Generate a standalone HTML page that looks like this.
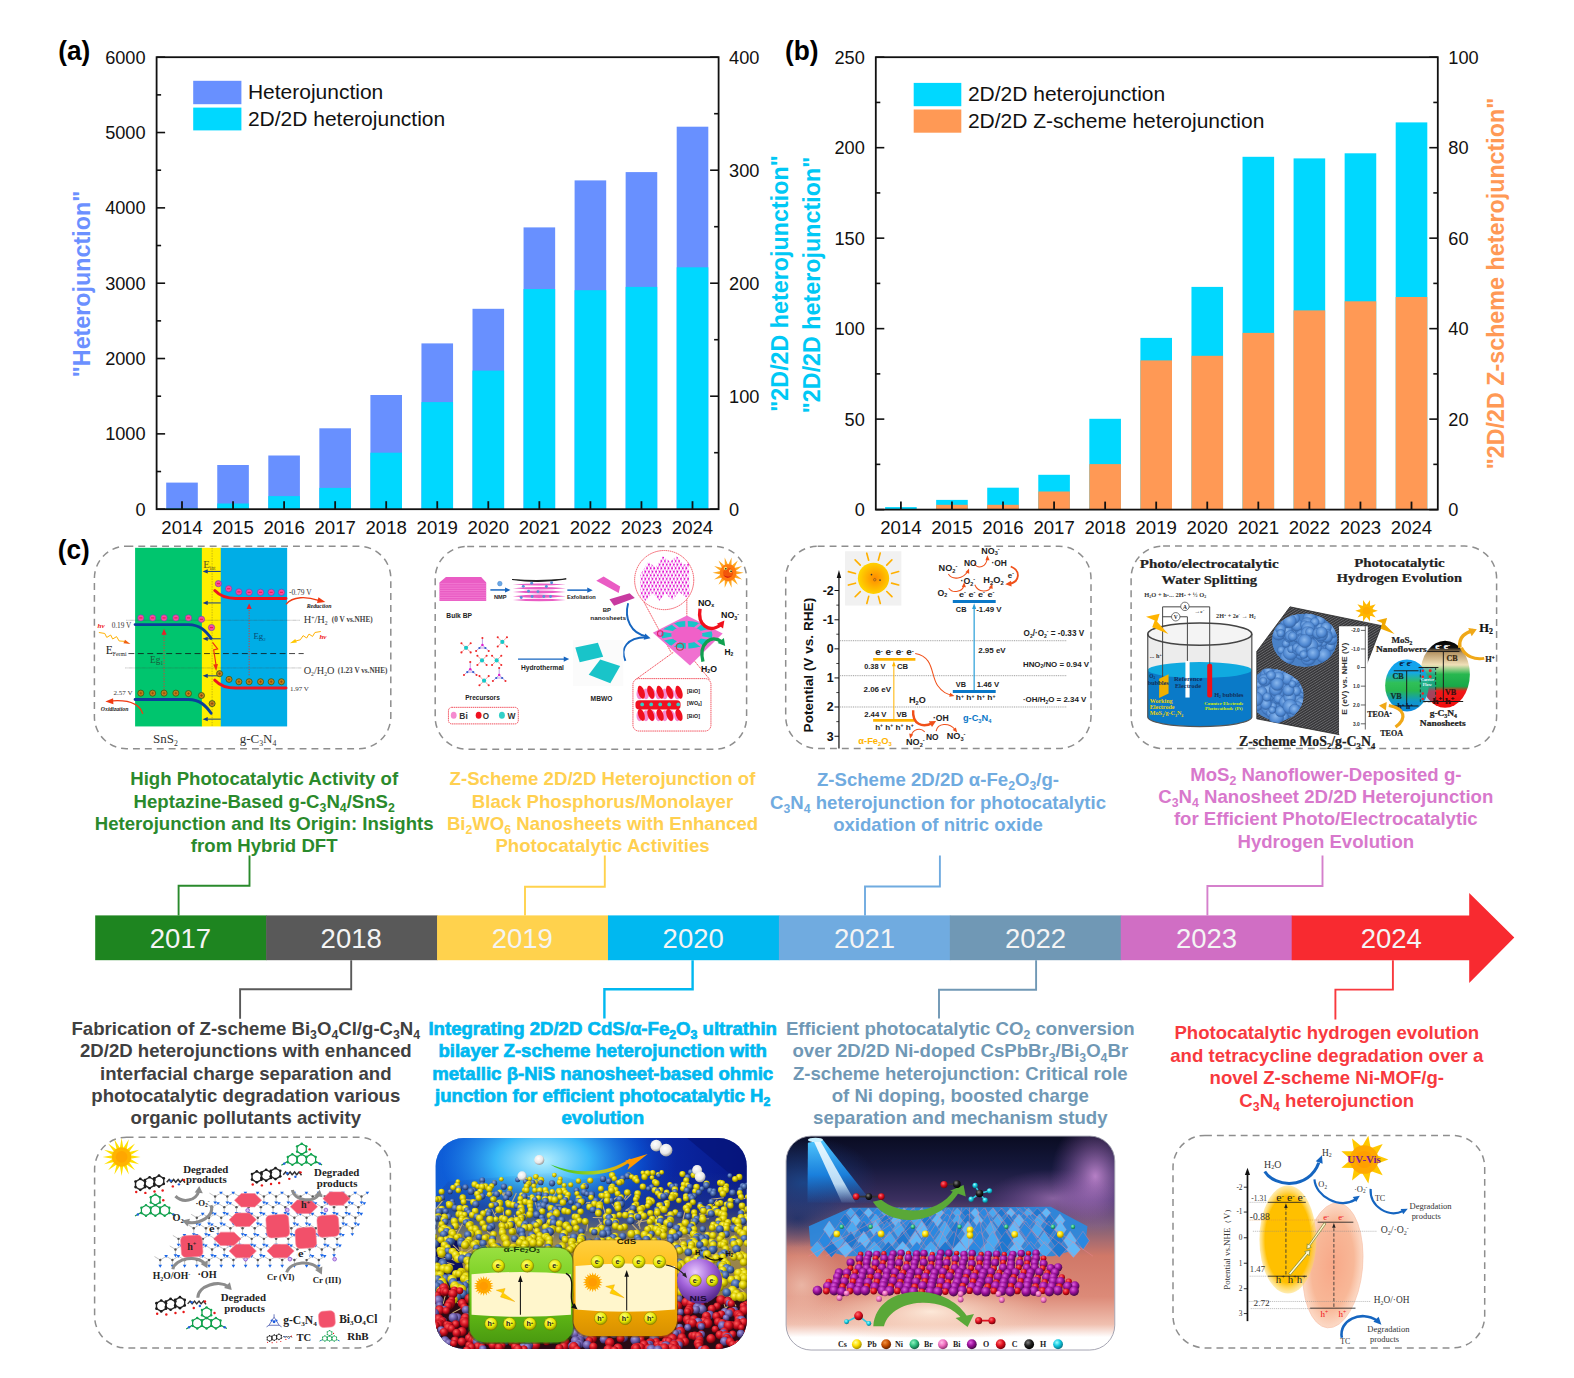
<!DOCTYPE html>
<html lang="en">
<head>
<meta charset="utf-8">
<title>2D/2D Z-scheme heterojunction timeline</title>
<style>
html,body{margin:0;padding:0;background:#fff;}
body{width:1574px;height:1378px;overflow:hidden;font-family:"Liberation Sans",Arial,sans-serif;}
svg{display:block;font-family:"Liberation Sans",Arial,sans-serif;}
.sf{font-family:"Liberation Serif","Times New Roman",serif;}
</style>
</head>
<body>
<svg width="1574" height="1378" viewBox="0 0 1574 1378">
<rect width="1574" height="1378" fill="#fff"/>
<rect x="166.2" y="482.6" width="31.6" height="26.6" fill="#6890ff"/>
<rect x="217.25" y="465" width="31.6" height="44.2" fill="#6890ff"/>
<rect x="268.3" y="455.5" width="31.6" height="53.7" fill="#6890ff"/>
<rect x="319.35" y="428.3" width="31.6" height="80.9" fill="#6890ff"/>
<rect x="370.4" y="395" width="31.6" height="114.2" fill="#6890ff"/>
<rect x="421.45" y="343.4" width="31.6" height="165.8" fill="#6890ff"/>
<rect x="472.5" y="308.8" width="31.6" height="200.4" fill="#6890ff"/>
<rect x="523.55" y="227.4" width="31.6" height="281.8" fill="#6890ff"/>
<rect x="574.6" y="180.4" width="31.6" height="328.8" fill="#6890ff"/>
<rect x="625.65" y="172.1" width="31.6" height="337.1" fill="#6890ff"/>
<rect x="676.7" y="126.7" width="31.6" height="382.5" fill="#6890ff"/>
<rect x="166.2" y="508.3" width="31.6" height="0.9" fill="#00d8ff"/>
<rect x="217.25" y="503.5" width="31.6" height="5.7" fill="#00d8ff"/>
<rect x="268.3" y="496.1" width="31.6" height="13.1" fill="#00d8ff"/>
<rect x="319.35" y="487.9" width="31.6" height="21.3" fill="#00d8ff"/>
<rect x="370.4" y="452.7" width="31.6" height="56.5" fill="#00d8ff"/>
<rect x="421.45" y="402.1" width="31.6" height="107.1" fill="#00d8ff"/>
<rect x="472.5" y="370.6" width="31.6" height="138.6" fill="#00d8ff"/>
<rect x="523.55" y="289" width="31.6" height="220.2" fill="#00d8ff"/>
<rect x="574.6" y="290.2" width="31.6" height="219" fill="#00d8ff"/>
<rect x="625.65" y="286.9" width="31.6" height="222.3" fill="#00d8ff"/>
<rect x="676.7" y="267.3" width="31.6" height="241.9" fill="#00d8ff"/>
<rect x="156.6" y="57.2" width="562" height="452" fill="none" stroke="#111" stroke-width="1.8"/>
<line x1="182" y1="509.2" x2="182" y2="501.2" stroke="#111" stroke-width="1.8"/>
<line x1="233.05" y1="509.2" x2="233.05" y2="501.2" stroke="#111" stroke-width="1.8"/>
<line x1="284.1" y1="509.2" x2="284.1" y2="501.2" stroke="#111" stroke-width="1.8"/>
<line x1="335.15" y1="509.2" x2="335.15" y2="501.2" stroke="#111" stroke-width="1.8"/>
<line x1="386.2" y1="509.2" x2="386.2" y2="501.2" stroke="#111" stroke-width="1.8"/>
<line x1="437.25" y1="509.2" x2="437.25" y2="501.2" stroke="#111" stroke-width="1.8"/>
<line x1="488.3" y1="509.2" x2="488.3" y2="501.2" stroke="#111" stroke-width="1.8"/>
<line x1="539.35" y1="509.2" x2="539.35" y2="501.2" stroke="#111" stroke-width="1.8"/>
<line x1="590.4" y1="509.2" x2="590.4" y2="501.2" stroke="#111" stroke-width="1.8"/>
<line x1="641.45" y1="509.2" x2="641.45" y2="501.2" stroke="#111" stroke-width="1.8"/>
<line x1="692.5" y1="509.2" x2="692.5" y2="501.2" stroke="#111" stroke-width="1.8"/>
<line x1="156.6" y1="509.2" x2="165.1" y2="509.2" stroke="#111" stroke-width="1.6"/>
<line x1="156.6" y1="471.53" x2="161.1" y2="471.53" stroke="#111" stroke-width="1.6"/>
<line x1="156.6" y1="433.87" x2="165.1" y2="433.87" stroke="#111" stroke-width="1.6"/>
<line x1="156.6" y1="396.2" x2="161.1" y2="396.2" stroke="#111" stroke-width="1.6"/>
<line x1="156.6" y1="358.53" x2="165.1" y2="358.53" stroke="#111" stroke-width="1.6"/>
<line x1="156.6" y1="320.87" x2="161.1" y2="320.87" stroke="#111" stroke-width="1.6"/>
<line x1="156.6" y1="283.2" x2="165.1" y2="283.2" stroke="#111" stroke-width="1.6"/>
<line x1="156.6" y1="245.53" x2="161.1" y2="245.53" stroke="#111" stroke-width="1.6"/>
<line x1="156.6" y1="207.87" x2="165.1" y2="207.87" stroke="#111" stroke-width="1.6"/>
<line x1="156.6" y1="170.2" x2="161.1" y2="170.2" stroke="#111" stroke-width="1.6"/>
<line x1="156.6" y1="132.53" x2="165.1" y2="132.53" stroke="#111" stroke-width="1.6"/>
<line x1="156.6" y1="94.87" x2="161.1" y2="94.87" stroke="#111" stroke-width="1.6"/>
<line x1="156.6" y1="57.2" x2="165.1" y2="57.2" stroke="#111" stroke-width="1.6"/>
<line x1="718.6" y1="509.2" x2="710.1" y2="509.2" stroke="#111" stroke-width="1.6"/>
<line x1="718.6" y1="452.7" x2="714.1" y2="452.7" stroke="#111" stroke-width="1.6"/>
<line x1="718.6" y1="396.2" x2="710.1" y2="396.2" stroke="#111" stroke-width="1.6"/>
<line x1="718.6" y1="339.7" x2="714.1" y2="339.7" stroke="#111" stroke-width="1.6"/>
<line x1="718.6" y1="283.2" x2="710.1" y2="283.2" stroke="#111" stroke-width="1.6"/>
<line x1="718.6" y1="226.7" x2="714.1" y2="226.7" stroke="#111" stroke-width="1.6"/>
<line x1="718.6" y1="170.2" x2="710.1" y2="170.2" stroke="#111" stroke-width="1.6"/>
<line x1="718.6" y1="113.7" x2="714.1" y2="113.7" stroke="#111" stroke-width="1.6"/>
<line x1="718.6" y1="57.2" x2="710.1" y2="57.2" stroke="#111" stroke-width="1.6"/>
<text x="145.6" y="515.6" text-anchor="end" font-size="18.2" fill="#111">0</text>
<text x="145.6" y="440.27" text-anchor="end" font-size="18.2" fill="#111">1000</text>
<text x="145.6" y="364.93" text-anchor="end" font-size="18.2" fill="#111">2000</text>
<text x="145.6" y="289.6" text-anchor="end" font-size="18.2" fill="#111">3000</text>
<text x="145.6" y="214.27" text-anchor="end" font-size="18.2" fill="#111">4000</text>
<text x="145.6" y="138.93" text-anchor="end" font-size="18.2" fill="#111">5000</text>
<text x="145.6" y="63.6" text-anchor="end" font-size="18.2" fill="#111">6000</text>
<text x="729.1" y="515.6" font-size="18.2" fill="#111">0</text>
<text x="729.1" y="402.6" font-size="18.2" fill="#111">100</text>
<text x="729.1" y="289.6" font-size="18.2" fill="#111">200</text>
<text x="729.1" y="176.6" font-size="18.2" fill="#111">300</text>
<text x="729.1" y="63.6" font-size="18.2" fill="#111">400</text>
<text x="182" y="533.8" text-anchor="middle" font-size="18.6" fill="#111">2014</text>
<text x="233.05" y="533.8" text-anchor="middle" font-size="18.6" fill="#111">2015</text>
<text x="284.1" y="533.8" text-anchor="middle" font-size="18.6" fill="#111">2016</text>
<text x="335.15" y="533.8" text-anchor="middle" font-size="18.6" fill="#111">2017</text>
<text x="386.2" y="533.8" text-anchor="middle" font-size="18.6" fill="#111">2018</text>
<text x="437.25" y="533.8" text-anchor="middle" font-size="18.6" fill="#111">2019</text>
<text x="488.3" y="533.8" text-anchor="middle" font-size="18.6" fill="#111">2020</text>
<text x="539.35" y="533.8" text-anchor="middle" font-size="18.6" fill="#111">2021</text>
<text x="590.4" y="533.8" text-anchor="middle" font-size="18.6" fill="#111">2022</text>
<text x="641.45" y="533.8" text-anchor="middle" font-size="18.6" fill="#111">2023</text>
<text x="692.5" y="533.8" text-anchor="middle" font-size="18.6" fill="#111">2024</text>
<rect x="193.2" y="80.8" width="48.2" height="23.4" fill="#6890ff"/>
<text x="247.9" y="99.3" font-size="21" fill="#111">Heterojunction</text>
<rect x="193.2" y="107.6" width="48.2" height="22.8" fill="#00d8ff"/>
<text x="247.9" y="125.5" font-size="21" fill="#111">2D/2D heterojunction</text>
<rect x="885.1" y="507.1" width="31.6" height="2.5" fill="#00d8ff"/>
<rect x="936.16" y="499.9" width="31.6" height="9.7" fill="#00d8ff"/>
<rect x="987.22" y="487.7" width="31.6" height="21.9" fill="#00d8ff"/>
<rect x="1038.28" y="474.8" width="31.6" height="34.8" fill="#00d8ff"/>
<rect x="1089.34" y="418.8" width="31.6" height="90.8" fill="#00d8ff"/>
<rect x="1140.4" y="337.9" width="31.6" height="171.7" fill="#00d8ff"/>
<rect x="1191.46" y="286.9" width="31.6" height="222.7" fill="#00d8ff"/>
<rect x="1242.52" y="156.8" width="31.6" height="352.8" fill="#00d8ff"/>
<rect x="1293.58" y="158.4" width="31.6" height="351.2" fill="#00d8ff"/>
<rect x="1344.64" y="153.3" width="31.6" height="356.3" fill="#00d8ff"/>
<rect x="1395.7" y="122.4" width="31.6" height="387.2" fill="#00d8ff"/>
<rect x="936.16" y="504.8" width="31.6" height="4.8" fill="#ff9955"/>
<rect x="987.22" y="504.8" width="31.6" height="4.8" fill="#ff9955"/>
<rect x="1038.28" y="491.5" width="31.6" height="18.1" fill="#ff9955"/>
<rect x="1089.34" y="464.1" width="31.6" height="45.5" fill="#ff9955"/>
<rect x="1140.4" y="360.4" width="31.6" height="149.2" fill="#ff9955"/>
<rect x="1191.46" y="355.8" width="31.6" height="153.8" fill="#ff9955"/>
<rect x="1242.52" y="332.9" width="31.6" height="176.7" fill="#ff9955"/>
<rect x="1293.58" y="310.4" width="31.6" height="199.2" fill="#ff9955"/>
<rect x="1344.64" y="301.3" width="31.6" height="208.3" fill="#ff9955"/>
<rect x="1395.7" y="297" width="31.6" height="212.6" fill="#ff9955"/>
<rect x="875.8" y="57.2" width="562" height="452.4" fill="none" stroke="#111" stroke-width="1.8"/>
<line x1="900.9" y1="509.6" x2="900.9" y2="501.6" stroke="#111" stroke-width="1.8"/>
<line x1="951.96" y1="509.6" x2="951.96" y2="501.6" stroke="#111" stroke-width="1.8"/>
<line x1="1003.02" y1="509.6" x2="1003.02" y2="501.6" stroke="#111" stroke-width="1.8"/>
<line x1="1054.08" y1="509.6" x2="1054.08" y2="501.6" stroke="#111" stroke-width="1.8"/>
<line x1="1105.14" y1="509.6" x2="1105.14" y2="501.6" stroke="#111" stroke-width="1.8"/>
<line x1="1156.2" y1="509.6" x2="1156.2" y2="501.6" stroke="#111" stroke-width="1.8"/>
<line x1="1207.26" y1="509.6" x2="1207.26" y2="501.6" stroke="#111" stroke-width="1.8"/>
<line x1="1258.32" y1="509.6" x2="1258.32" y2="501.6" stroke="#111" stroke-width="1.8"/>
<line x1="1309.38" y1="509.6" x2="1309.38" y2="501.6" stroke="#111" stroke-width="1.8"/>
<line x1="1360.44" y1="509.6" x2="1360.44" y2="501.6" stroke="#111" stroke-width="1.8"/>
<line x1="1411.5" y1="509.6" x2="1411.5" y2="501.6" stroke="#111" stroke-width="1.8"/>
<line x1="875.8" y1="509.6" x2="884.3" y2="509.6" stroke="#111" stroke-width="1.6"/>
<line x1="875.8" y1="464.36" x2="880.3" y2="464.36" stroke="#111" stroke-width="1.6"/>
<line x1="875.8" y1="419.12" x2="884.3" y2="419.12" stroke="#111" stroke-width="1.6"/>
<line x1="875.8" y1="373.88" x2="880.3" y2="373.88" stroke="#111" stroke-width="1.6"/>
<line x1="875.8" y1="328.64" x2="884.3" y2="328.64" stroke="#111" stroke-width="1.6"/>
<line x1="875.8" y1="283.4" x2="880.3" y2="283.4" stroke="#111" stroke-width="1.6"/>
<line x1="875.8" y1="238.16" x2="884.3" y2="238.16" stroke="#111" stroke-width="1.6"/>
<line x1="875.8" y1="192.92" x2="880.3" y2="192.92" stroke="#111" stroke-width="1.6"/>
<line x1="875.8" y1="147.68" x2="884.3" y2="147.68" stroke="#111" stroke-width="1.6"/>
<line x1="875.8" y1="102.44" x2="880.3" y2="102.44" stroke="#111" stroke-width="1.6"/>
<line x1="875.8" y1="57.2" x2="884.3" y2="57.2" stroke="#111" stroke-width="1.6"/>
<line x1="1437.8" y1="509.6" x2="1429.3" y2="509.6" stroke="#111" stroke-width="1.6"/>
<line x1="1437.8" y1="464.36" x2="1433.3" y2="464.36" stroke="#111" stroke-width="1.6"/>
<line x1="1437.8" y1="419.12" x2="1429.3" y2="419.12" stroke="#111" stroke-width="1.6"/>
<line x1="1437.8" y1="373.88" x2="1433.3" y2="373.88" stroke="#111" stroke-width="1.6"/>
<line x1="1437.8" y1="328.64" x2="1429.3" y2="328.64" stroke="#111" stroke-width="1.6"/>
<line x1="1437.8" y1="283.4" x2="1433.3" y2="283.4" stroke="#111" stroke-width="1.6"/>
<line x1="1437.8" y1="238.16" x2="1429.3" y2="238.16" stroke="#111" stroke-width="1.6"/>
<line x1="1437.8" y1="192.92" x2="1433.3" y2="192.92" stroke="#111" stroke-width="1.6"/>
<line x1="1437.8" y1="147.68" x2="1429.3" y2="147.68" stroke="#111" stroke-width="1.6"/>
<line x1="1437.8" y1="102.44" x2="1433.3" y2="102.44" stroke="#111" stroke-width="1.6"/>
<line x1="1437.8" y1="57.2" x2="1429.3" y2="57.2" stroke="#111" stroke-width="1.6"/>
<text x="864.8" y="516" text-anchor="end" font-size="18.2" fill="#111">0</text>
<text x="864.8" y="425.52" text-anchor="end" font-size="18.2" fill="#111">50</text>
<text x="864.8" y="335.04" text-anchor="end" font-size="18.2" fill="#111">100</text>
<text x="864.8" y="244.56" text-anchor="end" font-size="18.2" fill="#111">150</text>
<text x="864.8" y="154.08" text-anchor="end" font-size="18.2" fill="#111">200</text>
<text x="864.8" y="63.6" text-anchor="end" font-size="18.2" fill="#111">250</text>
<text x="1448.3" y="516" font-size="18.2" fill="#111">0</text>
<text x="1448.3" y="425.52" font-size="18.2" fill="#111">20</text>
<text x="1448.3" y="335.04" font-size="18.2" fill="#111">40</text>
<text x="1448.3" y="244.56" font-size="18.2" fill="#111">60</text>
<text x="1448.3" y="154.08" font-size="18.2" fill="#111">80</text>
<text x="1448.3" y="63.6" font-size="18.2" fill="#111">100</text>
<text x="900.9" y="534.2" text-anchor="middle" font-size="18.6" fill="#111">2014</text>
<text x="951.96" y="534.2" text-anchor="middle" font-size="18.6" fill="#111">2015</text>
<text x="1003.02" y="534.2" text-anchor="middle" font-size="18.6" fill="#111">2016</text>
<text x="1054.08" y="534.2" text-anchor="middle" font-size="18.6" fill="#111">2017</text>
<text x="1105.14" y="534.2" text-anchor="middle" font-size="18.6" fill="#111">2018</text>
<text x="1156.2" y="534.2" text-anchor="middle" font-size="18.6" fill="#111">2019</text>
<text x="1207.26" y="534.2" text-anchor="middle" font-size="18.6" fill="#111">2020</text>
<text x="1258.32" y="534.2" text-anchor="middle" font-size="18.6" fill="#111">2021</text>
<text x="1309.38" y="534.2" text-anchor="middle" font-size="18.6" fill="#111">2022</text>
<text x="1360.44" y="534.2" text-anchor="middle" font-size="18.6" fill="#111">2023</text>
<text x="1411.5" y="534.2" text-anchor="middle" font-size="18.6" fill="#111">2024</text>
<rect x="913.7" y="82.9" width="47.6" height="23.3" fill="#00d8ff"/>
<text x="967.9" y="101.4" font-size="21" fill="#111">2D/2D heterojunction</text>
<rect x="913.7" y="109.5" width="47.6" height="23.2" fill="#ff9955"/>
<text x="967.9" y="128" font-size="21" fill="#111">2D/2D Z-scheme heterojunction</text>
<text x="58.2" y="60" font-size="27" font-weight="bold" fill="#000" textLength="32" lengthAdjust="spacingAndGlyphs">(a)</text>
<text x="785" y="60" font-size="27" font-weight="bold" fill="#000" textLength="33.6" lengthAdjust="spacingAndGlyphs">(b)</text>
<text x="57.8" y="558.6" font-size="27" font-weight="bold" fill="#000" textLength="32" lengthAdjust="spacingAndGlyphs">(c)</text>
<text transform="translate(89.5,284) rotate(-90)" text-anchor="middle" font-size="23.3" font-weight="bold" fill="#6b90ff">"Heterojunction"</text>
<text transform="translate(787.5,283.5) rotate(-90)" text-anchor="middle" font-size="23.3" font-weight="bold" fill="#00c8f5">"2D/2D heterojunction"</text>
<text transform="translate(819.5,285) rotate(-90)" text-anchor="middle" font-size="23.3" font-weight="bold" fill="#00c8f5">"2D/2D heterojunction"</text>
<text transform="translate(1503.5,283.5) rotate(-90)" text-anchor="middle" font-size="23.3" font-weight="bold" fill="#ff9955">"2D/2D Z-scheme heterojunction"</text>
<rect x="95.2" y="915.4" width="171.43" height="44.8" fill="#1e8520"/>
<rect x="266.13" y="915.4" width="171.43" height="44.8" fill="#595959"/>
<rect x="437.06" y="915.4" width="171.43" height="44.8" fill="#ffd24d"/>
<rect x="607.99" y="915.4" width="171.43" height="44.8" fill="#00b8f0"/>
<rect x="778.92" y="915.4" width="171.43" height="44.8" fill="#70abe0"/>
<rect x="949.85" y="915.4" width="171.43" height="44.8" fill="#7098b5"/>
<rect x="1120.78" y="915.4" width="171.43" height="44.8" fill="#d06ec4"/>
<polygon points="1291.71,915.4 1469.2,915.4 1469.2,893 1514.3,937.6 1469.2,983 1469.2,960.2 1291.71,960.2" fill="#f82a30"/>
<text x="180.4" y="948.3" text-anchor="middle" font-size="27.5" fill="#f4f4f4">2017</text>
<text x="351.2" y="948.3" text-anchor="middle" font-size="27.5" fill="#f4f4f4">2018</text>
<text x="522.3" y="948.3" text-anchor="middle" font-size="27.5" fill="#f4f4f4">2019</text>
<text x="693.2" y="948.3" text-anchor="middle" font-size="27.5" fill="#f4f4f4">2020</text>
<text x="864.5" y="948.3" text-anchor="middle" font-size="27.5" fill="#f4f4f4">2021</text>
<text x="1035.5" y="948.3" text-anchor="middle" font-size="27.5" fill="#f4f4f4">2022</text>
<text x="1206.5" y="948.3" text-anchor="middle" font-size="27.5" fill="#f4f4f4">2023</text>
<text x="1391.3" y="948.3" text-anchor="middle" font-size="27.5" fill="#f4f4f4">2024</text>
<path d="M178.6 915.4 V885.8 H249.5 V855.5" fill="none" stroke="#2a8a2c" stroke-width="1.9"/>
<path d="M525 915.4 V886.7 H604.8 V855.5" fill="none" stroke="#ffd24d" stroke-width="1.9"/>
<path d="M865 915.4 V886.5 H939.9 V855.5" fill="none" stroke="#70abe0" stroke-width="1.9"/>
<path d="M1207.4 915.4 V886 H1322.5 V855.5" fill="none" stroke="#d580cc" stroke-width="1.9"/>
<path d="M351.2 960.2 V989.2 H240.1 V1018.8" fill="none" stroke="#595959" stroke-width="1.9"/>
<path d="M692.6 960.2 V989.2 H604.4 V1018.6" fill="none" stroke="#00b8f0" stroke-width="2.4"/>
<path d="M1036.1 960.2 V989.7 H939 V1018.6" fill="none" stroke="#7098b5" stroke-width="1.9"/>
<path d="M1392.9 960.2 V989.6 H1335.4 V1019.6" fill="none" stroke="#f8393e" stroke-width="1.9"/>
<text x="264.2" y="785.1" text-anchor="middle" font-size="18.6" font-weight="bold" fill="#2a8a2c">High Photocatalytic Activity of</text>
<text x="264.2" y="807.6" text-anchor="middle" font-size="18.6" font-weight="bold" fill="#2a8a2c">Heptazine-Based g-C<tspan dy="4.2" font-size="12.3">3</tspan><tspan dy="-4.2" font-size="1">&#8203;</tspan>N<tspan dy="4.2" font-size="12.3">4</tspan><tspan dy="-4.2" font-size="1">&#8203;</tspan>/SnS<tspan dy="4.2" font-size="12.3">2</tspan><tspan dy="-4.2" font-size="1">&#8203;</tspan></text>
<text x="264.2" y="829.9" text-anchor="middle" font-size="18.6" font-weight="bold" fill="#2a8a2c">Heterojunction and Its Origin: Insights</text>
<text x="264.2" y="852.3" text-anchor="middle" font-size="18.6" font-weight="bold" fill="#2a8a2c">from Hybrid DFT</text>
<text x="602.5" y="785.1" text-anchor="middle" font-size="18.6" font-weight="bold" fill="#ffd050">Z-Scheme 2D/2D Heterojunction of</text>
<text x="602.5" y="807.6" text-anchor="middle" font-size="18.6" font-weight="bold" fill="#ffd050">Black Phosphorus/Monolayer</text>
<text x="602.5" y="829.9" text-anchor="middle" font-size="18.6" font-weight="bold" fill="#ffd050">Bi<tspan dy="4.2" font-size="12.3">2</tspan><tspan dy="-4.2" font-size="1">&#8203;</tspan>WO<tspan dy="4.2" font-size="12.3">6</tspan><tspan dy="-4.2" font-size="1">&#8203;</tspan> Nanosheets with Enhanced</text>
<text x="602.5" y="852.3" text-anchor="middle" font-size="18.6" font-weight="bold" fill="#ffd050">Photocatalytic Activities</text>
<text x="938" y="786.1" text-anchor="middle" font-size="18.6" font-weight="bold" fill="#70abe0">Z-Scheme 2D/2D α-Fe<tspan dy="4.2" font-size="12.3">2</tspan><tspan dy="-4.2" font-size="1">&#8203;</tspan>O<tspan dy="4.2" font-size="12.3">3</tspan><tspan dy="-4.2" font-size="1">&#8203;</tspan>/g-</text>
<text x="938" y="808.5" text-anchor="middle" font-size="18.6" font-weight="bold" fill="#70abe0">C<tspan dy="4.2" font-size="12.3">3</tspan><tspan dy="-4.2" font-size="1">&#8203;</tspan>N<tspan dy="4.2" font-size="12.3">4</tspan><tspan dy="-4.2" font-size="1">&#8203;</tspan> heterojunction for photocatalytic</text>
<text x="938" y="830.9" text-anchor="middle" font-size="18.6" font-weight="bold" fill="#70abe0">oxidation of nitric oxide</text>
<text x="1325.8" y="780.5" text-anchor="middle" font-size="18.6" font-weight="bold" fill="#d878cc">MoS<tspan dy="4.2" font-size="12.3">2</tspan><tspan dy="-4.2" font-size="1">&#8203;</tspan> Nanoflower-Deposited g-</text>
<text x="1325.8" y="802.9" text-anchor="middle" font-size="18.6" font-weight="bold" fill="#d878cc">C<tspan dy="4.2" font-size="12.3">3</tspan><tspan dy="-4.2" font-size="1">&#8203;</tspan>N<tspan dy="4.2" font-size="12.3">4</tspan><tspan dy="-4.2" font-size="1">&#8203;</tspan> Nanosheet 2D/2D Heterojunction</text>
<text x="1325.8" y="825.3" text-anchor="middle" font-size="18.6" font-weight="bold" fill="#d878cc">for Efficient Photo/Electrocatalytic</text>
<text x="1325.8" y="847.6" text-anchor="middle" font-size="18.6" font-weight="bold" fill="#d878cc">Hydrogen Evolution</text>
<text x="245.8" y="1034.8" text-anchor="middle" font-size="18.6" font-weight="bold" fill="#404040">Fabrication of Z-scheme Bi<tspan dy="4.2" font-size="12.3">3</tspan><tspan dy="-4.2" font-size="1">&#8203;</tspan>O<tspan dy="4.2" font-size="12.3">4</tspan><tspan dy="-4.2" font-size="1">&#8203;</tspan>Cl/g-C<tspan dy="4.2" font-size="12.3">3</tspan><tspan dy="-4.2" font-size="1">&#8203;</tspan>N<tspan dy="4.2" font-size="12.3">4</tspan><tspan dy="-4.2" font-size="1">&#8203;</tspan></text>
<text x="245.8" y="1057.2" text-anchor="middle" font-size="18.6" font-weight="bold" fill="#404040">2D/2D heterojunctions with enhanced</text>
<text x="245.8" y="1079.6" text-anchor="middle" font-size="18.6" font-weight="bold" fill="#404040">interfacial charge separation and</text>
<text x="245.8" y="1102" text-anchor="middle" font-size="18.6" font-weight="bold" fill="#404040">photocatalytic degradation various</text>
<text x="245.8" y="1124.4" text-anchor="middle" font-size="18.6" font-weight="bold" fill="#404040">organic pollutants activity</text>
<text x="602.7" y="1035" text-anchor="middle" font-size="18.6" font-weight="bold" fill="#00b8f0" stroke="#00b8f0" stroke-width="0.7">Integrating 2D/2D CdS/α-Fe<tspan dy="4.2" font-size="12.3">2</tspan><tspan dy="-4.2" font-size="1">&#8203;</tspan>O<tspan dy="4.2" font-size="12.3">3</tspan><tspan dy="-4.2" font-size="1">&#8203;</tspan> ultrathin</text>
<text x="602.7" y="1057.3" text-anchor="middle" font-size="18.6" font-weight="bold" fill="#00b8f0" stroke="#00b8f0" stroke-width="0.7">bilayer Z-scheme heterojunction with</text>
<text x="602.7" y="1079.5" text-anchor="middle" font-size="18.6" font-weight="bold" fill="#00b8f0" stroke="#00b8f0" stroke-width="0.7">metallic β-NiS nanosheet-based ohmic</text>
<text x="602.7" y="1101.7" text-anchor="middle" font-size="18.6" font-weight="bold" fill="#00b8f0" stroke="#00b8f0" stroke-width="0.7">junction for efficient photocatalytic H<tspan dy="4.2" font-size="12.3">2</tspan><tspan dy="-4.2" font-size="1">&#8203;</tspan></text>
<text x="602.7" y="1123.9" text-anchor="middle" font-size="18.6" font-weight="bold" fill="#00b8f0" stroke="#00b8f0" stroke-width="0.7">evolution</text>
<text x="960.3" y="1035" text-anchor="middle" font-size="18.6" font-weight="bold" fill="#7098b5">Efficient photocatalytic CO<tspan dy="4.2" font-size="12.3">2</tspan><tspan dy="-4.2" font-size="1">&#8203;</tspan> conversion</text>
<text x="960.3" y="1057.4" text-anchor="middle" font-size="18.6" font-weight="bold" fill="#7098b5">over 2D/2D Ni-doped CsPbBr<tspan dy="4.2" font-size="12.3">3</tspan><tspan dy="-4.2" font-size="1">&#8203;</tspan>/Bi<tspan dy="4.2" font-size="12.3">3</tspan><tspan dy="-4.2" font-size="1">&#8203;</tspan>O<tspan dy="4.2" font-size="12.3">4</tspan><tspan dy="-4.2" font-size="1">&#8203;</tspan>Br</text>
<text x="960.3" y="1079.5" text-anchor="middle" font-size="18.6" font-weight="bold" fill="#7098b5">Z-scheme heterojunction: Critical role</text>
<text x="960.3" y="1101.8" text-anchor="middle" font-size="18.6" font-weight="bold" fill="#7098b5">of Ni doping, boosted charge</text>
<text x="960.3" y="1123.9" text-anchor="middle" font-size="18.6" font-weight="bold" fill="#7098b5">separation and mechanism study</text>
<text x="1326.8" y="1039.4" text-anchor="middle" font-size="18.6" font-weight="bold" fill="#f8393e">Photocatalytic hydrogen evolution</text>
<text x="1326.8" y="1062" text-anchor="middle" font-size="18.6" font-weight="bold" fill="#f8393e">and tetracycline degradation over a</text>
<text x="1326.8" y="1084.4" text-anchor="middle" font-size="18.6" font-weight="bold" fill="#f8393e">novel Z-scheme Ni-MOF/g-</text>
<text x="1326.8" y="1106.6" text-anchor="middle" font-size="18.6" font-weight="bold" fill="#f8393e">C<tspan dy="4.2" font-size="12.3">3</tspan><tspan dy="-4.2" font-size="1">&#8203;</tspan>N<tspan dy="4.2" font-size="12.3">4</tspan><tspan dy="-4.2" font-size="1">&#8203;</tspan> heterojunction</text>
<rect x="94.4" y="546.2" width="296.4" height="202.5" rx="32" ry="32" fill="none" stroke="#8e8e8e" stroke-width="1.5" stroke-dasharray="6.9 5"/>
<g transform="translate(90,535) scale(0.19695)">
<rect x="229" y="65" width="340" height="907" fill="#00c56e"/>
<rect x="568" y="65" width="97" height="907" fill="#ffee00"/>
<rect x="664" y="65" width="337" height="907" fill="#00ade6"/>
<line x1="620" y1="65" x2="620" y2="972" stroke="#8a7a20" stroke-width="2.5" stroke-dasharray="7 6"/>
<line x1="185" y1="433" x2="1065" y2="433" stroke="#444" stroke-width="2.5" stroke-dasharray="3 3"/>
<line x1="180" y1="675" x2="1075" y2="675" stroke="#444" stroke-width="2.5" stroke-dasharray="3 3"/>
<line x1="195" y1="602" x2="1085" y2="602" stroke="#111" stroke-width="4" stroke-dasharray="30 18"/>
<line x1="376" y1="785" x2="376" y2="500" stroke="#e03a30" stroke-width="5" stroke-dasharray="6 7"/>
<polygon points="376,476 389,506 363,506" fill="#e8202a"/>
<line x1="808" y1="712" x2="808" y2="372" stroke="#e03a30" stroke-width="5" stroke-dasharray="6 7"/>
<polygon points="808,346 821,376 795,376" fill="#e8202a"/>
<path d="M229 455 H500 C560 455 590 490 615 525" fill="none" stroke="#0b3f9c" stroke-width="15" stroke-linecap="round"/>
<path d="M229 835 H500 C560 835 590 870 615 905" fill="none" stroke="#0b3f9c" stroke-width="15" stroke-linecap="round"/>
<path d="M634 282 C660 310 690 322 740 322 H995" fill="none" stroke="#ec1520" stroke-width="15" stroke-linecap="round"/>
<path d="M634 737 C660 765 690 777 740 777 H995" fill="none" stroke="#ec1520" stroke-width="15" stroke-linecap="round"/>
<line x1="664" y1="185" x2="595" y2="185" stroke="#123a8c" stroke-width="5"/>
<polygon points="572,185 598,174 598,196" fill="#123a8c"/>
<line x1="664" y1="345" x2="595" y2="345" stroke="#123a8c" stroke-width="5"/>
<polygon points="572,345 598,334 598,356" fill="#123a8c"/>
<line x1="664" y1="527" x2="595" y2="527" stroke="#123a8c" stroke-width="5"/>
<polygon points="572,527 598,516 598,538" fill="#123a8c"/>
<line x1="664" y1="715" x2="595" y2="715" stroke="#123a8c" stroke-width="5"/>
<polygon points="572,715 598,704 598,726" fill="#123a8c"/>
<line x1="664" y1="935" x2="595" y2="935" stroke="#123a8c" stroke-width="5"/>
<polygon points="572,935 598,924 598,946" fill="#123a8c"/>
<circle cx="258" cy="421" r="16" fill="#ff4a9a" stroke="#5a48b8" stroke-width="3"/>
<line x1="250" y1="421" x2="266" y2="421" stroke="#d01030" stroke-width="4"/>
<circle cx="318" cy="421" r="16" fill="#ff4a9a" stroke="#5a48b8" stroke-width="3"/>
<line x1="310" y1="421" x2="326" y2="421" stroke="#d01030" stroke-width="4"/>
<circle cx="376" cy="421" r="16" fill="#ff4a9a" stroke="#5a48b8" stroke-width="3"/>
<line x1="368" y1="421" x2="384" y2="421" stroke="#d01030" stroke-width="4"/>
<circle cx="436" cy="421" r="16" fill="#ff4a9a" stroke="#5a48b8" stroke-width="3"/>
<line x1="428" y1="421" x2="444" y2="421" stroke="#d01030" stroke-width="4"/>
<circle cx="500" cy="421" r="16" fill="#ff4a9a" stroke="#5a48b8" stroke-width="3"/>
<line x1="492" y1="421" x2="508" y2="421" stroke="#d01030" stroke-width="4"/>
<circle cx="566" cy="428" r="16" fill="#ff4a9a" stroke="#5a48b8" stroke-width="3"/>
<line x1="558" y1="428" x2="574" y2="428" stroke="#d01030" stroke-width="4"/>
<circle cx="617" cy="470" r="16" fill="#ff4a9a" stroke="#5a48b8" stroke-width="3"/>
<line x1="609" y1="470" x2="625" y2="470" stroke="#d01030" stroke-width="4"/>
<circle cx="652" cy="247" r="16" fill="#ff4a9a" stroke="#5a48b8" stroke-width="3"/>
<line x1="644" y1="247" x2="660" y2="247" stroke="#d01030" stroke-width="4"/>
<circle cx="704" cy="273" r="16" fill="#ff4a9a" stroke="#5a48b8" stroke-width="3"/>
<line x1="696" y1="273" x2="712" y2="273" stroke="#d01030" stroke-width="4"/>
<circle cx="756" cy="289" r="16" fill="#ff4a9a" stroke="#5a48b8" stroke-width="3"/>
<line x1="748" y1="289" x2="764" y2="289" stroke="#d01030" stroke-width="4"/>
<circle cx="808" cy="291" r="16" fill="#ff4a9a" stroke="#5a48b8" stroke-width="3"/>
<line x1="800" y1="291" x2="816" y2="291" stroke="#d01030" stroke-width="4"/>
<circle cx="866" cy="291" r="16" fill="#ff4a9a" stroke="#5a48b8" stroke-width="3"/>
<line x1="858" y1="291" x2="874" y2="291" stroke="#d01030" stroke-width="4"/>
<circle cx="920" cy="291" r="16" fill="#ff4a9a" stroke="#5a48b8" stroke-width="3"/>
<line x1="912" y1="291" x2="928" y2="291" stroke="#d01030" stroke-width="4"/>
<circle cx="972" cy="291" r="16" fill="#ff4a9a" stroke="#5a48b8" stroke-width="3"/>
<line x1="964" y1="291" x2="980" y2="291" stroke="#d01030" stroke-width="4"/>
<circle cx="258" cy="803" r="15.5" fill="#c8801a" stroke="#2f5a1a" stroke-width="4"/>
<path d="M251 803 h14 M258 796 v14" stroke="#7a3a08" stroke-width="3"/>
<circle cx="318" cy="803" r="15.5" fill="#c8801a" stroke="#2f5a1a" stroke-width="4"/>
<path d="M311 803 h14 M318 796 v14" stroke="#7a3a08" stroke-width="3"/>
<circle cx="376" cy="803" r="15.5" fill="#c8801a" stroke="#2f5a1a" stroke-width="4"/>
<path d="M369 803 h14 M376 796 v14" stroke="#7a3a08" stroke-width="3"/>
<circle cx="436" cy="803" r="15.5" fill="#c8801a" stroke="#2f5a1a" stroke-width="4"/>
<path d="M429 803 h14 M436 796 v14" stroke="#7a3a08" stroke-width="3"/>
<circle cx="500" cy="805" r="15.5" fill="#c8801a" stroke="#2f5a1a" stroke-width="4"/>
<path d="M493 805 h14 M500 798 v14" stroke="#7a3a08" stroke-width="3"/>
<circle cx="566" cy="815" r="15.5" fill="#c8801a" stroke="#2f5a1a" stroke-width="4"/>
<path d="M559 815 h14 M566 808 v14" stroke="#7a3a08" stroke-width="3"/>
<circle cx="620" cy="856" r="15.5" fill="#c8801a" stroke="#2f5a1a" stroke-width="4"/>
<path d="M613 856 h14 M620 849 v14" stroke="#7a3a08" stroke-width="3"/>
<circle cx="658" cy="704" r="15.5" fill="#c8801a" stroke="#2f5a1a" stroke-width="4"/>
<path d="M651 704 h14 M658 697 v14" stroke="#7a3a08" stroke-width="3"/>
<circle cx="706" cy="733" r="15.5" fill="#c8801a" stroke="#2f5a1a" stroke-width="4"/>
<path d="M699 733 h14 M706 726 v14" stroke="#7a3a08" stroke-width="3"/>
<circle cx="756" cy="745" r="15.5" fill="#c8801a" stroke="#2f5a1a" stroke-width="4"/>
<path d="M749 745 h14 M756 738 v14" stroke="#7a3a08" stroke-width="3"/>
<circle cx="808" cy="745" r="15.5" fill="#c8801a" stroke="#2f5a1a" stroke-width="4"/>
<path d="M801 745 h14 M808 738 v14" stroke="#7a3a08" stroke-width="3"/>
<circle cx="866" cy="745" r="15.5" fill="#c8801a" stroke="#2f5a1a" stroke-width="4"/>
<path d="M859 745 h14 M866 738 v14" stroke="#7a3a08" stroke-width="3"/>
<circle cx="920" cy="745" r="15.5" fill="#c8801a" stroke="#2f5a1a" stroke-width="4"/>
<path d="M913 745 h14 M920 738 v14" stroke="#7a3a08" stroke-width="3"/>
<circle cx="972" cy="745" r="15.5" fill="#c8801a" stroke="#2f5a1a" stroke-width="4"/>
<path d="M965 745 h14 M972 738 v14" stroke="#7a3a08" stroke-width="3"/>
<path d="M622 545 L648 578 L628 584 L640 660" fill="none" stroke="#f03010" stroke-width="6"/>
<polygon points="641,690 625.67,657.37 649.55,654.97" fill="#f03010"/>
<path d="M995 352 C1030 310 1100 312 1160 332" fill="none" stroke="#f03a12" stroke-width="7"/>
<polygon points="1195,340 1152.53,344.64 1159.95,315.57" fill="#f03a12"/>
<path d="M268 908 C250 850 180 838 115 842" fill="none" stroke="#f03a12" stroke-width="7"/>
<polygon points="78,846 117.2,829.02 118.7,858.98" fill="#f03a12"/>
<path d="M45 495 L75 500 L85 520 L105 508 L115 528 L135 516 L148 538 L175 540" fill="none" stroke="#ffb000" stroke-width="5"/>
<polygon points="205,554 169.79,549.97 177.58,531.55" fill="#f06010"/>
<path d="M1172 490 L1142 495 L1130 515 L1112 503 L1100 523 L1082 511 L1068 532 L1045 538" fill="none" stroke="#ffb000" stroke-width="5"/>
<polygon points="1015,550 1042.42,527.55 1050.21,545.97" fill="#ffc800"/>
<text x="575" y="168" font-size="54.45" fill="#5a5a20" class="sf" textLength="62" lengthAdjust="spacingAndGlyphs">E<tspan dy="0.3em" font-size="50%">int</tspan><tspan dy="-0.3em" font-size="50%">&#8203;</tspan></text>
<text x="1010" y="304" font-size="37.86" fill="#333" class="sf" textLength="115" lengthAdjust="spacingAndGlyphs">-0.79 V</text>
<text x="110" y="474" font-size="36.98" fill="#333" class="sf" textLength="100" lengthAdjust="spacingAndGlyphs">0.19 V</text>
<text x="120" y="814" font-size="35.5" fill="#333" class="sf" textLength="96" lengthAdjust="spacingAndGlyphs">2.57 V</text>
<text x="1015" y="794" font-size="35.5" fill="#333" class="sf" textLength="96" lengthAdjust="spacingAndGlyphs">1.97 V</text>
<text x="1085" y="448" font-size="52.87" fill="#333" class="sf" textLength="122" lengthAdjust="spacingAndGlyphs">H<tspan dy="-0.55em" font-size="55%">+</tspan><tspan dy="0.55em" font-size="55%">&#8203;</tspan>/H<tspan dy="0.3em" font-size="55%">2</tspan><tspan dy="-0.3em" font-size="55%">&#8203;</tspan></text>
<text x="1228" y="444" font-size="36.58" fill="#444" font-weight="bold" class="sf" textLength="207" lengthAdjust="spacingAndGlyphs">(0 V vs.NHE)</text>
<text x="1085" y="705" font-size="52.1" fill="#333" class="sf" textLength="156" lengthAdjust="spacingAndGlyphs">O<tspan dy="0.3em" font-size="55%">2</tspan><tspan dy="-0.3em" font-size="55%">&#8203;</tspan>/H<tspan dy="0.3em" font-size="55%">2</tspan><tspan dy="-0.3em" font-size="55%">&#8203;</tspan>O</text>
<text x="1258" y="700" font-size="36.48" fill="#444" font-weight="bold" class="sf" textLength="252" lengthAdjust="spacingAndGlyphs">(1.23 V vs.NHE)</text>
<text x="80" y="606" font-size="58.72" fill="#222" class="sf" textLength="106" lengthAdjust="spacingAndGlyphs">E<tspan dy="0.3em" font-size="50%">Fermi</tspan><tspan dy="-0.3em" font-size="50%">&#8203;</tspan></text>
<text x="305" y="652" font-size="47.62" fill="#1a5a3a" class="sf" textLength="66" lengthAdjust="spacingAndGlyphs">Eg<tspan dy="0.3em" font-size="55%">1</tspan><tspan dy="-0.3em" font-size="55%">&#8203;</tspan></text>
<text x="830" y="530" font-size="44.74" fill="#0a4a70" class="sf" textLength="62" lengthAdjust="spacingAndGlyphs">Eg<tspan dy="0.3em" font-size="55%">2</tspan><tspan dy="-0.3em" font-size="55%">&#8203;</tspan></text>
<text x="320" y="1058" font-size="65.89" fill="#333" class="sf" textLength="126" lengthAdjust="spacingAndGlyphs">SnS<tspan dy="0.3em" font-size="60%">2</tspan><tspan dy="-0.3em" font-size="60%">&#8203;</tspan></text>
<text x="760" y="1058" font-size="65.91" fill="#333" class="sf" textLength="186" lengthAdjust="spacingAndGlyphs">g-C<tspan dy="0.3em" font-size="60%">3</tspan><tspan dy="-0.3em" font-size="60%">&#8203;</tspan>N<tspan dy="0.3em" font-size="60%">4</tspan><tspan dy="-0.3em" font-size="60%">&#8203;</tspan></text>
<text x="38" y="474" font-size="36" fill="#f01818" font-weight="bold" font-style="italic" class="sf">hv</text>
<text x="1165" y="528" font-size="36" fill="#f01818" font-weight="bold" font-style="italic" class="sf">hv</text>
<text x="1100" y="372" font-size="28.71" fill="#222" font-weight="bold" font-style="italic" class="sf" textLength="126" lengthAdjust="spacingAndGlyphs">Reduction</text>
<text x="55" y="894" font-size="28" fill="#222" font-weight="bold" font-style="italic" class="sf" textLength="140" lengthAdjust="spacingAndGlyphs">Oxidization</text>
</g>
<rect x="435.2" y="546.4" width="311.4" height="202.9" rx="32" ry="32" fill="none" stroke="#8e8e8e" stroke-width="1.5" stroke-dasharray="6.9 5"/>
<g transform="translate(430,535) scale(0.20966)">
<polygon points="45,226 76,200 244,200 268,226 268,315 45,315" fill="#ea5cc4"/>
<line x1="45" y1="232" x2="268" y2="232" stroke="#f58ad8" stroke-width="3"/>
<line x1="45" y1="243" x2="268" y2="243" stroke="#f58ad8" stroke-width="3"/>
<line x1="45" y1="254" x2="268" y2="254" stroke="#f58ad8" stroke-width="3"/>
<line x1="45" y1="265" x2="268" y2="265" stroke="#f58ad8" stroke-width="3"/>
<line x1="45" y1="276" x2="268" y2="276" stroke="#f58ad8" stroke-width="3"/>
<line x1="45" y1="287" x2="268" y2="287" stroke="#f58ad8" stroke-width="3"/>
<line x1="45" y1="298" x2="268" y2="298" stroke="#f58ad8" stroke-width="3"/>
<line x1="45" y1="309" x2="268" y2="309" stroke="#f58ad8" stroke-width="3"/>
<text x="78" y="394" font-size="30" fill="#222" font-weight="bold" textLength="122" lengthAdjust="spacingAndGlyphs">Bulk BP</text>
<line x1="288" y1="262" x2="362" y2="262" stroke="#1565c0" stroke-width="7"/>
<polygon points="384,262 358,274 358,250" fill="#1565c0"/>
<circle cx="333" cy="232" r="11" fill="#6aa8e8" stroke="#3a78c0" stroke-width="2"/>
<text x="305" y="306" font-size="25" fill="#222" font-weight="bold" textLength="60" lengthAdjust="spacingAndGlyphs">NMP</text>
<path d="M392 212 Q520 232 650 210 Q520 222 392 212Z" fill="#222" stroke="#222" stroke-width="5"/>
<path d="M395 236 Q520 226 648 236 Q520 246 395 236Z" fill="#ea5cc4"/>
<path d="M395 254 Q520 242 648 254 Q520 266 395 254Z" fill="#ea5cc4"/>
<path d="M395 272 Q520 258 648 272 Q520 286 395 272Z" fill="#ea5cc4"/>
<path d="M395 292 Q520 276 648 292 Q520 308 395 292Z" fill="#ea5cc4"/>
<path d="M395 310 Q520 298 648 310 Q520 322 395 310Z" fill="#ea5cc4"/>
<circle cx="445" cy="245" r="7" fill="#5a90d8"/>
<circle cx="485" cy="230" r="7" fill="#5a90d8"/>
<circle cx="555" cy="246" r="7" fill="#5a90d8"/>
<circle cx="580" cy="228" r="7" fill="#5a90d8"/>
<circle cx="470" cy="268" r="7" fill="#5a90d8"/>
<circle cx="515" cy="270" r="7" fill="#5a90d8"/>
<circle cx="435" cy="298" r="7" fill="#5a90d8"/>
<circle cx="487" cy="293" r="7" fill="#5a90d8"/>
<circle cx="543" cy="293" r="7" fill="#5a90d8"/>
<circle cx="575" cy="293" r="7" fill="#5a90d8"/>
<line x1="655" y1="263" x2="752" y2="263" stroke="#1565c0" stroke-width="7"/>
<polygon points="776,263 750,275 750,251" fill="#1565c0"/>
<text x="653" y="306" font-size="27" fill="#222" font-weight="bold" textLength="138" lengthAdjust="spacingAndGlyphs">Exfoliation</text>
<polygon points="793,218 828,198 907,246 900,277" fill="#ea5cc4"/>
<polygon points="856,306 952,278 977,300 878,337" fill="#c83aa0"/>
<text x="824" y="368" font-size="28" fill="#222" font-weight="bold" textLength="40" lengthAdjust="spacingAndGlyphs">BP</text>
<text x="765" y="407" font-size="28" fill="#222" font-weight="bold" textLength="170" lengthAdjust="spacingAndGlyphs">nanosheets</text>
<path d="M1010 300 L1150 560 M1225 300 L1225 385 M1160 560 L980 690 M1215 545 L1335 690" fill="none" stroke="#f03040" stroke-width="4" stroke-dasharray="7 3"/>
<circle cx="1117" cy="215" r="141" fill="#fff" stroke="#f03040" stroke-width="4" stroke-dasharray="7 3"/>
<defs><clipPath id="c2l"><polygon points="1003.11,189.98 1041.18,127.68 1075.79,155.37 1110.4,101.38 1145.01,127.68 1176.16,101.38 1210.77,141.52 1235,134.6 1238.46,286.89 1217.69,297.27 1186.54,269.58 1155.39,313.19 1124.24,276.5 1093.09,313.19 1061.95,276.5 1027.34,313.19 1003.11,293.81"/></clipPath></defs>
<g clip-path="url(#c2l)">
<line x1="490" y1="90" x2="610" y2="330" stroke="#e838d8" stroke-width="2.4"/>
<line x1="610" y1="90" x2="490" y2="330" stroke="#e838d8" stroke-width="2.4"/>
<line x1="507" y1="90" x2="627" y2="330" stroke="#e838d8" stroke-width="2.4"/>
<line x1="627" y1="90" x2="507" y2="330" stroke="#e838d8" stroke-width="2.4"/>
<line x1="524" y1="90" x2="644" y2="330" stroke="#e838d8" stroke-width="2.4"/>
<line x1="644" y1="90" x2="524" y2="330" stroke="#e838d8" stroke-width="2.4"/>
<line x1="541" y1="90" x2="661" y2="330" stroke="#e838d8" stroke-width="2.4"/>
<line x1="661" y1="90" x2="541" y2="330" stroke="#e838d8" stroke-width="2.4"/>
<line x1="558" y1="90" x2="678" y2="330" stroke="#e838d8" stroke-width="2.4"/>
<line x1="678" y1="90" x2="558" y2="330" stroke="#e838d8" stroke-width="2.4"/>
<line x1="575" y1="90" x2="695" y2="330" stroke="#e838d8" stroke-width="2.4"/>
<line x1="695" y1="90" x2="575" y2="330" stroke="#e838d8" stroke-width="2.4"/>
<line x1="592" y1="90" x2="712" y2="330" stroke="#e838d8" stroke-width="2.4"/>
<line x1="712" y1="90" x2="592" y2="330" stroke="#e838d8" stroke-width="2.4"/>
<line x1="609" y1="90" x2="729" y2="330" stroke="#e838d8" stroke-width="2.4"/>
<line x1="729" y1="90" x2="609" y2="330" stroke="#e838d8" stroke-width="2.4"/>
<line x1="626" y1="90" x2="746" y2="330" stroke="#e838d8" stroke-width="2.4"/>
<line x1="746" y1="90" x2="626" y2="330" stroke="#e838d8" stroke-width="2.4"/>
<line x1="643" y1="90" x2="763" y2="330" stroke="#e838d8" stroke-width="2.4"/>
<line x1="763" y1="90" x2="643" y2="330" stroke="#e838d8" stroke-width="2.4"/>
<line x1="660" y1="90" x2="780" y2="330" stroke="#e838d8" stroke-width="2.4"/>
<line x1="780" y1="90" x2="660" y2="330" stroke="#e838d8" stroke-width="2.4"/>
<line x1="677" y1="90" x2="797" y2="330" stroke="#e838d8" stroke-width="2.4"/>
<line x1="797" y1="90" x2="677" y2="330" stroke="#e838d8" stroke-width="2.4"/>
<line x1="694" y1="90" x2="814" y2="330" stroke="#e838d8" stroke-width="2.4"/>
<line x1="814" y1="90" x2="694" y2="330" stroke="#e838d8" stroke-width="2.4"/>
<line x1="711" y1="90" x2="831" y2="330" stroke="#e838d8" stroke-width="2.4"/>
<line x1="831" y1="90" x2="711" y2="330" stroke="#e838d8" stroke-width="2.4"/>
<line x1="728" y1="90" x2="848" y2="330" stroke="#e838d8" stroke-width="2.4"/>
<line x1="848" y1="90" x2="728" y2="330" stroke="#e838d8" stroke-width="2.4"/>
<line x1="745" y1="90" x2="865" y2="330" stroke="#e838d8" stroke-width="2.4"/>
<line x1="865" y1="90" x2="745" y2="330" stroke="#e838d8" stroke-width="2.4"/>
<line x1="762" y1="90" x2="882" y2="330" stroke="#e838d8" stroke-width="2.4"/>
<line x1="882" y1="90" x2="762" y2="330" stroke="#e838d8" stroke-width="2.4"/>
<line x1="779" y1="90" x2="899" y2="330" stroke="#e838d8" stroke-width="2.4"/>
<line x1="899" y1="90" x2="779" y2="330" stroke="#e838d8" stroke-width="2.4"/>
<line x1="796" y1="90" x2="916" y2="330" stroke="#e838d8" stroke-width="2.4"/>
<line x1="916" y1="90" x2="796" y2="330" stroke="#e838d8" stroke-width="2.4"/>
<line x1="813" y1="90" x2="933" y2="330" stroke="#e838d8" stroke-width="2.4"/>
<line x1="933" y1="90" x2="813" y2="330" stroke="#e838d8" stroke-width="2.4"/>
<line x1="830" y1="90" x2="950" y2="330" stroke="#e838d8" stroke-width="2.4"/>
<line x1="950" y1="90" x2="830" y2="330" stroke="#e838d8" stroke-width="2.4"/>
<line x1="847" y1="90" x2="967" y2="330" stroke="#e838d8" stroke-width="2.4"/>
<line x1="967" y1="90" x2="847" y2="330" stroke="#e838d8" stroke-width="2.4"/>
<line x1="864" y1="90" x2="984" y2="330" stroke="#e838d8" stroke-width="2.4"/>
<line x1="984" y1="90" x2="864" y2="330" stroke="#e838d8" stroke-width="2.4"/>
<line x1="881" y1="90" x2="1001" y2="330" stroke="#e838d8" stroke-width="2.4"/>
<line x1="1001" y1="90" x2="881" y2="330" stroke="#e838d8" stroke-width="2.4"/>
<line x1="898" y1="90" x2="1018" y2="330" stroke="#e838d8" stroke-width="2.4"/>
<line x1="1018" y1="90" x2="898" y2="330" stroke="#e838d8" stroke-width="2.4"/>
<line x1="915" y1="90" x2="1035" y2="330" stroke="#e838d8" stroke-width="2.4"/>
<line x1="1035" y1="90" x2="915" y2="330" stroke="#e838d8" stroke-width="2.4"/>
<line x1="932" y1="90" x2="1052" y2="330" stroke="#e838d8" stroke-width="2.4"/>
<line x1="1052" y1="90" x2="932" y2="330" stroke="#e838d8" stroke-width="2.4"/>
<line x1="949" y1="90" x2="1069" y2="330" stroke="#e838d8" stroke-width="2.4"/>
<line x1="1069" y1="90" x2="949" y2="330" stroke="#e838d8" stroke-width="2.4"/>
<line x1="966" y1="90" x2="1086" y2="330" stroke="#e838d8" stroke-width="2.4"/>
<line x1="1086" y1="90" x2="966" y2="330" stroke="#e838d8" stroke-width="2.4"/>
<line x1="983" y1="90" x2="1103" y2="330" stroke="#e838d8" stroke-width="2.4"/>
<line x1="1103" y1="90" x2="983" y2="330" stroke="#e838d8" stroke-width="2.4"/>
<line x1="1000" y1="90" x2="1120" y2="330" stroke="#e838d8" stroke-width="2.4"/>
<line x1="1120" y1="90" x2="1000" y2="330" stroke="#e838d8" stroke-width="2.4"/>
<line x1="1017" y1="90" x2="1137" y2="330" stroke="#e838d8" stroke-width="2.4"/>
<line x1="1137" y1="90" x2="1017" y2="330" stroke="#e838d8" stroke-width="2.4"/>
<line x1="1034" y1="90" x2="1154" y2="330" stroke="#e838d8" stroke-width="2.4"/>
<line x1="1154" y1="90" x2="1034" y2="330" stroke="#e838d8" stroke-width="2.4"/>
<line x1="1051" y1="90" x2="1171" y2="330" stroke="#e838d8" stroke-width="2.4"/>
<line x1="1171" y1="90" x2="1051" y2="330" stroke="#e838d8" stroke-width="2.4"/>
<line x1="1068" y1="90" x2="1188" y2="330" stroke="#e838d8" stroke-width="2.4"/>
<line x1="1188" y1="90" x2="1068" y2="330" stroke="#e838d8" stroke-width="2.4"/>
<line x1="1085" y1="90" x2="1205" y2="330" stroke="#e838d8" stroke-width="2.4"/>
<line x1="1205" y1="90" x2="1085" y2="330" stroke="#e838d8" stroke-width="2.4"/>
<line x1="1102" y1="90" x2="1222" y2="330" stroke="#e838d8" stroke-width="2.4"/>
<line x1="1222" y1="90" x2="1102" y2="330" stroke="#e838d8" stroke-width="2.4"/>
<line x1="1119" y1="90" x2="1239" y2="330" stroke="#e838d8" stroke-width="2.4"/>
<line x1="1239" y1="90" x2="1119" y2="330" stroke="#e838d8" stroke-width="2.4"/>
<line x1="1136" y1="90" x2="1256" y2="330" stroke="#e838d8" stroke-width="2.4"/>
<line x1="1256" y1="90" x2="1136" y2="330" stroke="#e838d8" stroke-width="2.4"/>
<line x1="1153" y1="90" x2="1273" y2="330" stroke="#e838d8" stroke-width="2.4"/>
<line x1="1273" y1="90" x2="1153" y2="330" stroke="#e838d8" stroke-width="2.4"/>
<line x1="1170" y1="90" x2="1290" y2="330" stroke="#e838d8" stroke-width="2.4"/>
<line x1="1290" y1="90" x2="1170" y2="330" stroke="#e838d8" stroke-width="2.4"/>
<line x1="1187" y1="90" x2="1307" y2="330" stroke="#e838d8" stroke-width="2.4"/>
<line x1="1307" y1="90" x2="1187" y2="330" stroke="#e838d8" stroke-width="2.4"/>
<line x1="1204" y1="90" x2="1324" y2="330" stroke="#e838d8" stroke-width="2.4"/>
<line x1="1324" y1="90" x2="1204" y2="330" stroke="#e838d8" stroke-width="2.4"/>
<line x1="1221" y1="90" x2="1341" y2="330" stroke="#e838d8" stroke-width="2.4"/>
<line x1="1341" y1="90" x2="1221" y2="330" stroke="#e838d8" stroke-width="2.4"/>
<line x1="1238" y1="90" x2="1358" y2="330" stroke="#e838d8" stroke-width="2.4"/>
<line x1="1358" y1="90" x2="1238" y2="330" stroke="#e838d8" stroke-width="2.4"/>
<line x1="1255" y1="90" x2="1375" y2="330" stroke="#e838d8" stroke-width="2.4"/>
<line x1="1375" y1="90" x2="1255" y2="330" stroke="#e838d8" stroke-width="2.4"/>
<line x1="1272" y1="90" x2="1392" y2="330" stroke="#e838d8" stroke-width="2.4"/>
<line x1="1392" y1="90" x2="1272" y2="330" stroke="#e838d8" stroke-width="2.4"/>
<line x1="1289" y1="90" x2="1409" y2="330" stroke="#e838d8" stroke-width="2.4"/>
<line x1="1409" y1="90" x2="1289" y2="330" stroke="#e838d8" stroke-width="2.4"/>
<line x1="1306" y1="90" x2="1426" y2="330" stroke="#e838d8" stroke-width="2.4"/>
<line x1="1426" y1="90" x2="1306" y2="330" stroke="#e838d8" stroke-width="2.4"/>
<line x1="1323" y1="90" x2="1443" y2="330" stroke="#e838d8" stroke-width="2.4"/>
<line x1="1443" y1="90" x2="1323" y2="330" stroke="#e838d8" stroke-width="2.4"/>
<line x1="1340" y1="90" x2="1460" y2="330" stroke="#e838d8" stroke-width="2.4"/>
<line x1="1460" y1="90" x2="1340" y2="330" stroke="#e838d8" stroke-width="2.4"/>
<line x1="1357" y1="90" x2="1477" y2="330" stroke="#e838d8" stroke-width="2.4"/>
<line x1="1477" y1="90" x2="1357" y2="330" stroke="#e838d8" stroke-width="2.4"/>
<line x1="1374" y1="90" x2="1494" y2="330" stroke="#e838d8" stroke-width="2.4"/>
<line x1="1494" y1="90" x2="1374" y2="330" stroke="#e838d8" stroke-width="2.4"/>
<line x1="1391" y1="90" x2="1511" y2="330" stroke="#e838d8" stroke-width="2.4"/>
<line x1="1511" y1="90" x2="1391" y2="330" stroke="#e838d8" stroke-width="2.4"/>
<line x1="1408" y1="90" x2="1528" y2="330" stroke="#e838d8" stroke-width="2.4"/>
<line x1="1528" y1="90" x2="1408" y2="330" stroke="#e838d8" stroke-width="2.4"/>
<line x1="1425" y1="90" x2="1545" y2="330" stroke="#e838d8" stroke-width="2.4"/>
<line x1="1545" y1="90" x2="1425" y2="330" stroke="#e838d8" stroke-width="2.4"/>
<line x1="1442" y1="90" x2="1562" y2="330" stroke="#e838d8" stroke-width="2.4"/>
<line x1="1562" y1="90" x2="1442" y2="330" stroke="#e838d8" stroke-width="2.4"/>
<line x1="1459" y1="90" x2="1579" y2="330" stroke="#e838d8" stroke-width="2.4"/>
<line x1="1579" y1="90" x2="1459" y2="330" stroke="#e838d8" stroke-width="2.4"/>
<line x1="1476" y1="90" x2="1596" y2="330" stroke="#e838d8" stroke-width="2.4"/>
<line x1="1596" y1="90" x2="1476" y2="330" stroke="#e838d8" stroke-width="2.4"/>
<line x1="1493" y1="90" x2="1613" y2="330" stroke="#e838d8" stroke-width="2.4"/>
<line x1="1613" y1="90" x2="1493" y2="330" stroke="#e838d8" stroke-width="2.4"/>
<line x1="1510" y1="90" x2="1630" y2="330" stroke="#e838d8" stroke-width="2.4"/>
<line x1="1630" y1="90" x2="1510" y2="330" stroke="#e838d8" stroke-width="2.4"/>
<line x1="1527" y1="90" x2="1647" y2="330" stroke="#e838d8" stroke-width="2.4"/>
<line x1="1647" y1="90" x2="1527" y2="330" stroke="#e838d8" stroke-width="2.4"/>
<line x1="1544" y1="90" x2="1664" y2="330" stroke="#e838d8" stroke-width="2.4"/>
<line x1="1664" y1="90" x2="1544" y2="330" stroke="#e838d8" stroke-width="2.4"/>
<line x1="1561" y1="90" x2="1681" y2="330" stroke="#e838d8" stroke-width="2.4"/>
<line x1="1681" y1="90" x2="1561" y2="330" stroke="#e838d8" stroke-width="2.4"/>
<line x1="1578" y1="90" x2="1698" y2="330" stroke="#e838d8" stroke-width="2.4"/>
<line x1="1698" y1="90" x2="1578" y2="330" stroke="#e838d8" stroke-width="2.4"/>
<line x1="1595" y1="90" x2="1715" y2="330" stroke="#e838d8" stroke-width="2.4"/>
<line x1="1715" y1="90" x2="1595" y2="330" stroke="#e838d8" stroke-width="2.4"/>
<line x1="1612" y1="90" x2="1732" y2="330" stroke="#e838d8" stroke-width="2.4"/>
<line x1="1732" y1="90" x2="1612" y2="330" stroke="#e838d8" stroke-width="2.4"/>
<line x1="1629" y1="90" x2="1749" y2="330" stroke="#e838d8" stroke-width="2.4"/>
<line x1="1749" y1="90" x2="1629" y2="330" stroke="#e838d8" stroke-width="2.4"/>
<line x1="1646" y1="90" x2="1766" y2="330" stroke="#e838d8" stroke-width="2.4"/>
<line x1="1766" y1="90" x2="1646" y2="330" stroke="#e838d8" stroke-width="2.4"/>
<line x1="1663" y1="90" x2="1783" y2="330" stroke="#e838d8" stroke-width="2.4"/>
<line x1="1783" y1="90" x2="1663" y2="330" stroke="#e838d8" stroke-width="2.4"/>
<circle cx="900" cy="90" r="4" fill="#e010d0"/>
<circle cx="908.5" cy="107" r="4" fill="#e010d0"/>
<circle cx="900" cy="124" r="4" fill="#e010d0"/>
<circle cx="908.5" cy="141" r="4" fill="#e010d0"/>
<circle cx="900" cy="158" r="4" fill="#e010d0"/>
<circle cx="908.5" cy="175" r="4" fill="#e010d0"/>
<circle cx="900" cy="192" r="4" fill="#e010d0"/>
<circle cx="908.5" cy="209" r="4" fill="#e010d0"/>
<circle cx="900" cy="226" r="4" fill="#e010d0"/>
<circle cx="908.5" cy="243" r="4" fill="#e010d0"/>
<circle cx="900" cy="260" r="4" fill="#e010d0"/>
<circle cx="908.5" cy="277" r="4" fill="#e010d0"/>
<circle cx="900" cy="294" r="4" fill="#e010d0"/>
<circle cx="908.5" cy="311" r="4" fill="#e010d0"/>
<circle cx="900" cy="328" r="4" fill="#e010d0"/>
<circle cx="908.5" cy="345" r="4" fill="#e010d0"/>
<circle cx="900" cy="362" r="4" fill="#e010d0"/>
<circle cx="908.5" cy="379" r="4" fill="#e010d0"/>
<circle cx="917" cy="90" r="4" fill="#e010d0"/>
<circle cx="925.5" cy="107" r="4" fill="#e010d0"/>
<circle cx="917" cy="124" r="4" fill="#e010d0"/>
<circle cx="925.5" cy="141" r="4" fill="#e010d0"/>
<circle cx="917" cy="158" r="4" fill="#e010d0"/>
<circle cx="925.5" cy="175" r="4" fill="#e010d0"/>
<circle cx="917" cy="192" r="4" fill="#e010d0"/>
<circle cx="925.5" cy="209" r="4" fill="#e010d0"/>
<circle cx="917" cy="226" r="4" fill="#e010d0"/>
<circle cx="925.5" cy="243" r="4" fill="#e010d0"/>
<circle cx="917" cy="260" r="4" fill="#e010d0"/>
<circle cx="925.5" cy="277" r="4" fill="#e010d0"/>
<circle cx="917" cy="294" r="4" fill="#e010d0"/>
<circle cx="925.5" cy="311" r="4" fill="#e010d0"/>
<circle cx="917" cy="328" r="4" fill="#e010d0"/>
<circle cx="925.5" cy="345" r="4" fill="#e010d0"/>
<circle cx="917" cy="362" r="4" fill="#e010d0"/>
<circle cx="925.5" cy="379" r="4" fill="#e010d0"/>
<circle cx="934" cy="90" r="4" fill="#e010d0"/>
<circle cx="942.5" cy="107" r="4" fill="#e010d0"/>
<circle cx="934" cy="124" r="4" fill="#e010d0"/>
<circle cx="942.5" cy="141" r="4" fill="#e010d0"/>
<circle cx="934" cy="158" r="4" fill="#e010d0"/>
<circle cx="942.5" cy="175" r="4" fill="#e010d0"/>
<circle cx="934" cy="192" r="4" fill="#e010d0"/>
<circle cx="942.5" cy="209" r="4" fill="#e010d0"/>
<circle cx="934" cy="226" r="4" fill="#e010d0"/>
<circle cx="942.5" cy="243" r="4" fill="#e010d0"/>
<circle cx="934" cy="260" r="4" fill="#e010d0"/>
<circle cx="942.5" cy="277" r="4" fill="#e010d0"/>
<circle cx="934" cy="294" r="4" fill="#e010d0"/>
<circle cx="942.5" cy="311" r="4" fill="#e010d0"/>
<circle cx="934" cy="328" r="4" fill="#e010d0"/>
<circle cx="942.5" cy="345" r="4" fill="#e010d0"/>
<circle cx="934" cy="362" r="4" fill="#e010d0"/>
<circle cx="942.5" cy="379" r="4" fill="#e010d0"/>
<circle cx="951" cy="90" r="4" fill="#e010d0"/>
<circle cx="959.5" cy="107" r="4" fill="#e010d0"/>
<circle cx="951" cy="124" r="4" fill="#e010d0"/>
<circle cx="959.5" cy="141" r="4" fill="#e010d0"/>
<circle cx="951" cy="158" r="4" fill="#e010d0"/>
<circle cx="959.5" cy="175" r="4" fill="#e010d0"/>
<circle cx="951" cy="192" r="4" fill="#e010d0"/>
<circle cx="959.5" cy="209" r="4" fill="#e010d0"/>
<circle cx="951" cy="226" r="4" fill="#e010d0"/>
<circle cx="959.5" cy="243" r="4" fill="#e010d0"/>
<circle cx="951" cy="260" r="4" fill="#e010d0"/>
<circle cx="959.5" cy="277" r="4" fill="#e010d0"/>
<circle cx="951" cy="294" r="4" fill="#e010d0"/>
<circle cx="959.5" cy="311" r="4" fill="#e010d0"/>
<circle cx="951" cy="328" r="4" fill="#e010d0"/>
<circle cx="959.5" cy="345" r="4" fill="#e010d0"/>
<circle cx="951" cy="362" r="4" fill="#e010d0"/>
<circle cx="959.5" cy="379" r="4" fill="#e010d0"/>
<circle cx="968" cy="90" r="4" fill="#e010d0"/>
<circle cx="976.5" cy="107" r="4" fill="#e010d0"/>
<circle cx="968" cy="124" r="4" fill="#e010d0"/>
<circle cx="976.5" cy="141" r="4" fill="#e010d0"/>
<circle cx="968" cy="158" r="4" fill="#e010d0"/>
<circle cx="976.5" cy="175" r="4" fill="#e010d0"/>
<circle cx="968" cy="192" r="4" fill="#e010d0"/>
<circle cx="976.5" cy="209" r="4" fill="#e010d0"/>
<circle cx="968" cy="226" r="4" fill="#e010d0"/>
<circle cx="976.5" cy="243" r="4" fill="#e010d0"/>
<circle cx="968" cy="260" r="4" fill="#e010d0"/>
<circle cx="976.5" cy="277" r="4" fill="#e010d0"/>
<circle cx="968" cy="294" r="4" fill="#e010d0"/>
<circle cx="976.5" cy="311" r="4" fill="#e010d0"/>
<circle cx="968" cy="328" r="4" fill="#e010d0"/>
<circle cx="976.5" cy="345" r="4" fill="#e010d0"/>
<circle cx="968" cy="362" r="4" fill="#e010d0"/>
<circle cx="976.5" cy="379" r="4" fill="#e010d0"/>
<circle cx="985" cy="90" r="4" fill="#e010d0"/>
<circle cx="993.5" cy="107" r="4" fill="#e010d0"/>
<circle cx="985" cy="124" r="4" fill="#e010d0"/>
<circle cx="993.5" cy="141" r="4" fill="#e010d0"/>
<circle cx="985" cy="158" r="4" fill="#e010d0"/>
<circle cx="993.5" cy="175" r="4" fill="#e010d0"/>
<circle cx="985" cy="192" r="4" fill="#e010d0"/>
<circle cx="993.5" cy="209" r="4" fill="#e010d0"/>
<circle cx="985" cy="226" r="4" fill="#e010d0"/>
<circle cx="993.5" cy="243" r="4" fill="#e010d0"/>
<circle cx="985" cy="260" r="4" fill="#e010d0"/>
<circle cx="993.5" cy="277" r="4" fill="#e010d0"/>
<circle cx="985" cy="294" r="4" fill="#e010d0"/>
<circle cx="993.5" cy="311" r="4" fill="#e010d0"/>
<circle cx="985" cy="328" r="4" fill="#e010d0"/>
<circle cx="993.5" cy="345" r="4" fill="#e010d0"/>
<circle cx="985" cy="362" r="4" fill="#e010d0"/>
<circle cx="993.5" cy="379" r="4" fill="#e010d0"/>
<circle cx="1002" cy="90" r="4" fill="#e010d0"/>
<circle cx="1010.5" cy="107" r="4" fill="#e010d0"/>
<circle cx="1002" cy="124" r="4" fill="#e010d0"/>
<circle cx="1010.5" cy="141" r="4" fill="#e010d0"/>
<circle cx="1002" cy="158" r="4" fill="#e010d0"/>
<circle cx="1010.5" cy="175" r="4" fill="#e010d0"/>
<circle cx="1002" cy="192" r="4" fill="#e010d0"/>
<circle cx="1010.5" cy="209" r="4" fill="#e010d0"/>
<circle cx="1002" cy="226" r="4" fill="#e010d0"/>
<circle cx="1010.5" cy="243" r="4" fill="#e010d0"/>
<circle cx="1002" cy="260" r="4" fill="#e010d0"/>
<circle cx="1010.5" cy="277" r="4" fill="#e010d0"/>
<circle cx="1002" cy="294" r="4" fill="#e010d0"/>
<circle cx="1010.5" cy="311" r="4" fill="#e010d0"/>
<circle cx="1002" cy="328" r="4" fill="#e010d0"/>
<circle cx="1010.5" cy="345" r="4" fill="#e010d0"/>
<circle cx="1002" cy="362" r="4" fill="#e010d0"/>
<circle cx="1010.5" cy="379" r="4" fill="#e010d0"/>
<circle cx="1019" cy="90" r="4" fill="#e010d0"/>
<circle cx="1027.5" cy="107" r="4" fill="#e010d0"/>
<circle cx="1019" cy="124" r="4" fill="#e010d0"/>
<circle cx="1027.5" cy="141" r="4" fill="#e010d0"/>
<circle cx="1019" cy="158" r="4" fill="#e010d0"/>
<circle cx="1027.5" cy="175" r="4" fill="#e010d0"/>
<circle cx="1019" cy="192" r="4" fill="#e010d0"/>
<circle cx="1027.5" cy="209" r="4" fill="#e010d0"/>
<circle cx="1019" cy="226" r="4" fill="#e010d0"/>
<circle cx="1027.5" cy="243" r="4" fill="#e010d0"/>
<circle cx="1019" cy="260" r="4" fill="#e010d0"/>
<circle cx="1027.5" cy="277" r="4" fill="#e010d0"/>
<circle cx="1019" cy="294" r="4" fill="#e010d0"/>
<circle cx="1027.5" cy="311" r="4" fill="#e010d0"/>
<circle cx="1019" cy="328" r="4" fill="#e010d0"/>
<circle cx="1027.5" cy="345" r="4" fill="#e010d0"/>
<circle cx="1019" cy="362" r="4" fill="#e010d0"/>
<circle cx="1027.5" cy="379" r="4" fill="#e010d0"/>
<circle cx="1036" cy="90" r="4" fill="#e010d0"/>
<circle cx="1044.5" cy="107" r="4" fill="#e010d0"/>
<circle cx="1036" cy="124" r="4" fill="#e010d0"/>
<circle cx="1044.5" cy="141" r="4" fill="#e010d0"/>
<circle cx="1036" cy="158" r="4" fill="#e010d0"/>
<circle cx="1044.5" cy="175" r="4" fill="#e010d0"/>
<circle cx="1036" cy="192" r="4" fill="#e010d0"/>
<circle cx="1044.5" cy="209" r="4" fill="#e010d0"/>
<circle cx="1036" cy="226" r="4" fill="#e010d0"/>
<circle cx="1044.5" cy="243" r="4" fill="#e010d0"/>
<circle cx="1036" cy="260" r="4" fill="#e010d0"/>
<circle cx="1044.5" cy="277" r="4" fill="#e010d0"/>
<circle cx="1036" cy="294" r="4" fill="#e010d0"/>
<circle cx="1044.5" cy="311" r="4" fill="#e010d0"/>
<circle cx="1036" cy="328" r="4" fill="#e010d0"/>
<circle cx="1044.5" cy="345" r="4" fill="#e010d0"/>
<circle cx="1036" cy="362" r="4" fill="#e010d0"/>
<circle cx="1044.5" cy="379" r="4" fill="#e010d0"/>
<circle cx="1053" cy="90" r="4" fill="#e010d0"/>
<circle cx="1061.5" cy="107" r="4" fill="#e010d0"/>
<circle cx="1053" cy="124" r="4" fill="#e010d0"/>
<circle cx="1061.5" cy="141" r="4" fill="#e010d0"/>
<circle cx="1053" cy="158" r="4" fill="#e010d0"/>
<circle cx="1061.5" cy="175" r="4" fill="#e010d0"/>
<circle cx="1053" cy="192" r="4" fill="#e010d0"/>
<circle cx="1061.5" cy="209" r="4" fill="#e010d0"/>
<circle cx="1053" cy="226" r="4" fill="#e010d0"/>
<circle cx="1061.5" cy="243" r="4" fill="#e010d0"/>
<circle cx="1053" cy="260" r="4" fill="#e010d0"/>
<circle cx="1061.5" cy="277" r="4" fill="#e010d0"/>
<circle cx="1053" cy="294" r="4" fill="#e010d0"/>
<circle cx="1061.5" cy="311" r="4" fill="#e010d0"/>
<circle cx="1053" cy="328" r="4" fill="#e010d0"/>
<circle cx="1061.5" cy="345" r="4" fill="#e010d0"/>
<circle cx="1053" cy="362" r="4" fill="#e010d0"/>
<circle cx="1061.5" cy="379" r="4" fill="#e010d0"/>
<circle cx="1070" cy="90" r="4" fill="#e010d0"/>
<circle cx="1078.5" cy="107" r="4" fill="#e010d0"/>
<circle cx="1070" cy="124" r="4" fill="#e010d0"/>
<circle cx="1078.5" cy="141" r="4" fill="#e010d0"/>
<circle cx="1070" cy="158" r="4" fill="#e010d0"/>
<circle cx="1078.5" cy="175" r="4" fill="#e010d0"/>
<circle cx="1070" cy="192" r="4" fill="#e010d0"/>
<circle cx="1078.5" cy="209" r="4" fill="#e010d0"/>
<circle cx="1070" cy="226" r="4" fill="#e010d0"/>
<circle cx="1078.5" cy="243" r="4" fill="#e010d0"/>
<circle cx="1070" cy="260" r="4" fill="#e010d0"/>
<circle cx="1078.5" cy="277" r="4" fill="#e010d0"/>
<circle cx="1070" cy="294" r="4" fill="#e010d0"/>
<circle cx="1078.5" cy="311" r="4" fill="#e010d0"/>
<circle cx="1070" cy="328" r="4" fill="#e010d0"/>
<circle cx="1078.5" cy="345" r="4" fill="#e010d0"/>
<circle cx="1070" cy="362" r="4" fill="#e010d0"/>
<circle cx="1078.5" cy="379" r="4" fill="#e010d0"/>
<circle cx="1087" cy="90" r="4" fill="#e010d0"/>
<circle cx="1095.5" cy="107" r="4" fill="#e010d0"/>
<circle cx="1087" cy="124" r="4" fill="#e010d0"/>
<circle cx="1095.5" cy="141" r="4" fill="#e010d0"/>
<circle cx="1087" cy="158" r="4" fill="#e010d0"/>
<circle cx="1095.5" cy="175" r="4" fill="#e010d0"/>
<circle cx="1087" cy="192" r="4" fill="#e010d0"/>
<circle cx="1095.5" cy="209" r="4" fill="#e010d0"/>
<circle cx="1087" cy="226" r="4" fill="#e010d0"/>
<circle cx="1095.5" cy="243" r="4" fill="#e010d0"/>
<circle cx="1087" cy="260" r="4" fill="#e010d0"/>
<circle cx="1095.5" cy="277" r="4" fill="#e010d0"/>
<circle cx="1087" cy="294" r="4" fill="#e010d0"/>
<circle cx="1095.5" cy="311" r="4" fill="#e010d0"/>
<circle cx="1087" cy="328" r="4" fill="#e010d0"/>
<circle cx="1095.5" cy="345" r="4" fill="#e010d0"/>
<circle cx="1087" cy="362" r="4" fill="#e010d0"/>
<circle cx="1095.5" cy="379" r="4" fill="#e010d0"/>
<circle cx="1104" cy="90" r="4" fill="#e010d0"/>
<circle cx="1112.5" cy="107" r="4" fill="#e010d0"/>
<circle cx="1104" cy="124" r="4" fill="#e010d0"/>
<circle cx="1112.5" cy="141" r="4" fill="#e010d0"/>
<circle cx="1104" cy="158" r="4" fill="#e010d0"/>
<circle cx="1112.5" cy="175" r="4" fill="#e010d0"/>
<circle cx="1104" cy="192" r="4" fill="#e010d0"/>
<circle cx="1112.5" cy="209" r="4" fill="#e010d0"/>
<circle cx="1104" cy="226" r="4" fill="#e010d0"/>
<circle cx="1112.5" cy="243" r="4" fill="#e010d0"/>
<circle cx="1104" cy="260" r="4" fill="#e010d0"/>
<circle cx="1112.5" cy="277" r="4" fill="#e010d0"/>
<circle cx="1104" cy="294" r="4" fill="#e010d0"/>
<circle cx="1112.5" cy="311" r="4" fill="#e010d0"/>
<circle cx="1104" cy="328" r="4" fill="#e010d0"/>
<circle cx="1112.5" cy="345" r="4" fill="#e010d0"/>
<circle cx="1104" cy="362" r="4" fill="#e010d0"/>
<circle cx="1112.5" cy="379" r="4" fill="#e010d0"/>
<circle cx="1121" cy="90" r="4" fill="#e010d0"/>
<circle cx="1129.5" cy="107" r="4" fill="#e010d0"/>
<circle cx="1121" cy="124" r="4" fill="#e010d0"/>
<circle cx="1129.5" cy="141" r="4" fill="#e010d0"/>
<circle cx="1121" cy="158" r="4" fill="#e010d0"/>
<circle cx="1129.5" cy="175" r="4" fill="#e010d0"/>
<circle cx="1121" cy="192" r="4" fill="#e010d0"/>
<circle cx="1129.5" cy="209" r="4" fill="#e010d0"/>
<circle cx="1121" cy="226" r="4" fill="#e010d0"/>
<circle cx="1129.5" cy="243" r="4" fill="#e010d0"/>
<circle cx="1121" cy="260" r="4" fill="#e010d0"/>
<circle cx="1129.5" cy="277" r="4" fill="#e010d0"/>
<circle cx="1121" cy="294" r="4" fill="#e010d0"/>
<circle cx="1129.5" cy="311" r="4" fill="#e010d0"/>
<circle cx="1121" cy="328" r="4" fill="#e010d0"/>
<circle cx="1129.5" cy="345" r="4" fill="#e010d0"/>
<circle cx="1121" cy="362" r="4" fill="#e010d0"/>
<circle cx="1129.5" cy="379" r="4" fill="#e010d0"/>
<circle cx="1138" cy="90" r="4" fill="#e010d0"/>
<circle cx="1146.5" cy="107" r="4" fill="#e010d0"/>
<circle cx="1138" cy="124" r="4" fill="#e010d0"/>
<circle cx="1146.5" cy="141" r="4" fill="#e010d0"/>
<circle cx="1138" cy="158" r="4" fill="#e010d0"/>
<circle cx="1146.5" cy="175" r="4" fill="#e010d0"/>
<circle cx="1138" cy="192" r="4" fill="#e010d0"/>
<circle cx="1146.5" cy="209" r="4" fill="#e010d0"/>
<circle cx="1138" cy="226" r="4" fill="#e010d0"/>
<circle cx="1146.5" cy="243" r="4" fill="#e010d0"/>
<circle cx="1138" cy="260" r="4" fill="#e010d0"/>
<circle cx="1146.5" cy="277" r="4" fill="#e010d0"/>
<circle cx="1138" cy="294" r="4" fill="#e010d0"/>
<circle cx="1146.5" cy="311" r="4" fill="#e010d0"/>
<circle cx="1138" cy="328" r="4" fill="#e010d0"/>
<circle cx="1146.5" cy="345" r="4" fill="#e010d0"/>
<circle cx="1138" cy="362" r="4" fill="#e010d0"/>
<circle cx="1146.5" cy="379" r="4" fill="#e010d0"/>
<circle cx="1155" cy="90" r="4" fill="#e010d0"/>
<circle cx="1163.5" cy="107" r="4" fill="#e010d0"/>
<circle cx="1155" cy="124" r="4" fill="#e010d0"/>
<circle cx="1163.5" cy="141" r="4" fill="#e010d0"/>
<circle cx="1155" cy="158" r="4" fill="#e010d0"/>
<circle cx="1163.5" cy="175" r="4" fill="#e010d0"/>
<circle cx="1155" cy="192" r="4" fill="#e010d0"/>
<circle cx="1163.5" cy="209" r="4" fill="#e010d0"/>
<circle cx="1155" cy="226" r="4" fill="#e010d0"/>
<circle cx="1163.5" cy="243" r="4" fill="#e010d0"/>
<circle cx="1155" cy="260" r="4" fill="#e010d0"/>
<circle cx="1163.5" cy="277" r="4" fill="#e010d0"/>
<circle cx="1155" cy="294" r="4" fill="#e010d0"/>
<circle cx="1163.5" cy="311" r="4" fill="#e010d0"/>
<circle cx="1155" cy="328" r="4" fill="#e010d0"/>
<circle cx="1163.5" cy="345" r="4" fill="#e010d0"/>
<circle cx="1155" cy="362" r="4" fill="#e010d0"/>
<circle cx="1163.5" cy="379" r="4" fill="#e010d0"/>
<circle cx="1172" cy="90" r="4" fill="#e010d0"/>
<circle cx="1180.5" cy="107" r="4" fill="#e010d0"/>
<circle cx="1172" cy="124" r="4" fill="#e010d0"/>
<circle cx="1180.5" cy="141" r="4" fill="#e010d0"/>
<circle cx="1172" cy="158" r="4" fill="#e010d0"/>
<circle cx="1180.5" cy="175" r="4" fill="#e010d0"/>
<circle cx="1172" cy="192" r="4" fill="#e010d0"/>
<circle cx="1180.5" cy="209" r="4" fill="#e010d0"/>
<circle cx="1172" cy="226" r="4" fill="#e010d0"/>
<circle cx="1180.5" cy="243" r="4" fill="#e010d0"/>
<circle cx="1172" cy="260" r="4" fill="#e010d0"/>
<circle cx="1180.5" cy="277" r="4" fill="#e010d0"/>
<circle cx="1172" cy="294" r="4" fill="#e010d0"/>
<circle cx="1180.5" cy="311" r="4" fill="#e010d0"/>
<circle cx="1172" cy="328" r="4" fill="#e010d0"/>
<circle cx="1180.5" cy="345" r="4" fill="#e010d0"/>
<circle cx="1172" cy="362" r="4" fill="#e010d0"/>
<circle cx="1180.5" cy="379" r="4" fill="#e010d0"/>
<circle cx="1189" cy="90" r="4" fill="#e010d0"/>
<circle cx="1197.5" cy="107" r="4" fill="#e010d0"/>
<circle cx="1189" cy="124" r="4" fill="#e010d0"/>
<circle cx="1197.5" cy="141" r="4" fill="#e010d0"/>
<circle cx="1189" cy="158" r="4" fill="#e010d0"/>
<circle cx="1197.5" cy="175" r="4" fill="#e010d0"/>
<circle cx="1189" cy="192" r="4" fill="#e010d0"/>
<circle cx="1197.5" cy="209" r="4" fill="#e010d0"/>
<circle cx="1189" cy="226" r="4" fill="#e010d0"/>
<circle cx="1197.5" cy="243" r="4" fill="#e010d0"/>
<circle cx="1189" cy="260" r="4" fill="#e010d0"/>
<circle cx="1197.5" cy="277" r="4" fill="#e010d0"/>
<circle cx="1189" cy="294" r="4" fill="#e010d0"/>
<circle cx="1197.5" cy="311" r="4" fill="#e010d0"/>
<circle cx="1189" cy="328" r="4" fill="#e010d0"/>
<circle cx="1197.5" cy="345" r="4" fill="#e010d0"/>
<circle cx="1189" cy="362" r="4" fill="#e010d0"/>
<circle cx="1197.5" cy="379" r="4" fill="#e010d0"/>
<circle cx="1206" cy="90" r="4" fill="#e010d0"/>
<circle cx="1214.5" cy="107" r="4" fill="#e010d0"/>
<circle cx="1206" cy="124" r="4" fill="#e010d0"/>
<circle cx="1214.5" cy="141" r="4" fill="#e010d0"/>
<circle cx="1206" cy="158" r="4" fill="#e010d0"/>
<circle cx="1214.5" cy="175" r="4" fill="#e010d0"/>
<circle cx="1206" cy="192" r="4" fill="#e010d0"/>
<circle cx="1214.5" cy="209" r="4" fill="#e010d0"/>
<circle cx="1206" cy="226" r="4" fill="#e010d0"/>
<circle cx="1214.5" cy="243" r="4" fill="#e010d0"/>
<circle cx="1206" cy="260" r="4" fill="#e010d0"/>
<circle cx="1214.5" cy="277" r="4" fill="#e010d0"/>
<circle cx="1206" cy="294" r="4" fill="#e010d0"/>
<circle cx="1214.5" cy="311" r="4" fill="#e010d0"/>
<circle cx="1206" cy="328" r="4" fill="#e010d0"/>
<circle cx="1214.5" cy="345" r="4" fill="#e010d0"/>
<circle cx="1206" cy="362" r="4" fill="#e010d0"/>
<circle cx="1214.5" cy="379" r="4" fill="#e010d0"/>
<circle cx="1223" cy="90" r="4" fill="#e010d0"/>
<circle cx="1231.5" cy="107" r="4" fill="#e010d0"/>
<circle cx="1223" cy="124" r="4" fill="#e010d0"/>
<circle cx="1231.5" cy="141" r="4" fill="#e010d0"/>
<circle cx="1223" cy="158" r="4" fill="#e010d0"/>
<circle cx="1231.5" cy="175" r="4" fill="#e010d0"/>
<circle cx="1223" cy="192" r="4" fill="#e010d0"/>
<circle cx="1231.5" cy="209" r="4" fill="#e010d0"/>
<circle cx="1223" cy="226" r="4" fill="#e010d0"/>
<circle cx="1231.5" cy="243" r="4" fill="#e010d0"/>
<circle cx="1223" cy="260" r="4" fill="#e010d0"/>
<circle cx="1231.5" cy="277" r="4" fill="#e010d0"/>
<circle cx="1223" cy="294" r="4" fill="#e010d0"/>
<circle cx="1231.5" cy="311" r="4" fill="#e010d0"/>
<circle cx="1223" cy="328" r="4" fill="#e010d0"/>
<circle cx="1231.5" cy="345" r="4" fill="#e010d0"/>
<circle cx="1223" cy="362" r="4" fill="#e010d0"/>
<circle cx="1231.5" cy="379" r="4" fill="#e010d0"/>
</g>
<polygon points="1496,180 1457.88,188.19 1488.67,212.11 1450.77,202.94 1468.14,237.86 1437.97,213.16 1438.47,252.14 1422,216.8 1405.53,252.14 1406.03,213.16 1375.86,237.86 1393.23,202.94 1355.33,212.11 1386.12,188.19 1348,180 1386.12,171.81 1355.33,147.89 1393.23,157.06 1375.86,122.14 1406.03,146.84 1405.53,107.86 1422,143.2 1438.47,107.86 1437.97,146.84 1468.14,122.14 1450.77,157.06 1488.67,147.89 1457.88,171.81" fill="#ffa820"/>
<circle cx="1422" cy="180" r="40" fill="#ff7a10"/>
<circle cx="1422" cy="180" r="24" fill="#e83808" opacity="0.55"/>
<circle cx="1410" cy="160" r="8" fill="#ffe060"/><circle cx="1434" cy="172" r="8" fill="#ffe060"/>
<circle cx="1411" cy="161" r="4" fill="#222"/><circle cx="1436" cy="173" r="4" fill="#222"/>
<path d="M1398 190 Q1415 216 1440 194 Q1418 206 1398 190Z" fill="#d01010"/>
<polygon points="1063,466 1225,384 1396,470 1240,622" fill="#f070d0"/>
<defs><clipPath id="c2d"><polygon points="1075,466 1225,392 1384,470 1240,610"/></clipPath></defs>
<g clip-path="url(#c2d)">
<ellipse cx="1225" cy="476" rx="122" ry="66" fill="#19c4c9"/>
<line x1="1225" y1="476" x2="1368.3" y2="501.41" stroke="#f070d0" stroke-width="12"/>
<line x1="1225" y1="476" x2="1314.88" y2="544.85" stroke="#f070d0" stroke-width="12"/>
<line x1="1225" y1="476" x2="1227.12" y2="561.99" stroke="#f070d0" stroke-width="12"/>
<line x1="1225" y1="476" x2="1138.56" y2="546.28" stroke="#f070d0" stroke-width="12"/>
<line x1="1225" y1="476" x2="1083.01" y2="503.73" stroke="#f070d0" stroke-width="12"/>
<line x1="1225" y1="476" x2="1081.7" y2="450.59" stroke="#f070d0" stroke-width="12"/>
<line x1="1225" y1="476" x2="1135.12" y2="407.15" stroke="#f070d0" stroke-width="12"/>
<line x1="1225" y1="476" x2="1222.88" y2="390.01" stroke="#f070d0" stroke-width="12"/>
<line x1="1225" y1="476" x2="1311.44" y2="405.72" stroke="#f070d0" stroke-width="12"/>
<line x1="1225" y1="476" x2="1366.99" y2="448.27" stroke="#f070d0" stroke-width="12"/>
<ellipse cx="1225" cy="476" rx="74" ry="40" fill="#f060c8"/>
</g>
<circle cx="1098" cy="470" r="13" fill="none" stroke="#e0206a" stroke-width="5"/>
<circle cx="1192" cy="533" r="17" fill="none" stroke="#b04848" stroke-width="5"/>
<path d="M945 325 C925 400 960 470 1030 482" fill="none" stroke="#1565c0" stroke-width="9"/>
<path d="M932 600 C905 540 940 490 1030 488" fill="none" stroke="#1565c0" stroke-width="9"/>
<polygon points="1052,492 1019.22,499.11 1026.64,470.04" fill="#1565c0"/>
<path d="M1288 352 C1275 430 1330 470 1388 428" fill="none" stroke="#f0101c" stroke-width="16"/>
<polygon points="1404,408 1397.75,446.44 1367.98,422.82" fill="#f0101c"/>
<path d="M1302 604 C1280 520 1340 470 1392 510" fill="none" stroke="#10a050" stroke-width="16"/>
<polygon points="1408,530 1371.98,515.18 1401.75,491.56" fill="#10a050"/>
<text x="1278" y="338" font-size="42" fill="#111" font-weight="bold" textLength="78" lengthAdjust="spacingAndGlyphs">NO<tspan dy="0.3em" font-size="60%">x</tspan><tspan dy="-0.3em" font-size="60%">&#8203;</tspan></text>
<text x="1388" y="398" font-size="42" fill="#111" font-weight="bold" textLength="86" lengthAdjust="spacingAndGlyphs">NO<tspan dy="0.3em" font-size="60%">3</tspan><tspan dy="-0.3em" font-size="60%">&#8203;</tspan><tspan dy="-0.55em" font-size="60%">-</tspan><tspan dy="0.55em" font-size="60%">&#8203;</tspan></text>
<text x="1405" y="570" font-size="42" fill="#111" font-weight="bold" textLength="42" lengthAdjust="spacingAndGlyphs">H<tspan dy="0.3em" font-size="60%">2</tspan><tspan dy="-0.3em" font-size="60%">&#8203;</tspan></text>
<text x="1293" y="652" font-size="42" fill="#111" font-weight="bold" textLength="76" lengthAdjust="spacingAndGlyphs">H<tspan dy="0.3em" font-size="60%">2</tspan><tspan dy="-0.3em" font-size="60%">&#8203;</tspan>O</text>
<path d="M172 538 l-22 -22 M172 538 l22 -22 M172 538 l-22 22 M172 538 l22 22" stroke="#f06a6a" stroke-width="3"/>
<circle cx="150" cy="516" r="5" fill="#f02828"/>
<circle cx="194" cy="516" r="5" fill="#f02828"/>
<circle cx="150" cy="560" r="5" fill="#f02828"/>
<circle cx="194" cy="560" r="5" fill="#f02828"/>
<circle cx="172" cy="538" r="10" fill="#18c8c8"/>
<path d="M250 525 l-30 28 M250 525 l30 28 M250 525 v-34 M230 539 h40" stroke="#9a6ad0" stroke-width="3" fill="none"/>
<circle cx="220" cy="553" r="5" fill="#f02828"/>
<circle cx="280" cy="553" r="5" fill="#f02828"/>
<circle cx="250" cy="491" r="5" fill="#f02828"/>
<circle cx="250" cy="525" r="6" fill="#e020d0"/>
<circle cx="236" cy="539" r="5" fill="#3060d0"/>
<circle cx="264" cy="539" r="5" fill="#3060d0"/>
<path d="M345 510 l-22 -22 M345 510 l22 -22 M345 510 l-22 22 M345 510 l22 22" stroke="#f06a6a" stroke-width="3"/>
<circle cx="323" cy="488" r="5" fill="#f02828"/>
<circle cx="367" cy="488" r="5" fill="#f02828"/>
<circle cx="323" cy="532" r="5" fill="#f02828"/>
<circle cx="367" cy="532" r="5" fill="#f02828"/>
<circle cx="345" cy="510" r="10" fill="#18c8c8"/>
<path d="M248 598 l-22 -22 M248 598 l22 -22 M248 598 l-22 22 M248 598 l22 22" stroke="#f06a6a" stroke-width="3"/>
<circle cx="226" cy="576" r="5" fill="#f02828"/>
<circle cx="270" cy="576" r="5" fill="#f02828"/>
<circle cx="226" cy="620" r="5" fill="#f02828"/>
<circle cx="270" cy="620" r="5" fill="#f02828"/>
<circle cx="248" cy="598" r="10" fill="#18c8c8"/>
<path d="M318 598 l-22 -22 M318 598 l22 -22 M318 598 l-22 22 M318 598 l22 22" stroke="#f06a6a" stroke-width="3"/>
<circle cx="296" cy="576" r="5" fill="#f02828"/>
<circle cx="340" cy="576" r="5" fill="#f02828"/>
<circle cx="296" cy="620" r="5" fill="#f02828"/>
<circle cx="340" cy="620" r="5" fill="#f02828"/>
<circle cx="318" cy="598" r="10" fill="#18c8c8"/>
<path d="M192 640 l-30 28 M192 640 l30 28 M192 640 v-34 M172 654 h40" stroke="#9a6ad0" stroke-width="3" fill="none"/>
<circle cx="162" cy="668" r="5" fill="#f02828"/>
<circle cx="222" cy="668" r="5" fill="#f02828"/>
<circle cx="192" cy="606" r="5" fill="#f02828"/>
<circle cx="192" cy="640" r="6" fill="#e020d0"/>
<circle cx="178" cy="654" r="5" fill="#3060d0"/>
<circle cx="206" cy="654" r="5" fill="#3060d0"/>
<path d="M258 695 l-22 -22 M258 695 l22 -22 M258 695 l-22 22 M258 695 l22 22" stroke="#f06a6a" stroke-width="3"/>
<circle cx="236" cy="673" r="5" fill="#f02828"/>
<circle cx="280" cy="673" r="5" fill="#f02828"/>
<circle cx="236" cy="717" r="5" fill="#f02828"/>
<circle cx="280" cy="717" r="5" fill="#f02828"/>
<circle cx="258" cy="695" r="10" fill="#18c8c8"/>
<path d="M330 668 l-30 28 M330 668 l30 28 M330 668 v-34 M310 682 h40" stroke="#9a6ad0" stroke-width="3" fill="none"/>
<circle cx="300" cy="696" r="5" fill="#f02828"/>
<circle cx="360" cy="696" r="5" fill="#f02828"/>
<circle cx="330" cy="634" r="5" fill="#f02828"/>
<circle cx="330" cy="668" r="6" fill="#e020d0"/>
<circle cx="316" cy="682" r="5" fill="#3060d0"/>
<circle cx="344" cy="682" r="5" fill="#3060d0"/>
<text x="168" y="786" font-size="31" fill="#222" font-weight="bold" textLength="165" lengthAdjust="spacingAndGlyphs">Precursors</text>
<line x1="420" y1="592" x2="640" y2="592" stroke="#1565c0" stroke-width="7"/>
<polygon points="664,592 638,604 638,580" fill="#1565c0"/>
<text x="434" y="642" font-size="31" fill="#222" font-weight="bold" textLength="205" lengthAdjust="spacingAndGlyphs">Hydrothermal</text>
<rect x="682" y="500" width="240" height="220" fill="#fbfbfb"/>
<polygon points="693,536 801,514 826,581 714,607" fill="#19c4c9"/>
<polygon points="812,594 907,625 860,707 757,666" fill="#19c4c9"/>
<text x="766" y="792" font-size="31" fill="#222" font-weight="bold" textLength="104" lengthAdjust="spacingAndGlyphs">MBWO</text>
<rect x="88" y="822" width="333" height="79" rx="16" fill="#fff" stroke="#f03040" stroke-width="4" stroke-dasharray="7 3"/>
<ellipse cx="113" cy="860" rx="14" ry="17" fill="#f58ad0"/>
<text x="140" y="878" font-size="40" fill="#333" font-weight="bold" textLength="40" lengthAdjust="spacingAndGlyphs">Bi</text>
<ellipse cx="232" cy="860" rx="14" ry="17" fill="#f01020"/>
<text x="252" y="878" font-size="40" fill="#333" font-weight="bold" textLength="30" lengthAdjust="spacingAndGlyphs">O</text>
<ellipse cx="343" cy="860" rx="14" ry="17" fill="#30d0c8"/>
<text x="370" y="878" font-size="40" fill="#333" font-weight="bold" textLength="38" lengthAdjust="spacingAndGlyphs">W</text>
<rect x="968" y="685" width="372" height="250" rx="28" fill="#fff" stroke="#f03040" stroke-width="4" stroke-dasharray="7 3"/>
<ellipse cx="1000" cy="758" rx="15" ry="26" fill="#f58ad0"/>
<ellipse cx="1000" cy="862" rx="15" ry="26" fill="#f58ad0"/>
<ellipse cx="1030" cy="758" rx="15" ry="26" fill="#f58ad0"/>
<ellipse cx="1030" cy="862" rx="15" ry="26" fill="#f58ad0"/>
<ellipse cx="1060" cy="758" rx="15" ry="26" fill="#f58ad0"/>
<ellipse cx="1060" cy="862" rx="15" ry="26" fill="#f58ad0"/>
<ellipse cx="1090" cy="758" rx="15" ry="26" fill="#f58ad0"/>
<ellipse cx="1090" cy="862" rx="15" ry="26" fill="#f58ad0"/>
<ellipse cx="1120" cy="758" rx="15" ry="26" fill="#f58ad0"/>
<ellipse cx="1120" cy="862" rx="15" ry="26" fill="#f58ad0"/>
<ellipse cx="1150" cy="758" rx="15" ry="26" fill="#f58ad0"/>
<ellipse cx="1150" cy="862" rx="15" ry="26" fill="#f58ad0"/>
<ellipse cx="1180" cy="758" rx="15" ry="26" fill="#f58ad0"/>
<ellipse cx="1180" cy="862" rx="15" ry="26" fill="#f58ad0"/>
<ellipse cx="1008" cy="750" rx="15" ry="32" fill="#f01020" transform="rotate(-18 1008 750)"/>
<ellipse cx="1008" cy="858" rx="15" ry="30" fill="#f01020" transform="rotate(-18 1008 858)"/>
<ellipse cx="1053" cy="750" rx="15" ry="32" fill="#f01020" transform="rotate(-18 1053 750)"/>
<ellipse cx="1053" cy="858" rx="15" ry="30" fill="#f01020" transform="rotate(-18 1053 858)"/>
<ellipse cx="1098" cy="750" rx="15" ry="32" fill="#f01020" transform="rotate(-18 1098 750)"/>
<ellipse cx="1098" cy="858" rx="15" ry="30" fill="#f01020" transform="rotate(-18 1098 858)"/>
<ellipse cx="1143" cy="750" rx="15" ry="32" fill="#f01020" transform="rotate(-18 1143 750)"/>
<ellipse cx="1143" cy="858" rx="15" ry="30" fill="#f01020" transform="rotate(-18 1143 858)"/>
<ellipse cx="1188" cy="750" rx="15" ry="32" fill="#f01020" transform="rotate(-18 1188 750)"/>
<ellipse cx="1188" cy="858" rx="15" ry="30" fill="#f01020" transform="rotate(-18 1188 858)"/>
<rect x="980" y="788" width="215" height="44" rx="18" fill="#f01020"/>
<circle cx="1012" cy="808" r="9" fill="#30d0c8"/>
<circle cx="1055" cy="808" r="9" fill="#30d0c8"/>
<circle cx="1098" cy="808" r="9" fill="#30d0c8"/>
<circle cx="1141" cy="808" r="9" fill="#30d0c8"/>
<circle cx="1184" cy="808" r="9" fill="#30d0c8"/>
<text x="1226" y="752" font-size="27" fill="#222" font-weight="bold" textLength="62" lengthAdjust="spacingAndGlyphs">[BiO]</text>
<text x="1226" y="812" font-size="27" fill="#222" font-weight="bold" textLength="70" lengthAdjust="spacingAndGlyphs">[WO<tspan dy="0.3em" font-size="60%">4</tspan><tspan dy="-0.3em" font-size="60%">&#8203;</tspan>]</text>
<text x="1226" y="872" font-size="27" fill="#222" font-weight="bold" textLength="62" lengthAdjust="spacingAndGlyphs">[BiO]</text>
</g>
<rect x="785.7" y="546.2" width="305.3" height="202.3" rx="32" ry="32" fill="none" stroke="#8e8e8e" stroke-width="1.5" stroke-dasharray="6.9 5"/>
<g transform="translate(780,535) scale(0.20330)">
<rect x="320" y="80" width="277" height="267" fill="#f1f1f1"/>
<line x1="548.91" y1="236.65" x2="583.7" y2="245.91" stroke="#ffb000" stroke-width="8" stroke-linecap="round"/>
<line x1="525.17" y1="277.94" x2="550.67" y2="303.35" stroke="#ffb000" stroke-width="8" stroke-linecap="round"/>
<line x1="483.97" y1="301.82" x2="493.35" y2="336.58" stroke="#ffb000" stroke-width="8" stroke-linecap="round"/>
<line x1="436.35" y1="301.91" x2="427.09" y2="336.7" stroke="#ffb000" stroke-width="8" stroke-linecap="round"/>
<line x1="395.06" y1="278.17" x2="369.65" y2="303.67" stroke="#ffb000" stroke-width="8" stroke-linecap="round"/>
<line x1="371.18" y1="236.97" x2="336.42" y2="246.35" stroke="#ffb000" stroke-width="8" stroke-linecap="round"/>
<line x1="371.09" y1="189.35" x2="336.3" y2="180.09" stroke="#ffb000" stroke-width="8" stroke-linecap="round"/>
<line x1="394.83" y1="148.06" x2="369.33" y2="122.65" stroke="#ffb000" stroke-width="8" stroke-linecap="round"/>
<line x1="436.03" y1="124.18" x2="426.65" y2="89.42" stroke="#ffb000" stroke-width="8" stroke-linecap="round"/>
<line x1="483.65" y1="124.09" x2="492.91" y2="89.3" stroke="#ffb000" stroke-width="8" stroke-linecap="round"/>
<line x1="524.94" y1="147.83" x2="550.35" y2="122.33" stroke="#ffb000" stroke-width="8" stroke-linecap="round"/>
<line x1="548.82" y1="189.03" x2="583.58" y2="179.65" stroke="#ffb000" stroke-width="8" stroke-linecap="round"/>
<defs><radialGradient id="sg3" cx="0.55" cy="0.5" r="0.55"><stop offset="0" stop-color="#ff8a00"/><stop offset="1" stop-color="#ffd800"/></radialGradient></defs>
<circle cx="460" cy="213" r="77" fill="url(#sg3)"/>
<circle cx="450" cy="195" r="4" fill="#333"/><circle cx="492" cy="222" r="4" fill="#333"/><circle cx="466" cy="220" r="6" fill="none" stroke="#333" stroke-width="2"/>
<line x1="290" y1="1050" x2="290" y2="195" stroke="#111" stroke-width="6"/>
<polygon points="290,172 301,212 279,212" fill="#111"/>
<line x1="290" y1="273" x2="268" y2="273" stroke="#111" stroke-width="5"/>
<text x="264" y="294" font-size="61" fill="#111" text-anchor="end" font-weight="bold">-2</text>
<line x1="290" y1="417" x2="268" y2="417" stroke="#111" stroke-width="5"/>
<text x="264" y="438" font-size="61" fill="#111" text-anchor="end" font-weight="bold">-1</text>
<line x1="290" y1="560" x2="268" y2="560" stroke="#111" stroke-width="5"/>
<text x="264" y="581" font-size="61" fill="#111" text-anchor="end" font-weight="bold">0</text>
<line x1="290" y1="703" x2="268" y2="703" stroke="#111" stroke-width="5"/>
<text x="264" y="724" font-size="61" fill="#111" text-anchor="end" font-weight="bold">1</text>
<line x1="290" y1="846" x2="268" y2="846" stroke="#111" stroke-width="5"/>
<text x="264" y="867" font-size="61" fill="#111" text-anchor="end" font-weight="bold">2</text>
<line x1="290" y1="990" x2="268" y2="990" stroke="#111" stroke-width="5"/>
<text x="264" y="1011" font-size="61" fill="#111" text-anchor="end" font-weight="bold">3</text>
<line x1="290" y1="345" x2="277" y2="345" stroke="#111" stroke-width="4"/>
<line x1="290" y1="488" x2="277" y2="488" stroke="#111" stroke-width="4"/>
<line x1="290" y1="632" x2="277" y2="632" stroke="#111" stroke-width="4"/>
<line x1="290" y1="775" x2="277" y2="775" stroke="#111" stroke-width="4"/>
<line x1="290" y1="918" x2="277" y2="918" stroke="#111" stroke-width="4"/>
<text transform="translate(160,640) rotate(-90)" text-anchor="middle" font-size="67" font-weight="bold" fill="#111">Potential (V vs. RHE)</text>
<line x1="296" y1="520" x2="1410" y2="520" stroke="#8a8a8a" stroke-width="4" stroke-dasharray="5 4"/>
<line x1="296" y1="692" x2="1410" y2="692" stroke="#8a8a8a" stroke-width="4" stroke-dasharray="5 4"/>
<line x1="296" y1="846" x2="1410" y2="846" stroke="#8a8a8a" stroke-width="4" stroke-dasharray="5 4"/>
<line x1="458" y1="612" x2="666" y2="612" stroke="#ffb400" stroke-width="14"/>
<line x1="458" y1="912" x2="666" y2="912" stroke="#ffb400" stroke-width="14"/>
<line x1="560" y1="905" x2="560" y2="640" stroke="#ffb400" stroke-width="5"/>
<polygon points="560,620 569,646 551,646" fill="#ffb400"/>
<line x1="850" y1="327" x2="1061" y2="327" stroke="#0a78c8" stroke-width="14"/>
<line x1="850" y1="770" x2="1061" y2="770" stroke="#0a78c8" stroke-width="14"/>
<line x1="955" y1="762" x2="955" y2="358" stroke="#2a9fd8" stroke-width="6"/>
<polygon points="955,336 965,364 945,364" fill="#2a9fd8"/>
<path d="M665 583 C760 600 740 690 775 740 C800 775 820 782 850 790" fill="none" stroke="#f0501a" stroke-width="5"/><polygon points="858,792 832.27,795.75 837.22,776.37" fill="#f0501a"/>
<path d="M828 192 C850 225 900 215 925 178" fill="none" stroke="#f0501a" stroke-width="5"/><polygon points="930,165 930.62,190.99 911.98,183.75" fill="#f0501a"/>
<path d="M955 140 C975 170 1015 160 1020 112" fill="none" stroke="#f0501a" stroke-width="5"/><polygon points="1020,100 1030.7,123.7 1010.71,124.28" fill="#f0501a"/>
<path d="M830 262 C850 290 900 280 905 245" fill="none" stroke="#f0501a" stroke-width="5"/><polygon points="906,232 914.28,256.65 894.33,255.23" fill="#f0501a"/>
<path d="M958 245 C975 285 1025 285 1040 252" fill="none" stroke="#f0501a" stroke-width="5"/><polygon points="1045,240 1045.62,265.99 1026.98,258.75" fill="#f0501a"/>
<path d="M1135 155 C1185 175 1180 230 1130 240" fill="none" stroke="#f0501a" stroke-width="9"/><polygon points="1108,242 1136.45,225.07 1139.25,252.94" fill="#f0501a"/>
<path d="M655 862 C650 930 700 950 750 925" fill="none" stroke="#f0501a" stroke-width="12"/><polygon points="768,915 747.59,944.38 732.25,916.3" fill="#f0501a"/>
<path d="M712 968 C690 945 655 955 645 988" fill="none" stroke="#f0501a" stroke-width="5"/><polygon points="640,1002 635.71,976.36 655.19,980.9" fill="#f0501a"/>
<path d="M768 965 C775 925 830 920 862 958" fill="none" stroke="#f0501a" stroke-width="5"/><polygon points="872,972 849.25,959.42 864.91,946.98" fill="#f0501a"/>
<text x="468" y="592" font-size="40.28" fill="#222" font-weight="bold" textLength="190" lengthAdjust="spacingAndGlyphs">e<tspan dy="-0.55em" font-size="62%">-</tspan><tspan dy="0.55em" font-size="62%">&#8203;</tspan>  e<tspan dy="-0.55em" font-size="62%">-</tspan><tspan dy="0.55em" font-size="62%">&#8203;</tspan>  e<tspan dy="-0.55em" font-size="62%">-</tspan><tspan dy="0.55em" font-size="62%">&#8203;</tspan>  e<tspan dy="-0.55em" font-size="62%">-</tspan><tspan dy="0.55em" font-size="62%">&#8203;</tspan></text>
<text x="414" y="660" font-size="36.32" fill="#222" font-weight="bold" textLength="105" lengthAdjust="spacingAndGlyphs">0.38 V</text>
<text x="575" y="660" font-size="38.08" fill="#222" font-weight="bold" textLength="55" lengthAdjust="spacingAndGlyphs">CB</text>
<text x="411" y="772" font-size="39.16" fill="#222" font-weight="bold" textLength="135" lengthAdjust="spacingAndGlyphs">2.06 eV</text>
<text x="414" y="895" font-size="38.05" fill="#222" font-weight="bold" textLength="110" lengthAdjust="spacingAndGlyphs">2.44 V</text>
<text x="573" y="895" font-size="37.43" fill="#222" font-weight="bold" textLength="52" lengthAdjust="spacingAndGlyphs">VB</text>
<text x="468" y="958" font-size="37.98" fill="#222" font-weight="bold" textLength="190" lengthAdjust="spacingAndGlyphs">h<tspan dy="-0.55em" font-size="62%">+</tspan><tspan dy="0.55em" font-size="62%">&#8203;</tspan> h<tspan dy="-0.55em" font-size="62%">+</tspan><tspan dy="0.55em" font-size="62%">&#8203;</tspan>  h<tspan dy="-0.55em" font-size="62%">+</tspan><tspan dy="0.55em" font-size="62%">&#8203;</tspan> h<tspan dy="-0.55em" font-size="62%">+</tspan><tspan dy="0.55em" font-size="62%">&#8203;</tspan></text>
<text x="385" y="1028" font-size="46.06" fill="#ffb400" font-weight="bold" textLength="165" lengthAdjust="spacingAndGlyphs">α-Fe<tspan dy="0.3em" font-size="62%">2</tspan><tspan dy="-0.3em" font-size="62%">&#8203;</tspan>O<tspan dy="0.3em" font-size="62%">3</tspan><tspan dy="-0.3em" font-size="62%">&#8203;</tspan></text>
<text x="635" y="828" font-size="44.45" fill="#222" font-weight="bold" textLength="82" lengthAdjust="spacingAndGlyphs">H<tspan dy="0.3em" font-size="62%">2</tspan><tspan dy="-0.3em" font-size="62%">&#8203;</tspan>O</text>
<text x="752" y="914" font-size="42.55" fill="#222" font-weight="bold" textLength="78" lengthAdjust="spacingAndGlyphs">·OH</text>
<text x="718" y="1010" font-size="41.33" fill="#222" font-weight="bold" textLength="62" lengthAdjust="spacingAndGlyphs">NO</text>
<text x="620" y="1034" font-size="44.85" fill="#222" font-weight="bold" textLength="92" lengthAdjust="spacingAndGlyphs">NO<tspan dy="0.3em" font-size="62%">2</tspan><tspan dy="-0.3em" font-size="62%">&#8203;</tspan><tspan dy="-0.55em" font-size="62%">-</tspan><tspan dy="0.55em" font-size="62%">&#8203;</tspan></text>
<text x="820" y="1004" font-size="44.85" fill="#222" font-weight="bold" textLength="92" lengthAdjust="spacingAndGlyphs">NO<tspan dy="0.3em" font-size="62%">3</tspan><tspan dy="-0.3em" font-size="62%">&#8203;</tspan><tspan dy="-0.55em" font-size="62%">-</tspan><tspan dy="0.55em" font-size="62%">&#8203;</tspan></text>
<text x="900" y="914" font-size="45.49" fill="#0a78c8" font-weight="bold" textLength="140" lengthAdjust="spacingAndGlyphs">g-C<tspan dy="0.3em" font-size="62%">3</tspan><tspan dy="-0.3em" font-size="62%">&#8203;</tspan>N<tspan dy="0.3em" font-size="62%">4</tspan><tspan dy="-0.3em" font-size="62%">&#8203;</tspan></text>
<text x="865" y="747" font-size="35.99" fill="#222" font-weight="bold" textLength="50" lengthAdjust="spacingAndGlyphs">VB</text>
<text x="968" y="747" font-size="38.05" fill="#222" font-weight="bold" textLength="110" lengthAdjust="spacingAndGlyphs">1.46 V</text>
<text x="865" y="812" font-size="36.93" fill="#222" font-weight="bold" textLength="195" lengthAdjust="spacingAndGlyphs">h<tspan dy="-0.55em" font-size="62%">+</tspan><tspan dy="0.55em" font-size="62%">&#8203;</tspan>  h<tspan dy="-0.55em" font-size="62%">+</tspan><tspan dy="0.55em" font-size="62%">&#8203;</tspan> h<tspan dy="-0.55em" font-size="62%">+</tspan><tspan dy="0.55em" font-size="62%">&#8203;</tspan>  h<tspan dy="-0.55em" font-size="62%">+</tspan><tspan dy="0.55em" font-size="62%">&#8203;</tspan></text>
<text x="975" y="578" font-size="39.16" fill="#222" font-weight="bold" textLength="135" lengthAdjust="spacingAndGlyphs">2.95 eV</text>
<text x="865" y="378" font-size="36" fill="#222" font-weight="bold" textLength="52" lengthAdjust="spacingAndGlyphs">CB</text>
<text x="965" y="378" font-size="38.77" fill="#222" font-weight="bold" textLength="125" lengthAdjust="spacingAndGlyphs">-1.49 V</text>
<text x="880" y="306" font-size="39.42" fill="#222" font-weight="bold" textLength="175" lengthAdjust="spacingAndGlyphs">e<tspan dy="-0.55em" font-size="62%">-</tspan><tspan dy="0.55em" font-size="62%">&#8203;</tspan> e<tspan dy="-0.55em" font-size="62%">-</tspan><tspan dy="0.55em" font-size="62%">&#8203;</tspan>  e<tspan dy="-0.55em" font-size="62%">-</tspan><tspan dy="0.55em" font-size="62%">&#8203;</tspan>  e<tspan dy="-0.55em" font-size="62%">-</tspan><tspan dy="0.55em" font-size="62%">&#8203;</tspan></text>
<text x="775" y="298" font-size="42.76" fill="#222" font-weight="bold" textLength="48" lengthAdjust="spacingAndGlyphs">O<tspan dy="0.3em" font-size="62%">2</tspan><tspan dy="-0.3em" font-size="62%">&#8203;</tspan></text>
<text x="888" y="242" font-size="43.32" fill="#222" font-weight="bold" textLength="72" lengthAdjust="spacingAndGlyphs">·O<tspan dy="0.3em" font-size="62%">2</tspan><tspan dy="-0.3em" font-size="62%">&#8203;</tspan><tspan dy="-0.55em" font-size="62%">-</tspan><tspan dy="0.55em" font-size="62%">&#8203;</tspan></text>
<text x="1000" y="238" font-size="45.67" fill="#222" font-weight="bold" textLength="100" lengthAdjust="spacingAndGlyphs">H<tspan dy="0.3em" font-size="62%">2</tspan><tspan dy="-0.3em" font-size="62%">&#8203;</tspan>O<tspan dy="0.3em" font-size="62%">2</tspan><tspan dy="-0.3em" font-size="62%">&#8203;</tspan></text>
<text x="1120" y="212" font-size="39.34" fill="#222" font-weight="bold" textLength="30" lengthAdjust="spacingAndGlyphs">e<tspan dy="-0.55em" font-size="62%">-</tspan><tspan dy="0.55em" font-size="62%">&#8203;</tspan></text>
<text x="780" y="178" font-size="44.85" fill="#222" font-weight="bold" textLength="92" lengthAdjust="spacingAndGlyphs">NO<tspan dy="0.3em" font-size="62%">2</tspan><tspan dy="-0.3em" font-size="62%">&#8203;</tspan><tspan dy="-0.55em" font-size="62%">-</tspan><tspan dy="0.55em" font-size="62%">&#8203;</tspan></text>
<text x="905" y="154" font-size="41.33" fill="#222" font-weight="bold" textLength="62" lengthAdjust="spacingAndGlyphs">NO</text>
<text x="1040" y="154" font-size="41.46" fill="#222" font-weight="bold" textLength="76" lengthAdjust="spacingAndGlyphs">·OH</text>
<text x="990" y="92" font-size="43.87" fill="#222" font-weight="bold" textLength="90" lengthAdjust="spacingAndGlyphs">NO<tspan dy="0.3em" font-size="62%">3</tspan><tspan dy="-0.3em" font-size="62%">&#8203;</tspan><tspan dy="-0.55em" font-size="62%">-</tspan><tspan dy="0.55em" font-size="62%">&#8203;</tspan></text>
<text x="1198" y="497" font-size="40.13" fill="#222" font-weight="bold" textLength="298" lengthAdjust="spacingAndGlyphs">O<tspan dy="0.3em" font-size="62%">2</tspan><tspan dy="-0.3em" font-size="62%">&#8203;</tspan>/·O<tspan dy="0.3em" font-size="62%">2</tspan><tspan dy="-0.3em" font-size="62%">&#8203;</tspan><tspan dy="-0.55em" font-size="62%">-</tspan><tspan dy="0.55em" font-size="62%">&#8203;</tspan> = -0.33 V</text>
<text x="1195" y="648" font-size="38.8" fill="#222" font-weight="bold" textLength="325" lengthAdjust="spacingAndGlyphs">HNO<tspan dy="0.3em" font-size="62%">2</tspan><tspan dy="-0.3em" font-size="62%">&#8203;</tspan>/NO = 0.94 V</text>
<text x="1195" y="822" font-size="39.07" fill="#222" font-weight="bold" textLength="312" lengthAdjust="spacingAndGlyphs">·OH/H<tspan dy="0.3em" font-size="62%">2</tspan><tspan dy="-0.3em" font-size="62%">&#8203;</tspan>O = 2.34 V</text>
</g>
<rect x="1131.1" y="546.1" width="365.5" height="202.5" rx="32" ry="32" fill="none" stroke="#8e8e8e" stroke-width="1.5" stroke-dasharray="6.9 5"/>
<g transform="translate(1120,535) scale(0.24778)">
<defs>
<linearGradient id="g4a" x1="0" y1="0" x2="0" y2="1"><stop offset="0" stop-color="#12a0f0"/><stop offset="0.25" stop-color="#14a8e8"/><stop offset="0.45" stop-color="#30c058"/><stop offset="0.6" stop-color="#28b850"/><stop offset="0.8" stop-color="#1098c8"/><stop offset="1" stop-color="#0a88e0"/></linearGradient>
<linearGradient id="g4b" x1="0" y1="0" x2="0" y2="1"><stop offset="0" stop-color="#000"/><stop offset="0.1" stop-color="#111"/><stop offset="0.18" stop-color="#b89868"/><stop offset="0.36" stop-color="#f0e0b8"/><stop offset="0.5" stop-color="#28b850"/><stop offset="0.68" stop-color="#18a848"/><stop offset="0.75" stop-color="#f01818"/><stop offset="1" stop-color="#f00c0c"/></linearGradient>
<pattern id="p4" width="9" height="9" patternUnits="userSpaceOnUse" patternTransform="rotate(-32)"><rect width="9" height="9" fill="#343436"/><rect width="9" height="3.5" fill="#6a6a6e"/></pattern>
<radialGradient id="g4f" cx="0.45" cy="0.4" r="0.6"><stop offset="0" stop-color="#8ab8ee"/><stop offset="0.7" stop-color="#4d86d0"/><stop offset="1" stop-color="#3566a8"/></radialGradient>
</defs>
<text x="80" y="134" font-size="51.7" fill="#222" font-weight="bold" class="sf" textLength="560" lengthAdjust="spacingAndGlyphs" stroke="#222" stroke-width="0.9">Photo/electrocatalytic</text>
<text x="168" y="197" font-size="51.7" fill="#222" font-weight="bold" class="sf" textLength="385" lengthAdjust="spacingAndGlyphs" stroke="#222" stroke-width="0.9">Water Splitting</text>
<text x="945" y="128" font-size="51.7" fill="#222" font-weight="bold" class="sf" textLength="365" lengthAdjust="spacingAndGlyphs" stroke="#222" stroke-width="0.9">Photocatalytic</text>
<text x="875" y="190" font-size="51.7" fill="#222" font-weight="bold" class="sf" textLength="505" lengthAdjust="spacingAndGlyphs" stroke="#222" stroke-width="0.9">Hydrogen Evolution</text>
<path d="M112 400 V735 A210 38 0 0 0 532 735 V400 Z" fill="#ececec"/>
<ellipse cx="322" cy="400" rx="210" ry="45" fill="#f4f4f4"/>
<path d="M112 545 V735 A210 38 0 0 0 532 735 V545 Z" fill="#0a7ac8"/>
<ellipse cx="322" cy="545" rx="210" ry="32" fill="#10aae0"/>
<path d="M112 400 V735 A210 38 0 0 0 532 735 V400" fill="none" stroke="#555" stroke-width="5"/>
<ellipse cx="322" cy="400" rx="210" ry="45" fill="none" stroke="#444" stroke-width="6"/>
<path d="M172 600 V290 H362 V520 M172 330 H272 V510" fill="none" stroke="#444" stroke-width="4"/>
<circle cx="262" cy="288" r="17" fill="#fff" stroke="#444" stroke-width="3"/><circle cx="225" cy="330" r="17" fill="#fff" stroke="#444" stroke-width="3"/>
<text x="254" y="297" font-size="22" fill="#222" font-weight="bold" class="sf">A</text>
<text x="217" y="339" font-size="22" fill="#222" font-weight="bold" class="sf">V</text>
<polygon points="158,580 196,562 196,640 158,658" fill="#f0b000"/>
<rect x="264" y="508" width="17" height="148" fill="#fff"/>
<rect x="352" y="520" width="20" height="136" rx="8" fill="#f01018"/>
<polygon points="105,330 160,318 150,350 195,400 130,372 140,345" fill="#ffb400"/>
<text x="98" y="252" font-size="22" fill="#333" font-weight="bold" class="sf" textLength="250" lengthAdjust="spacingAndGlyphs">H<tspan dy="0.3em" font-size="62%">2</tspan><tspan dy="-0.3em" font-size="62%">&#8203;</tspan>O + h<tspan dy="-0.55em" font-size="62%">+</tspan><tspan dy="0.55em" font-size="62%">&#8203;</tspan>... 2H<tspan dy="-0.55em" font-size="62%">+</tspan><tspan dy="0.55em" font-size="62%">&#8203;</tspan> + ½ O<tspan dy="0.3em" font-size="62%">2</tspan><tspan dy="-0.3em" font-size="62%">&#8203;</tspan></text>
<text x="388" y="334" font-size="22" fill="#333" font-weight="bold" class="sf" textLength="160" lengthAdjust="spacingAndGlyphs">2H<tspan dy="-0.55em" font-size="62%">+</tspan><tspan dy="0.55em" font-size="62%">&#8203;</tspan> + 2e<tspan dy="-0.55em" font-size="62%">-</tspan><tspan dy="0.55em" font-size="62%">&#8203;</tspan> → H<tspan dy="0.3em" font-size="62%">2</tspan><tspan dy="-0.3em" font-size="62%">&#8203;</tspan></text>
<text x="300" y="316" font-size="19.8" fill="#333" font-weight="bold" class="sf" textLength="40" lengthAdjust="spacingAndGlyphs">→e<tspan dy="-0.55em" font-size="62%">-</tspan><tspan dy="0.55em" font-size="62%">&#8203;</tspan></text>
<text x="120" y="495" font-size="22" fill="#333" font-weight="bold" class="sf" textLength="48" lengthAdjust="spacingAndGlyphs">... h<tspan dy="-0.55em" font-size="62%">+</tspan><tspan dy="0.55em" font-size="62%">&#8203;</tspan></text>
<text x="118" y="578" font-size="22.06" fill="#12305a" font-weight="bold" class="sf" textLength="24" lengthAdjust="spacingAndGlyphs">O<tspan dy="0.3em" font-size="62%">2</tspan><tspan dy="-0.3em" font-size="62%">&#8203;</tspan></text>
<text x="112" y="604" font-size="24.2" fill="#12305a" font-weight="bold" class="sf" textLength="85" lengthAdjust="spacingAndGlyphs">bubbles</text>
<text x="218" y="590" font-size="26.4" fill="#12305a" font-weight="bold" class="sf" textLength="115" lengthAdjust="spacingAndGlyphs">Reference</text>
<text x="222" y="618" font-size="25.66" fill="#12305a" font-weight="bold" class="sf" textLength="105" lengthAdjust="spacingAndGlyphs">Electrode</text>
<text x="380" y="655" font-size="24.2" fill="#12305a" font-weight="bold" class="sf" textLength="118" lengthAdjust="spacingAndGlyphs">H<tspan dy="0.3em" font-size="62%">2</tspan><tspan dy="-0.3em" font-size="62%">&#8203;</tspan> bubbles</text>
<text x="120" y="678" font-size="24.35" fill="#f0d000" font-weight="bold" class="sf" textLength="92" lengthAdjust="spacingAndGlyphs">Working</text>
<text x="120" y="703" font-size="24.44" fill="#f0d000" font-weight="bold" class="sf" textLength="100" lengthAdjust="spacingAndGlyphs">Electrode</text>
<text x="120" y="728" font-size="24.61" fill="#f0d000" font-weight="bold" class="sf" textLength="135" lengthAdjust="spacingAndGlyphs">MoS<tspan dy="0.3em" font-size="62%">2</tspan><tspan dy="-0.3em" font-size="62%">&#8203;</tspan>/g-C<tspan dy="0.3em" font-size="62%">3</tspan><tspan dy="-0.3em" font-size="62%">&#8203;</tspan>N<tspan dy="0.3em" font-size="62%">4</tspan><tspan dy="-0.3em" font-size="62%">&#8203;</tspan></text>
<text x="340" y="685" font-size="20.05" fill="#d8f000" font-weight="bold" class="sf" textLength="158" lengthAdjust="spacingAndGlyphs">Counter Electrode</text>
<text x="343" y="708" font-size="19.76" fill="#d8f000" font-weight="bold" class="sf" textLength="152" lengthAdjust="spacingAndGlyphs">Photocathode (Pt)</text>
<polygon points="686,290 1056,366 885,806 552,742 552,470" fill="url(#p4)"/>
<polygon points="686,290 1056,366 885,806 552,742 552,470" fill="none" stroke="#222" stroke-width="3"/>
<defs><clipPath id="c4a"><ellipse cx="745" cy="425" rx="132" ry="108"/></clipPath><clipPath id="c4b"><path d="M552 545 Q640 520 720 590 Q770 660 700 730 L640 760 L552 742Z"/></clipPath></defs>
<g clip-path="url(#c4a)">
<ellipse cx="745" cy="425" rx="132" ry="108" fill="#4a82c8"/>
<circle cx="727.91" cy="452.94" r="24.41" fill="url(#g4f)" stroke="#3a68a8" stroke-width="1.5"/>
<circle cx="818.39" cy="454.39" r="19.85" fill="url(#g4f)" stroke="#3a68a8" stroke-width="1.5"/>
<circle cx="818.88" cy="448.06" r="14.6" fill="url(#g4f)" stroke="#3a68a8" stroke-width="1.5"/>
<circle cx="723" cy="432.97" r="15.45" fill="url(#g4f)" stroke="#3a68a8" stroke-width="1.5"/>
<circle cx="650.71" cy="464.61" r="15.98" fill="url(#g4f)" stroke="#3a68a8" stroke-width="1.5"/>
<circle cx="760.03" cy="497.45" r="29.16" fill="url(#g4f)" stroke="#3a68a8" stroke-width="1.5"/>
<circle cx="684.63" cy="399.01" r="29.62" fill="url(#g4f)" stroke="#3a68a8" stroke-width="1.5"/>
<circle cx="848.8" cy="450.59" r="18.63" fill="url(#g4f)" stroke="#3a68a8" stroke-width="1.5"/>
<circle cx="765.3" cy="446.21" r="18.94" fill="url(#g4f)" stroke="#3a68a8" stroke-width="1.5"/>
<circle cx="762.17" cy="393.14" r="23.31" fill="url(#g4f)" stroke="#3a68a8" stroke-width="1.5"/>
<circle cx="702.78" cy="383.83" r="22.76" fill="url(#g4f)" stroke="#3a68a8" stroke-width="1.5"/>
<circle cx="765.2" cy="431.88" r="17.3" fill="url(#g4f)" stroke="#3a68a8" stroke-width="1.5"/>
<circle cx="714.77" cy="372.11" r="19.03" fill="url(#g4f)" stroke="#3a68a8" stroke-width="1.5"/>
<circle cx="681.53" cy="394.05" r="18.8" fill="url(#g4f)" stroke="#3a68a8" stroke-width="1.5"/>
<circle cx="771.36" cy="349.62" r="17.91" fill="url(#g4f)" stroke="#3a68a8" stroke-width="1.5"/>
<circle cx="672.94" cy="395.23" r="28" fill="url(#g4f)" stroke="#3a68a8" stroke-width="1.5"/>
<circle cx="737.74" cy="379.33" r="29.68" fill="url(#g4f)" stroke="#3a68a8" stroke-width="1.5"/>
<circle cx="796.91" cy="463.92" r="26.11" fill="url(#g4f)" stroke="#3a68a8" stroke-width="1.5"/>
<circle cx="789.68" cy="476.65" r="14.63" fill="url(#g4f)" stroke="#3a68a8" stroke-width="1.5"/>
<circle cx="695.28" cy="352.95" r="23.17" fill="url(#g4f)" stroke="#3a68a8" stroke-width="1.5"/>
<circle cx="787.02" cy="390.81" r="25.12" fill="url(#g4f)" stroke="#3a68a8" stroke-width="1.5"/>
<circle cx="673.95" cy="385.84" r="21.3" fill="url(#g4f)" stroke="#3a68a8" stroke-width="1.5"/>
<circle cx="806.48" cy="345.67" r="21.59" fill="url(#g4f)" stroke="#3a68a8" stroke-width="1.5"/>
<circle cx="733.64" cy="409.48" r="25.22" fill="url(#g4f)" stroke="#3a68a8" stroke-width="1.5"/>
<circle cx="673.73" cy="347.74" r="27.15" fill="url(#g4f)" stroke="#3a68a8" stroke-width="1.5"/>
<circle cx="730.54" cy="478.6" r="24.7" fill="url(#g4f)" stroke="#3a68a8" stroke-width="1.5"/>
<circle cx="818.97" cy="433.64" r="16.69" fill="url(#g4f)" stroke="#3a68a8" stroke-width="1.5"/>
<circle cx="761.11" cy="436.93" r="26.29" fill="url(#g4f)" stroke="#3a68a8" stroke-width="1.5"/>
<circle cx="780.35" cy="455.54" r="20.26" fill="url(#g4f)" stroke="#3a68a8" stroke-width="1.5"/>
<circle cx="763.11" cy="409.49" r="21.19" fill="url(#g4f)" stroke="#3a68a8" stroke-width="1.5"/>
<circle cx="639.99" cy="397.43" r="27.11" fill="url(#g4f)" stroke="#3a68a8" stroke-width="1.5"/>
<circle cx="781.21" cy="390.95" r="20.64" fill="url(#g4f)" stroke="#3a68a8" stroke-width="1.5"/>
<circle cx="675.33" cy="495.01" r="29.32" fill="url(#g4f)" stroke="#3a68a8" stroke-width="1.5"/>
<circle cx="769.45" cy="452.87" r="17.71" fill="url(#g4f)" stroke="#3a68a8" stroke-width="1.5"/>
<circle cx="753.05" cy="487.62" r="23.43" fill="url(#g4f)" stroke="#3a68a8" stroke-width="1.5"/>
<circle cx="744.65" cy="428.58" r="20.7" fill="url(#g4f)" stroke="#3a68a8" stroke-width="1.5"/>
<circle cx="687.48" cy="475.6" r="29.25" fill="url(#g4f)" stroke="#3a68a8" stroke-width="1.5"/>
<circle cx="715.83" cy="364.2" r="23.88" fill="url(#g4f)" stroke="#3a68a8" stroke-width="1.5"/>
<circle cx="735.78" cy="409.91" r="28.39" fill="url(#g4f)" stroke="#3a68a8" stroke-width="1.5"/>
<circle cx="765.5" cy="336.9" r="26.77" fill="url(#g4f)" stroke="#3a68a8" stroke-width="1.5"/>
<circle cx="691.61" cy="460.05" r="15.66" fill="url(#g4f)" stroke="#3a68a8" stroke-width="1.5"/>
<circle cx="730.07" cy="411.28" r="15.08" fill="url(#g4f)" stroke="#3a68a8" stroke-width="1.5"/>
<circle cx="755.23" cy="456.56" r="19.44" fill="url(#g4f)" stroke="#3a68a8" stroke-width="1.5"/>
<circle cx="745.74" cy="425.21" r="16.42" fill="url(#g4f)" stroke="#3a68a8" stroke-width="1.5"/>
<circle cx="797.03" cy="456.53" r="14.41" fill="url(#g4f)" stroke="#3a68a8" stroke-width="1.5"/>
<circle cx="807.42" cy="373.48" r="16.38" fill="url(#g4f)" stroke="#3a68a8" stroke-width="1.5"/>
<circle cx="744.11" cy="476.54" r="19.83" fill="url(#g4f)" stroke="#3a68a8" stroke-width="1.5"/>
<circle cx="822.17" cy="486.45" r="29.89" fill="url(#g4f)" stroke="#3a68a8" stroke-width="1.5"/>
<circle cx="669.9" cy="438.34" r="15.37" fill="url(#g4f)" stroke="#3a68a8" stroke-width="1.5"/>
<circle cx="795.04" cy="455.61" r="18.24" fill="url(#g4f)" stroke="#3a68a8" stroke-width="1.5"/>
<circle cx="763.91" cy="396.37" r="14.37" fill="url(#g4f)" stroke="#3a68a8" stroke-width="1.5"/>
<circle cx="822.19" cy="404.9" r="16.35" fill="url(#g4f)" stroke="#3a68a8" stroke-width="1.5"/>
<circle cx="731.88" cy="422.02" r="22.45" fill="url(#g4f)" stroke="#3a68a8" stroke-width="1.5"/>
<circle cx="852.78" cy="413" r="25.14" fill="url(#g4f)" stroke="#3a68a8" stroke-width="1.5"/>
<circle cx="740.46" cy="478.11" r="16.67" fill="url(#g4f)" stroke="#3a68a8" stroke-width="1.5"/>
<circle cx="756.17" cy="359.03" r="26.46" fill="url(#g4f)" stroke="#3a68a8" stroke-width="1.5"/>
<circle cx="721.83" cy="459.66" r="26.98" fill="url(#g4f)" stroke="#3a68a8" stroke-width="1.5"/>
<circle cx="852.48" cy="416.63" r="26.9" fill="url(#g4f)" stroke="#3a68a8" stroke-width="1.5"/>
<circle cx="786.26" cy="351.23" r="17.63" fill="url(#g4f)" stroke="#3a68a8" stroke-width="1.5"/>
<circle cx="681.51" cy="419.22" r="14.46" fill="url(#g4f)" stroke="#3a68a8" stroke-width="1.5"/>
<circle cx="799.43" cy="432.9" r="18.15" fill="url(#g4f)" stroke="#3a68a8" stroke-width="1.5"/>
<circle cx="704.11" cy="336.47" r="21.16" fill="url(#g4f)" stroke="#3a68a8" stroke-width="1.5"/>
<circle cx="853.82" cy="387.79" r="29.28" fill="url(#g4f)" stroke="#3a68a8" stroke-width="1.5"/>
<circle cx="713.37" cy="454.49" r="17.63" fill="url(#g4f)" stroke="#3a68a8" stroke-width="1.5"/>
<circle cx="760.06" cy="460.41" r="23.99" fill="url(#g4f)" stroke="#3a68a8" stroke-width="1.5"/>
<circle cx="831.7" cy="373.65" r="21.67" fill="url(#g4f)" stroke="#3a68a8" stroke-width="1.5"/>
<circle cx="685.51" cy="355.32" r="15.36" fill="url(#g4f)" stroke="#3a68a8" stroke-width="1.5"/>
<circle cx="685.19" cy="347.28" r="26.52" fill="url(#g4f)" stroke="#3a68a8" stroke-width="1.5"/>
<circle cx="745.06" cy="362.58" r="16.86" fill="url(#g4f)" stroke="#3a68a8" stroke-width="1.5"/>
<circle cx="759.93" cy="376.3" r="26.81" fill="url(#g4f)" stroke="#3a68a8" stroke-width="1.5"/>
<circle cx="812.05" cy="415.12" r="20.42" fill="url(#g4f)" stroke="#3a68a8" stroke-width="1.5"/>
<circle cx="837.51" cy="398.7" r="16.72" fill="url(#g4f)" stroke="#3a68a8" stroke-width="1.5"/>
<circle cx="771.69" cy="447.4" r="28.48" fill="url(#g4f)" stroke="#3a68a8" stroke-width="1.5"/>
<circle cx="758.02" cy="396.25" r="27.22" fill="url(#g4f)" stroke="#3a68a8" stroke-width="1.5"/>
<circle cx="836.65" cy="415.66" r="19.61" fill="url(#g4f)" stroke="#3a68a8" stroke-width="1.5"/>
<circle cx="711.54" cy="416.36" r="14.23" fill="url(#g4f)" stroke="#3a68a8" stroke-width="1.5"/>
<circle cx="835.18" cy="411.34" r="22.43" fill="url(#g4f)" stroke="#3a68a8" stroke-width="1.5"/>
<circle cx="810.8" cy="401.14" r="27.95" fill="url(#g4f)" stroke="#3a68a8" stroke-width="1.5"/>
<circle cx="766.5" cy="391.07" r="18.03" fill="url(#g4f)" stroke="#3a68a8" stroke-width="1.5"/>
<circle cx="731.53" cy="464.84" r="23.38" fill="url(#g4f)" stroke="#3a68a8" stroke-width="1.5"/>
<circle cx="740.86" cy="482.58" r="16.1" fill="url(#g4f)" stroke="#3a68a8" stroke-width="1.5"/>
<circle cx="798.77" cy="397.08" r="21.33" fill="url(#g4f)" stroke="#3a68a8" stroke-width="1.5"/>
<circle cx="648.14" cy="379.25" r="20.73" fill="url(#g4f)" stroke="#3a68a8" stroke-width="1.5"/>
<circle cx="813.26" cy="393.23" r="22.51" fill="url(#g4f)" stroke="#3a68a8" stroke-width="1.5"/>
<circle cx="734.2" cy="423.69" r="21.04" fill="url(#g4f)" stroke="#3a68a8" stroke-width="1.5"/>
<circle cx="746.75" cy="428.2" r="26.79" fill="url(#g4f)" stroke="#3a68a8" stroke-width="1.5"/>
<circle cx="780.56" cy="479.82" r="25.6" fill="url(#g4f)" stroke="#3a68a8" stroke-width="1.5"/>
<circle cx="688.14" cy="407.77" r="22.29" fill="url(#g4f)" stroke="#3a68a8" stroke-width="1.5"/>
<circle cx="648.48" cy="396.33" r="15.7" fill="url(#g4f)" stroke="#3a68a8" stroke-width="1.5"/>
<circle cx="697.13" cy="409.41" r="18.43" fill="url(#g4f)" stroke="#3a68a8" stroke-width="1.5"/>
</g>
<g clip-path="url(#c4b)">
<ellipse cx="640" cy="640" rx="120" ry="110" fill="#4a82c8"/>
<circle cx="650.02" cy="574.72" r="22.99" fill="url(#g4f)" stroke="#3a68a8" stroke-width="1.5"/>
<circle cx="646.4" cy="546.48" r="21.09" fill="url(#g4f)" stroke="#3a68a8" stroke-width="1.5"/>
<circle cx="585.46" cy="597.3" r="22.19" fill="url(#g4f)" stroke="#3a68a8" stroke-width="1.5"/>
<circle cx="616.37" cy="582.44" r="22.53" fill="url(#g4f)" stroke="#3a68a8" stroke-width="1.5"/>
<circle cx="536.83" cy="653.14" r="25.19" fill="url(#g4f)" stroke="#3a68a8" stroke-width="1.5"/>
<circle cx="714.38" cy="573.1" r="18.15" fill="url(#g4f)" stroke="#3a68a8" stroke-width="1.5"/>
<circle cx="542.92" cy="605.09" r="27.44" fill="url(#g4f)" stroke="#3a68a8" stroke-width="1.5"/>
<circle cx="659.87" cy="661.22" r="21.07" fill="url(#g4f)" stroke="#3a68a8" stroke-width="1.5"/>
<circle cx="681.25" cy="658.54" r="15.17" fill="url(#g4f)" stroke="#3a68a8" stroke-width="1.5"/>
<circle cx="594.76" cy="565.18" r="28.35" fill="url(#g4f)" stroke="#3a68a8" stroke-width="1.5"/>
<circle cx="689.94" cy="706.86" r="24.56" fill="url(#g4f)" stroke="#3a68a8" stroke-width="1.5"/>
<circle cx="702.43" cy="711.87" r="29.48" fill="url(#g4f)" stroke="#3a68a8" stroke-width="1.5"/>
<circle cx="659.93" cy="734.4" r="20.37" fill="url(#g4f)" stroke="#3a68a8" stroke-width="1.5"/>
<circle cx="533" cy="647.88" r="27.32" fill="url(#g4f)" stroke="#3a68a8" stroke-width="1.5"/>
<circle cx="674.44" cy="690.78" r="22.25" fill="url(#g4f)" stroke="#3a68a8" stroke-width="1.5"/>
<circle cx="618.44" cy="671.53" r="19.1" fill="url(#g4f)" stroke="#3a68a8" stroke-width="1.5"/>
<circle cx="638.23" cy="630.82" r="22.86" fill="url(#g4f)" stroke="#3a68a8" stroke-width="1.5"/>
<circle cx="630.95" cy="643.26" r="19.3" fill="url(#g4f)" stroke="#3a68a8" stroke-width="1.5"/>
<circle cx="588.53" cy="593.46" r="15.03" fill="url(#g4f)" stroke="#3a68a8" stroke-width="1.5"/>
<circle cx="733.23" cy="631.95" r="29.55" fill="url(#g4f)" stroke="#3a68a8" stroke-width="1.5"/>
<circle cx="678.56" cy="667.34" r="14.63" fill="url(#g4f)" stroke="#3a68a8" stroke-width="1.5"/>
<circle cx="648.92" cy="595.57" r="16.07" fill="url(#g4f)" stroke="#3a68a8" stroke-width="1.5"/>
<circle cx="549.8" cy="683.95" r="27.1" fill="url(#g4f)" stroke="#3a68a8" stroke-width="1.5"/>
<circle cx="638.14" cy="671.59" r="28.71" fill="url(#g4f)" stroke="#3a68a8" stroke-width="1.5"/>
<circle cx="561.21" cy="605.69" r="15.43" fill="url(#g4f)" stroke="#3a68a8" stroke-width="1.5"/>
<circle cx="720.73" cy="667.98" r="20.81" fill="url(#g4f)" stroke="#3a68a8" stroke-width="1.5"/>
<circle cx="733.38" cy="681.88" r="24.15" fill="url(#g4f)" stroke="#3a68a8" stroke-width="1.5"/>
<circle cx="647.77" cy="618.81" r="27.7" fill="url(#g4f)" stroke="#3a68a8" stroke-width="1.5"/>
<circle cx="730.31" cy="676.83" r="21.26" fill="url(#g4f)" stroke="#3a68a8" stroke-width="1.5"/>
<circle cx="599.78" cy="698.79" r="28.83" fill="url(#g4f)" stroke="#3a68a8" stroke-width="1.5"/>
<circle cx="636.46" cy="668.82" r="22.43" fill="url(#g4f)" stroke="#3a68a8" stroke-width="1.5"/>
<circle cx="642.08" cy="666.18" r="16.58" fill="url(#g4f)" stroke="#3a68a8" stroke-width="1.5"/>
<circle cx="679.28" cy="651.79" r="18.99" fill="url(#g4f)" stroke="#3a68a8" stroke-width="1.5"/>
<circle cx="608.98" cy="718.97" r="18.64" fill="url(#g4f)" stroke="#3a68a8" stroke-width="1.5"/>
<circle cx="601.67" cy="639.98" r="19.55" fill="url(#g4f)" stroke="#3a68a8" stroke-width="1.5"/>
<circle cx="686.75" cy="644.91" r="14.25" fill="url(#g4f)" stroke="#3a68a8" stroke-width="1.5"/>
<circle cx="631.98" cy="571.15" r="17.03" fill="url(#g4f)" stroke="#3a68a8" stroke-width="1.5"/>
<circle cx="537.6" cy="655.02" r="15.7" fill="url(#g4f)" stroke="#3a68a8" stroke-width="1.5"/>
<circle cx="667.39" cy="585.67" r="21.92" fill="url(#g4f)" stroke="#3a68a8" stroke-width="1.5"/>
<circle cx="671.26" cy="591.26" r="22.11" fill="url(#g4f)" stroke="#3a68a8" stroke-width="1.5"/>
<circle cx="599.24" cy="549.45" r="19.48" fill="url(#g4f)" stroke="#3a68a8" stroke-width="1.5"/>
<circle cx="683.34" cy="570.11" r="24.18" fill="url(#g4f)" stroke="#3a68a8" stroke-width="1.5"/>
<circle cx="592.68" cy="669.6" r="14.87" fill="url(#g4f)" stroke="#3a68a8" stroke-width="1.5"/>
<circle cx="655.1" cy="654.71" r="25.85" fill="url(#g4f)" stroke="#3a68a8" stroke-width="1.5"/>
<circle cx="638.72" cy="673.35" r="15.35" fill="url(#g4f)" stroke="#3a68a8" stroke-width="1.5"/>
<circle cx="693.9" cy="563.47" r="24.73" fill="url(#g4f)" stroke="#3a68a8" stroke-width="1.5"/>
<circle cx="630.81" cy="681.43" r="18.69" fill="url(#g4f)" stroke="#3a68a8" stroke-width="1.5"/>
<circle cx="605.52" cy="648.23" r="21.13" fill="url(#g4f)" stroke="#3a68a8" stroke-width="1.5"/>
<circle cx="631.24" cy="736.38" r="29.56" fill="url(#g4f)" stroke="#3a68a8" stroke-width="1.5"/>
<circle cx="595.63" cy="627.61" r="29.45" fill="url(#g4f)" stroke="#3a68a8" stroke-width="1.5"/>
<circle cx="618.74" cy="689.64" r="14.02" fill="url(#g4f)" stroke="#3a68a8" stroke-width="1.5"/>
<circle cx="589.18" cy="682.87" r="22.04" fill="url(#g4f)" stroke="#3a68a8" stroke-width="1.5"/>
<circle cx="661.73" cy="702.59" r="14.08" fill="url(#g4f)" stroke="#3a68a8" stroke-width="1.5"/>
<circle cx="637.74" cy="663.21" r="20.39" fill="url(#g4f)" stroke="#3a68a8" stroke-width="1.5"/>
<circle cx="650.71" cy="642.63" r="18.87" fill="url(#g4f)" stroke="#3a68a8" stroke-width="1.5"/>
<circle cx="648.45" cy="711.39" r="22.47" fill="url(#g4f)" stroke="#3a68a8" stroke-width="1.5"/>
<circle cx="640.27" cy="563.02" r="25.46" fill="url(#g4f)" stroke="#3a68a8" stroke-width="1.5"/>
<circle cx="684.47" cy="601.27" r="19.22" fill="url(#g4f)" stroke="#3a68a8" stroke-width="1.5"/>
<circle cx="674.37" cy="636.96" r="25.59" fill="url(#g4f)" stroke="#3a68a8" stroke-width="1.5"/>
<circle cx="629.72" cy="628.13" r="27.36" fill="url(#g4f)" stroke="#3a68a8" stroke-width="1.5"/>
<circle cx="703.53" cy="592.99" r="25.74" fill="url(#g4f)" stroke="#3a68a8" stroke-width="1.5"/>
<circle cx="652.61" cy="611.95" r="22.38" fill="url(#g4f)" stroke="#3a68a8" stroke-width="1.5"/>
<circle cx="543.12" cy="637.57" r="26.87" fill="url(#g4f)" stroke="#3a68a8" stroke-width="1.5"/>
<circle cx="676.11" cy="576.4" r="28.29" fill="url(#g4f)" stroke="#3a68a8" stroke-width="1.5"/>
<circle cx="604.51" cy="567.49" r="17.68" fill="url(#g4f)" stroke="#3a68a8" stroke-width="1.5"/>
<circle cx="671.59" cy="645.74" r="19.77" fill="url(#g4f)" stroke="#3a68a8" stroke-width="1.5"/>
<circle cx="716.66" cy="694.45" r="22.94" fill="url(#g4f)" stroke="#3a68a8" stroke-width="1.5"/>
<circle cx="583.33" cy="586.23" r="24.89" fill="url(#g4f)" stroke="#3a68a8" stroke-width="1.5"/>
<circle cx="636.5" cy="640.22" r="26.76" fill="url(#g4f)" stroke="#3a68a8" stroke-width="1.5"/>
<circle cx="639.21" cy="574.46" r="22.56" fill="url(#g4f)" stroke="#3a68a8" stroke-width="1.5"/>
<circle cx="628.59" cy="623.68" r="25.79" fill="url(#g4f)" stroke="#3a68a8" stroke-width="1.5"/>
<circle cx="639.69" cy="660.83" r="18.25" fill="url(#g4f)" stroke="#3a68a8" stroke-width="1.5"/>
<circle cx="634.59" cy="602.04" r="25.84" fill="url(#g4f)" stroke="#3a68a8" stroke-width="1.5"/>
<circle cx="709.91" cy="630.14" r="20.12" fill="url(#g4f)" stroke="#3a68a8" stroke-width="1.5"/>
<circle cx="554.78" cy="650.37" r="26.27" fill="url(#g4f)" stroke="#3a68a8" stroke-width="1.5"/>
<circle cx="578.54" cy="589.08" r="15.24" fill="url(#g4f)" stroke="#3a68a8" stroke-width="1.5"/>
<circle cx="668.51" cy="674.77" r="25.89" fill="url(#g4f)" stroke="#3a68a8" stroke-width="1.5"/>
<circle cx="614.22" cy="706.41" r="14.2" fill="url(#g4f)" stroke="#3a68a8" stroke-width="1.5"/>
<circle cx="685.57" cy="656.74" r="24.75" fill="url(#g4f)" stroke="#3a68a8" stroke-width="1.5"/>
<circle cx="609.66" cy="566.86" r="18.65" fill="url(#g4f)" stroke="#3a68a8" stroke-width="1.5"/>
<circle cx="572.18" cy="633.52" r="21.46" fill="url(#g4f)" stroke="#3a68a8" stroke-width="1.5"/>
<circle cx="714.24" cy="702.71" r="17.19" fill="url(#g4f)" stroke="#3a68a8" stroke-width="1.5"/>
<circle cx="742.83" cy="626.94" r="14.28" fill="url(#g4f)" stroke="#3a68a8" stroke-width="1.5"/>
<circle cx="547.3" cy="662.41" r="29.49" fill="url(#g4f)" stroke="#3a68a8" stroke-width="1.5"/>
<circle cx="593.37" cy="654.05" r="17.36" fill="url(#g4f)" stroke="#3a68a8" stroke-width="1.5"/>
<circle cx="679.97" cy="626.95" r="23.3" fill="url(#g4f)" stroke="#3a68a8" stroke-width="1.5"/>
<circle cx="686.1" cy="692.23" r="29.24" fill="url(#g4f)" stroke="#3a68a8" stroke-width="1.5"/>
<circle cx="704.49" cy="705.05" r="22.14" fill="url(#g4f)" stroke="#3a68a8" stroke-width="1.5"/>
<circle cx="706.25" cy="587.69" r="17.7" fill="url(#g4f)" stroke="#3a68a8" stroke-width="1.5"/>
<circle cx="696.07" cy="601.5" r="14.4" fill="url(#g4f)" stroke="#3a68a8" stroke-width="1.5"/>
</g>
<polygon points="884,368 1000,368 1000,520 960,640 960,790 884,806" fill="#fff"/>
<line x1="990" y1="368" x2="990" y2="785" stroke="#333" stroke-width="3"/>
<line x1="990" y1="385" x2="972" y2="385" stroke="#333" stroke-width="3"/>
<text x="968" y="392" font-size="20" fill="#333" text-anchor="end" font-weight="bold">-2.0</text>
<line x1="990" y1="460" x2="972" y2="460" stroke="#333" stroke-width="3"/>
<text x="968" y="467" font-size="20" fill="#333" text-anchor="end" font-weight="bold">-1.0</text>
<line x1="990" y1="535" x2="972" y2="535" stroke="#333" stroke-width="3"/>
<text x="968" y="542" font-size="20" fill="#333" text-anchor="end" font-weight="bold">0</text>
<line x1="990" y1="610" x2="972" y2="610" stroke="#333" stroke-width="3"/>
<text x="968" y="617" font-size="20" fill="#333" text-anchor="end" font-weight="bold">1.0</text>
<line x1="990" y1="686" x2="972" y2="686" stroke="#333" stroke-width="3"/>
<text x="968" y="693" font-size="20" fill="#333" text-anchor="end" font-weight="bold">2.0</text>
<line x1="990" y1="762" x2="972" y2="762" stroke="#333" stroke-width="3"/>
<text x="968" y="769" font-size="20" fill="#333" text-anchor="end" font-weight="bold">3.0</text>
<text transform="translate(915,580) rotate(-90)" text-anchor="middle" font-size="31" fill="#333" font-weight="bold" textLength="290" lengthAdjust="spacingAndGlyphs">E (eV) vs. NHE (V)</text>
<polygon points="1040.5,306 1017.75,313.39 1031.81,332.74 1009.06,325.35 1009.06,349.27 995,329.92 980.94,349.27 980.94,325.35 958.19,332.74 972.25,313.39 949.5,306 972.25,298.61 958.19,279.26 980.94,286.65 980.94,262.73 995,282.08 1009.06,262.73 1009.06,286.65 1031.81,279.26 1017.75,298.61" fill="#ffb800"/>
<circle cx="995" cy="306" r="26" fill="#ffb800"/>
<circle cx="995" cy="306" r="15.6" fill="#ffa000" opacity="0.55"/>
<polygon points="1035,345 1078,335 1070,362 1108,400 1052,378 1058,355" fill="#f0a800"/>
<text x="1096" y="437" font-size="35.2" fill="#222" font-weight="bold" class="sf" textLength="84" lengthAdjust="spacingAndGlyphs" stroke="#222" stroke-width="0.9">MoS<tspan dy="0.3em" font-size="62%">2</tspan><tspan dy="-0.3em" font-size="62%">&#8203;</tspan></text>
<text x="1033" y="474" font-size="35.2" fill="#222" font-weight="bold" class="sf" textLength="205" lengthAdjust="spacingAndGlyphs" stroke="#222" stroke-width="0.9">Nanoflowers</text>
<ellipse cx="1312" cy="562" rx="100" ry="135" fill="url(#g4b)"/>
<ellipse cx="1158" cy="607" rx="88" ry="105" fill="url(#g4a)"/>
<rect x="1212" y="535" width="62" height="138" fill="#1898e0" fill-opacity="0.35" stroke="#1a3a28" stroke-width="4" stroke-dasharray="12 8"/>
<text x="1215" y="590" font-size="15.88" fill="#e8f8ff" font-weight="bold" class="sf" textLength="52" lengthAdjust="spacingAndGlyphs">Carrier</text>
<text x="1222" y="610" font-size="17.05" fill="#e8f8ff" font-weight="bold" class="sf" textLength="36" lengthAdjust="spacingAndGlyphs">Flow</text>
<circle cx="1222" cy="548" r="5" fill="#f02020"/>
<circle cx="1222" cy="572" r="5" fill="#f02020"/>
<circle cx="1222" cy="640" r="5" fill="#f02020"/>
<circle cx="1222" cy="662" r="5" fill="#f02020"/>
<circle cx="1252" cy="548" r="6" fill="#f02020"/><circle cx="1252" cy="572" r="6" fill="#f02020"/>
<path d="M1105 548 H1205 M1105 690 H1205 M1157 690 V548 M1240 470 H1370 M1225 672 H1385 M1305 672 V470 M1205 535 H1285" stroke="#1a1a1a" stroke-width="4" fill="none"/>
<text x="1100" y="580" font-size="32.39" fill="#12302a" font-weight="bold" class="sf" textLength="45" lengthAdjust="spacingAndGlyphs" stroke="#12302a" stroke-width="0.9">CB</text>
<text x="1092" y="660" font-size="32.39" fill="#12302a" font-weight="bold" class="sf" textLength="45" lengthAdjust="spacingAndGlyphs" stroke="#12302a" stroke-width="0.9">VB</text>
<text x="1128" y="530" font-size="30.8" fill="#0a1a3a" font-weight="bold" class="sf" textLength="50" lengthAdjust="spacingAndGlyphs" stroke="#0a1a3a" stroke-width="0.9">e<tspan dy="-0.55em" font-size="62%">-</tspan><tspan dy="0.55em" font-size="62%">&#8203;</tspan> e<tspan dy="-0.55em" font-size="62%">-</tspan><tspan dy="0.55em" font-size="62%">&#8203;</tspan></text>
<text x="1120" y="702" font-size="29.97" fill="#0a1a3a" font-weight="bold" class="sf" textLength="62" lengthAdjust="spacingAndGlyphs" stroke="#0a1a3a" stroke-width="0.9">h<tspan dy="-0.55em" font-size="62%">+</tspan><tspan dy="0.55em" font-size="62%">&#8203;</tspan> h<tspan dy="-0.55em" font-size="62%">+</tspan><tspan dy="0.55em" font-size="62%">&#8203;</tspan></text>
<text x="1318" y="510" font-size="32.39" fill="#3a2a10" font-weight="bold" class="sf" textLength="45" lengthAdjust="spacingAndGlyphs" stroke="#3a2a10" stroke-width="0.9">CB</text>
<text x="1312" y="646" font-size="32.39" fill="#3a1010" font-weight="bold" class="sf" textLength="45" lengthAdjust="spacingAndGlyphs" stroke="#3a1010" stroke-width="0.9">VB</text>
<text x="1272" y="462" font-size="30.8" fill="#fff" font-weight="bold" class="sf" textLength="60" lengthAdjust="spacingAndGlyphs" stroke="#fff" stroke-width="0.9">e<tspan dy="-0.55em" font-size="62%">-</tspan><tspan dy="0.55em" font-size="62%">&#8203;</tspan> e<tspan dy="-0.55em" font-size="62%">-</tspan><tspan dy="0.55em" font-size="62%">&#8203;</tspan></text>
<text x="1262" y="682" font-size="33" fill="#3a0808" font-weight="bold" class="sf" textLength="88" lengthAdjust="spacingAndGlyphs" stroke="#3a0808" stroke-width="0.9">h<tspan dy="-0.55em" font-size="62%">+</tspan><tspan dy="0.55em" font-size="62%">&#8203;</tspan> h<tspan dy="-0.55em" font-size="62%">+</tspan><tspan dy="0.55em" font-size="62%">&#8203;</tspan></text>
<path d="M1372 455 C1365 410 1395 395 1425 385" fill="none" stroke="#f0a818" stroke-width="14"/>
<polygon points="1440,380 1419.38,408.26 1405.36,375.1" fill="#f0a818"/>
<path d="M1470 498 C1430 505 1395 490 1378 455" fill="none" stroke="#f0a818" stroke-width="12"/>
<path d="M1112 775 C1160 740 1150 700 1085 688" fill="none" stroke="#f0a818" stroke-width="13"/>
<polygon points="1045,688 1076.55,674.08 1073.15,707.91" fill="#f0a818"/>
<text x="1450" y="390" font-size="50.56" fill="#111" font-weight="bold" class="sf" textLength="55" lengthAdjust="spacingAndGlyphs" stroke="#111" stroke-width="0.9">H<tspan dy="0.3em" font-size="62%">2</tspan><tspan dy="-0.3em" font-size="62%">&#8203;</tspan></text>
<text x="1474" y="514" font-size="33.59" fill="#222" font-weight="bold" class="sf" textLength="38" lengthAdjust="spacingAndGlyphs" stroke="#222" stroke-width="0.9">H<tspan dy="-0.55em" font-size="62%">+</tspan><tspan dy="0.55em" font-size="62%">&#8203;</tspan></text>
<text x="998" y="733" font-size="31.37" fill="#222" font-weight="bold" class="sf" textLength="100" lengthAdjust="spacingAndGlyphs" stroke="#222" stroke-width="0.9">TEOA<tspan dy="-0.55em" font-size="62%">+</tspan><tspan dy="0.55em" font-size="62%">&#8203;</tspan></text>
<text x="1050" y="810" font-size="32.46" fill="#222" font-weight="bold" class="sf" textLength="92" lengthAdjust="spacingAndGlyphs" stroke="#222" stroke-width="0.9">TEOA</text>
<text x="1250" y="732" font-size="35.2" fill="#222" font-weight="bold" class="sf" textLength="110" lengthAdjust="spacingAndGlyphs" stroke="#222" stroke-width="0.9">g-C<tspan dy="0.3em" font-size="62%">3</tspan><tspan dy="-0.3em" font-size="62%">&#8203;</tspan>N<tspan dy="0.3em" font-size="62%">4</tspan><tspan dy="-0.3em" font-size="62%">&#8203;</tspan></text>
<text x="1210" y="772" font-size="35.2" fill="#222" font-weight="bold" class="sf" textLength="185" lengthAdjust="spacingAndGlyphs" stroke="#222" stroke-width="0.9">Nanosheets</text>
<text x="480" y="852" font-size="55" fill="#222" font-weight="bold" class="sf" textLength="550" lengthAdjust="spacingAndGlyphs" stroke="#222" stroke-width="0.9">Z-scheme MoS<tspan dy="0.3em" font-size="62%">2</tspan><tspan dy="-0.3em" font-size="62%">&#8203;</tspan>/g-C<tspan dy="0.3em" font-size="62%">3</tspan><tspan dy="-0.3em" font-size="62%">&#8203;</tspan>N<tspan dy="0.3em" font-size="62%">4</tspan><tspan dy="-0.3em" font-size="62%">&#8203;</tspan></text>
</g>
<rect x="94.6" y="1137.2" width="295.8" height="210.8" rx="32" ry="32" fill="none" stroke="#8e8e8e" stroke-width="1.5" stroke-dasharray="6.9 5"/>
<g transform="translate(85,1125) scale(0.20330)">
<polygon points="273.6,157 223.31,165.62 266.48,192.82 216.72,181.53 246.19,223.19 204.53,193.72 215.82,243.48 188.62,200.31 180,250.6 171.38,200.31 144.18,243.48 155.47,193.72 113.81,223.19 143.28,181.53 93.52,192.82 136.69,165.62 86.4,157 136.69,148.38 93.52,121.18 143.28,132.47 113.81,90.81 155.47,120.28 144.18,70.52 171.38,113.69 180,63.4 188.62,113.69 215.82,70.52 204.53,120.28 246.19,90.81 216.72,132.47 266.48,121.18 223.31,148.38" fill="#ffe000"/>
<circle cx="180" cy="157" r="48" fill="#ffb400"/>
<circle cx="180" cy="157" r="28.8" fill="#ff9a00" opacity="0.55"/>
<path d="M640 352 l28 -17 M640 352 l-28 -17 M640 352 v30" stroke="#8e8e8e" stroke-width="2.6" fill="none"/>
<path d="M700 352 l28 -17 M700 352 l-28 -17 M700 352 v30" stroke="#8e8e8e" stroke-width="2.6" fill="none"/>
<path d="M760 352 l28 -17 M760 352 l-28 -17 M760 352 v30" stroke="#8e8e8e" stroke-width="2.6" fill="none"/>
<path d="M820 352 l28 -17 M820 352 l-28 -17 M820 352 v30" stroke="#8e8e8e" stroke-width="2.6" fill="none"/>
<path d="M880 352 l28 -17 M880 352 l-28 -17 M880 352 v30" stroke="#8e8e8e" stroke-width="2.6" fill="none"/>
<path d="M940 352 l28 -17 M940 352 l-28 -17 M940 352 v30" stroke="#8e8e8e" stroke-width="2.6" fill="none"/>
<path d="M1000 352 l28 -17 M1000 352 l-28 -17 M1000 352 v30" stroke="#8e8e8e" stroke-width="2.6" fill="none"/>
<path d="M1060 352 l28 -17 M1060 352 l-28 -17 M1060 352 v30" stroke="#8e8e8e" stroke-width="2.6" fill="none"/>
<path d="M1120 352 l28 -17 M1120 352 l-28 -17 M1120 352 v30" stroke="#8e8e8e" stroke-width="2.6" fill="none"/>
<path d="M1180 352 l28 -17 M1180 352 l-28 -17 M1180 352 v30" stroke="#8e8e8e" stroke-width="2.6" fill="none"/>
<path d="M1240 352 l28 -17 M1240 352 l-28 -17 M1240 352 v30" stroke="#8e8e8e" stroke-width="2.6" fill="none"/>
<path d="M1300 352 l28 -17 M1300 352 l-28 -17 M1300 352 v30" stroke="#8e8e8e" stroke-width="2.6" fill="none"/>
<path d="M1360 352 l28 -17 M1360 352 l-28 -17 M1360 352 v30" stroke="#8e8e8e" stroke-width="2.6" fill="none"/>
<path d="M625 404 l28 -17 M625 404 l-28 -17 M625 404 v30" stroke="#8e8e8e" stroke-width="2.6" fill="none"/>
<path d="M685 404 l28 -17 M685 404 l-28 -17 M685 404 v30" stroke="#8e8e8e" stroke-width="2.6" fill="none"/>
<path d="M745 404 l28 -17 M745 404 l-28 -17 M745 404 v30" stroke="#8e8e8e" stroke-width="2.6" fill="none"/>
<path d="M805 404 l28 -17 M805 404 l-28 -17 M805 404 v30" stroke="#8e8e8e" stroke-width="2.6" fill="none"/>
<path d="M865 404 l28 -17 M865 404 l-28 -17 M865 404 v30" stroke="#8e8e8e" stroke-width="2.6" fill="none"/>
<path d="M925 404 l28 -17 M925 404 l-28 -17 M925 404 v30" stroke="#8e8e8e" stroke-width="2.6" fill="none"/>
<path d="M985 404 l28 -17 M985 404 l-28 -17 M985 404 v30" stroke="#8e8e8e" stroke-width="2.6" fill="none"/>
<path d="M1045 404 l28 -17 M1045 404 l-28 -17 M1045 404 v30" stroke="#8e8e8e" stroke-width="2.6" fill="none"/>
<path d="M1105 404 l28 -17 M1105 404 l-28 -17 M1105 404 v30" stroke="#8e8e8e" stroke-width="2.6" fill="none"/>
<path d="M1165 404 l28 -17 M1165 404 l-28 -17 M1165 404 v30" stroke="#8e8e8e" stroke-width="2.6" fill="none"/>
<path d="M1225 404 l28 -17 M1225 404 l-28 -17 M1225 404 v30" stroke="#8e8e8e" stroke-width="2.6" fill="none"/>
<path d="M1285 404 l28 -17 M1285 404 l-28 -17 M1285 404 v30" stroke="#8e8e8e" stroke-width="2.6" fill="none"/>
<path d="M1345 404 l28 -17 M1345 404 l-28 -17 M1345 404 v30" stroke="#8e8e8e" stroke-width="2.6" fill="none"/>
<path d="M550 456 l28 -17 M550 456 l-28 -17 M550 456 v30" stroke="#8e8e8e" stroke-width="2.6" fill="none"/>
<path d="M610 456 l28 -17 M610 456 l-28 -17 M610 456 v30" stroke="#8e8e8e" stroke-width="2.6" fill="none"/>
<path d="M670 456 l28 -17 M670 456 l-28 -17 M670 456 v30" stroke="#8e8e8e" stroke-width="2.6" fill="none"/>
<path d="M730 456 l28 -17 M730 456 l-28 -17 M730 456 v30" stroke="#8e8e8e" stroke-width="2.6" fill="none"/>
<path d="M790 456 l28 -17 M790 456 l-28 -17 M790 456 v30" stroke="#8e8e8e" stroke-width="2.6" fill="none"/>
<path d="M850 456 l28 -17 M850 456 l-28 -17 M850 456 v30" stroke="#8e8e8e" stroke-width="2.6" fill="none"/>
<path d="M910 456 l28 -17 M910 456 l-28 -17 M910 456 v30" stroke="#8e8e8e" stroke-width="2.6" fill="none"/>
<path d="M970 456 l28 -17 M970 456 l-28 -17 M970 456 v30" stroke="#8e8e8e" stroke-width="2.6" fill="none"/>
<path d="M1030 456 l28 -17 M1030 456 l-28 -17 M1030 456 v30" stroke="#8e8e8e" stroke-width="2.6" fill="none"/>
<path d="M1090 456 l28 -17 M1090 456 l-28 -17 M1090 456 v30" stroke="#8e8e8e" stroke-width="2.6" fill="none"/>
<path d="M1150 456 l28 -17 M1150 456 l-28 -17 M1150 456 v30" stroke="#8e8e8e" stroke-width="2.6" fill="none"/>
<path d="M1210 456 l28 -17 M1210 456 l-28 -17 M1210 456 v30" stroke="#8e8e8e" stroke-width="2.6" fill="none"/>
<path d="M1270 456 l28 -17 M1270 456 l-28 -17 M1270 456 v30" stroke="#8e8e8e" stroke-width="2.6" fill="none"/>
<path d="M1330 456 l28 -17 M1330 456 l-28 -17 M1330 456 v30" stroke="#8e8e8e" stroke-width="2.6" fill="none"/>
<path d="M535 508 l28 -17 M535 508 l-28 -17 M535 508 v30" stroke="#8e8e8e" stroke-width="2.6" fill="none"/>
<path d="M595 508 l28 -17 M595 508 l-28 -17 M595 508 v30" stroke="#8e8e8e" stroke-width="2.6" fill="none"/>
<path d="M655 508 l28 -17 M655 508 l-28 -17 M655 508 v30" stroke="#8e8e8e" stroke-width="2.6" fill="none"/>
<path d="M715 508 l28 -17 M715 508 l-28 -17 M715 508 v30" stroke="#8e8e8e" stroke-width="2.6" fill="none"/>
<path d="M775 508 l28 -17 M775 508 l-28 -17 M775 508 v30" stroke="#8e8e8e" stroke-width="2.6" fill="none"/>
<path d="M835 508 l28 -17 M835 508 l-28 -17 M835 508 v30" stroke="#8e8e8e" stroke-width="2.6" fill="none"/>
<path d="M895 508 l28 -17 M895 508 l-28 -17 M895 508 v30" stroke="#8e8e8e" stroke-width="2.6" fill="none"/>
<path d="M955 508 l28 -17 M955 508 l-28 -17 M955 508 v30" stroke="#8e8e8e" stroke-width="2.6" fill="none"/>
<path d="M1015 508 l28 -17 M1015 508 l-28 -17 M1015 508 v30" stroke="#8e8e8e" stroke-width="2.6" fill="none"/>
<path d="M1075 508 l28 -17 M1075 508 l-28 -17 M1075 508 v30" stroke="#8e8e8e" stroke-width="2.6" fill="none"/>
<path d="M1135 508 l28 -17 M1135 508 l-28 -17 M1135 508 v30" stroke="#8e8e8e" stroke-width="2.6" fill="none"/>
<path d="M1195 508 l28 -17 M1195 508 l-28 -17 M1195 508 v30" stroke="#8e8e8e" stroke-width="2.6" fill="none"/>
<path d="M1255 508 l28 -17 M1255 508 l-28 -17 M1255 508 v30" stroke="#8e8e8e" stroke-width="2.6" fill="none"/>
<path d="M1315 508 l28 -17 M1315 508 l-28 -17 M1315 508 v30" stroke="#8e8e8e" stroke-width="2.6" fill="none"/>
<path d="M460 560 l28 -17 M460 560 l-28 -17 M460 560 v30" stroke="#8e8e8e" stroke-width="2.6" fill="none"/>
<path d="M520 560 l28 -17 M520 560 l-28 -17 M520 560 v30" stroke="#8e8e8e" stroke-width="2.6" fill="none"/>
<path d="M580 560 l28 -17 M580 560 l-28 -17 M580 560 v30" stroke="#8e8e8e" stroke-width="2.6" fill="none"/>
<path d="M640 560 l28 -17 M640 560 l-28 -17 M640 560 v30" stroke="#8e8e8e" stroke-width="2.6" fill="none"/>
<path d="M700 560 l28 -17 M700 560 l-28 -17 M700 560 v30" stroke="#8e8e8e" stroke-width="2.6" fill="none"/>
<path d="M760 560 l28 -17 M760 560 l-28 -17 M760 560 v30" stroke="#8e8e8e" stroke-width="2.6" fill="none"/>
<path d="M820 560 l28 -17 M820 560 l-28 -17 M820 560 v30" stroke="#8e8e8e" stroke-width="2.6" fill="none"/>
<path d="M880 560 l28 -17 M880 560 l-28 -17 M880 560 v30" stroke="#8e8e8e" stroke-width="2.6" fill="none"/>
<path d="M940 560 l28 -17 M940 560 l-28 -17 M940 560 v30" stroke="#8e8e8e" stroke-width="2.6" fill="none"/>
<path d="M1000 560 l28 -17 M1000 560 l-28 -17 M1000 560 v30" stroke="#8e8e8e" stroke-width="2.6" fill="none"/>
<path d="M1060 560 l28 -17 M1060 560 l-28 -17 M1060 560 v30" stroke="#8e8e8e" stroke-width="2.6" fill="none"/>
<path d="M1120 560 l28 -17 M1120 560 l-28 -17 M1120 560 v30" stroke="#8e8e8e" stroke-width="2.6" fill="none"/>
<path d="M1180 560 l28 -17 M1180 560 l-28 -17 M1180 560 v30" stroke="#8e8e8e" stroke-width="2.6" fill="none"/>
<path d="M1240 560 l28 -17 M1240 560 l-28 -17 M1240 560 v30" stroke="#8e8e8e" stroke-width="2.6" fill="none"/>
<path d="M445 612 l28 -17 M445 612 l-28 -17 M445 612 v30" stroke="#8e8e8e" stroke-width="2.6" fill="none"/>
<path d="M505 612 l28 -17 M505 612 l-28 -17 M505 612 v30" stroke="#8e8e8e" stroke-width="2.6" fill="none"/>
<path d="M565 612 l28 -17 M565 612 l-28 -17 M565 612 v30" stroke="#8e8e8e" stroke-width="2.6" fill="none"/>
<path d="M625 612 l28 -17 M625 612 l-28 -17 M625 612 v30" stroke="#8e8e8e" stroke-width="2.6" fill="none"/>
<path d="M685 612 l28 -17 M685 612 l-28 -17 M685 612 v30" stroke="#8e8e8e" stroke-width="2.6" fill="none"/>
<path d="M745 612 l28 -17 M745 612 l-28 -17 M745 612 v30" stroke="#8e8e8e" stroke-width="2.6" fill="none"/>
<path d="M805 612 l28 -17 M805 612 l-28 -17 M805 612 v30" stroke="#8e8e8e" stroke-width="2.6" fill="none"/>
<path d="M865 612 l28 -17 M865 612 l-28 -17 M865 612 v30" stroke="#8e8e8e" stroke-width="2.6" fill="none"/>
<path d="M925 612 l28 -17 M925 612 l-28 -17 M925 612 v30" stroke="#8e8e8e" stroke-width="2.6" fill="none"/>
<path d="M985 612 l28 -17 M985 612 l-28 -17 M985 612 v30" stroke="#8e8e8e" stroke-width="2.6" fill="none"/>
<path d="M1045 612 l28 -17 M1045 612 l-28 -17 M1045 612 v30" stroke="#8e8e8e" stroke-width="2.6" fill="none"/>
<path d="M1105 612 l28 -17 M1105 612 l-28 -17 M1105 612 v30" stroke="#8e8e8e" stroke-width="2.6" fill="none"/>
<path d="M1165 612 l28 -17 M1165 612 l-28 -17 M1165 612 v30" stroke="#8e8e8e" stroke-width="2.6" fill="none"/>
<path d="M1225 612 l28 -17 M1225 612 l-28 -17 M1225 612 v30" stroke="#8e8e8e" stroke-width="2.6" fill="none"/>
<path d="M370 664 l28 -17 M370 664 l-28 -17 M370 664 v30" stroke="#8e8e8e" stroke-width="2.6" fill="none"/>
<path d="M430 664 l28 -17 M430 664 l-28 -17 M430 664 v30" stroke="#8e8e8e" stroke-width="2.6" fill="none"/>
<path d="M490 664 l28 -17 M490 664 l-28 -17 M490 664 v30" stroke="#8e8e8e" stroke-width="2.6" fill="none"/>
<path d="M550 664 l28 -17 M550 664 l-28 -17 M550 664 v30" stroke="#8e8e8e" stroke-width="2.6" fill="none"/>
<path d="M610 664 l28 -17 M610 664 l-28 -17 M610 664 v30" stroke="#8e8e8e" stroke-width="2.6" fill="none"/>
<path d="M670 664 l28 -17 M670 664 l-28 -17 M670 664 v30" stroke="#8e8e8e" stroke-width="2.6" fill="none"/>
<path d="M730 664 l28 -17 M730 664 l-28 -17 M730 664 v30" stroke="#8e8e8e" stroke-width="2.6" fill="none"/>
<path d="M790 664 l28 -17 M790 664 l-28 -17 M790 664 v30" stroke="#8e8e8e" stroke-width="2.6" fill="none"/>
<path d="M850 664 l28 -17 M850 664 l-28 -17 M850 664 v30" stroke="#8e8e8e" stroke-width="2.6" fill="none"/>
<path d="M910 664 l28 -17 M910 664 l-28 -17 M910 664 v30" stroke="#8e8e8e" stroke-width="2.6" fill="none"/>
<path d="M970 664 l28 -17 M970 664 l-28 -17 M970 664 v30" stroke="#8e8e8e" stroke-width="2.6" fill="none"/>
<path d="M1030 664 l28 -17 M1030 664 l-28 -17 M1030 664 v30" stroke="#8e8e8e" stroke-width="2.6" fill="none"/>
<path d="M1090 664 l28 -17 M1090 664 l-28 -17 M1090 664 v30" stroke="#8e8e8e" stroke-width="2.6" fill="none"/>
<path d="M1150 664 l28 -17 M1150 664 l-28 -17 M1150 664 v30" stroke="#8e8e8e" stroke-width="2.6" fill="none"/>
<circle cx="640" cy="352" r="6" fill="#555"/>
<polygon points="660,328 678,328 669,342" fill="#1a66e8"/>
<polygon points="631,376 649,376 640,390" fill="#1a66e8"/>
<circle cx="700" cy="352" r="6" fill="#555"/>
<polygon points="720,328 738,328 729,342" fill="#1a66e8"/>
<polygon points="691,376 709,376 700,390" fill="#1a66e8"/>
<circle cx="760" cy="352" r="6" fill="#555"/>
<polygon points="780,328 798,328 789,342" fill="#1a66e8"/>
<polygon points="751,376 769,376 760,390" fill="#1a66e8"/>
<circle cx="820" cy="352" r="6" fill="#555"/>
<polygon points="840,328 858,328 849,342" fill="#1a66e8"/>
<polygon points="811,376 829,376 820,390" fill="#1a66e8"/>
<circle cx="880" cy="352" r="6" fill="#555"/>
<polygon points="900,328 918,328 909,342" fill="#1a66e8"/>
<polygon points="871,376 889,376 880,390" fill="#1a66e8"/>
<circle cx="940" cy="352" r="6" fill="#555"/>
<polygon points="960,328 978,328 969,342" fill="#1a66e8"/>
<polygon points="931,376 949,376 940,390" fill="#1a66e8"/>
<circle cx="1000" cy="352" r="6" fill="#555"/>
<polygon points="1020,328 1038,328 1029,342" fill="#1a66e8"/>
<polygon points="991,376 1009,376 1000,390" fill="#1a66e8"/>
<circle cx="1060" cy="352" r="6" fill="#555"/>
<polygon points="1080,328 1098,328 1089,342" fill="#1a66e8"/>
<polygon points="1051,376 1069,376 1060,390" fill="#1a66e8"/>
<circle cx="1120" cy="352" r="6" fill="#555"/>
<polygon points="1140,328 1158,328 1149,342" fill="#1a66e8"/>
<polygon points="1111,376 1129,376 1120,390" fill="#1a66e8"/>
<circle cx="1180" cy="352" r="6" fill="#555"/>
<polygon points="1200,328 1218,328 1209,342" fill="#1a66e8"/>
<polygon points="1171,376 1189,376 1180,390" fill="#1a66e8"/>
<circle cx="1240" cy="352" r="6" fill="#555"/>
<polygon points="1260,328 1278,328 1269,342" fill="#1a66e8"/>
<polygon points="1231,376 1249,376 1240,390" fill="#1a66e8"/>
<circle cx="1300" cy="352" r="6" fill="#555"/>
<polygon points="1320,328 1338,328 1329,342" fill="#1a66e8"/>
<polygon points="1291,376 1309,376 1300,390" fill="#1a66e8"/>
<circle cx="1360" cy="352" r="6" fill="#555"/>
<polygon points="1380,328 1398,328 1389,342" fill="#1a66e8"/>
<polygon points="1351,376 1369,376 1360,390" fill="#1a66e8"/>
<circle cx="625" cy="404" r="6" fill="#555"/>
<polygon points="645,380 663,380 654,394" fill="#1a66e8"/>
<polygon points="616,428 634,428 625,442" fill="#1a66e8"/>
<circle cx="685" cy="404" r="6" fill="#555"/>
<polygon points="705,380 723,380 714,394" fill="#1a66e8"/>
<polygon points="676,428 694,428 685,442" fill="#1a66e8"/>
<circle cx="745" cy="404" r="6" fill="#555"/>
<polygon points="765,380 783,380 774,394" fill="#1a66e8"/>
<polygon points="736,428 754,428 745,442" fill="#1a66e8"/>
<circle cx="805" cy="404" r="6" fill="#555"/>
<polygon points="825,380 843,380 834,394" fill="#1a66e8"/>
<polygon points="796,428 814,428 805,442" fill="#1a66e8"/>
<circle cx="865" cy="404" r="6" fill="#555"/>
<polygon points="885,380 903,380 894,394" fill="#1a66e8"/>
<polygon points="856,428 874,428 865,442" fill="#1a66e8"/>
<circle cx="925" cy="404" r="6" fill="#555"/>
<polygon points="945,380 963,380 954,394" fill="#1a66e8"/>
<polygon points="916,428 934,428 925,442" fill="#1a66e8"/>
<circle cx="985" cy="404" r="6" fill="#555"/>
<polygon points="1005,380 1023,380 1014,394" fill="#1a66e8"/>
<polygon points="976,428 994,428 985,442" fill="#1a66e8"/>
<circle cx="1045" cy="404" r="6" fill="#555"/>
<polygon points="1065,380 1083,380 1074,394" fill="#1a66e8"/>
<polygon points="1036,428 1054,428 1045,442" fill="#1a66e8"/>
<circle cx="1105" cy="404" r="6" fill="#555"/>
<polygon points="1125,380 1143,380 1134,394" fill="#1a66e8"/>
<polygon points="1096,428 1114,428 1105,442" fill="#1a66e8"/>
<circle cx="1165" cy="404" r="6" fill="#555"/>
<polygon points="1185,380 1203,380 1194,394" fill="#1a66e8"/>
<polygon points="1156,428 1174,428 1165,442" fill="#1a66e8"/>
<circle cx="1225" cy="404" r="6" fill="#555"/>
<polygon points="1245,380 1263,380 1254,394" fill="#1a66e8"/>
<polygon points="1216,428 1234,428 1225,442" fill="#1a66e8"/>
<circle cx="1285" cy="404" r="6" fill="#555"/>
<polygon points="1305,380 1323,380 1314,394" fill="#1a66e8"/>
<polygon points="1276,428 1294,428 1285,442" fill="#1a66e8"/>
<circle cx="1345" cy="404" r="6" fill="#555"/>
<polygon points="1365,380 1383,380 1374,394" fill="#1a66e8"/>
<polygon points="1336,428 1354,428 1345,442" fill="#1a66e8"/>
<circle cx="550" cy="456" r="6" fill="#555"/>
<polygon points="570,432 588,432 579,446" fill="#1a66e8"/>
<polygon points="541,480 559,480 550,494" fill="#1a66e8"/>
<circle cx="610" cy="456" r="6" fill="#555"/>
<polygon points="630,432 648,432 639,446" fill="#1a66e8"/>
<polygon points="601,480 619,480 610,494" fill="#1a66e8"/>
<circle cx="670" cy="456" r="6" fill="#555"/>
<polygon points="690,432 708,432 699,446" fill="#1a66e8"/>
<polygon points="661,480 679,480 670,494" fill="#1a66e8"/>
<circle cx="730" cy="456" r="6" fill="#555"/>
<polygon points="750,432 768,432 759,446" fill="#1a66e8"/>
<polygon points="721,480 739,480 730,494" fill="#1a66e8"/>
<circle cx="790" cy="456" r="6" fill="#555"/>
<polygon points="810,432 828,432 819,446" fill="#1a66e8"/>
<polygon points="781,480 799,480 790,494" fill="#1a66e8"/>
<circle cx="850" cy="456" r="6" fill="#555"/>
<polygon points="870,432 888,432 879,446" fill="#1a66e8"/>
<polygon points="841,480 859,480 850,494" fill="#1a66e8"/>
<circle cx="910" cy="456" r="6" fill="#555"/>
<polygon points="930,432 948,432 939,446" fill="#1a66e8"/>
<polygon points="901,480 919,480 910,494" fill="#1a66e8"/>
<circle cx="970" cy="456" r="6" fill="#555"/>
<polygon points="990,432 1008,432 999,446" fill="#1a66e8"/>
<polygon points="961,480 979,480 970,494" fill="#1a66e8"/>
<circle cx="1030" cy="456" r="6" fill="#555"/>
<polygon points="1050,432 1068,432 1059,446" fill="#1a66e8"/>
<polygon points="1021,480 1039,480 1030,494" fill="#1a66e8"/>
<circle cx="1090" cy="456" r="6" fill="#555"/>
<polygon points="1110,432 1128,432 1119,446" fill="#1a66e8"/>
<polygon points="1081,480 1099,480 1090,494" fill="#1a66e8"/>
<circle cx="1150" cy="456" r="6" fill="#555"/>
<polygon points="1170,432 1188,432 1179,446" fill="#1a66e8"/>
<polygon points="1141,480 1159,480 1150,494" fill="#1a66e8"/>
<circle cx="1210" cy="456" r="6" fill="#555"/>
<polygon points="1230,432 1248,432 1239,446" fill="#1a66e8"/>
<polygon points="1201,480 1219,480 1210,494" fill="#1a66e8"/>
<circle cx="1270" cy="456" r="6" fill="#555"/>
<polygon points="1290,432 1308,432 1299,446" fill="#1a66e8"/>
<polygon points="1261,480 1279,480 1270,494" fill="#1a66e8"/>
<circle cx="1330" cy="456" r="6" fill="#555"/>
<polygon points="1350,432 1368,432 1359,446" fill="#1a66e8"/>
<polygon points="1321,480 1339,480 1330,494" fill="#1a66e8"/>
<circle cx="535" cy="508" r="6" fill="#555"/>
<polygon points="555,484 573,484 564,498" fill="#1a66e8"/>
<polygon points="526,532 544,532 535,546" fill="#1a66e8"/>
<circle cx="595" cy="508" r="6" fill="#555"/>
<polygon points="615,484 633,484 624,498" fill="#1a66e8"/>
<polygon points="586,532 604,532 595,546" fill="#1a66e8"/>
<circle cx="655" cy="508" r="6" fill="#555"/>
<polygon points="675,484 693,484 684,498" fill="#1a66e8"/>
<polygon points="646,532 664,532 655,546" fill="#1a66e8"/>
<circle cx="715" cy="508" r="6" fill="#555"/>
<polygon points="735,484 753,484 744,498" fill="#1a66e8"/>
<polygon points="706,532 724,532 715,546" fill="#1a66e8"/>
<circle cx="775" cy="508" r="6" fill="#555"/>
<polygon points="795,484 813,484 804,498" fill="#1a66e8"/>
<polygon points="766,532 784,532 775,546" fill="#1a66e8"/>
<circle cx="835" cy="508" r="6" fill="#555"/>
<polygon points="855,484 873,484 864,498" fill="#1a66e8"/>
<polygon points="826,532 844,532 835,546" fill="#1a66e8"/>
<circle cx="895" cy="508" r="6" fill="#555"/>
<polygon points="915,484 933,484 924,498" fill="#1a66e8"/>
<polygon points="886,532 904,532 895,546" fill="#1a66e8"/>
<circle cx="955" cy="508" r="6" fill="#555"/>
<polygon points="975,484 993,484 984,498" fill="#1a66e8"/>
<polygon points="946,532 964,532 955,546" fill="#1a66e8"/>
<circle cx="1015" cy="508" r="6" fill="#555"/>
<polygon points="1035,484 1053,484 1044,498" fill="#1a66e8"/>
<polygon points="1006,532 1024,532 1015,546" fill="#1a66e8"/>
<circle cx="1075" cy="508" r="6" fill="#555"/>
<polygon points="1095,484 1113,484 1104,498" fill="#1a66e8"/>
<polygon points="1066,532 1084,532 1075,546" fill="#1a66e8"/>
<circle cx="1135" cy="508" r="6" fill="#555"/>
<polygon points="1155,484 1173,484 1164,498" fill="#1a66e8"/>
<polygon points="1126,532 1144,532 1135,546" fill="#1a66e8"/>
<circle cx="1195" cy="508" r="6" fill="#555"/>
<polygon points="1215,484 1233,484 1224,498" fill="#1a66e8"/>
<polygon points="1186,532 1204,532 1195,546" fill="#1a66e8"/>
<circle cx="1255" cy="508" r="6" fill="#555"/>
<polygon points="1275,484 1293,484 1284,498" fill="#1a66e8"/>
<polygon points="1246,532 1264,532 1255,546" fill="#1a66e8"/>
<circle cx="1315" cy="508" r="6" fill="#555"/>
<polygon points="1335,484 1353,484 1344,498" fill="#1a66e8"/>
<polygon points="1306,532 1324,532 1315,546" fill="#1a66e8"/>
<circle cx="460" cy="560" r="6" fill="#555"/>
<polygon points="480,536 498,536 489,550" fill="#1a66e8"/>
<polygon points="451,584 469,584 460,598" fill="#1a66e8"/>
<circle cx="520" cy="560" r="6" fill="#555"/>
<polygon points="540,536 558,536 549,550" fill="#1a66e8"/>
<polygon points="511,584 529,584 520,598" fill="#1a66e8"/>
<circle cx="580" cy="560" r="6" fill="#555"/>
<polygon points="600,536 618,536 609,550" fill="#1a66e8"/>
<polygon points="571,584 589,584 580,598" fill="#1a66e8"/>
<circle cx="640" cy="560" r="6" fill="#555"/>
<polygon points="660,536 678,536 669,550" fill="#1a66e8"/>
<polygon points="631,584 649,584 640,598" fill="#1a66e8"/>
<circle cx="700" cy="560" r="6" fill="#555"/>
<polygon points="720,536 738,536 729,550" fill="#1a66e8"/>
<polygon points="691,584 709,584 700,598" fill="#1a66e8"/>
<circle cx="760" cy="560" r="6" fill="#555"/>
<polygon points="780,536 798,536 789,550" fill="#1a66e8"/>
<polygon points="751,584 769,584 760,598" fill="#1a66e8"/>
<circle cx="820" cy="560" r="6" fill="#555"/>
<polygon points="840,536 858,536 849,550" fill="#1a66e8"/>
<polygon points="811,584 829,584 820,598" fill="#1a66e8"/>
<circle cx="880" cy="560" r="6" fill="#555"/>
<polygon points="900,536 918,536 909,550" fill="#1a66e8"/>
<polygon points="871,584 889,584 880,598" fill="#1a66e8"/>
<circle cx="940" cy="560" r="6" fill="#555"/>
<polygon points="960,536 978,536 969,550" fill="#1a66e8"/>
<polygon points="931,584 949,584 940,598" fill="#1a66e8"/>
<circle cx="1000" cy="560" r="6" fill="#555"/>
<polygon points="1020,536 1038,536 1029,550" fill="#1a66e8"/>
<polygon points="991,584 1009,584 1000,598" fill="#1a66e8"/>
<circle cx="1060" cy="560" r="6" fill="#555"/>
<polygon points="1080,536 1098,536 1089,550" fill="#1a66e8"/>
<polygon points="1051,584 1069,584 1060,598" fill="#1a66e8"/>
<circle cx="1120" cy="560" r="6" fill="#555"/>
<polygon points="1140,536 1158,536 1149,550" fill="#1a66e8"/>
<polygon points="1111,584 1129,584 1120,598" fill="#1a66e8"/>
<circle cx="1180" cy="560" r="6" fill="#555"/>
<polygon points="1200,536 1218,536 1209,550" fill="#1a66e8"/>
<polygon points="1171,584 1189,584 1180,598" fill="#1a66e8"/>
<circle cx="1240" cy="560" r="6" fill="#555"/>
<polygon points="1260,536 1278,536 1269,550" fill="#1a66e8"/>
<polygon points="1231,584 1249,584 1240,598" fill="#1a66e8"/>
<circle cx="445" cy="612" r="6" fill="#555"/>
<polygon points="465,588 483,588 474,602" fill="#1a66e8"/>
<polygon points="436,636 454,636 445,650" fill="#1a66e8"/>
<circle cx="505" cy="612" r="6" fill="#555"/>
<polygon points="525,588 543,588 534,602" fill="#1a66e8"/>
<polygon points="496,636 514,636 505,650" fill="#1a66e8"/>
<circle cx="565" cy="612" r="6" fill="#555"/>
<polygon points="585,588 603,588 594,602" fill="#1a66e8"/>
<polygon points="556,636 574,636 565,650" fill="#1a66e8"/>
<circle cx="625" cy="612" r="6" fill="#555"/>
<polygon points="645,588 663,588 654,602" fill="#1a66e8"/>
<polygon points="616,636 634,636 625,650" fill="#1a66e8"/>
<circle cx="685" cy="612" r="6" fill="#555"/>
<polygon points="705,588 723,588 714,602" fill="#1a66e8"/>
<polygon points="676,636 694,636 685,650" fill="#1a66e8"/>
<circle cx="745" cy="612" r="6" fill="#555"/>
<polygon points="765,588 783,588 774,602" fill="#1a66e8"/>
<polygon points="736,636 754,636 745,650" fill="#1a66e8"/>
<circle cx="805" cy="612" r="6" fill="#555"/>
<polygon points="825,588 843,588 834,602" fill="#1a66e8"/>
<polygon points="796,636 814,636 805,650" fill="#1a66e8"/>
<circle cx="865" cy="612" r="6" fill="#555"/>
<polygon points="885,588 903,588 894,602" fill="#1a66e8"/>
<polygon points="856,636 874,636 865,650" fill="#1a66e8"/>
<circle cx="925" cy="612" r="6" fill="#555"/>
<polygon points="945,588 963,588 954,602" fill="#1a66e8"/>
<polygon points="916,636 934,636 925,650" fill="#1a66e8"/>
<circle cx="985" cy="612" r="6" fill="#555"/>
<polygon points="1005,588 1023,588 1014,602" fill="#1a66e8"/>
<polygon points="976,636 994,636 985,650" fill="#1a66e8"/>
<circle cx="1045" cy="612" r="6" fill="#555"/>
<polygon points="1065,588 1083,588 1074,602" fill="#1a66e8"/>
<polygon points="1036,636 1054,636 1045,650" fill="#1a66e8"/>
<circle cx="1105" cy="612" r="6" fill="#555"/>
<polygon points="1125,588 1143,588 1134,602" fill="#1a66e8"/>
<polygon points="1096,636 1114,636 1105,650" fill="#1a66e8"/>
<circle cx="1165" cy="612" r="6" fill="#555"/>
<polygon points="1185,588 1203,588 1194,602" fill="#1a66e8"/>
<polygon points="1156,636 1174,636 1165,650" fill="#1a66e8"/>
<circle cx="1225" cy="612" r="6" fill="#555"/>
<polygon points="1245,588 1263,588 1254,602" fill="#1a66e8"/>
<polygon points="1216,636 1234,636 1225,650" fill="#1a66e8"/>
<circle cx="370" cy="664" r="6" fill="#555"/>
<polygon points="390,640 408,640 399,654" fill="#1a66e8"/>
<polygon points="361,688 379,688 370,702" fill="#1a66e8"/>
<circle cx="430" cy="664" r="6" fill="#555"/>
<polygon points="450,640 468,640 459,654" fill="#1a66e8"/>
<polygon points="421,688 439,688 430,702" fill="#1a66e8"/>
<circle cx="490" cy="664" r="6" fill="#555"/>
<polygon points="510,640 528,640 519,654" fill="#1a66e8"/>
<polygon points="481,688 499,688 490,702" fill="#1a66e8"/>
<circle cx="550" cy="664" r="6" fill="#555"/>
<polygon points="570,640 588,640 579,654" fill="#1a66e8"/>
<polygon points="541,688 559,688 550,702" fill="#1a66e8"/>
<circle cx="610" cy="664" r="6" fill="#555"/>
<polygon points="630,640 648,640 639,654" fill="#1a66e8"/>
<polygon points="601,688 619,688 610,702" fill="#1a66e8"/>
<circle cx="670" cy="664" r="6" fill="#555"/>
<polygon points="690,640 708,640 699,654" fill="#1a66e8"/>
<polygon points="661,688 679,688 670,702" fill="#1a66e8"/>
<circle cx="730" cy="664" r="6" fill="#555"/>
<polygon points="750,640 768,640 759,654" fill="#1a66e8"/>
<polygon points="721,688 739,688 730,702" fill="#1a66e8"/>
<circle cx="790" cy="664" r="6" fill="#555"/>
<polygon points="810,640 828,640 819,654" fill="#1a66e8"/>
<polygon points="781,688 799,688 790,702" fill="#1a66e8"/>
<circle cx="850" cy="664" r="6" fill="#555"/>
<polygon points="870,640 888,640 879,654" fill="#1a66e8"/>
<polygon points="841,688 859,688 850,702" fill="#1a66e8"/>
<circle cx="910" cy="664" r="6" fill="#555"/>
<polygon points="930,640 948,640 939,654" fill="#1a66e8"/>
<polygon points="901,688 919,688 910,702" fill="#1a66e8"/>
<circle cx="970" cy="664" r="6" fill="#555"/>
<polygon points="990,640 1008,640 999,654" fill="#1a66e8"/>
<polygon points="961,688 979,688 970,702" fill="#1a66e8"/>
<circle cx="1030" cy="664" r="6" fill="#555"/>
<polygon points="1050,640 1068,640 1059,654" fill="#1a66e8"/>
<polygon points="1021,688 1039,688 1030,702" fill="#1a66e8"/>
<circle cx="1090" cy="664" r="6" fill="#555"/>
<polygon points="1110,640 1128,640 1119,654" fill="#1a66e8"/>
<polygon points="1081,688 1099,688 1090,702" fill="#1a66e8"/>
<circle cx="1150" cy="664" r="6" fill="#555"/>
<polygon points="1170,640 1188,640 1179,654" fill="#1a66e8"/>
<polygon points="1141,688 1159,688 1150,702" fill="#1a66e8"/>
<circle cx="800" cy="420" r="9" fill="#d8c0f0" stroke="#8a50d0" stroke-width="4"/>
<circle cx="995" cy="418" r="9" fill="#d8c0f0" stroke="#8a50d0" stroke-width="4"/>
<circle cx="1185" cy="418" r="9" fill="#d8c0f0" stroke="#8a50d0" stroke-width="4"/>
<circle cx="790" cy="660" r="9" fill="#d8c0f0" stroke="#8a50d0" stroke-width="4"/>
<circle cx="1008" cy="660" r="9" fill="#d8c0f0" stroke="#8a50d0" stroke-width="4"/>
<circle cx="1228" cy="660" r="9" fill="#d8c0f0" stroke="#8a50d0" stroke-width="4"/>
<polygon points="735,370 769,337 835,337 869,370 835,403 769,403" fill="#f2506a" stroke="#f78a9a" stroke-width="3"/>
<polygon points="1010,402 1044,369 1110,369 1144,402 1110,435 1044,435" fill="#f2506a" stroke="#f78a9a" stroke-width="3"/>
<polygon points="1170,362 1204,329 1270,329 1304,362 1270,395 1204,395" fill="#f2506a" stroke="#f78a9a" stroke-width="3"/>
<polygon points="709,466 743,433 809,433 843,466 809,499 743,499" fill="#f2506a" stroke="#f78a9a" stroke-width="3"/>
<polygon points="633,560 667,527 733,527 767,560 733,593 667,593" fill="#f2506a" stroke="#f78a9a" stroke-width="3"/>
<polygon points="709,620 743,587 809,587 843,620 809,653 743,653" fill="#f2506a" stroke="#f78a9a" stroke-width="3"/>
<polygon points="895,620 929,587 995,587 1029,620 995,653 929,653" fill="#f2506a" stroke="#f78a9a" stroke-width="3"/>
<rect x="892" y="441" width="112" height="112" rx="22" fill="#f2506a" stroke="#f78a9a" stroke-width="3" transform="rotate(-4 948 497)"/>
<rect x="1143" y="444" width="106" height="106" rx="22" fill="#f2506a" stroke="#f78a9a" stroke-width="3" transform="rotate(-4 1196 497)"/>
<rect x="1035" y="504" width="102" height="102" rx="22" fill="#f2506a" stroke="#f78a9a" stroke-width="3" transform="rotate(-4 1086 555)"/>
<rect x="472" y="543" width="106" height="106" rx="22" fill="#f2506a" stroke="#f78a9a" stroke-width="3" transform="rotate(-4 525 596)"/>
<rect x="1150" y="915" width="80" height="80" rx="22" fill="#f2506a" stroke="#f78a9a" stroke-width="3" transform="rotate(-4 1190 955)"/>
<path d="M445 350 C480 385 545 375 560 325" fill="none" stroke="#8c8c8c" stroke-width="15"/><polygon points="562,300 579.54,335.33 539.65,332.5" fill="#8c8c8c"/>
<path d="M620 395 C640 450 560 490 500 478" fill="none" stroke="#8c8c8c" stroke-width="15"/><polygon points="478,470 516.39,460.94 504.57,499.15" fill="#8c8c8c"/>
<path d="M1020 320 C1030 375 1130 385 1150 340" fill="none" stroke="#8c8c8c" stroke-width="15"/><polygon points="1155,318 1168.93,354.9 1129.51,348.11" fill="#8c8c8c"/>
<path d="M432 710 C440 655 560 635 590 685" fill="none" stroke="#8c8c8c" stroke-width="15"/><polygon points="602,705 568.75,683.77 604.4,665.63" fill="#8c8c8c"/>
<path d="M555 850 C555 790 660 760 705 795" fill="none" stroke="#8c8c8c" stroke-width="15"/><polygon points="722,812 683.96,801.54 712.66,773.68" fill="#8c8c8c"/>
<path d="M992 725 C1010 670 1120 660 1155 715" fill="none" stroke="#8c8c8c" stroke-width="15"/><polygon points="1165,735 1131.75,713.77 1167.4,695.63" fill="#8c8c8c"/>
<polygon points="295.38,305.5 272,319 248.62,305.5 248.62,278.5 272,265 295.38,278.5" fill="none" stroke="#2a2a2a" stroke-width="7"/>
<circle cx="295.38" cy="305.5" r="6.5" fill="#1a1a1a"/>
<circle cx="272" cy="319" r="6.5" fill="#1a1a1a"/>
<circle cx="248.62" cy="305.5" r="6.5" fill="#1a1a1a"/>
<circle cx="248.62" cy="278.5" r="6.5" fill="#1a1a1a"/>
<circle cx="272" cy="265" r="6.5" fill="#1a1a1a"/>
<circle cx="295.38" cy="278.5" r="6.5" fill="#1a1a1a"/>
<polygon points="341.38,297.5 318,311 294.62,297.5 294.62,270.5 318,257 341.38,270.5" fill="none" stroke="#2a2a2a" stroke-width="7"/>
<circle cx="341.38" cy="297.5" r="6.5" fill="#1a1a1a"/>
<circle cx="318" cy="311" r="6.5" fill="#1a1a1a"/>
<circle cx="294.62" cy="297.5" r="6.5" fill="#1a1a1a"/>
<circle cx="294.62" cy="270.5" r="6.5" fill="#1a1a1a"/>
<circle cx="318" cy="257" r="6.5" fill="#1a1a1a"/>
<circle cx="341.38" cy="270.5" r="6.5" fill="#1a1a1a"/>
<polygon points="387.38,289.5 364,303 340.62,289.5 340.62,262.5 364,249 387.38,262.5" fill="none" stroke="#2a2a2a" stroke-width="7"/>
<circle cx="387.38" cy="289.5" r="6.5" fill="#1a1a1a"/>
<circle cx="364" cy="303" r="6.5" fill="#1a1a1a"/>
<circle cx="340.62" cy="289.5" r="6.5" fill="#1a1a1a"/>
<circle cx="340.62" cy="262.5" r="6.5" fill="#1a1a1a"/>
<circle cx="364" cy="249" r="6.5" fill="#1a1a1a"/>
<circle cx="387.38" cy="262.5" r="6.5" fill="#1a1a1a"/>
<path d="M402 282 l12 -14 l12 16" fill="none" stroke="#333" stroke-width="7"/>
<path d="M424 282 l12 -14 l12 16" fill="none" stroke="#333" stroke-width="7"/>
<path d="M446 282 l12 -14 l12 16" fill="none" stroke="#333" stroke-width="7"/>
<path d="M468 282 l12 -14 l12 16" fill="none" stroke="#333" stroke-width="7"/>
<circle cx="252" cy="330" r="6" fill="#e81818"/>
<circle cx="297" cy="334" r="6" fill="#e81818"/>
<circle cx="342" cy="327" r="6" fill="#e81818"/>
<circle cx="382" cy="322" r="6" fill="#e81818"/>
<circle cx="432" cy="302" r="6" fill="#e81818"/>
<circle cx="487" cy="270" r="6" fill="#e81818"/>
<circle cx="422" cy="274" r="6" fill="#2060e0"/>
<circle cx="462" cy="292" r="6" fill="#2060e0"/>
<polygon points="322.52,433 300,446 277.48,433 277.48,407 300,394 322.52,407" fill="none" stroke="#109848" stroke-width="6"/>
<circle cx="322.52" cy="433" r="6" fill="#10a850"/>
<circle cx="300" cy="446" r="6" fill="#10a850"/>
<circle cx="277.48" cy="433" r="6" fill="#10a850"/>
<circle cx="277.48" cy="407" r="6" fill="#10a850"/>
<circle cx="300" cy="394" r="6" fill="#10a850"/>
<circle cx="322.52" cy="407" r="6" fill="#10a850"/>
<polygon points="368.52,433 346,446 323.48,433 323.48,407 346,394 368.52,407" fill="none" stroke="#109848" stroke-width="6"/>
<circle cx="368.52" cy="433" r="6" fill="#10a850"/>
<circle cx="346" cy="446" r="6" fill="#10a850"/>
<circle cx="323.48" cy="433" r="6" fill="#10a850"/>
<circle cx="323.48" cy="407" r="6" fill="#10a850"/>
<circle cx="346" cy="394" r="6" fill="#10a850"/>
<circle cx="368.52" cy="407" r="6" fill="#10a850"/>
<polygon points="414.52,433 392,446 369.48,433 369.48,407 392,394 414.52,407" fill="none" stroke="#109848" stroke-width="6"/>
<circle cx="414.52" cy="433" r="6" fill="#10a850"/>
<circle cx="392" cy="446" r="6" fill="#10a850"/>
<circle cx="369.48" cy="433" r="6" fill="#10a850"/>
<circle cx="369.48" cy="407" r="6" fill="#10a850"/>
<circle cx="392" cy="394" r="6" fill="#10a850"/>
<circle cx="414.52" cy="407" r="6" fill="#10a850"/>
<polygon points="368.52,381 346,394 323.48,381 323.48,355 346,342 368.52,355" fill="none" stroke="#109848" stroke-width="6"/>
<circle cx="368.52" cy="381" r="6" fill="#10a850"/>
<circle cx="346" cy="394" r="6" fill="#10a850"/>
<circle cx="323.48" cy="381" r="6" fill="#10a850"/>
<circle cx="323.48" cy="355" r="6" fill="#10a850"/>
<circle cx="346" cy="342" r="6" fill="#10a850"/>
<circle cx="368.52" cy="355" r="6" fill="#10a850"/>
<path d="M276 430 l-30 18 M416 430 l30 16" stroke="#109848" stroke-width="6"/>
<circle cx="260" cy="440" r="6" fill="#2060e0"/><circle cx="435" cy="440" r="6" fill="#2060e0"/><circle cx="385" cy="370" r="6" fill="#e81818"/>
<polygon points="868.38,268.5 845,282 821.62,268.5 821.62,241.5 845,228 868.38,241.5" fill="none" stroke="#2a2a2a" stroke-width="7"/>
<circle cx="868.38" cy="268.5" r="6.5" fill="#1a1a1a"/>
<circle cx="845" cy="282" r="6.5" fill="#1a1a1a"/>
<circle cx="821.62" cy="268.5" r="6.5" fill="#1a1a1a"/>
<circle cx="821.62" cy="241.5" r="6.5" fill="#1a1a1a"/>
<circle cx="845" cy="228" r="6.5" fill="#1a1a1a"/>
<circle cx="868.38" cy="241.5" r="6.5" fill="#1a1a1a"/>
<polygon points="914.38,260.5 891,274 867.62,260.5 867.62,233.5 891,220 914.38,233.5" fill="none" stroke="#2a2a2a" stroke-width="7"/>
<circle cx="914.38" cy="260.5" r="6.5" fill="#1a1a1a"/>
<circle cx="891" cy="274" r="6.5" fill="#1a1a1a"/>
<circle cx="867.62" cy="260.5" r="6.5" fill="#1a1a1a"/>
<circle cx="867.62" cy="233.5" r="6.5" fill="#1a1a1a"/>
<circle cx="891" cy="220" r="6.5" fill="#1a1a1a"/>
<circle cx="914.38" cy="233.5" r="6.5" fill="#1a1a1a"/>
<polygon points="960.38,252.5 937,266 913.62,252.5 913.62,225.5 937,212 960.38,225.5" fill="none" stroke="#2a2a2a" stroke-width="7"/>
<circle cx="960.38" cy="252.5" r="6.5" fill="#1a1a1a"/>
<circle cx="937" cy="266" r="6.5" fill="#1a1a1a"/>
<circle cx="913.62" cy="252.5" r="6.5" fill="#1a1a1a"/>
<circle cx="913.62" cy="225.5" r="6.5" fill="#1a1a1a"/>
<circle cx="937" cy="212" r="6.5" fill="#1a1a1a"/>
<circle cx="960.38" cy="225.5" r="6.5" fill="#1a1a1a"/>
<path d="M975 245 l12 -14 l12 16" fill="none" stroke="#333" stroke-width="7"/>
<path d="M997 245 l12 -14 l12 16" fill="none" stroke="#333" stroke-width="7"/>
<path d="M1019 245 l12 -14 l12 16" fill="none" stroke="#333" stroke-width="7"/>
<path d="M1041 245 l12 -14 l12 16" fill="none" stroke="#333" stroke-width="7"/>
<circle cx="825" cy="293" r="6" fill="#e81818"/>
<circle cx="870" cy="297" r="6" fill="#e81818"/>
<circle cx="915" cy="290" r="6" fill="#e81818"/>
<circle cx="955" cy="285" r="6" fill="#e81818"/>
<circle cx="1005" cy="265" r="6" fill="#e81818"/>
<circle cx="1060" cy="233" r="6" fill="#e81818"/>
<circle cx="995" cy="237" r="6" fill="#2060e0"/>
<circle cx="1035" cy="255" r="6" fill="#2060e0"/>
<polygon points="1042.52,183 1020,196 997.48,183 997.48,157 1020,144 1042.52,157" fill="none" stroke="#109848" stroke-width="6"/>
<circle cx="1042.52" cy="183" r="6" fill="#10a850"/>
<circle cx="1020" cy="196" r="6" fill="#10a850"/>
<circle cx="997.48" cy="183" r="6" fill="#10a850"/>
<circle cx="997.48" cy="157" r="6" fill="#10a850"/>
<circle cx="1020" cy="144" r="6" fill="#10a850"/>
<circle cx="1042.52" cy="157" r="6" fill="#10a850"/>
<polygon points="1088.52,183 1066,196 1043.48,183 1043.48,157 1066,144 1088.52,157" fill="none" stroke="#109848" stroke-width="6"/>
<circle cx="1088.52" cy="183" r="6" fill="#10a850"/>
<circle cx="1066" cy="196" r="6" fill="#10a850"/>
<circle cx="1043.48" cy="183" r="6" fill="#10a850"/>
<circle cx="1043.48" cy="157" r="6" fill="#10a850"/>
<circle cx="1066" cy="144" r="6" fill="#10a850"/>
<circle cx="1088.52" cy="157" r="6" fill="#10a850"/>
<polygon points="1134.52,183 1112,196 1089.48,183 1089.48,157 1112,144 1134.52,157" fill="none" stroke="#109848" stroke-width="6"/>
<circle cx="1134.52" cy="183" r="6" fill="#10a850"/>
<circle cx="1112" cy="196" r="6" fill="#10a850"/>
<circle cx="1089.48" cy="183" r="6" fill="#10a850"/>
<circle cx="1089.48" cy="157" r="6" fill="#10a850"/>
<circle cx="1112" cy="144" r="6" fill="#10a850"/>
<circle cx="1134.52" cy="157" r="6" fill="#10a850"/>
<polygon points="1088.52,131 1066,144 1043.48,131 1043.48,105 1066,92 1088.52,105" fill="none" stroke="#109848" stroke-width="6"/>
<circle cx="1088.52" cy="131" r="6" fill="#10a850"/>
<circle cx="1066" cy="144" r="6" fill="#10a850"/>
<circle cx="1043.48" cy="131" r="6" fill="#10a850"/>
<circle cx="1043.48" cy="105" r="6" fill="#10a850"/>
<circle cx="1066" cy="92" r="6" fill="#10a850"/>
<circle cx="1088.52" cy="105" r="6" fill="#10a850"/>
<path d="M996 180 l-30 18 M1136 180 l30 16" stroke="#109848" stroke-width="6"/>
<circle cx="980" cy="190" r="6" fill="#2060e0"/><circle cx="1155" cy="190" r="6" fill="#2060e0"/><circle cx="1105" cy="120" r="6" fill="#e81818"/>
<polygon points="398.38,903.5 375,917 351.62,903.5 351.62,876.5 375,863 398.38,876.5" fill="none" stroke="#2a2a2a" stroke-width="7"/>
<circle cx="398.38" cy="903.5" r="6.5" fill="#1a1a1a"/>
<circle cx="375" cy="917" r="6.5" fill="#1a1a1a"/>
<circle cx="351.62" cy="903.5" r="6.5" fill="#1a1a1a"/>
<circle cx="351.62" cy="876.5" r="6.5" fill="#1a1a1a"/>
<circle cx="375" cy="863" r="6.5" fill="#1a1a1a"/>
<circle cx="398.38" cy="876.5" r="6.5" fill="#1a1a1a"/>
<polygon points="444.38,895.5 421,909 397.62,895.5 397.62,868.5 421,855 444.38,868.5" fill="none" stroke="#2a2a2a" stroke-width="7"/>
<circle cx="444.38" cy="895.5" r="6.5" fill="#1a1a1a"/>
<circle cx="421" cy="909" r="6.5" fill="#1a1a1a"/>
<circle cx="397.62" cy="895.5" r="6.5" fill="#1a1a1a"/>
<circle cx="397.62" cy="868.5" r="6.5" fill="#1a1a1a"/>
<circle cx="421" cy="855" r="6.5" fill="#1a1a1a"/>
<circle cx="444.38" cy="868.5" r="6.5" fill="#1a1a1a"/>
<polygon points="490.38,887.5 467,901 443.62,887.5 443.62,860.5 467,847 490.38,860.5" fill="none" stroke="#2a2a2a" stroke-width="7"/>
<circle cx="490.38" cy="887.5" r="6.5" fill="#1a1a1a"/>
<circle cx="467" cy="901" r="6.5" fill="#1a1a1a"/>
<circle cx="443.62" cy="887.5" r="6.5" fill="#1a1a1a"/>
<circle cx="443.62" cy="860.5" r="6.5" fill="#1a1a1a"/>
<circle cx="467" cy="847" r="6.5" fill="#1a1a1a"/>
<circle cx="490.38" cy="860.5" r="6.5" fill="#1a1a1a"/>
<path d="M505 880 l12 -14 l12 16" fill="none" stroke="#333" stroke-width="7"/>
<path d="M527 880 l12 -14 l12 16" fill="none" stroke="#333" stroke-width="7"/>
<path d="M549 880 l12 -14 l12 16" fill="none" stroke="#333" stroke-width="7"/>
<path d="M571 880 l12 -14 l12 16" fill="none" stroke="#333" stroke-width="7"/>
<circle cx="355" cy="928" r="6" fill="#e81818"/>
<circle cx="400" cy="932" r="6" fill="#e81818"/>
<circle cx="445" cy="925" r="6" fill="#e81818"/>
<circle cx="485" cy="920" r="6" fill="#e81818"/>
<circle cx="535" cy="900" r="6" fill="#e81818"/>
<circle cx="590" cy="868" r="6" fill="#e81818"/>
<circle cx="525" cy="872" r="6" fill="#2060e0"/>
<circle cx="565" cy="890" r="6" fill="#2060e0"/>
<polygon points="574.52,988 552,1001 529.48,988 529.48,962 552,949 574.52,962" fill="none" stroke="#109848" stroke-width="6"/>
<circle cx="574.52" cy="988" r="6" fill="#10a850"/>
<circle cx="552" cy="1001" r="6" fill="#10a850"/>
<circle cx="529.48" cy="988" r="6" fill="#10a850"/>
<circle cx="529.48" cy="962" r="6" fill="#10a850"/>
<circle cx="552" cy="949" r="6" fill="#10a850"/>
<circle cx="574.52" cy="962" r="6" fill="#10a850"/>
<polygon points="620.52,988 598,1001 575.48,988 575.48,962 598,949 620.52,962" fill="none" stroke="#109848" stroke-width="6"/>
<circle cx="620.52" cy="988" r="6" fill="#10a850"/>
<circle cx="598" cy="1001" r="6" fill="#10a850"/>
<circle cx="575.48" cy="988" r="6" fill="#10a850"/>
<circle cx="575.48" cy="962" r="6" fill="#10a850"/>
<circle cx="598" cy="949" r="6" fill="#10a850"/>
<circle cx="620.52" cy="962" r="6" fill="#10a850"/>
<polygon points="666.52,988 644,1001 621.48,988 621.48,962 644,949 666.52,962" fill="none" stroke="#109848" stroke-width="6"/>
<circle cx="666.52" cy="988" r="6" fill="#10a850"/>
<circle cx="644" cy="1001" r="6" fill="#10a850"/>
<circle cx="621.48" cy="988" r="6" fill="#10a850"/>
<circle cx="621.48" cy="962" r="6" fill="#10a850"/>
<circle cx="644" cy="949" r="6" fill="#10a850"/>
<circle cx="666.52" cy="962" r="6" fill="#10a850"/>
<polygon points="620.52,936 598,949 575.48,936 575.48,910 598,897 620.52,910" fill="none" stroke="#109848" stroke-width="6"/>
<circle cx="620.52" cy="936" r="6" fill="#10a850"/>
<circle cx="598" cy="949" r="6" fill="#10a850"/>
<circle cx="575.48" cy="936" r="6" fill="#10a850"/>
<circle cx="575.48" cy="910" r="6" fill="#10a850"/>
<circle cx="598" cy="897" r="6" fill="#10a850"/>
<circle cx="620.52" cy="910" r="6" fill="#10a850"/>
<path d="M528 985 l-30 18 M668 985 l30 16" stroke="#109848" stroke-width="6"/>
<circle cx="512" cy="995" r="6" fill="#2060e0"/><circle cx="687" cy="995" r="6" fill="#2060e0"/><circle cx="637" cy="925" r="6" fill="#e81818"/>
<polygon points="919.69,1056.75 908,1063.5 896.31,1056.75 896.31,1043.25 908,1036.5 919.69,1043.25" fill="none" stroke="#2a2a2a" stroke-width="3.5"/>
<circle cx="919.69" cy="1056.75" r="3.25" fill="#1a1a1a"/>
<circle cx="908" cy="1063.5" r="3.25" fill="#1a1a1a"/>
<circle cx="896.31" cy="1056.75" r="3.25" fill="#1a1a1a"/>
<circle cx="896.31" cy="1043.25" r="3.25" fill="#1a1a1a"/>
<circle cx="908" cy="1036.5" r="3.25" fill="#1a1a1a"/>
<circle cx="919.69" cy="1043.25" r="3.25" fill="#1a1a1a"/>
<polygon points="942.69,1052.75 931,1059.5 919.31,1052.75 919.31,1039.25 931,1032.5 942.69,1039.25" fill="none" stroke="#2a2a2a" stroke-width="3.5"/>
<circle cx="942.69" cy="1052.75" r="3.25" fill="#1a1a1a"/>
<circle cx="931" cy="1059.5" r="3.25" fill="#1a1a1a"/>
<circle cx="919.31" cy="1052.75" r="3.25" fill="#1a1a1a"/>
<circle cx="919.31" cy="1039.25" r="3.25" fill="#1a1a1a"/>
<circle cx="931" cy="1032.5" r="3.25" fill="#1a1a1a"/>
<circle cx="942.69" cy="1039.25" r="3.25" fill="#1a1a1a"/>
<polygon points="965.69,1048.75 954,1055.5 942.31,1048.75 942.31,1035.25 954,1028.5 965.69,1035.25" fill="none" stroke="#2a2a2a" stroke-width="3.5"/>
<circle cx="965.69" cy="1048.75" r="3.25" fill="#1a1a1a"/>
<circle cx="954" cy="1055.5" r="3.25" fill="#1a1a1a"/>
<circle cx="942.31" cy="1048.75" r="3.25" fill="#1a1a1a"/>
<circle cx="942.31" cy="1035.25" r="3.25" fill="#1a1a1a"/>
<circle cx="954" cy="1028.5" r="3.25" fill="#1a1a1a"/>
<circle cx="965.69" cy="1035.25" r="3.25" fill="#1a1a1a"/>
<path d="M973 1045 l6 -7 l6 8" fill="none" stroke="#333" stroke-width="3.5"/>
<path d="M984 1045 l6 -7 l6 8" fill="none" stroke="#333" stroke-width="3.5"/>
<path d="M995 1045 l6 -7 l6 8" fill="none" stroke="#333" stroke-width="3.5"/>
<path d="M1006 1045 l6 -7 l6 8" fill="none" stroke="#333" stroke-width="3.5"/>
<circle cx="898" cy="1069" r="3" fill="#e81818"/>
<circle cx="920.5" cy="1071" r="3" fill="#e81818"/>
<circle cx="943" cy="1067.5" r="3" fill="#e81818"/>
<circle cx="963" cy="1065" r="3" fill="#e81818"/>
<circle cx="988" cy="1055" r="3" fill="#e81818"/>
<circle cx="1015.5" cy="1039" r="3" fill="#e81818"/>
<circle cx="983" cy="1041" r="3" fill="#2060e0"/>
<circle cx="1003" cy="1050" r="3" fill="#2060e0"/>
<polygon points="1191.26,1056.5 1180,1063 1168.74,1056.5 1168.74,1043.5 1180,1037 1191.26,1043.5" fill="none" stroke="#109848" stroke-width="3"/>
<circle cx="1191.26" cy="1056.5" r="3" fill="#10a850"/>
<circle cx="1180" cy="1063" r="3" fill="#10a850"/>
<circle cx="1168.74" cy="1056.5" r="3" fill="#10a850"/>
<circle cx="1168.74" cy="1043.5" r="3" fill="#10a850"/>
<circle cx="1180" cy="1037" r="3" fill="#10a850"/>
<circle cx="1191.26" cy="1043.5" r="3" fill="#10a850"/>
<polygon points="1214.26,1056.5 1203,1063 1191.74,1056.5 1191.74,1043.5 1203,1037 1214.26,1043.5" fill="none" stroke="#109848" stroke-width="3"/>
<circle cx="1214.26" cy="1056.5" r="3" fill="#10a850"/>
<circle cx="1203" cy="1063" r="3" fill="#10a850"/>
<circle cx="1191.74" cy="1056.5" r="3" fill="#10a850"/>
<circle cx="1191.74" cy="1043.5" r="3" fill="#10a850"/>
<circle cx="1203" cy="1037" r="3" fill="#10a850"/>
<circle cx="1214.26" cy="1043.5" r="3" fill="#10a850"/>
<polygon points="1237.26,1056.5 1226,1063 1214.74,1056.5 1214.74,1043.5 1226,1037 1237.26,1043.5" fill="none" stroke="#109848" stroke-width="3"/>
<circle cx="1237.26" cy="1056.5" r="3" fill="#10a850"/>
<circle cx="1226" cy="1063" r="3" fill="#10a850"/>
<circle cx="1214.74" cy="1056.5" r="3" fill="#10a850"/>
<circle cx="1214.74" cy="1043.5" r="3" fill="#10a850"/>
<circle cx="1226" cy="1037" r="3" fill="#10a850"/>
<circle cx="1237.26" cy="1043.5" r="3" fill="#10a850"/>
<polygon points="1214.26,1030.5 1203,1037 1191.74,1030.5 1191.74,1017.5 1203,1011 1214.26,1017.5" fill="none" stroke="#109848" stroke-width="3"/>
<circle cx="1214.26" cy="1030.5" r="3" fill="#10a850"/>
<circle cx="1203" cy="1037" r="3" fill="#10a850"/>
<circle cx="1191.74" cy="1030.5" r="3" fill="#10a850"/>
<circle cx="1191.74" cy="1017.5" r="3" fill="#10a850"/>
<circle cx="1203" cy="1011" r="3" fill="#10a850"/>
<circle cx="1214.26" cy="1017.5" r="3" fill="#10a850"/>
<path d="M1168 1055 l-15 9 M1238 1055 l15 8" stroke="#109848" stroke-width="3"/>
<circle cx="1160" cy="1060" r="3" fill="#2060e0"/><circle cx="1247.5" cy="1060" r="3" fill="#2060e0"/><circle cx="1222.5" cy="1025" r="3" fill="#e81818"/>
<path d="M905 985 l25 -40 l25 40 Z M930 945 v-14 M905 985 l-12 8 M955 985 l12 8" fill="none" stroke="#4a5ab0" stroke-width="4"/><circle cx="930" cy="968" r="7" fill="#1a5ae0"/><circle cx="918" cy="962" r="5" fill="#1a5ae0"/><circle cx="942" cy="962" r="5" fill="#1a5ae0"/>
<text x="483" y="235" font-size="53.29" fill="#222" font-weight="bold" class="sf" textLength="222" lengthAdjust="spacingAndGlyphs">Degraded</text>
<text x="497" y="287" font-size="53.19" fill="#222" font-weight="bold" class="sf" textLength="200" lengthAdjust="spacingAndGlyphs">products</text>
<text x="1127" y="252" font-size="53.29" fill="#222" font-weight="bold" class="sf" textLength="222" lengthAdjust="spacingAndGlyphs">Degraded</text>
<text x="1140" y="305" font-size="53.19" fill="#222" font-weight="bold" class="sf" textLength="200" lengthAdjust="spacingAndGlyphs">products</text>
<text x="668" y="867" font-size="53.29" fill="#222" font-weight="bold" class="sf" textLength="222" lengthAdjust="spacingAndGlyphs">Degraded</text>
<text x="685" y="920" font-size="53.19" fill="#222" font-weight="bold" class="sf" textLength="200" lengthAdjust="spacingAndGlyphs">products</text>
<text x="543" y="397" font-size="43" fill="#222" font-weight="bold" class="sf" textLength="70" lengthAdjust="spacingAndGlyphs">·O<tspan dy="0.3em" font-size="62%">2</tspan><tspan dy="-0.3em" font-size="62%">&#8203;</tspan><tspan dy="-0.55em" font-size="62%">-</tspan><tspan dy="0.55em" font-size="62%">&#8203;</tspan></text>
<text x="430" y="472" font-size="50.56" fill="#222" font-weight="bold" class="sf" textLength="55" lengthAdjust="spacingAndGlyphs">O<tspan dy="0.3em" font-size="62%">2</tspan><tspan dy="-0.3em" font-size="62%">&#8203;</tspan></text>
<text x="610" y="524" font-size="54" fill="#222" font-weight="bold" class="sf" textLength="40" lengthAdjust="spacingAndGlyphs">e<tspan dy="-0.55em" font-size="62%">-</tspan><tspan dy="0.55em" font-size="62%">&#8203;</tspan></text>
<text x="503" y="614" font-size="49.48" fill="#222" font-weight="bold" class="sf" textLength="45" lengthAdjust="spacingAndGlyphs">h<tspan dy="-0.55em" font-size="62%">+</tspan><tspan dy="0.55em" font-size="62%">&#8203;</tspan></text>
<text x="1063" y="410" font-size="49.48" fill="#222" font-weight="bold" class="sf" textLength="45" lengthAdjust="spacingAndGlyphs">h<tspan dy="-0.55em" font-size="62%">+</tspan><tspan dy="0.55em" font-size="62%">&#8203;</tspan></text>
<ellipse cx="1068" cy="637" rx="38" ry="26" fill="#fff" opacity="0.9"/>
<text x="1048" y="650" font-size="54" fill="#222" font-weight="bold" class="sf" textLength="40" lengthAdjust="spacingAndGlyphs">e<tspan dy="-0.55em" font-size="62%">-</tspan><tspan dy="0.55em" font-size="62%">&#8203;</tspan></text>
<text x="333" y="757" font-size="47.37" fill="#222" font-weight="bold" class="sf" textLength="185" lengthAdjust="spacingAndGlyphs">H<tspan dy="0.3em" font-size="62%">2</tspan><tspan dy="-0.3em" font-size="62%">&#8203;</tspan>O/OH<tspan dy="-0.55em" font-size="62%">-</tspan><tspan dy="0.55em" font-size="62%">&#8203;</tspan></text>
<text x="553" y="753" font-size="50.29" fill="#222" font-weight="bold" class="sf" textLength="95" lengthAdjust="spacingAndGlyphs">·OH</text>
<text x="895" y="763" font-size="42.52" fill="#222" font-weight="bold" class="sf" textLength="135" lengthAdjust="spacingAndGlyphs">Cr (VI)</text>
<text x="1120" y="777" font-size="43.2" fill="#222" font-weight="bold" class="sf" textLength="140" lengthAdjust="spacingAndGlyphs">Cr (III)</text>
<text x="975" y="977" font-size="56.7" fill="#222" font-weight="bold" class="sf" textLength="165" lengthAdjust="spacingAndGlyphs">g-C<tspan dy="0.3em" font-size="62%">3</tspan><tspan dy="-0.3em" font-size="62%">&#8203;</tspan>N<tspan dy="0.3em" font-size="62%">4</tspan><tspan dy="-0.3em" font-size="62%">&#8203;</tspan></text>
<text x="1250" y="973" font-size="56.24" fill="#222" font-weight="bold" class="sf" textLength="188" lengthAdjust="spacingAndGlyphs">Bi<tspan dy="0.3em" font-size="62%">3</tspan><tspan dy="-0.3em" font-size="62%">&#8203;</tspan>O<tspan dy="0.3em" font-size="62%">4</tspan><tspan dy="-0.3em" font-size="62%">&#8203;</tspan>Cl</text>
<text x="1040" y="1062" font-size="51.83" fill="#222" font-weight="bold" class="sf" textLength="72" lengthAdjust="spacingAndGlyphs">TC</text>
<text x="1290" y="1056" font-size="53.98" fill="#222" font-weight="bold" class="sf" textLength="105" lengthAdjust="spacingAndGlyphs">RhB</text>
</g>
<g transform="translate(425,1125) scale(0.20966)">
<defs>
<clipPath id="c6"><rect x="50" y="62" width="1485" height="1006" rx="135" ry="135"/></clipPath>
<linearGradient id="b6" x1="0" y1="0" x2="1" y2="0"><stop offset="0" stop-color="#1466d8"/><stop offset="0.45" stop-color="#1058d0"/><stop offset="0.7" stop-color="#0a2aa8"/><stop offset="1" stop-color="#081888"/></linearGradient>
<linearGradient id="t6" x1="0" y1="0" x2="0" y2="1"><stop offset="0" stop-color="#1a3a98" stop-opacity="0"/><stop offset="0.25" stop-color="#2a3c80" stop-opacity="0.55"/><stop offset="0.5" stop-color="#a08c50"/><stop offset="1" stop-color="#8a7440"/></linearGradient>
<radialGradient id="l6" cx="0.5" cy="0.5" r="0.5"><stop offset="0" stop-color="#b8f0ff"/><stop offset="0.35" stop-color="#38b8f8"/><stop offset="0.75" stop-color="#0a58d8" stop-opacity="0.6"/><stop offset="1" stop-color="#0a40c0" stop-opacity="0"/></radialGradient>
<radialGradient id="y6" cx="0.38" cy="0.32" r="0.7"><stop offset="0" stop-color="#fff870"/><stop offset="0.45" stop-color="#e0d000"/><stop offset="1" stop-color="#7a7000"/></radialGradient>
<radialGradient id="u6" cx="0.38" cy="0.32" r="0.7"><stop offset="0" stop-color="#8aa8e0"/><stop offset="0.5" stop-color="#4466a8"/><stop offset="1" stop-color="#1a2a58"/></radialGradient>
<radialGradient id="r6" cx="0.38" cy="0.32" r="0.7"><stop offset="0" stop-color="#ff6060"/><stop offset="0.5" stop-color="#d01020"/><stop offset="1" stop-color="#5a0008"/></radialGradient>
<radialGradient id="v6" cx="0.38" cy="0.32" r="0.7"><stop offset="0" stop-color="#a8a0e0"/><stop offset="0.5" stop-color="#6a5aa8"/><stop offset="1" stop-color="#2a2050"/></radialGradient>
<radialGradient id="w6" cx="0.4" cy="0.35" r="0.7"><stop offset="0" stop-color="#ffffff"/><stop offset="0.6" stop-color="#e8e8e8"/><stop offset="1" stop-color="#888"/></radialGradient>
<radialGradient id="e6" cx="0.4" cy="0.35" r="0.7"><stop offset="0" stop-color="#ffff80"/><stop offset="0.6" stop-color="#e8e800"/><stop offset="1" stop-color="#8a8a00"/></radialGradient>
<radialGradient id="n6" cx="0.4" cy="0.3" r="0.75"><stop offset="0" stop-color="#e8c8ff"/><stop offset="0.5" stop-color="#a060d8"/><stop offset="1" stop-color="#4a2080"/></radialGradient>
<linearGradient id="gb6" x1="0" y1="0" x2="0" y2="1"><stop offset="0" stop-color="#9ae040"/><stop offset="0.5" stop-color="#6cc818"/><stop offset="1" stop-color="#4a9a10"/></linearGradient>
<linearGradient id="ob6" x1="0" y1="0" x2="0" y2="1"><stop offset="0" stop-color="#ffd040"/><stop offset="0.5" stop-color="#ffb400"/><stop offset="1" stop-color="#d89000"/></linearGradient>
<linearGradient id="ar6" x1="0" y1="0" x2="1" y2="0"><stop offset="0" stop-color="#30c020"/><stop offset="0.6" stop-color="#b0d020"/><stop offset="1" stop-color="#ff9800"/></linearGradient>
</defs>
<g clip-path="url(#c6)">
<rect x="50" y="62" width="1485" height="1006" fill="url(#b6)"/>
<ellipse cx="560" cy="170" rx="640" ry="380" fill="url(#l6)"/>
<polygon points="1535,62 1250,62 1535,300" fill="#061478" opacity="0.7"/>
<path d="M50 340 L110 270 L600 228 L720 262 L850 250 L950 228 L1300 222 L1535 245 V900 H50Z" fill="url(#t6)"/>
<path d="M50 560 L150 540 L210 800 L50 830Z" fill="#0c1060"/>
<path d="M50 760 L215 745 L700 800 L1200 800 L1535 830 V1070 H50Z" fill="#2a0a14"/>
<line x1="294" y1="713" x2="274" y2="758" stroke="#c8b078" stroke-width="5"/>
<line x1="370" y1="775" x2="329" y2="804" stroke="#c8b078" stroke-width="5"/>
<line x1="800" y1="441" x2="844" y2="442" stroke="#c8b078" stroke-width="5"/>
<line x1="919" y1="341" x2="887" y2="365" stroke="#c8b078" stroke-width="5"/>
<line x1="395" y1="325" x2="336" y2="325" stroke="#c8b078" stroke-width="5"/>
<line x1="1349" y1="669" x2="1392" y2="674" stroke="#c8b078" stroke-width="5"/>
<line x1="788" y1="369" x2="744" y2="376" stroke="#c8b078" stroke-width="5"/>
<line x1="279" y1="790" x2="341" y2="816" stroke="#c8b078" stroke-width="5"/>
<line x1="722" y1="631" x2="746" y2="674" stroke="#c8b078" stroke-width="5"/>
<line x1="327" y1="322" x2="291" y2="338" stroke="#c8b078" stroke-width="5"/>
<line x1="1208" y1="425" x2="1143" y2="431" stroke="#c8b078" stroke-width="5"/>
<line x1="1170" y1="757" x2="1156" y2="814" stroke="#c8b078" stroke-width="5"/>
<line x1="231" y1="585" x2="199" y2="605" stroke="#c8b078" stroke-width="5"/>
<line x1="1420" y1="832" x2="1433" y2="875" stroke="#c8b078" stroke-width="5"/>
<line x1="720" y1="531" x2="674" y2="532" stroke="#c8b078" stroke-width="5"/>
<line x1="89" y1="355" x2="45" y2="409" stroke="#c8b078" stroke-width="5"/>
<line x1="786" y1="594" x2="777" y2="654" stroke="#c8b078" stroke-width="5"/>
<line x1="379" y1="665" x2="370" y2="719" stroke="#c8b078" stroke-width="5"/>
<line x1="318" y1="402" x2="349" y2="461" stroke="#c8b078" stroke-width="5"/>
<line x1="564" y1="658" x2="584" y2="686" stroke="#c8b078" stroke-width="5"/>
<line x1="147" y1="788" x2="113" y2="817" stroke="#c8b078" stroke-width="5"/>
<line x1="1064" y1="705" x2="999" y2="727" stroke="#c8b078" stroke-width="5"/>
<line x1="654" y1="893" x2="601" y2="900" stroke="#c8b078" stroke-width="5"/>
<line x1="1361" y1="594" x2="1376" y2="631" stroke="#c8b078" stroke-width="5"/>
<line x1="1351" y1="397" x2="1411" y2="410" stroke="#c8b078" stroke-width="5"/>
<line x1="1199" y1="589" x2="1171" y2="605" stroke="#c8b078" stroke-width="5"/>
<line x1="433" y1="473" x2="442" y2="509" stroke="#c8b078" stroke-width="5"/>
<line x1="153" y1="502" x2="87" y2="524" stroke="#c8b078" stroke-width="5"/>
<line x1="1157" y1="587" x2="1205" y2="636" stroke="#c8b078" stroke-width="5"/>
<line x1="830" y1="737" x2="868" y2="740" stroke="#c8b078" stroke-width="5"/>
<line x1="1294" y1="777" x2="1244" y2="796" stroke="#c8b078" stroke-width="5"/>
<line x1="682" y1="648" x2="645" y2="668" stroke="#c8b078" stroke-width="5"/>
<line x1="843" y1="465" x2="820" y2="485" stroke="#c8b078" stroke-width="5"/>
<line x1="1067" y1="872" x2="1121" y2="876" stroke="#c8b078" stroke-width="5"/>
<line x1="1006" y1="811" x2="995" y2="849" stroke="#c8b078" stroke-width="5"/>
<line x1="652" y1="875" x2="618" y2="885" stroke="#c8b078" stroke-width="5"/>
<line x1="190" y1="356" x2="238" y2="360" stroke="#c8b078" stroke-width="5"/>
<line x1="259" y1="820" x2="242" y2="851" stroke="#c8b078" stroke-width="5"/>
<line x1="849" y1="494" x2="850" y2="533" stroke="#c8b078" stroke-width="5"/>
<line x1="296" y1="410" x2="318" y2="464" stroke="#c8b078" stroke-width="5"/>
<line x1="866" y1="327" x2="826" y2="378" stroke="#c8b078" stroke-width="5"/>
<line x1="1199" y1="774" x2="1248" y2="775" stroke="#c8b078" stroke-width="5"/>
<line x1="144" y1="758" x2="194" y2="788" stroke="#c8b078" stroke-width="5"/>
<line x1="425" y1="718" x2="443" y2="744" stroke="#c8b078" stroke-width="5"/>
<line x1="627" y1="485" x2="587" y2="498" stroke="#c8b078" stroke-width="5"/>
<line x1="797" y1="629" x2="763" y2="635" stroke="#c8b078" stroke-width="5"/>
<line x1="942" y1="604" x2="896" y2="655" stroke="#c8b078" stroke-width="5"/>
<line x1="510" y1="719" x2="506" y2="771" stroke="#c8b078" stroke-width="5"/>
<line x1="144" y1="788" x2="100" y2="792" stroke="#c8b078" stroke-width="5"/>
<line x1="522" y1="895" x2="553" y2="906" stroke="#c8b078" stroke-width="5"/>
<line x1="158" y1="788" x2="124" y2="821" stroke="#c8b078" stroke-width="5"/>
<line x1="972" y1="311" x2="951" y2="354" stroke="#c8b078" stroke-width="5"/>
<line x1="818" y1="533" x2="830" y2="570" stroke="#c8b078" stroke-width="5"/>
<line x1="122" y1="560" x2="164" y2="601" stroke="#c8b078" stroke-width="5"/>
<line x1="1263" y1="734" x2="1269" y2="773" stroke="#c8b078" stroke-width="5"/>
<line x1="622" y1="592" x2="594" y2="654" stroke="#c8b078" stroke-width="5"/>
<line x1="176" y1="587" x2="178" y2="646" stroke="#c8b078" stroke-width="5"/>
<line x1="1372" y1="767" x2="1349" y2="823" stroke="#c8b078" stroke-width="5"/>
<line x1="1042" y1="815" x2="1008" y2="861" stroke="#c8b078" stroke-width="5"/>
<line x1="414" y1="850" x2="433" y2="901" stroke="#c8b078" stroke-width="5"/>
<line x1="1274" y1="878" x2="1244" y2="879" stroke="#c8b078" stroke-width="5"/>
<line x1="514" y1="487" x2="526" y2="520" stroke="#c8b078" stroke-width="5"/>
<line x1="871" y1="347" x2="910" y2="402" stroke="#c8b078" stroke-width="5"/>
<line x1="1152" y1="577" x2="1216" y2="600" stroke="#c8b078" stroke-width="5"/>
<line x1="1095" y1="423" x2="1122" y2="471" stroke="#c8b078" stroke-width="5"/>
<line x1="1062" y1="456" x2="1019" y2="463" stroke="#c8b078" stroke-width="5"/>
<line x1="427" y1="807" x2="478" y2="833" stroke="#c8b078" stroke-width="5"/>
<line x1="346" y1="658" x2="375" y2="693" stroke="#c8b078" stroke-width="5"/>
<line x1="1446" y1="580" x2="1457" y2="633" stroke="#c8b078" stroke-width="5"/>
<line x1="466" y1="404" x2="481" y2="442" stroke="#c8b078" stroke-width="5"/>
<line x1="329" y1="876" x2="391" y2="883" stroke="#c8b078" stroke-width="5"/>
<line x1="1438" y1="722" x2="1488" y2="725" stroke="#c8b078" stroke-width="5"/>
<line x1="108" y1="664" x2="85" y2="696" stroke="#c8b078" stroke-width="5"/>
<line x1="61" y1="626" x2="101" y2="639" stroke="#c8b078" stroke-width="5"/>
<line x1="724" y1="836" x2="738" y2="869" stroke="#c8b078" stroke-width="5"/>
<line x1="1225" y1="793" x2="1222" y2="825" stroke="#c8b078" stroke-width="5"/>
<line x1="328" y1="541" x2="322" y2="580" stroke="#c8b078" stroke-width="5"/>
<line x1="1241" y1="806" x2="1178" y2="821" stroke="#c8b078" stroke-width="5"/>
<line x1="76" y1="649" x2="140" y2="665" stroke="#c8b078" stroke-width="5"/>
<line x1="1159" y1="755" x2="1186" y2="773" stroke="#c8b078" stroke-width="5"/>
<line x1="1260" y1="663" x2="1242" y2="709" stroke="#c8b078" stroke-width="5"/>
<line x1="1238" y1="502" x2="1267" y2="535" stroke="#c8b078" stroke-width="5"/>
<line x1="492" y1="676" x2="461" y2="687" stroke="#c8b078" stroke-width="5"/>
<line x1="150" y1="607" x2="130" y2="638" stroke="#c8b078" stroke-width="5"/>
<line x1="450" y1="335" x2="500" y2="341" stroke="#c8b078" stroke-width="5"/>
<line x1="1060" y1="691" x2="1090" y2="708" stroke="#c8b078" stroke-width="5"/>
<line x1="1432" y1="623" x2="1448" y2="678" stroke="#c8b078" stroke-width="5"/>
<line x1="1130" y1="614" x2="1191" y2="630" stroke="#c8b078" stroke-width="5"/>
<line x1="367" y1="324" x2="390" y2="370" stroke="#c8b078" stroke-width="5"/>
<line x1="982" y1="404" x2="952" y2="443" stroke="#c8b078" stroke-width="5"/>
<line x1="290" y1="810" x2="236" y2="848" stroke="#c8b078" stroke-width="5"/>
<line x1="1059" y1="430" x2="1008" y2="472" stroke="#c8b078" stroke-width="5"/>
<line x1="841" y1="845" x2="796" y2="849" stroke="#c8b078" stroke-width="5"/>
<line x1="1448" y1="862" x2="1424" y2="880" stroke="#c8b078" stroke-width="5"/>
<line x1="572" y1="668" x2="552" y2="725" stroke="#c8b078" stroke-width="5"/>
<line x1="1010" y1="396" x2="960" y2="408" stroke="#c8b078" stroke-width="5"/>
<line x1="1359" y1="424" x2="1307" y2="424" stroke="#c8b078" stroke-width="5"/>
<line x1="1201" y1="743" x2="1160" y2="760" stroke="#c8b078" stroke-width="5"/>
<line x1="172" y1="543" x2="216" y2="570" stroke="#c8b078" stroke-width="5"/>
<line x1="1260" y1="517" x2="1288" y2="529" stroke="#c8b078" stroke-width="5"/>
<line x1="678" y1="648" x2="734" y2="652" stroke="#c8b078" stroke-width="5"/>
<line x1="363" y1="364" x2="313" y2="375" stroke="#c8b078" stroke-width="5"/>
<line x1="1379" y1="608" x2="1415" y2="623" stroke="#c8b078" stroke-width="5"/>
<line x1="680" y1="684" x2="634" y2="724" stroke="#c8b078" stroke-width="5"/>
<line x1="1016" y1="451" x2="1026" y2="495" stroke="#c8b078" stroke-width="5"/>
<line x1="777" y1="459" x2="771" y2="507" stroke="#c8b078" stroke-width="5"/>
<line x1="102" y1="793" x2="86" y2="853" stroke="#c8b078" stroke-width="5"/>
<line x1="1143" y1="738" x2="1098" y2="739" stroke="#c8b078" stroke-width="5"/>
<line x1="634" y1="302" x2="608" y2="348" stroke="#c8b078" stroke-width="5"/>
<line x1="906" y1="898" x2="937" y2="921" stroke="#c8b078" stroke-width="5"/>
<line x1="1140" y1="787" x2="1141" y2="819" stroke="#c8b078" stroke-width="5"/>
<line x1="600" y1="795" x2="600" y2="844" stroke="#c8b078" stroke-width="5"/>
<line x1="628" y1="677" x2="610" y2="732" stroke="#c8b078" stroke-width="5"/>
<line x1="1334" y1="750" x2="1350" y2="787" stroke="#c8b078" stroke-width="5"/>
<line x1="1211" y1="775" x2="1174" y2="784" stroke="#c8b078" stroke-width="5"/>
<line x1="1308" y1="834" x2="1349" y2="844" stroke="#c8b078" stroke-width="5"/>
<line x1="991" y1="387" x2="956" y2="408" stroke="#c8b078" stroke-width="5"/>
<line x1="1063" y1="477" x2="1092" y2="501" stroke="#c8b078" stroke-width="5"/>
<line x1="788" y1="727" x2="833" y2="764" stroke="#c8b078" stroke-width="5"/>
<line x1="547" y1="689" x2="562" y2="724" stroke="#c8b078" stroke-width="5"/>
<line x1="259" y1="334" x2="232" y2="372" stroke="#c8b078" stroke-width="5"/>
<line x1="233" y1="828" x2="218" y2="855" stroke="#c8b078" stroke-width="5"/>
<line x1="1126" y1="656" x2="1135" y2="706" stroke="#c8b078" stroke-width="5"/>
<line x1="1478" y1="524" x2="1455" y2="574" stroke="#c8b078" stroke-width="5"/>
<line x1="593" y1="507" x2="553" y2="546" stroke="#c8b078" stroke-width="5"/>
<line x1="728" y1="608" x2="775" y2="648" stroke="#c8b078" stroke-width="5"/>
<line x1="79" y1="685" x2="85" y2="724" stroke="#c8b078" stroke-width="5"/>
<line x1="921" y1="649" x2="969" y2="663" stroke="#c8b078" stroke-width="5"/>
<line x1="295" y1="779" x2="317" y2="816" stroke="#c8b078" stroke-width="5"/>
<line x1="369" y1="328" x2="399" y2="348" stroke="#c8b078" stroke-width="5"/>
<line x1="976" y1="808" x2="1003" y2="830" stroke="#c8b078" stroke-width="5"/>
<line x1="843" y1="369" x2="861" y2="427" stroke="#c8b078" stroke-width="5"/>
<line x1="351" y1="719" x2="347" y2="752" stroke="#c8b078" stroke-width="5"/>
<line x1="410" y1="659" x2="446" y2="670" stroke="#c8b078" stroke-width="5"/>
<line x1="906" y1="790" x2="902" y2="847" stroke="#c8b078" stroke-width="5"/>
<line x1="63" y1="481" x2="99" y2="537" stroke="#c8b078" stroke-width="5"/>
<line x1="580" y1="770" x2="630" y2="776" stroke="#c8b078" stroke-width="5"/>
<line x1="1373" y1="762" x2="1364" y2="798" stroke="#c8b078" stroke-width="5"/>
<line x1="1425" y1="347" x2="1364" y2="354" stroke="#c8b078" stroke-width="5"/>
<line x1="1118" y1="618" x2="1156" y2="639" stroke="#c8b078" stroke-width="5"/>
<line x1="1035" y1="693" x2="1057" y2="751" stroke="#c8b078" stroke-width="5"/>
<line x1="129" y1="472" x2="170" y2="484" stroke="#c8b078" stroke-width="5"/>
<line x1="1227" y1="752" x2="1265" y2="771" stroke="#c8b078" stroke-width="5"/>
<line x1="216" y1="697" x2="223" y2="735" stroke="#c8b078" stroke-width="5"/>
<line x1="605" y1="819" x2="619" y2="875" stroke="#c8b078" stroke-width="5"/>
<line x1="982" y1="584" x2="974" y2="628" stroke="#c8b078" stroke-width="5"/>
<line x1="344" y1="596" x2="369" y2="631" stroke="#c8b078" stroke-width="5"/>
<line x1="327" y1="848" x2="335" y2="884" stroke="#c8b078" stroke-width="5"/>
<line x1="97" y1="428" x2="57" y2="446" stroke="#c8b078" stroke-width="5"/>
<line x1="1040" y1="438" x2="1018" y2="481" stroke="#c8b078" stroke-width="5"/>
<line x1="1143" y1="617" x2="1159" y2="655" stroke="#c8b078" stroke-width="5"/>
<line x1="932" y1="799" x2="904" y2="839" stroke="#c8b078" stroke-width="5"/>
<line x1="537" y1="834" x2="506" y2="851" stroke="#c8b078" stroke-width="5"/>
<line x1="1058" y1="763" x2="1022" y2="821" stroke="#c8b078" stroke-width="5"/>
<line x1="1355" y1="447" x2="1312" y2="448" stroke="#c8b078" stroke-width="5"/>
<line x1="614" y1="885" x2="653" y2="908" stroke="#c8b078" stroke-width="5"/>
<line x1="979" y1="463" x2="1020" y2="509" stroke="#c8b078" stroke-width="5"/>
<line x1="959" y1="746" x2="908" y2="786" stroke="#c8b078" stroke-width="5"/>
<line x1="1376" y1="794" x2="1327" y2="797" stroke="#c8b078" stroke-width="5"/>
<line x1="1091" y1="608" x2="1035" y2="613" stroke="#c8b078" stroke-width="5"/>
<line x1="689" y1="698" x2="710" y2="726" stroke="#c8b078" stroke-width="5"/>
<line x1="623" y1="382" x2="657" y2="382" stroke="#c8b078" stroke-width="5"/>
<line x1="724" y1="758" x2="779" y2="766" stroke="#c8b078" stroke-width="5"/>
<line x1="215" y1="606" x2="243" y2="644" stroke="#c8b078" stroke-width="5"/>
<line x1="1107" y1="548" x2="1126" y2="603" stroke="#c8b078" stroke-width="5"/>
<line x1="222" y1="509" x2="184" y2="560" stroke="#c8b078" stroke-width="5"/>
<line x1="1504" y1="454" x2="1488" y2="493" stroke="#c8b078" stroke-width="5"/>
<line x1="1092" y1="807" x2="1132" y2="825" stroke="#c8b078" stroke-width="5"/>
<line x1="1440" y1="511" x2="1415" y2="568" stroke="#c8b078" stroke-width="5"/>
<line x1="463" y1="770" x2="507" y2="770" stroke="#c8b078" stroke-width="5"/>
<line x1="297" y1="507" x2="322" y2="526" stroke="#c8b078" stroke-width="5"/>
<line x1="1242" y1="404" x2="1230" y2="454" stroke="#c8b078" stroke-width="5"/>
<line x1="1311" y1="808" x2="1297" y2="842" stroke="#c8b078" stroke-width="5"/>
<line x1="1179" y1="358" x2="1138" y2="367" stroke="#c8b078" stroke-width="5"/>
<line x1="425" y1="429" x2="445" y2="488" stroke="#c8b078" stroke-width="5"/>
<line x1="1319" y1="747" x2="1293" y2="777" stroke="#c8b078" stroke-width="5"/>
<line x1="526" y1="482" x2="540" y2="546" stroke="#c8b078" stroke-width="5"/>
<line x1="1528" y1="350" x2="1462" y2="357" stroke="#c8b078" stroke-width="5"/>
<line x1="734" y1="715" x2="705" y2="739" stroke="#c8b078" stroke-width="5"/>
<line x1="964" y1="889" x2="902" y2="913" stroke="#c8b078" stroke-width="5"/>
<line x1="175" y1="728" x2="178" y2="795" stroke="#c8b078" stroke-width="5"/>
<line x1="297" y1="629" x2="355" y2="652" stroke="#c8b078" stroke-width="5"/>
<line x1="1123" y1="318" x2="1143" y2="348" stroke="#c8b078" stroke-width="5"/>
<line x1="993" y1="677" x2="1060" y2="691" stroke="#c8b078" stroke-width="5"/>
<line x1="1483" y1="564" x2="1473" y2="607" stroke="#c8b078" stroke-width="5"/>
<line x1="950" y1="539" x2="961" y2="597" stroke="#c8b078" stroke-width="5"/>
<line x1="326" y1="478" x2="298" y2="505" stroke="#c8b078" stroke-width="5"/>
<line x1="152" y1="846" x2="192" y2="869" stroke="#c8b078" stroke-width="5"/>
<line x1="515" y1="457" x2="538" y2="503" stroke="#c8b078" stroke-width="5"/>
<line x1="222" y1="619" x2="255" y2="625" stroke="#c8b078" stroke-width="5"/>
<line x1="350" y1="444" x2="370" y2="480" stroke="#c8b078" stroke-width="5"/>
<line x1="1292" y1="694" x2="1297" y2="755" stroke="#c8b078" stroke-width="5"/>
<line x1="1068" y1="489" x2="1047" y2="545" stroke="#c8b078" stroke-width="5"/>
<line x1="843" y1="751" x2="816" y2="812" stroke="#c8b078" stroke-width="5"/>
<line x1="442" y1="702" x2="391" y2="706" stroke="#c8b078" stroke-width="5"/>
<line x1="1394" y1="356" x2="1368" y2="387" stroke="#c8b078" stroke-width="5"/>
<line x1="1164" y1="554" x2="1159" y2="593" stroke="#c8b078" stroke-width="5"/>
<line x1="431" y1="819" x2="407" y2="868" stroke="#c8b078" stroke-width="5"/>
<line x1="221" y1="475" x2="183" y2="479" stroke="#c8b078" stroke-width="5"/>
<line x1="848" y1="717" x2="846" y2="770" stroke="#c8b078" stroke-width="5"/>
<line x1="1490" y1="768" x2="1525" y2="800" stroke="#c8b078" stroke-width="5"/>
<line x1="673" y1="710" x2="652" y2="744" stroke="#c8b078" stroke-width="5"/>
<line x1="1078" y1="558" x2="1119" y2="560" stroke="#c8b078" stroke-width="5"/>
<line x1="609" y1="418" x2="574" y2="478" stroke="#c8b078" stroke-width="5"/>
<line x1="1433" y1="677" x2="1388" y2="699" stroke="#c8b078" stroke-width="5"/>
<line x1="921" y1="836" x2="964" y2="844" stroke="#c8b078" stroke-width="5"/>
<line x1="605" y1="504" x2="612" y2="536" stroke="#c8b078" stroke-width="5"/>
<line x1="1058" y1="874" x2="1086" y2="899" stroke="#c8b078" stroke-width="5"/>
<line x1="546" y1="777" x2="593" y2="817" stroke="#c8b078" stroke-width="5"/>
<line x1="306" y1="657" x2="270" y2="700" stroke="#c8b078" stroke-width="5"/>
<line x1="175" y1="873" x2="131" y2="896" stroke="#c8b078" stroke-width="5"/>
<line x1="1326" y1="660" x2="1365" y2="683" stroke="#c8b078" stroke-width="5"/>
<line x1="1268" y1="578" x2="1305" y2="583" stroke="#c8b078" stroke-width="5"/>
<line x1="326" y1="651" x2="305" y2="694" stroke="#c8b078" stroke-width="5"/>
<line x1="649" y1="877" x2="676" y2="927" stroke="#c8b078" stroke-width="5"/>
<line x1="353" y1="608" x2="382" y2="626" stroke="#c8b078" stroke-width="5"/>
<line x1="550" y1="369" x2="570" y2="421" stroke="#c8b078" stroke-width="5"/>
<line x1="865" y1="777" x2="867" y2="810" stroke="#c8b078" stroke-width="5"/>
<line x1="1130" y1="541" x2="1081" y2="589" stroke="#c8b078" stroke-width="5"/>
<line x1="828" y1="450" x2="850" y2="495" stroke="#c8b078" stroke-width="5"/>
<line x1="523" y1="360" x2="541" y2="414" stroke="#c8b078" stroke-width="5"/>
<line x1="1261" y1="756" x2="1203" y2="779" stroke="#c8b078" stroke-width="5"/>
<line x1="660" y1="686" x2="721" y2="697" stroke="#c8b078" stroke-width="5"/>
<line x1="1101" y1="459" x2="1104" y2="499" stroke="#c8b078" stroke-width="5"/>
<line x1="1230" y1="556" x2="1179" y2="598" stroke="#c8b078" stroke-width="5"/>
<line x1="1204" y1="528" x2="1237" y2="587" stroke="#c8b078" stroke-width="5"/>
<line x1="1393" y1="413" x2="1419" y2="469" stroke="#c8b078" stroke-width="5"/>
<line x1="1173" y1="469" x2="1184" y2="537" stroke="#c8b078" stroke-width="5"/>
<line x1="183" y1="464" x2="151" y2="522" stroke="#c8b078" stroke-width="5"/>
<line x1="1456" y1="581" x2="1401" y2="623" stroke="#c8b078" stroke-width="5"/>
<line x1="539" y1="436" x2="581" y2="481" stroke="#c8b078" stroke-width="5"/>
<line x1="257" y1="628" x2="220" y2="636" stroke="#c8b078" stroke-width="5"/>
<line x1="983" y1="617" x2="933" y2="623" stroke="#c8b078" stroke-width="5"/>
<line x1="778" y1="842" x2="753" y2="867" stroke="#c8b078" stroke-width="5"/>
<line x1="1243" y1="539" x2="1175" y2="546" stroke="#c8b078" stroke-width="5"/>
<line x1="782" y1="549" x2="813" y2="576" stroke="#c8b078" stroke-width="5"/>
<line x1="356" y1="400" x2="334" y2="424" stroke="#c8b078" stroke-width="5"/>
<line x1="939" y1="658" x2="903" y2="697" stroke="#c8b078" stroke-width="5"/>
<line x1="1427" y1="468" x2="1478" y2="484" stroke="#c8b078" stroke-width="5"/>
<line x1="449" y1="892" x2="394" y2="906" stroke="#c8b078" stroke-width="5"/>
<line x1="1287" y1="446" x2="1290" y2="491" stroke="#c8b078" stroke-width="5"/>
<line x1="562" y1="524" x2="566" y2="580" stroke="#c8b078" stroke-width="5"/>
<line x1="87" y1="623" x2="150" y2="650" stroke="#c8b078" stroke-width="5"/>
<line x1="869" y1="653" x2="901" y2="702" stroke="#c8b078" stroke-width="5"/>
<line x1="1104" y1="846" x2="1094" y2="885" stroke="#c8b078" stroke-width="5"/>
<line x1="983" y1="330" x2="954" y2="360" stroke="#c8b078" stroke-width="5"/>
<line x1="1118" y1="379" x2="1107" y2="414" stroke="#c8b078" stroke-width="5"/>
<line x1="104" y1="458" x2="63" y2="479" stroke="#c8b078" stroke-width="5"/>
<line x1="826" y1="774" x2="786" y2="777" stroke="#c8b078" stroke-width="5"/>
<line x1="1080" y1="769" x2="1045" y2="795" stroke="#c8b078" stroke-width="5"/>
<line x1="754" y1="770" x2="789" y2="805" stroke="#c8b078" stroke-width="5"/>
<line x1="990" y1="810" x2="1031" y2="849" stroke="#c8b078" stroke-width="5"/>
<line x1="372" y1="394" x2="376" y2="449" stroke="#c8b078" stroke-width="5"/>
<line x1="1000" y1="868" x2="1045" y2="894" stroke="#c8b078" stroke-width="5"/>
<line x1="762" y1="455" x2="728" y2="464" stroke="#c8b078" stroke-width="5"/>
<line x1="436" y1="324" x2="412" y2="374" stroke="#c8b078" stroke-width="5"/>
<line x1="382" y1="853" x2="366" y2="887" stroke="#c8b078" stroke-width="5"/>
<line x1="1448" y1="812" x2="1484" y2="865" stroke="#c8b078" stroke-width="5"/>
<line x1="243" y1="508" x2="260" y2="574" stroke="#c8b078" stroke-width="5"/>
<line x1="493" y1="531" x2="543" y2="569" stroke="#c8b078" stroke-width="5"/>
<circle cx="1268" cy="225" r="13.43" fill="url(#u6)"/>
<circle cx="1129" cy="226" r="11.29" fill="url(#y6)"/>
<circle cx="1086" cy="228" r="13.78" fill="url(#y6)"/>
<circle cx="1039" cy="228" r="11.15" fill="url(#y6)"/>
<circle cx="1061" cy="230" r="14.58" fill="url(#y6)"/>
<circle cx="1228" cy="234" r="14.81" fill="url(#y6)"/>
<circle cx="1112" cy="235" r="10.71" fill="url(#y6)"/>
<circle cx="1277" cy="236" r="11.43" fill="url(#u6)"/>
<circle cx="977" cy="239" r="13.01" fill="url(#u6)"/>
<circle cx="617" cy="239" r="11.23" fill="url(#y6)"/>
<circle cx="892" cy="240" r="14.53" fill="url(#y6)"/>
<circle cx="1280" cy="240" r="13.37" fill="url(#y6)"/>
<circle cx="970" cy="241" r="14.43" fill="url(#y6)"/>
<circle cx="893" cy="241" r="15.09" fill="url(#y6)"/>
<circle cx="1115" cy="242" r="10.8" fill="url(#u6)"/>
<circle cx="1454" cy="242" r="11.79" fill="url(#u6)"/>
<circle cx="966" cy="243" r="15.19" fill="url(#u6)"/>
<circle cx="1306" cy="244" r="14.03" fill="url(#y6)"/>
<circle cx="529" cy="247" r="13.25" fill="url(#y6)"/>
<circle cx="986" cy="247" r="12.42" fill="url(#y6)"/>
<circle cx="1499" cy="248" r="15.21" fill="url(#y6)"/>
<circle cx="1047" cy="248" r="15.12" fill="url(#y6)"/>
<circle cx="1252" cy="249" r="14.19" fill="url(#u6)"/>
<circle cx="1007" cy="250" r="11.34" fill="url(#y6)"/>
<circle cx="1083" cy="251" r="11.46" fill="url(#y6)"/>
<circle cx="943" cy="253" r="13.88" fill="url(#u6)"/>
<circle cx="903" cy="256" r="12.87" fill="url(#y6)"/>
<circle cx="849" cy="257" r="14.64" fill="url(#u6)"/>
<circle cx="1003" cy="257" r="15.29" fill="url(#y6)"/>
<circle cx="645" cy="257" r="11.47" fill="url(#y6)"/>
<circle cx="500" cy="257" r="11.17" fill="url(#y6)"/>
<circle cx="1479" cy="258" r="14.31" fill="url(#y6)"/>
<circle cx="364" cy="259" r="11.06" fill="url(#y6)"/>
<circle cx="480" cy="260" r="11.22" fill="url(#y6)"/>
<circle cx="442" cy="261" r="11.96" fill="url(#u6)"/>
<circle cx="552" cy="262" r="15.1" fill="url(#y6)"/>
<circle cx="273" cy="263" r="13.58" fill="url(#u6)"/>
<circle cx="554" cy="264" r="14.56" fill="url(#y6)"/>
<circle cx="1246" cy="264" r="14.35" fill="url(#y6)"/>
<circle cx="788" cy="265" r="14.47" fill="url(#y6)"/>
<circle cx="732" cy="267" r="12.99" fill="url(#y6)"/>
<circle cx="1011" cy="267" r="13.28" fill="url(#y6)"/>
<circle cx="877" cy="268" r="13.89" fill="url(#u6)"/>
<circle cx="479" cy="270" r="11.94" fill="url(#u6)"/>
<circle cx="157" cy="270" r="11.39" fill="url(#y6)"/>
<circle cx="1096" cy="271" r="13.93" fill="url(#y6)"/>
<circle cx="548" cy="271" r="11.79" fill="url(#y6)"/>
<circle cx="937" cy="271" r="14.3" fill="url(#y6)"/>
<circle cx="642" cy="273" r="13.48" fill="url(#y6)"/>
<circle cx="917" cy="274" r="12.67" fill="url(#u6)"/>
<circle cx="527" cy="274" r="11.65" fill="url(#y6)"/>
<circle cx="331" cy="275" r="11.19" fill="url(#y6)"/>
<circle cx="927" cy="275" r="14.25" fill="url(#y6)"/>
<circle cx="552" cy="275" r="12.9" fill="url(#u6)"/>
<circle cx="1408" cy="276" r="15.41" fill="url(#y6)"/>
<circle cx="514" cy="276" r="13.36" fill="url(#u6)"/>
<circle cx="331" cy="277" r="13.3" fill="url(#u6)"/>
<circle cx="606" cy="278" r="14.85" fill="url(#u6)"/>
<circle cx="1104" cy="278" r="15.34" fill="url(#y6)"/>
<circle cx="1418" cy="278" r="13.92" fill="url(#y6)"/>
<circle cx="1343" cy="279" r="14.81" fill="url(#y6)"/>
<circle cx="495" cy="280" r="13.53" fill="url(#y6)"/>
<circle cx="491" cy="282" r="11.54" fill="url(#y6)"/>
<circle cx="1234" cy="284" r="14.25" fill="url(#y6)"/>
<circle cx="1168" cy="284" r="12.53" fill="url(#y6)"/>
<circle cx="237" cy="284" r="15.38" fill="url(#y6)"/>
<circle cx="695" cy="285" r="12.17" fill="url(#y6)"/>
<circle cx="1252" cy="285" r="12.5" fill="url(#y6)"/>
<circle cx="1538" cy="286" r="12.56" fill="url(#u6)"/>
<circle cx="273" cy="287" r="15.29" fill="url(#u6)"/>
<circle cx="664" cy="288" r="11.88" fill="url(#y6)"/>
<circle cx="153" cy="288" r="14.53" fill="url(#y6)"/>
<circle cx="1342" cy="288" r="15.6" fill="url(#u6)"/>
<circle cx="519" cy="291" r="12.03" fill="url(#y6)"/>
<circle cx="1196" cy="291" r="13.33" fill="url(#u6)"/>
<circle cx="1438" cy="291" r="12.6" fill="url(#y6)"/>
<circle cx="761" cy="291" r="14.6" fill="url(#y6)"/>
<circle cx="1515" cy="291" r="13.99" fill="url(#u6)"/>
<circle cx="318" cy="291" r="12.71" fill="url(#y6)"/>
<circle cx="485" cy="292" r="13.92" fill="url(#y6)"/>
<circle cx="893" cy="293" r="14.45" fill="url(#y6)"/>
<circle cx="288" cy="293" r="15.65" fill="url(#y6)"/>
<circle cx="768" cy="293" r="13.41" fill="url(#u6)"/>
<circle cx="252" cy="293" r="12.29" fill="url(#y6)"/>
<circle cx="1523" cy="294" r="14.57" fill="url(#u6)"/>
<circle cx="1039" cy="294" r="15.05" fill="url(#y6)"/>
<circle cx="1179" cy="294" r="14.93" fill="url(#u6)"/>
<circle cx="1263" cy="294" r="13.61" fill="url(#u6)"/>
<circle cx="376" cy="294" r="14.68" fill="url(#u6)"/>
<circle cx="272" cy="295" r="15.03" fill="url(#y6)"/>
<circle cx="754" cy="295" r="12.98" fill="url(#y6)"/>
<circle cx="1295" cy="296" r="15.56" fill="url(#y6)"/>
<circle cx="1081" cy="296" r="13.4" fill="url(#u6)"/>
<circle cx="193" cy="297" r="13.84" fill="url(#u6)"/>
<circle cx="134" cy="298" r="13.47" fill="url(#y6)"/>
<circle cx="885" cy="299" r="11.65" fill="url(#y6)"/>
<circle cx="1433" cy="299" r="12.53" fill="url(#y6)"/>
<circle cx="162" cy="302" r="15.16" fill="url(#u6)"/>
<circle cx="406" cy="302" r="12.05" fill="url(#y6)"/>
<circle cx="1230" cy="303" r="13.64" fill="url(#y6)"/>
<circle cx="1321" cy="304" r="11.86" fill="url(#u6)"/>
<circle cx="1066" cy="304" r="11.88" fill="url(#u6)"/>
<circle cx="839" cy="304" r="14.06" fill="url(#y6)"/>
<circle cx="307" cy="305" r="15.39" fill="url(#y6)"/>
<circle cx="894" cy="305" r="15.49" fill="url(#y6)"/>
<circle cx="1192" cy="308" r="15.48" fill="url(#y6)"/>
<circle cx="1504" cy="308" r="12.45" fill="url(#u6)"/>
<circle cx="1124" cy="309" r="13.67" fill="url(#y6)"/>
<circle cx="1413" cy="310" r="16.16" fill="url(#y6)"/>
<circle cx="574" cy="310" r="14.53" fill="url(#y6)"/>
<circle cx="475" cy="310" r="12.94" fill="url(#y6)"/>
<circle cx="1435" cy="310" r="15.25" fill="url(#y6)"/>
<circle cx="908" cy="310" r="14.99" fill="url(#y6)"/>
<circle cx="524" cy="311" r="12.53" fill="url(#y6)"/>
<circle cx="484" cy="311" r="14.43" fill="url(#y6)"/>
<circle cx="548" cy="311" r="14.14" fill="url(#y6)"/>
<circle cx="1096" cy="311" r="15.32" fill="url(#y6)"/>
<circle cx="723" cy="312" r="13.46" fill="url(#u6)"/>
<circle cx="661" cy="312" r="15.45" fill="url(#y6)"/>
<circle cx="889" cy="312" r="15.92" fill="url(#y6)"/>
<circle cx="159" cy="312" r="13.22" fill="url(#y6)"/>
<circle cx="1249" cy="312" r="14.75" fill="url(#u6)"/>
<circle cx="231" cy="313" r="15.25" fill="url(#u6)"/>
<circle cx="1360" cy="314" r="14.38" fill="url(#u6)"/>
<circle cx="1378" cy="314" r="11.84" fill="url(#u6)"/>
<circle cx="1109" cy="315" r="13.09" fill="url(#u6)"/>
<circle cx="640" cy="315" r="14.3" fill="url(#y6)"/>
<circle cx="218" cy="316" r="12.77" fill="url(#y6)"/>
<circle cx="263" cy="316" r="13.14" fill="url(#y6)"/>
<circle cx="1287" cy="316" r="12.76" fill="url(#y6)"/>
<circle cx="219" cy="317" r="16.03" fill="url(#u6)"/>
<circle cx="607" cy="318" r="13.11" fill="url(#y6)"/>
<circle cx="120" cy="318" r="12.14" fill="url(#u6)"/>
<circle cx="79" cy="318" r="14.17" fill="url(#y6)"/>
<circle cx="1192" cy="319" r="13.83" fill="url(#u6)"/>
<circle cx="642" cy="320" r="13.53" fill="url(#y6)"/>
<circle cx="357" cy="320" r="12.41" fill="url(#y6)"/>
<circle cx="1306" cy="321" r="13.88" fill="url(#u6)"/>
<circle cx="759" cy="321" r="15.98" fill="url(#u6)"/>
<circle cx="965" cy="322" r="15.5" fill="url(#y6)"/>
<circle cx="1153" cy="322" r="13.93" fill="url(#y6)"/>
<circle cx="1110" cy="322" r="13.95" fill="url(#u6)"/>
<circle cx="670" cy="322" r="13.33" fill="url(#y6)"/>
<circle cx="1467" cy="323" r="15.41" fill="url(#u6)"/>
<circle cx="1501" cy="324" r="13.97" fill="url(#y6)"/>
<circle cx="1109" cy="325" r="12.46" fill="url(#y6)"/>
<circle cx="579" cy="325" r="13.61" fill="url(#y6)"/>
<circle cx="865" cy="326" r="13.34" fill="url(#y6)"/>
<circle cx="402" cy="326" r="16.06" fill="url(#y6)"/>
<circle cx="1375" cy="327" r="14.93" fill="url(#u6)"/>
<circle cx="1422" cy="327" r="12.89" fill="url(#u6)"/>
<circle cx="1014" cy="327" r="16" fill="url(#y6)"/>
<circle cx="725" cy="327" r="12.53" fill="url(#y6)"/>
<circle cx="919" cy="328" r="14.54" fill="url(#y6)"/>
<circle cx="1421" cy="328" r="15.91" fill="url(#y6)"/>
<circle cx="250" cy="329" r="15.6" fill="url(#y6)"/>
<circle cx="773" cy="329" r="12.72" fill="url(#u6)"/>
<circle cx="399" cy="329" r="16.41" fill="url(#u6)"/>
<circle cx="342" cy="330" r="15.74" fill="url(#u6)"/>
<circle cx="544" cy="330" r="13.34" fill="url(#u6)"/>
<circle cx="308" cy="332" r="13.23" fill="url(#y6)"/>
<circle cx="682" cy="332" r="14.22" fill="url(#y6)"/>
<circle cx="795" cy="332" r="16.28" fill="url(#u6)"/>
<circle cx="1181" cy="332" r="14.12" fill="url(#y6)"/>
<circle cx="461" cy="333" r="12.24" fill="url(#y6)"/>
<circle cx="1195" cy="334" r="13.72" fill="url(#y6)"/>
<circle cx="1150" cy="334" r="13.52" fill="url(#u6)"/>
<circle cx="840" cy="336" r="13.31" fill="url(#y6)"/>
<circle cx="576" cy="337" r="15.22" fill="url(#u6)"/>
<circle cx="846" cy="337" r="13.81" fill="url(#y6)"/>
<circle cx="1124" cy="338" r="16.58" fill="url(#y6)"/>
<circle cx="869" cy="339" r="15.87" fill="url(#y6)"/>
<circle cx="1283" cy="339" r="14.28" fill="url(#u6)"/>
<circle cx="273" cy="340" r="14.83" fill="url(#u6)"/>
<circle cx="1245" cy="340" r="14.69" fill="url(#y6)"/>
<circle cx="473" cy="341" r="15.48" fill="url(#u6)"/>
<circle cx="1138" cy="341" r="15.63" fill="url(#u6)"/>
<circle cx="1538" cy="342" r="12.31" fill="url(#y6)"/>
<circle cx="1184" cy="343" r="15.14" fill="url(#y6)"/>
<circle cx="1266" cy="343" r="16.58" fill="url(#u6)"/>
<circle cx="511" cy="343" r="12.23" fill="url(#y6)"/>
<circle cx="644" cy="344" r="13.37" fill="url(#y6)"/>
<circle cx="936" cy="344" r="13.22" fill="url(#y6)"/>
<circle cx="1507" cy="344" r="14.8" fill="url(#y6)"/>
<circle cx="1011" cy="345" r="14.15" fill="url(#y6)"/>
<circle cx="1177" cy="346" r="15.95" fill="url(#y6)"/>
<circle cx="180" cy="346" r="15.3" fill="url(#y6)"/>
<circle cx="792" cy="346" r="13.28" fill="url(#y6)"/>
<circle cx="256" cy="347" r="14.97" fill="url(#y6)"/>
<circle cx="82" cy="347" r="13.82" fill="url(#u6)"/>
<circle cx="677" cy="348" r="13.4" fill="url(#y6)"/>
<circle cx="541" cy="348" r="13.33" fill="url(#y6)"/>
<circle cx="386" cy="348" r="14.62" fill="url(#u6)"/>
<circle cx="1175" cy="349" r="13.79" fill="url(#y6)"/>
<circle cx="180" cy="349" r="14.48" fill="url(#y6)"/>
<circle cx="1274" cy="349" r="14.08" fill="url(#u6)"/>
<circle cx="1244" cy="350" r="13.9" fill="url(#y6)"/>
<circle cx="734" cy="351" r="15.66" fill="url(#y6)"/>
<circle cx="455" cy="352" r="14.04" fill="url(#y6)"/>
<circle cx="321" cy="353" r="14.33" fill="url(#u6)"/>
<circle cx="514" cy="353" r="14.19" fill="url(#y6)"/>
<circle cx="66" cy="353" r="14.95" fill="url(#y6)"/>
<circle cx="598" cy="353" r="16.19" fill="url(#y6)"/>
<circle cx="328" cy="354" r="13.59" fill="url(#y6)"/>
<circle cx="573" cy="354" r="15.37" fill="url(#y6)"/>
<circle cx="928" cy="354" r="15.66" fill="url(#u6)"/>
<circle cx="52" cy="354" r="13.6" fill="url(#y6)"/>
<circle cx="1005" cy="355" r="13.43" fill="url(#y6)"/>
<circle cx="324" cy="355" r="12.51" fill="url(#y6)"/>
<circle cx="524" cy="356" r="12.85" fill="url(#u6)"/>
<circle cx="1068" cy="356" r="14.9" fill="url(#y6)"/>
<circle cx="669" cy="357" r="13.72" fill="url(#u6)"/>
<circle cx="619" cy="357" r="16.73" fill="url(#y6)"/>
<circle cx="1080" cy="360" r="13.85" fill="url(#y6)"/>
<circle cx="1211" cy="360" r="13.24" fill="url(#y6)"/>
<circle cx="888" cy="361" r="14.39" fill="url(#u6)"/>
<circle cx="868" cy="361" r="15.24" fill="url(#y6)"/>
<circle cx="1457" cy="361" r="14.21" fill="url(#y6)"/>
<circle cx="730" cy="362" r="14.94" fill="url(#u6)"/>
<circle cx="1491" cy="363" r="14.06" fill="url(#u6)"/>
<circle cx="815" cy="363" r="16.59" fill="url(#u6)"/>
<circle cx="574" cy="363" r="15.46" fill="url(#u6)"/>
<circle cx="753" cy="364" r="15.87" fill="url(#u6)"/>
<circle cx="1084" cy="365" r="13.5" fill="url(#y6)"/>
<circle cx="130" cy="365" r="12.75" fill="url(#u6)"/>
<circle cx="1366" cy="366" r="14.09" fill="url(#u6)"/>
<circle cx="478" cy="366" r="14.99" fill="url(#y6)"/>
<circle cx="744" cy="367" r="16.41" fill="url(#y6)"/>
<circle cx="184" cy="367" r="14.16" fill="url(#y6)"/>
<circle cx="230" cy="368" r="14.66" fill="url(#y6)"/>
<circle cx="1278" cy="368" r="13.75" fill="url(#y6)"/>
<circle cx="658" cy="370" r="15.73" fill="url(#y6)"/>
<circle cx="696" cy="370" r="13.18" fill="url(#u6)"/>
<circle cx="395" cy="370" r="12.68" fill="url(#y6)"/>
<circle cx="1069" cy="371" r="16.7" fill="url(#y6)"/>
<circle cx="1409" cy="372" r="14.55" fill="url(#y6)"/>
<circle cx="356" cy="372" r="17.03" fill="url(#y6)"/>
<circle cx="500" cy="372" r="16.98" fill="url(#y6)"/>
<circle cx="453" cy="373" r="14.63" fill="url(#y6)"/>
<circle cx="1154" cy="373" r="15.45" fill="url(#y6)"/>
<circle cx="112" cy="375" r="12.79" fill="url(#y6)"/>
<circle cx="808" cy="376" r="15.39" fill="url(#y6)"/>
<circle cx="1396" cy="377" r="13.26" fill="url(#y6)"/>
<circle cx="401" cy="378" r="16.54" fill="url(#y6)"/>
<circle cx="131" cy="378" r="14.41" fill="url(#u6)"/>
<circle cx="926" cy="378" r="16.7" fill="url(#u6)"/>
<circle cx="354" cy="378" r="16.27" fill="url(#y6)"/>
<circle cx="936" cy="378" r="16.75" fill="url(#u6)"/>
<circle cx="242" cy="378" r="16.79" fill="url(#u6)"/>
<circle cx="1008" cy="379" r="14.89" fill="url(#y6)"/>
<circle cx="1438" cy="379" r="13.67" fill="url(#y6)"/>
<circle cx="1313" cy="380" r="13.63" fill="url(#u6)"/>
<circle cx="833" cy="380" r="16.19" fill="url(#y6)"/>
<circle cx="918" cy="381" r="16.67" fill="url(#y6)"/>
<circle cx="117" cy="381" r="16.75" fill="url(#y6)"/>
<circle cx="421" cy="381" r="15.41" fill="url(#y6)"/>
<circle cx="339" cy="381" r="13.28" fill="url(#u6)"/>
<circle cx="1451" cy="382" r="16.83" fill="url(#u6)"/>
<circle cx="998" cy="383" r="13.14" fill="url(#y6)"/>
<circle cx="1151" cy="383" r="15.64" fill="url(#y6)"/>
<circle cx="546" cy="384" r="14.46" fill="url(#u6)"/>
<circle cx="1129" cy="384" r="16.24" fill="url(#u6)"/>
<circle cx="565" cy="384" r="16.93" fill="url(#u6)"/>
<circle cx="1457" cy="384" r="15.11" fill="url(#y6)"/>
<circle cx="316" cy="384" r="13.27" fill="url(#y6)"/>
<circle cx="1118" cy="384" r="15.33" fill="url(#y6)"/>
<circle cx="1258" cy="385" r="15.55" fill="url(#y6)"/>
<circle cx="730" cy="386" r="16.68" fill="url(#u6)"/>
<circle cx="832" cy="386" r="16.98" fill="url(#y6)"/>
<circle cx="1062" cy="386" r="13.21" fill="url(#y6)"/>
<circle cx="1512" cy="386" r="16.08" fill="url(#y6)"/>
<circle cx="438" cy="386" r="14.98" fill="url(#u6)"/>
<circle cx="501" cy="388" r="14.62" fill="url(#y6)"/>
<circle cx="1312" cy="389" r="13.91" fill="url(#y6)"/>
<circle cx="591" cy="391" r="15.84" fill="url(#u6)"/>
<circle cx="1359" cy="391" r="15.28" fill="url(#y6)"/>
<circle cx="785" cy="391" r="16.04" fill="url(#y6)"/>
<circle cx="833" cy="392" r="15.84" fill="url(#y6)"/>
<circle cx="1038" cy="395" r="14.62" fill="url(#y6)"/>
<circle cx="458" cy="396" r="17.45" fill="url(#y6)"/>
<circle cx="143" cy="396" r="16.08" fill="url(#u6)"/>
<circle cx="712" cy="396" r="13.05" fill="url(#y6)"/>
<circle cx="1246" cy="396" r="17.04" fill="url(#y6)"/>
<circle cx="921" cy="397" r="16.22" fill="url(#y6)"/>
<circle cx="1126" cy="397" r="13.98" fill="url(#y6)"/>
<circle cx="166" cy="398" r="16.42" fill="url(#y6)"/>
<circle cx="192" cy="398" r="16.67" fill="url(#y6)"/>
<circle cx="992" cy="398" r="16.06" fill="url(#u6)"/>
<circle cx="601" cy="398" r="16.86" fill="url(#y6)"/>
<circle cx="1350" cy="400" r="16.69" fill="url(#u6)"/>
<circle cx="1323" cy="400" r="15.91" fill="url(#y6)"/>
<circle cx="1384" cy="400" r="15.5" fill="url(#y6)"/>
<circle cx="1539" cy="402" r="15.6" fill="url(#y6)"/>
<circle cx="79" cy="402" r="16.5" fill="url(#y6)"/>
<circle cx="644" cy="402" r="14.1" fill="url(#u6)"/>
<circle cx="1140" cy="403" r="17.25" fill="url(#y6)"/>
<circle cx="549" cy="403" r="17.08" fill="url(#u6)"/>
<circle cx="362" cy="403" r="14.75" fill="url(#y6)"/>
<circle cx="1027" cy="403" r="17.38" fill="url(#y6)"/>
<circle cx="1426" cy="404" r="16.14" fill="url(#y6)"/>
<circle cx="352" cy="404" r="16.82" fill="url(#y6)"/>
<circle cx="1105" cy="404" r="13.7" fill="url(#u6)"/>
<circle cx="621" cy="404" r="16.1" fill="url(#u6)"/>
<circle cx="800" cy="405" r="15.36" fill="url(#u6)"/>
<circle cx="1326" cy="405" r="14.55" fill="url(#u6)"/>
<circle cx="504" cy="406" r="13.71" fill="url(#y6)"/>
<circle cx="200" cy="406" r="14.14" fill="url(#u6)"/>
<circle cx="1251" cy="408" r="13.7" fill="url(#y6)"/>
<circle cx="88" cy="409" r="14.77" fill="url(#u6)"/>
<circle cx="454" cy="410" r="16.79" fill="url(#u6)"/>
<circle cx="1328" cy="410" r="15.88" fill="url(#y6)"/>
<circle cx="1108" cy="410" r="13.4" fill="url(#y6)"/>
<circle cx="462" cy="410" r="15.44" fill="url(#y6)"/>
<circle cx="827" cy="410" r="15.15" fill="url(#u6)"/>
<circle cx="666" cy="410" r="16.34" fill="url(#y6)"/>
<circle cx="77" cy="411" r="13.52" fill="url(#u6)"/>
<circle cx="239" cy="411" r="16.54" fill="url(#y6)"/>
<circle cx="41" cy="412" r="14.66" fill="url(#y6)"/>
<circle cx="461" cy="412" r="13.4" fill="url(#y6)"/>
<circle cx="559" cy="412" r="14.91" fill="url(#y6)"/>
<circle cx="876" cy="412" r="14.91" fill="url(#y6)"/>
<circle cx="98" cy="412" r="14.2" fill="url(#u6)"/>
<circle cx="1390" cy="413" r="16.89" fill="url(#u6)"/>
<circle cx="742" cy="413" r="15.07" fill="url(#y6)"/>
<circle cx="298" cy="413" r="14.16" fill="url(#y6)"/>
<circle cx="683" cy="414" r="14.18" fill="url(#y6)"/>
<circle cx="1367" cy="414" r="13.49" fill="url(#y6)"/>
<circle cx="66" cy="414" r="17.44" fill="url(#u6)"/>
<circle cx="1398" cy="415" r="16.57" fill="url(#u6)"/>
<circle cx="1515" cy="415" r="14.49" fill="url(#y6)"/>
<circle cx="1396" cy="416" r="15.78" fill="url(#y6)"/>
<circle cx="1194" cy="416" r="14.38" fill="url(#y6)"/>
<circle cx="307" cy="416" r="14.76" fill="url(#u6)"/>
<circle cx="1359" cy="417" r="17.45" fill="url(#y6)"/>
<circle cx="1284" cy="417" r="14.91" fill="url(#y6)"/>
<circle cx="210" cy="418" r="14.6" fill="url(#u6)"/>
<circle cx="1396" cy="418" r="16.52" fill="url(#y6)"/>
<circle cx="398" cy="419" r="15.39" fill="url(#y6)"/>
<circle cx="1108" cy="419" r="15.83" fill="url(#y6)"/>
<circle cx="626" cy="419" r="17.01" fill="url(#y6)"/>
<circle cx="605" cy="421" r="16.71" fill="url(#u6)"/>
<circle cx="447" cy="421" r="13.56" fill="url(#y6)"/>
<circle cx="1075" cy="421" r="15.24" fill="url(#y6)"/>
<circle cx="827" cy="421" r="16.34" fill="url(#y6)"/>
<circle cx="627" cy="422" r="17.27" fill="url(#y6)"/>
<circle cx="278" cy="422" r="15.15" fill="url(#y6)"/>
<circle cx="1507" cy="422" r="15.94" fill="url(#u6)"/>
<circle cx="984" cy="423" r="17.13" fill="url(#y6)"/>
<circle cx="1030" cy="423" r="14.62" fill="url(#y6)"/>
<circle cx="1365" cy="423" r="16.72" fill="url(#u6)"/>
<circle cx="1413" cy="424" r="17.12" fill="url(#y6)"/>
<circle cx="162" cy="426" r="16.87" fill="url(#y6)"/>
<circle cx="303" cy="427" r="14.66" fill="url(#u6)"/>
<circle cx="499" cy="427" r="16.35" fill="url(#y6)"/>
<circle cx="173" cy="427" r="16.17" fill="url(#y6)"/>
<circle cx="533" cy="428" r="17.34" fill="url(#u6)"/>
<circle cx="189" cy="428" r="13.73" fill="url(#y6)"/>
<circle cx="1216" cy="428" r="14.67" fill="url(#u6)"/>
<circle cx="1172" cy="428" r="17.01" fill="url(#y6)"/>
<circle cx="1426" cy="429" r="17.31" fill="url(#y6)"/>
<circle cx="927" cy="429" r="14.15" fill="url(#y6)"/>
<circle cx="225" cy="429" r="15.26" fill="url(#y6)"/>
<circle cx="956" cy="430" r="16.13" fill="url(#y6)"/>
<circle cx="1214" cy="431" r="14.08" fill="url(#u6)"/>
<circle cx="596" cy="432" r="15.95" fill="url(#y6)"/>
<circle cx="1043" cy="434" r="16.26" fill="url(#y6)"/>
<circle cx="984" cy="434" r="14.84" fill="url(#u6)"/>
<circle cx="1286" cy="435" r="13.58" fill="url(#y6)"/>
<circle cx="93" cy="437" r="14.49" fill="url(#y6)"/>
<circle cx="1255" cy="437" r="14.35" fill="url(#u6)"/>
<circle cx="112" cy="438" r="16.13" fill="url(#u6)"/>
<circle cx="865" cy="438" r="17.26" fill="url(#y6)"/>
<circle cx="715" cy="438" r="15.73" fill="url(#y6)"/>
<circle cx="1010" cy="438" r="17.12" fill="url(#y6)"/>
<circle cx="248" cy="438" r="16.73" fill="url(#u6)"/>
<circle cx="899" cy="439" r="15.68" fill="url(#y6)"/>
<circle cx="470" cy="439" r="16.51" fill="url(#y6)"/>
<circle cx="1534" cy="439" r="17.36" fill="url(#y6)"/>
<circle cx="64" cy="439" r="17.6" fill="url(#y6)"/>
<circle cx="1017" cy="439" r="14.95" fill="url(#u6)"/>
<circle cx="59" cy="439" r="15.59" fill="url(#y6)"/>
<circle cx="1505" cy="440" r="13.81" fill="url(#y6)"/>
<circle cx="725" cy="440" r="16.67" fill="url(#y6)"/>
<circle cx="94" cy="440" r="15.5" fill="url(#y6)"/>
<circle cx="984" cy="441" r="13.77" fill="url(#y6)"/>
<circle cx="1323" cy="441" r="15.65" fill="url(#y6)"/>
<circle cx="557" cy="441" r="14.13" fill="url(#u6)"/>
<circle cx="466" cy="442" r="14.66" fill="url(#u6)"/>
<circle cx="1508" cy="442" r="17.24" fill="url(#y6)"/>
<circle cx="458" cy="443" r="16.38" fill="url(#y6)"/>
<circle cx="878" cy="444" r="17.82" fill="url(#u6)"/>
<circle cx="177" cy="444" r="14" fill="url(#y6)"/>
<circle cx="368" cy="445" r="15.42" fill="url(#y6)"/>
<circle cx="261" cy="445" r="17.7" fill="url(#y6)"/>
<circle cx="1537" cy="446" r="13.91" fill="url(#y6)"/>
<circle cx="1123" cy="446" r="14.86" fill="url(#y6)"/>
<circle cx="66" cy="446" r="15.85" fill="url(#u6)"/>
<circle cx="53" cy="446" r="14.1" fill="url(#u6)"/>
<circle cx="1423" cy="447" r="17.58" fill="url(#y6)"/>
<circle cx="1297" cy="448" r="15.86" fill="url(#u6)"/>
<circle cx="610" cy="448" r="17.28" fill="url(#u6)"/>
<circle cx="1170" cy="448" r="17.54" fill="url(#u6)"/>
<circle cx="1084" cy="449" r="16.47" fill="url(#y6)"/>
<circle cx="380" cy="450" r="17.01" fill="url(#y6)"/>
<circle cx="338" cy="450" r="13.97" fill="url(#y6)"/>
<circle cx="1325" cy="450" r="17.61" fill="url(#y6)"/>
<circle cx="310" cy="451" r="17.83" fill="url(#y6)"/>
<circle cx="89" cy="452" r="15.91" fill="url(#y6)"/>
<circle cx="174" cy="452" r="14.83" fill="url(#y6)"/>
<circle cx="136" cy="452" r="15.12" fill="url(#u6)"/>
<circle cx="1475" cy="454" r="15.99" fill="url(#u6)"/>
<circle cx="1477" cy="454" r="14.6" fill="url(#y6)"/>
<circle cx="1171" cy="454" r="17.36" fill="url(#y6)"/>
<circle cx="457" cy="454" r="15.07" fill="url(#y6)"/>
<circle cx="652" cy="454" r="17.08" fill="url(#u6)"/>
<circle cx="414" cy="455" r="14.87" fill="url(#y6)"/>
<circle cx="736" cy="456" r="14.54" fill="url(#y6)"/>
<circle cx="439" cy="456" r="18.31" fill="url(#y6)"/>
<circle cx="198" cy="457" r="17.19" fill="url(#y6)"/>
<circle cx="981" cy="457" r="18.04" fill="url(#u6)"/>
<circle cx="1509" cy="458" r="15.86" fill="url(#y6)"/>
<circle cx="1401" cy="458" r="16.24" fill="url(#y6)"/>
<circle cx="764" cy="458" r="15.01" fill="url(#y6)"/>
<circle cx="1166" cy="459" r="15.36" fill="url(#y6)"/>
<circle cx="560" cy="459" r="17.86" fill="url(#u6)"/>
<circle cx="1516" cy="459" r="17.46" fill="url(#u6)"/>
<circle cx="894" cy="459" r="14.91" fill="url(#y6)"/>
<circle cx="1109" cy="460" r="14.67" fill="url(#y6)"/>
<circle cx="140" cy="460" r="17.21" fill="url(#y6)"/>
<circle cx="1283" cy="460" r="15.6" fill="url(#y6)"/>
<circle cx="1287" cy="460" r="16.67" fill="url(#u6)"/>
<circle cx="1124" cy="460" r="17.67" fill="url(#u6)"/>
<circle cx="192" cy="461" r="15.51" fill="url(#y6)"/>
<circle cx="1072" cy="461" r="14.77" fill="url(#y6)"/>
<circle cx="765" cy="461" r="15.39" fill="url(#y6)"/>
<circle cx="96" cy="461" r="15.55" fill="url(#u6)"/>
<circle cx="409" cy="462" r="17.99" fill="url(#y6)"/>
<circle cx="1492" cy="462" r="18.2" fill="url(#y6)"/>
<circle cx="595" cy="463" r="14.15" fill="url(#y6)"/>
<circle cx="865" cy="463" r="15.92" fill="url(#y6)"/>
<circle cx="699" cy="464" r="16.79" fill="url(#u6)"/>
<circle cx="911" cy="464" r="15.26" fill="url(#y6)"/>
<circle cx="1445" cy="464" r="15.42" fill="url(#y6)"/>
<circle cx="205" cy="465" r="18.03" fill="url(#u6)"/>
<circle cx="876" cy="466" r="17.49" fill="url(#u6)"/>
<circle cx="194" cy="466" r="14.93" fill="url(#u6)"/>
<circle cx="543" cy="466" r="17.79" fill="url(#y6)"/>
<circle cx="908" cy="467" r="14.36" fill="url(#u6)"/>
<circle cx="713" cy="467" r="16.82" fill="url(#y6)"/>
<circle cx="1154" cy="467" r="18.04" fill="url(#y6)"/>
<circle cx="613" cy="467" r="18.25" fill="url(#u6)"/>
<circle cx="1242" cy="468" r="18.23" fill="url(#y6)"/>
<circle cx="275" cy="469" r="15.23" fill="url(#y6)"/>
<circle cx="1399" cy="470" r="14.24" fill="url(#u6)"/>
<circle cx="641" cy="471" r="16.83" fill="url(#y6)"/>
<circle cx="453" cy="472" r="17.54" fill="url(#y6)"/>
<circle cx="79" cy="473" r="14.54" fill="url(#y6)"/>
<circle cx="479" cy="473" r="18" fill="url(#u6)"/>
<circle cx="412" cy="474" r="17.39" fill="url(#u6)"/>
<circle cx="1277" cy="474" r="14.17" fill="url(#y6)"/>
<circle cx="216" cy="475" r="17.04" fill="url(#y6)"/>
<circle cx="1375" cy="475" r="14.94" fill="url(#y6)"/>
<circle cx="521" cy="475" r="17.97" fill="url(#u6)"/>
<circle cx="1416" cy="476" r="14.34" fill="url(#y6)"/>
<circle cx="1169" cy="477" r="14.67" fill="url(#u6)"/>
<circle cx="531" cy="478" r="14.67" fill="url(#y6)"/>
<circle cx="1422" cy="478" r="17.92" fill="url(#y6)"/>
<circle cx="403" cy="478" r="17.58" fill="url(#y6)"/>
<circle cx="1438" cy="479" r="16.22" fill="url(#y6)"/>
<circle cx="211" cy="479" r="17.85" fill="url(#y6)"/>
<circle cx="674" cy="479" r="18.17" fill="url(#y6)"/>
<circle cx="366" cy="480" r="15.79" fill="url(#y6)"/>
<circle cx="672" cy="481" r="16.38" fill="url(#y6)"/>
<circle cx="471" cy="481" r="14.63" fill="url(#u6)"/>
<circle cx="144" cy="482" r="17.59" fill="url(#y6)"/>
<circle cx="909" cy="482" r="17.18" fill="url(#y6)"/>
<circle cx="387" cy="483" r="14.3" fill="url(#y6)"/>
<circle cx="369" cy="484" r="15.98" fill="url(#y6)"/>
<circle cx="1112" cy="484" r="17.63" fill="url(#y6)"/>
<circle cx="319" cy="484" r="16.46" fill="url(#u6)"/>
<circle cx="1390" cy="485" r="14.8" fill="url(#y6)"/>
<circle cx="1268" cy="485" r="16.66" fill="url(#u6)"/>
<circle cx="1216" cy="485" r="17.19" fill="url(#y6)"/>
<circle cx="951" cy="486" r="16.74" fill="url(#y6)"/>
<circle cx="576" cy="487" r="17.48" fill="url(#y6)"/>
<circle cx="1495" cy="487" r="18.63" fill="url(#y6)"/>
<circle cx="40" cy="487" r="14.87" fill="url(#u6)"/>
<circle cx="499" cy="489" r="17.49" fill="url(#y6)"/>
<circle cx="1370" cy="490" r="15.51" fill="url(#y6)"/>
<circle cx="476" cy="490" r="16.68" fill="url(#y6)"/>
<circle cx="1136" cy="490" r="14.48" fill="url(#y6)"/>
<circle cx="287" cy="491" r="16.28" fill="url(#y6)"/>
<circle cx="932" cy="491" r="15.09" fill="url(#y6)"/>
<circle cx="121" cy="491" r="15.69" fill="url(#u6)"/>
<circle cx="1099" cy="491" r="16.27" fill="url(#u6)"/>
<circle cx="843" cy="492" r="16.06" fill="url(#y6)"/>
<circle cx="308" cy="492" r="15.01" fill="url(#u6)"/>
<circle cx="722" cy="493" r="15.81" fill="url(#y6)"/>
<circle cx="1201" cy="493" r="18.09" fill="url(#u6)"/>
<circle cx="1079" cy="493" r="18.04" fill="url(#y6)"/>
<circle cx="91" cy="493" r="18.81" fill="url(#y6)"/>
<circle cx="1473" cy="494" r="17.99" fill="url(#u6)"/>
<circle cx="610" cy="494" r="16.25" fill="url(#y6)"/>
<circle cx="1436" cy="494" r="17.28" fill="url(#y6)"/>
<circle cx="238" cy="496" r="18.25" fill="url(#y6)"/>
<circle cx="1124" cy="496" r="14.58" fill="url(#y6)"/>
<circle cx="220" cy="496" r="15.69" fill="url(#y6)"/>
<circle cx="687" cy="496" r="17.43" fill="url(#y6)"/>
<circle cx="1406" cy="497" r="18.79" fill="url(#u6)"/>
<circle cx="1325" cy="497" r="14.71" fill="url(#u6)"/>
<circle cx="1489" cy="497" r="15.81" fill="url(#y6)"/>
<circle cx="121" cy="498" r="18.84" fill="url(#u6)"/>
<circle cx="1283" cy="498" r="16.12" fill="url(#y6)"/>
<circle cx="1062" cy="498" r="16.75" fill="url(#y6)"/>
<circle cx="1104" cy="498" r="18.46" fill="url(#y6)"/>
<circle cx="1140" cy="498" r="16.88" fill="url(#y6)"/>
<circle cx="1534" cy="499" r="18.54" fill="url(#y6)"/>
<circle cx="639" cy="500" r="16.44" fill="url(#y6)"/>
<circle cx="242" cy="500" r="16.08" fill="url(#y6)"/>
<circle cx="604" cy="500" r="18.93" fill="url(#y6)"/>
<circle cx="109" cy="501" r="18.08" fill="url(#y6)"/>
<circle cx="1231" cy="501" r="18.36" fill="url(#y6)"/>
<circle cx="870" cy="502" r="18.47" fill="url(#u6)"/>
<circle cx="79" cy="503" r="16.61" fill="url(#y6)"/>
<circle cx="798" cy="503" r="15.39" fill="url(#y6)"/>
<circle cx="368" cy="504" r="14.93" fill="url(#y6)"/>
<circle cx="1259" cy="505" r="15.84" fill="url(#u6)"/>
<circle cx="1118" cy="505" r="17.26" fill="url(#y6)"/>
<circle cx="820" cy="506" r="19.05" fill="url(#y6)"/>
<circle cx="453" cy="506" r="18.22" fill="url(#u6)"/>
<circle cx="462" cy="506" r="16.85" fill="url(#u6)"/>
<circle cx="534" cy="507" r="15.57" fill="url(#y6)"/>
<circle cx="591" cy="507" r="18.79" fill="url(#u6)"/>
<circle cx="1238" cy="508" r="15.75" fill="url(#y6)"/>
<circle cx="103" cy="508" r="16.84" fill="url(#u6)"/>
<circle cx="746" cy="508" r="15.12" fill="url(#u6)"/>
<circle cx="419" cy="508" r="16.85" fill="url(#y6)"/>
<circle cx="414" cy="509" r="15.3" fill="url(#y6)"/>
<circle cx="1132" cy="509" r="16.41" fill="url(#y6)"/>
<circle cx="596" cy="509" r="19.15" fill="url(#u6)"/>
<circle cx="1502" cy="510" r="15.22" fill="url(#y6)"/>
<circle cx="808" cy="511" r="15.13" fill="url(#u6)"/>
<circle cx="573" cy="512" r="17.03" fill="url(#u6)"/>
<circle cx="370" cy="514" r="18.43" fill="url(#y6)"/>
<circle cx="129" cy="514" r="18.18" fill="url(#y6)"/>
<circle cx="1114" cy="514" r="16.16" fill="url(#y6)"/>
<circle cx="1181" cy="515" r="18.85" fill="url(#y6)"/>
<circle cx="255" cy="517" r="17.34" fill="url(#y6)"/>
<circle cx="872" cy="518" r="18.13" fill="url(#u6)"/>
<circle cx="1009" cy="518" r="18.87" fill="url(#y6)"/>
<circle cx="849" cy="519" r="18.43" fill="url(#u6)"/>
<circle cx="1080" cy="519" r="15.15" fill="url(#u6)"/>
<circle cx="664" cy="519" r="18.38" fill="url(#y6)"/>
<circle cx="1281" cy="520" r="17.7" fill="url(#y6)"/>
<circle cx="219" cy="520" r="17.37" fill="url(#y6)"/>
<circle cx="133" cy="520" r="16.6" fill="url(#y6)"/>
<circle cx="984" cy="520" r="19.04" fill="url(#y6)"/>
<circle cx="1517" cy="520" r="19.25" fill="url(#y6)"/>
<circle cx="1213" cy="521" r="15.07" fill="url(#u6)"/>
<circle cx="1437" cy="521" r="16.32" fill="url(#u6)"/>
<circle cx="89" cy="522" r="18.15" fill="url(#u6)"/>
<circle cx="327" cy="522" r="16.22" fill="url(#y6)"/>
<circle cx="204" cy="524" r="17.88" fill="url(#u6)"/>
<circle cx="1048" cy="524" r="19.05" fill="url(#y6)"/>
<circle cx="1348" cy="524" r="15.26" fill="url(#y6)"/>
<circle cx="464" cy="526" r="16.52" fill="url(#u6)"/>
<circle cx="509" cy="527" r="18.36" fill="url(#u6)"/>
<circle cx="1416" cy="527" r="16.64" fill="url(#y6)"/>
<circle cx="1373" cy="527" r="17.06" fill="url(#y6)"/>
<circle cx="547" cy="527" r="16.32" fill="url(#y6)"/>
<circle cx="1138" cy="528" r="16.55" fill="url(#y6)"/>
<circle cx="907" cy="529" r="15.42" fill="url(#y6)"/>
<circle cx="1293" cy="529" r="17.77" fill="url(#y6)"/>
<circle cx="580" cy="529" r="15.3" fill="url(#y6)"/>
<circle cx="943" cy="531" r="17.44" fill="url(#u6)"/>
<circle cx="42" cy="532" r="15.69" fill="url(#u6)"/>
<circle cx="1304" cy="532" r="18.32" fill="url(#u6)"/>
<circle cx="162" cy="533" r="15.17" fill="url(#y6)"/>
<circle cx="656" cy="533" r="17.49" fill="url(#u6)"/>
<circle cx="1070" cy="533" r="15.58" fill="url(#y6)"/>
<circle cx="44" cy="534" r="15.33" fill="url(#y6)"/>
<circle cx="1195" cy="534" r="17.62" fill="url(#u6)"/>
<circle cx="1170" cy="535" r="15.5" fill="url(#u6)"/>
<circle cx="748" cy="535" r="18.2" fill="url(#y6)"/>
<circle cx="258" cy="535" r="15.48" fill="url(#u6)"/>
<circle cx="572" cy="535" r="17.43" fill="url(#y6)"/>
<circle cx="1296" cy="535" r="16.6" fill="url(#u6)"/>
<circle cx="516" cy="536" r="16.35" fill="url(#y6)"/>
<circle cx="710" cy="536" r="18.99" fill="url(#u6)"/>
<circle cx="152" cy="536" r="15.15" fill="url(#y6)"/>
<circle cx="377" cy="537" r="17.59" fill="url(#y6)"/>
<circle cx="582" cy="538" r="16.22" fill="url(#y6)"/>
<circle cx="294" cy="538" r="17.29" fill="url(#y6)"/>
<circle cx="897" cy="538" r="18.58" fill="url(#u6)"/>
<circle cx="1013" cy="538" r="16.68" fill="url(#u6)"/>
<circle cx="1338" cy="539" r="18.23" fill="url(#u6)"/>
<circle cx="286" cy="539" r="15.88" fill="url(#y6)"/>
<circle cx="119" cy="541" r="15.54" fill="url(#y6)"/>
<circle cx="1523" cy="542" r="17.21" fill="url(#u6)"/>
<circle cx="1291" cy="542" r="17.13" fill="url(#y6)"/>
<circle cx="1321" cy="542" r="18.15" fill="url(#u6)"/>
<circle cx="427" cy="543" r="16.43" fill="url(#u6)"/>
<circle cx="752" cy="543" r="17.02" fill="url(#u6)"/>
<circle cx="589" cy="544" r="16.67" fill="url(#y6)"/>
<circle cx="322" cy="544" r="17.35" fill="url(#u6)"/>
<circle cx="1407" cy="544" r="16.2" fill="url(#y6)"/>
<circle cx="383" cy="544" r="19.51" fill="url(#y6)"/>
<circle cx="667" cy="544" r="15.91" fill="url(#y6)"/>
<circle cx="122" cy="545" r="17.54" fill="url(#y6)"/>
<circle cx="1291" cy="546" r="18.72" fill="url(#u6)"/>
<circle cx="592" cy="546" r="17.86" fill="url(#y6)"/>
<circle cx="102" cy="546" r="15.91" fill="url(#y6)"/>
<circle cx="498" cy="546" r="16.46" fill="url(#y6)"/>
<circle cx="743" cy="546" r="19.02" fill="url(#y6)"/>
<circle cx="877" cy="546" r="16.56" fill="url(#u6)"/>
<circle cx="1474" cy="546" r="18.53" fill="url(#y6)"/>
<circle cx="1056" cy="547" r="18.64" fill="url(#u6)"/>
<circle cx="464" cy="547" r="18.49" fill="url(#y6)"/>
<circle cx="546" cy="547" r="16.11" fill="url(#y6)"/>
<circle cx="76" cy="548" r="16.57" fill="url(#y6)"/>
<circle cx="878" cy="548" r="15.44" fill="url(#y6)"/>
<circle cx="669" cy="549" r="15.86" fill="url(#y6)"/>
<circle cx="211" cy="549" r="17.02" fill="url(#y6)"/>
<circle cx="1290" cy="549" r="16.54" fill="url(#u6)"/>
<circle cx="502" cy="550" r="15.65" fill="url(#y6)"/>
<circle cx="1112" cy="552" r="15.71" fill="url(#u6)"/>
<circle cx="919" cy="552" r="18.23" fill="url(#y6)"/>
<circle cx="1171" cy="553" r="15.95" fill="url(#u6)"/>
<circle cx="1094" cy="553" r="15.87" fill="url(#y6)"/>
<circle cx="845" cy="554" r="16.12" fill="url(#y6)"/>
<circle cx="1020" cy="554" r="19.23" fill="url(#u6)"/>
<circle cx="1337" cy="554" r="16.27" fill="url(#u6)"/>
<circle cx="747" cy="554" r="16.75" fill="url(#y6)"/>
<circle cx="173" cy="555" r="18.46" fill="url(#u6)"/>
<circle cx="1278" cy="555" r="18.1" fill="url(#y6)"/>
<circle cx="821" cy="555" r="18.74" fill="url(#u6)"/>
<circle cx="127" cy="556" r="15.43" fill="url(#u6)"/>
<circle cx="740" cy="556" r="15.41" fill="url(#y6)"/>
<circle cx="702" cy="557" r="19.22" fill="url(#y6)"/>
<circle cx="118" cy="557" r="19.52" fill="url(#u6)"/>
<circle cx="1367" cy="557" r="16.01" fill="url(#y6)"/>
<circle cx="1471" cy="558" r="19.61" fill="url(#u6)"/>
<circle cx="552" cy="558" r="17.71" fill="url(#y6)"/>
<circle cx="893" cy="560" r="18.08" fill="url(#y6)"/>
<circle cx="784" cy="560" r="18.38" fill="url(#u6)"/>
<circle cx="320" cy="560" r="18.68" fill="url(#y6)"/>
<circle cx="452" cy="561" r="18.36" fill="url(#y6)"/>
<circle cx="202" cy="562" r="17.85" fill="url(#y6)"/>
<circle cx="516" cy="563" r="19.78" fill="url(#y6)"/>
<circle cx="1428" cy="563" r="17.97" fill="url(#y6)"/>
<circle cx="1497" cy="563" r="19.57" fill="url(#y6)"/>
<circle cx="1333" cy="563" r="19.96" fill="url(#y6)"/>
<circle cx="1264" cy="563" r="19.39" fill="url(#u6)"/>
<circle cx="593" cy="564" r="16.79" fill="url(#y6)"/>
<circle cx="246" cy="564" r="16.74" fill="url(#y6)"/>
<circle cx="1537" cy="564" r="16.66" fill="url(#y6)"/>
<circle cx="547" cy="565" r="15.68" fill="url(#y6)"/>
<circle cx="171" cy="565" r="16.84" fill="url(#u6)"/>
<circle cx="1287" cy="565" r="19.96" fill="url(#y6)"/>
<circle cx="277" cy="565" r="17.32" fill="url(#u6)"/>
<circle cx="698" cy="566" r="15.63" fill="url(#y6)"/>
<circle cx="1045" cy="567" r="16.62" fill="url(#y6)"/>
<circle cx="789" cy="567" r="16.4" fill="url(#y6)"/>
<circle cx="192" cy="567" r="16.04" fill="url(#y6)"/>
<circle cx="1377" cy="568" r="18.05" fill="url(#u6)"/>
<circle cx="952" cy="568" r="18.75" fill="url(#u6)"/>
<circle cx="390" cy="569" r="20" fill="url(#y6)"/>
<circle cx="1474" cy="569" r="17.7" fill="url(#y6)"/>
<circle cx="47" cy="569" r="19.91" fill="url(#u6)"/>
<circle cx="479" cy="569" r="19.52" fill="url(#y6)"/>
<circle cx="102" cy="570" r="18.47" fill="url(#u6)"/>
<circle cx="1271" cy="571" r="17.14" fill="url(#y6)"/>
<circle cx="1234" cy="571" r="16.47" fill="url(#y6)"/>
<circle cx="1411" cy="571" r="16.05" fill="url(#y6)"/>
<circle cx="1374" cy="572" r="17.61" fill="url(#y6)"/>
<circle cx="1134" cy="572" r="19.47" fill="url(#y6)"/>
<circle cx="1311" cy="572" r="17.63" fill="url(#u6)"/>
<circle cx="235" cy="572" r="19.3" fill="url(#y6)"/>
<circle cx="875" cy="572" r="16.77" fill="url(#y6)"/>
<circle cx="1423" cy="572" r="16.83" fill="url(#y6)"/>
<circle cx="191" cy="573" r="19.03" fill="url(#y6)"/>
<circle cx="92" cy="573" r="17.73" fill="url(#y6)"/>
<circle cx="1080" cy="575" r="20.03" fill="url(#y6)"/>
<circle cx="810" cy="575" r="18.45" fill="url(#y6)"/>
<circle cx="1194" cy="578" r="18.23" fill="url(#y6)"/>
<circle cx="839" cy="578" r="18.02" fill="url(#y6)"/>
<circle cx="724" cy="578" r="16.84" fill="url(#y6)"/>
<circle cx="329" cy="579" r="17.96" fill="url(#y6)"/>
<circle cx="1155" cy="579" r="18.87" fill="url(#u6)"/>
<circle cx="654" cy="579" r="19.76" fill="url(#y6)"/>
<circle cx="1096" cy="579" r="18.96" fill="url(#y6)"/>
<circle cx="1020" cy="580" r="18.38" fill="url(#y6)"/>
<circle cx="1006" cy="581" r="17.87" fill="url(#u6)"/>
<circle cx="818" cy="582" r="18.36" fill="url(#y6)"/>
<circle cx="345" cy="582" r="18.73" fill="url(#u6)"/>
<circle cx="587" cy="582" r="15.96" fill="url(#u6)"/>
<circle cx="904" cy="583" r="16.98" fill="url(#u6)"/>
<circle cx="332" cy="583" r="18.16" fill="url(#y6)"/>
<circle cx="472" cy="583" r="16.76" fill="url(#y6)"/>
<circle cx="656" cy="583" r="17.31" fill="url(#y6)"/>
<circle cx="1229" cy="584" r="16.69" fill="url(#y6)"/>
<circle cx="422" cy="584" r="18.74" fill="url(#y6)"/>
<circle cx="706" cy="584" r="18.94" fill="url(#y6)"/>
<circle cx="985" cy="585" r="18.82" fill="url(#u6)"/>
<circle cx="107" cy="585" r="16.26" fill="url(#y6)"/>
<circle cx="1268" cy="586" r="16.42" fill="url(#y6)"/>
<circle cx="1147" cy="586" r="20.06" fill="url(#y6)"/>
<circle cx="834" cy="586" r="18.44" fill="url(#y6)"/>
<circle cx="1165" cy="586" r="19.8" fill="url(#y6)"/>
<circle cx="246" cy="587" r="17.03" fill="url(#u6)"/>
<circle cx="636" cy="588" r="18.66" fill="url(#u6)"/>
<circle cx="1205" cy="589" r="18.86" fill="url(#u6)"/>
<circle cx="1435" cy="591" r="17.24" fill="url(#y6)"/>
<circle cx="446" cy="591" r="16.54" fill="url(#y6)"/>
<circle cx="1379" cy="592" r="16.4" fill="url(#u6)"/>
<circle cx="292" cy="592" r="17.79" fill="url(#y6)"/>
<circle cx="417" cy="592" r="20" fill="url(#y6)"/>
<circle cx="350" cy="592" r="17.18" fill="url(#y6)"/>
<circle cx="1238" cy="593" r="16.02" fill="url(#y6)"/>
<circle cx="1486" cy="593" r="20.09" fill="url(#u6)"/>
<circle cx="994" cy="594" r="17.97" fill="url(#u6)"/>
<circle cx="280" cy="594" r="17.61" fill="url(#u6)"/>
<circle cx="767" cy="594" r="19.76" fill="url(#y6)"/>
<circle cx="588" cy="594" r="18.1" fill="url(#y6)"/>
<circle cx="1108" cy="595" r="18.36" fill="url(#y6)"/>
<circle cx="692" cy="595" r="17.7" fill="url(#y6)"/>
<circle cx="1371" cy="596" r="19.97" fill="url(#u6)"/>
<circle cx="1038" cy="596" r="17.96" fill="url(#u6)"/>
<circle cx="1332" cy="597" r="18.54" fill="url(#u6)"/>
<circle cx="949" cy="597" r="17.33" fill="url(#y6)"/>
<circle cx="72" cy="598" r="17.43" fill="url(#y6)"/>
<circle cx="271" cy="599" r="19.37" fill="url(#u6)"/>
<circle cx="358" cy="599" r="19.74" fill="url(#y6)"/>
<circle cx="882" cy="599" r="20.04" fill="url(#y6)"/>
<circle cx="1214" cy="600" r="17.74" fill="url(#y6)"/>
<circle cx="986" cy="600" r="17.31" fill="url(#y6)"/>
<circle cx="84" cy="600" r="19.86" fill="url(#y6)"/>
<circle cx="621" cy="600" r="19.79" fill="url(#y6)"/>
<circle cx="768" cy="600" r="17.21" fill="url(#u6)"/>
<circle cx="625" cy="601" r="17.58" fill="url(#u6)"/>
<circle cx="437" cy="601" r="18.56" fill="url(#y6)"/>
<circle cx="109" cy="601" r="16.15" fill="url(#u6)"/>
<circle cx="1286" cy="602" r="18.01" fill="url(#y6)"/>
<circle cx="1099" cy="602" r="18.25" fill="url(#y6)"/>
<circle cx="786" cy="604" r="17.09" fill="url(#u6)"/>
<circle cx="132" cy="605" r="19.46" fill="url(#y6)"/>
<circle cx="1256" cy="607" r="18.31" fill="url(#u6)"/>
<circle cx="871" cy="608" r="17.65" fill="url(#y6)"/>
<circle cx="293" cy="608" r="17.53" fill="url(#y6)"/>
<circle cx="672" cy="609" r="20.41" fill="url(#y6)"/>
<circle cx="1042" cy="609" r="16.5" fill="url(#u6)"/>
<circle cx="810" cy="609" r="19.57" fill="url(#y6)"/>
<circle cx="1082" cy="610" r="18.37" fill="url(#u6)"/>
<circle cx="405" cy="610" r="17.99" fill="url(#u6)"/>
<circle cx="245" cy="610" r="18.03" fill="url(#y6)"/>
<circle cx="748" cy="611" r="19.9" fill="url(#u6)"/>
<circle cx="978" cy="611" r="20.64" fill="url(#u6)"/>
<circle cx="1328" cy="612" r="19.61" fill="url(#u6)"/>
<circle cx="79" cy="613" r="20.3" fill="url(#y6)"/>
<circle cx="638" cy="613" r="16.57" fill="url(#y6)"/>
<circle cx="1428" cy="613" r="20.28" fill="url(#u6)"/>
<circle cx="934" cy="615" r="16.35" fill="url(#u6)"/>
<circle cx="1345" cy="617" r="19.12" fill="url(#y6)"/>
<circle cx="991" cy="617" r="19.77" fill="url(#y6)"/>
<circle cx="174" cy="618" r="16.89" fill="url(#y6)"/>
<circle cx="330" cy="618" r="16.85" fill="url(#y6)"/>
<circle cx="1070" cy="618" r="18.5" fill="url(#u6)"/>
<circle cx="426" cy="619" r="17.59" fill="url(#u6)"/>
<circle cx="146" cy="620" r="20.6" fill="url(#y6)"/>
<circle cx="1512" cy="620" r="17.74" fill="url(#y6)"/>
<circle cx="1412" cy="620" r="17.1" fill="url(#u6)"/>
<circle cx="526" cy="622" r="20.84" fill="url(#y6)"/>
<circle cx="1061" cy="622" r="20.07" fill="url(#y6)"/>
<circle cx="463" cy="622" r="19.48" fill="url(#y6)"/>
<circle cx="192" cy="623" r="18.86" fill="url(#y6)"/>
<circle cx="312" cy="623" r="18.32" fill="url(#y6)"/>
<circle cx="1497" cy="623" r="18.62" fill="url(#y6)"/>
<circle cx="257" cy="624" r="16.54" fill="url(#y6)"/>
<circle cx="499" cy="624" r="18.35" fill="url(#u6)"/>
<circle cx="379" cy="626" r="17.62" fill="url(#y6)"/>
<circle cx="1015" cy="626" r="18.91" fill="url(#u6)"/>
<circle cx="844" cy="627" r="20.47" fill="url(#y6)"/>
<circle cx="246" cy="627" r="19.88" fill="url(#y6)"/>
<circle cx="1421" cy="629" r="16.49" fill="url(#y6)"/>
<circle cx="113" cy="629" r="17.05" fill="url(#u6)"/>
<circle cx="799" cy="629" r="16.83" fill="url(#y6)"/>
<circle cx="209" cy="630" r="19.38" fill="url(#u6)"/>
<circle cx="1182" cy="630" r="19.82" fill="url(#u6)"/>
<circle cx="1527" cy="630" r="18.03" fill="url(#y6)"/>
<circle cx="662" cy="630" r="17" fill="url(#y6)"/>
<circle cx="852" cy="631" r="18.9" fill="url(#y6)"/>
<circle cx="751" cy="631" r="18.18" fill="url(#y6)"/>
<circle cx="1504" cy="631" r="16.99" fill="url(#y6)"/>
<circle cx="1473" cy="631" r="16.62" fill="url(#y6)"/>
<circle cx="819" cy="631" r="17.72" fill="url(#u6)"/>
<circle cx="597" cy="633" r="20.35" fill="url(#y6)"/>
<circle cx="561" cy="634" r="17.19" fill="url(#y6)"/>
<circle cx="750" cy="634" r="18.03" fill="url(#y6)"/>
<circle cx="247" cy="634" r="19.96" fill="url(#y6)"/>
<circle cx="1020" cy="635" r="20.31" fill="url(#u6)"/>
<circle cx="278" cy="636" r="20.43" fill="url(#u6)"/>
<circle cx="911" cy="636" r="20.96" fill="url(#y6)"/>
<circle cx="1389" cy="636" r="20.88" fill="url(#y6)"/>
<circle cx="157" cy="638" r="20.2" fill="url(#y6)"/>
<circle cx="177" cy="638" r="20.59" fill="url(#u6)"/>
<circle cx="720" cy="639" r="17.71" fill="url(#y6)"/>
<circle cx="1297" cy="639" r="20.81" fill="url(#y6)"/>
<circle cx="681" cy="639" r="20.61" fill="url(#u6)"/>
<circle cx="765" cy="640" r="18.43" fill="url(#u6)"/>
<circle cx="590" cy="641" r="18.82" fill="url(#y6)"/>
<circle cx="1012" cy="641" r="19.5" fill="url(#y6)"/>
<circle cx="950" cy="642" r="17.2" fill="url(#u6)"/>
<circle cx="43" cy="643" r="19.73" fill="url(#u6)"/>
<circle cx="1314" cy="643" r="17.82" fill="url(#u6)"/>
<circle cx="1028" cy="644" r="17.8" fill="url(#y6)"/>
<circle cx="978" cy="645" r="17.6" fill="url(#y6)"/>
<circle cx="803" cy="646" r="19.6" fill="url(#y6)"/>
<circle cx="1256" cy="647" r="19.85" fill="url(#y6)"/>
<circle cx="202" cy="647" r="19.39" fill="url(#y6)"/>
<circle cx="361" cy="648" r="19.6" fill="url(#u6)"/>
<circle cx="941" cy="648" r="20.03" fill="url(#y6)"/>
<circle cx="1185" cy="649" r="20.93" fill="url(#y6)"/>
<circle cx="275" cy="649" r="18.8" fill="url(#y6)"/>
<circle cx="1100" cy="650" r="20.52" fill="url(#y6)"/>
<circle cx="1363" cy="650" r="18.88" fill="url(#y6)"/>
<circle cx="916" cy="651" r="18.8" fill="url(#y6)"/>
<circle cx="1430" cy="652" r="17.34" fill="url(#y6)"/>
<circle cx="767" cy="652" r="18.62" fill="url(#y6)"/>
<circle cx="984" cy="652" r="17.55" fill="url(#y6)"/>
<circle cx="270" cy="653" r="18.27" fill="url(#y6)"/>
<circle cx="1279" cy="653" r="19.97" fill="url(#y6)"/>
<circle cx="1175" cy="653" r="19.38" fill="url(#y6)"/>
<circle cx="1212" cy="654" r="17.77" fill="url(#u6)"/>
<circle cx="207" cy="655" r="17.75" fill="url(#y6)"/>
<circle cx="882" cy="655" r="20.57" fill="url(#y6)"/>
<circle cx="1520" cy="655" r="18.69" fill="url(#y6)"/>
<circle cx="1324" cy="656" r="18.13" fill="url(#y6)"/>
<circle cx="1135" cy="656" r="20.77" fill="url(#y6)"/>
<circle cx="1051" cy="657" r="17.17" fill="url(#y6)"/>
<circle cx="998" cy="657" r="18.76" fill="url(#u6)"/>
<circle cx="240" cy="658" r="20.94" fill="url(#y6)"/>
<circle cx="1326" cy="658" r="21.23" fill="url(#y6)"/>
<circle cx="84" cy="658" r="21.19" fill="url(#u6)"/>
<circle cx="827" cy="659" r="20.43" fill="url(#y6)"/>
<circle cx="86" cy="661" r="19.43" fill="url(#u6)"/>
<circle cx="677" cy="662" r="18.8" fill="url(#y6)"/>
<circle cx="1223" cy="662" r="17.42" fill="url(#y6)"/>
<circle cx="602" cy="662" r="17.89" fill="url(#y6)"/>
<circle cx="852" cy="663" r="18.64" fill="url(#y6)"/>
<circle cx="884" cy="663" r="17.28" fill="url(#y6)"/>
<circle cx="597" cy="665" r="19.66" fill="url(#y6)"/>
<circle cx="1149" cy="665" r="18.28" fill="url(#y6)"/>
<circle cx="1100" cy="665" r="20.62" fill="url(#u6)"/>
<circle cx="626" cy="665" r="20.25" fill="url(#y6)"/>
<circle cx="1439" cy="666" r="21.01" fill="url(#y6)"/>
<circle cx="1047" cy="666" r="19.1" fill="url(#y6)"/>
<circle cx="1408" cy="667" r="18.29" fill="url(#u6)"/>
<circle cx="1263" cy="668" r="19.25" fill="url(#y6)"/>
<circle cx="961" cy="668" r="18.9" fill="url(#y6)"/>
<circle cx="1423" cy="668" r="18.97" fill="url(#y6)"/>
<circle cx="513" cy="669" r="18.22" fill="url(#y6)"/>
<circle cx="259" cy="669" r="18.25" fill="url(#u6)"/>
<circle cx="1269" cy="669" r="20.82" fill="url(#y6)"/>
<circle cx="1010" cy="670" r="19.07" fill="url(#y6)"/>
<circle cx="1225" cy="670" r="18.91" fill="url(#y6)"/>
<circle cx="304" cy="671" r="19.05" fill="url(#u6)"/>
<circle cx="1206" cy="673" r="19.76" fill="url(#y6)"/>
<circle cx="272" cy="674" r="17.18" fill="url(#u6)"/>
<circle cx="531" cy="674" r="21.34" fill="url(#u6)"/>
<circle cx="1101" cy="674" r="18.32" fill="url(#y6)"/>
<circle cx="1284" cy="674" r="17.21" fill="url(#y6)"/>
<circle cx="1417" cy="675" r="18.18" fill="url(#y6)"/>
<circle cx="293" cy="676" r="17.48" fill="url(#y6)"/>
<circle cx="57" cy="677" r="21.53" fill="url(#y6)"/>
<circle cx="931" cy="677" r="19.13" fill="url(#u6)"/>
<circle cx="240" cy="678" r="19.25" fill="url(#y6)"/>
<circle cx="1023" cy="678" r="17.49" fill="url(#y6)"/>
<circle cx="639" cy="679" r="19.95" fill="url(#y6)"/>
<circle cx="715" cy="679" r="21.57" fill="url(#u6)"/>
<circle cx="547" cy="680" r="21.24" fill="url(#y6)"/>
<circle cx="211" cy="680" r="21.06" fill="url(#y6)"/>
<circle cx="1004" cy="681" r="19.03" fill="url(#y6)"/>
<circle cx="259" cy="682" r="20.24" fill="url(#y6)"/>
<circle cx="114" cy="682" r="20.68" fill="url(#y6)"/>
<circle cx="94" cy="682" r="18.65" fill="url(#y6)"/>
<circle cx="582" cy="683" r="20.16" fill="url(#y6)"/>
<circle cx="347" cy="683" r="18.99" fill="url(#y6)"/>
<circle cx="1439" cy="684" r="21.44" fill="url(#u6)"/>
<circle cx="58" cy="684" r="17.36" fill="url(#y6)"/>
<circle cx="87" cy="686" r="19.93" fill="url(#y6)"/>
<circle cx="1180" cy="686" r="21.57" fill="url(#y6)"/>
<circle cx="361" cy="688" r="21.17" fill="url(#y6)"/>
<circle cx="109" cy="689" r="20.3" fill="url(#y6)"/>
<circle cx="692" cy="689" r="18.01" fill="url(#y6)"/>
<circle cx="1457" cy="690" r="17.75" fill="url(#u6)"/>
<circle cx="760" cy="690" r="19.11" fill="url(#y6)"/>
<circle cx="1290" cy="690" r="19.36" fill="url(#y6)"/>
<circle cx="368" cy="691" r="20.74" fill="url(#u6)"/>
<circle cx="1420" cy="694" r="19.12" fill="url(#y6)"/>
<circle cx="1517" cy="697" r="17.75" fill="url(#y6)"/>
<circle cx="1085" cy="698" r="21.27" fill="url(#y6)"/>
<circle cx="789" cy="698" r="19.59" fill="url(#y6)"/>
<circle cx="171" cy="699" r="17.54" fill="url(#y6)"/>
<circle cx="893" cy="699" r="21.62" fill="url(#y6)"/>
<circle cx="986" cy="699" r="19.67" fill="url(#y6)"/>
<circle cx="1362" cy="700" r="21.19" fill="url(#y6)"/>
<circle cx="984" cy="700" r="19.17" fill="url(#y6)"/>
<circle cx="1056" cy="701" r="21.2" fill="url(#u6)"/>
<circle cx="1056" cy="701" r="18.74" fill="url(#y6)"/>
<circle cx="1124" cy="702" r="18.56" fill="url(#u6)"/>
<circle cx="1059" cy="702" r="19.29" fill="url(#y6)"/>
<circle cx="176" cy="703" r="20.57" fill="url(#y6)"/>
<circle cx="1172" cy="704" r="18.1" fill="url(#y6)"/>
<circle cx="1001" cy="706" r="21.79" fill="url(#y6)"/>
<circle cx="587" cy="707" r="18.36" fill="url(#y6)"/>
<circle cx="41" cy="707" r="20.6" fill="url(#y6)"/>
<circle cx="885" cy="707" r="22.13" fill="url(#y6)"/>
<circle cx="1495" cy="707" r="21.35" fill="url(#y6)"/>
<circle cx="1407" cy="707" r="18.22" fill="url(#u6)"/>
<circle cx="171" cy="708" r="18.56" fill="url(#y6)"/>
<circle cx="1206" cy="708" r="18.17" fill="url(#y6)"/>
<circle cx="742" cy="708" r="18.18" fill="url(#y6)"/>
<circle cx="578" cy="708" r="19.36" fill="url(#y6)"/>
<circle cx="1178" cy="708" r="19.81" fill="url(#y6)"/>
<circle cx="1081" cy="709" r="18.95" fill="url(#u6)"/>
<circle cx="753" cy="709" r="19.63" fill="url(#y6)"/>
<circle cx="1525" cy="709" r="19.61" fill="url(#y6)"/>
<circle cx="1064" cy="709" r="18.64" fill="url(#y6)"/>
<circle cx="838" cy="710" r="22.16" fill="url(#y6)"/>
<circle cx="148" cy="710" r="18.69" fill="url(#y6)"/>
<circle cx="162" cy="710" r="17.69" fill="url(#y6)"/>
<circle cx="918" cy="711" r="21" fill="url(#y6)"/>
<circle cx="1204" cy="711" r="21.79" fill="url(#y6)"/>
<circle cx="496" cy="711" r="21.2" fill="url(#u6)"/>
<circle cx="792" cy="711" r="19.32" fill="url(#u6)"/>
<circle cx="926" cy="712" r="21.86" fill="url(#y6)"/>
<circle cx="1029" cy="712" r="18.21" fill="url(#y6)"/>
<circle cx="345" cy="712" r="18.44" fill="url(#y6)"/>
<circle cx="1055" cy="713" r="19.73" fill="url(#y6)"/>
<circle cx="530" cy="714" r="19.26" fill="url(#u6)"/>
<circle cx="663" cy="714" r="19.73" fill="url(#y6)"/>
<circle cx="1431" cy="714" r="19.05" fill="url(#u6)"/>
<circle cx="589" cy="716" r="19.52" fill="url(#y6)"/>
<circle cx="56" cy="716" r="17.96" fill="url(#y6)"/>
<circle cx="823" cy="716" r="19.45" fill="url(#u6)"/>
<circle cx="1432" cy="717" r="18.35" fill="url(#u6)"/>
<circle cx="72" cy="717" r="21.22" fill="url(#y6)"/>
<circle cx="924" cy="719" r="20.11" fill="url(#y6)"/>
<circle cx="257" cy="719" r="18.81" fill="url(#y6)"/>
<circle cx="401" cy="719" r="20.99" fill="url(#y6)"/>
<circle cx="898" cy="720" r="19.86" fill="url(#u6)"/>
<circle cx="1401" cy="720" r="20.39" fill="url(#y6)"/>
<circle cx="963" cy="720" r="21.6" fill="url(#y6)"/>
<circle cx="355" cy="721" r="21.62" fill="url(#y6)"/>
<circle cx="530" cy="722" r="18.28" fill="url(#y6)"/>
<circle cx="608" cy="722" r="22.17" fill="url(#u6)"/>
<circle cx="1163" cy="723" r="17.93" fill="url(#y6)"/>
<circle cx="196" cy="723" r="20.92" fill="url(#y6)"/>
<circle cx="1031" cy="723" r="19.44" fill="url(#y6)"/>
<circle cx="1516" cy="725" r="19.71" fill="url(#y6)"/>
<circle cx="885" cy="726" r="18.56" fill="url(#u6)"/>
<circle cx="1208" cy="727" r="18.54" fill="url(#u6)"/>
<circle cx="366" cy="727" r="20.82" fill="url(#y6)"/>
<circle cx="635" cy="728" r="18.35" fill="url(#y6)"/>
<circle cx="1260" cy="728" r="21.35" fill="url(#y6)"/>
<circle cx="729" cy="729" r="18.22" fill="url(#y6)"/>
<circle cx="1363" cy="730" r="20.46" fill="url(#y6)"/>
<circle cx="951" cy="730" r="19.3" fill="url(#y6)"/>
<circle cx="423" cy="730" r="18.31" fill="url(#y6)"/>
<circle cx="768" cy="730" r="20.28" fill="url(#u6)"/>
<circle cx="1226" cy="730" r="19.58" fill="url(#u6)"/>
<circle cx="116" cy="731" r="20.91" fill="url(#u6)"/>
<circle cx="1537" cy="732" r="22.33" fill="url(#y6)"/>
<circle cx="1522" cy="732" r="19.62" fill="url(#y6)"/>
<circle cx="979" cy="732" r="20.01" fill="url(#y6)"/>
<circle cx="768" cy="732" r="19.18" fill="url(#u6)"/>
<circle cx="584" cy="733" r="20.38" fill="url(#y6)"/>
<circle cx="933" cy="733" r="21.8" fill="url(#y6)"/>
<circle cx="97" cy="733" r="20.54" fill="url(#u6)"/>
<circle cx="187" cy="733" r="20.4" fill="url(#y6)"/>
<circle cx="68" cy="733" r="21.55" fill="url(#y6)"/>
<circle cx="307" cy="734" r="19.49" fill="url(#y6)"/>
<circle cx="1488" cy="734" r="19.14" fill="url(#y6)"/>
<circle cx="989" cy="734" r="18.72" fill="url(#y6)"/>
<circle cx="1234" cy="735" r="20.16" fill="url(#y6)"/>
<circle cx="1245" cy="735" r="22.03" fill="url(#y6)"/>
<circle cx="1389" cy="735" r="19.71" fill="url(#y6)"/>
<circle cx="884" cy="735" r="20.03" fill="url(#u6)"/>
<circle cx="1155" cy="735" r="21.02" fill="url(#y6)"/>
<circle cx="755" cy="736" r="18.96" fill="url(#y6)"/>
<circle cx="129" cy="736" r="22.32" fill="url(#y6)"/>
<circle cx="59" cy="736" r="19.58" fill="url(#u6)"/>
<circle cx="1089" cy="736" r="19.06" fill="url(#u6)"/>
<circle cx="1211" cy="737" r="21.16" fill="url(#u6)"/>
<circle cx="1461" cy="738" r="18.7" fill="url(#y6)"/>
<circle cx="830" cy="739" r="18.78" fill="url(#y6)"/>
<circle cx="1352" cy="739" r="21.21" fill="url(#y6)"/>
<circle cx="827" cy="740" r="18.28" fill="url(#u6)"/>
<circle cx="206" cy="740" r="18.54" fill="url(#y6)"/>
<circle cx="1267" cy="743" r="21.46" fill="url(#y6)"/>
<circle cx="807" cy="744" r="19.35" fill="url(#u6)"/>
<circle cx="294" cy="744" r="20.75" fill="url(#y6)"/>
<circle cx="458" cy="744" r="22.35" fill="url(#y6)"/>
<circle cx="1412" cy="745" r="20.1" fill="url(#y6)"/>
<circle cx="778" cy="745" r="21.33" fill="url(#y6)"/>
<circle cx="1214" cy="746" r="22.68" fill="url(#y6)"/>
<circle cx="82" cy="747" r="19.34" fill="url(#y6)"/>
<circle cx="976" cy="748" r="18.48" fill="url(#y6)"/>
<circle cx="349" cy="749" r="21.93" fill="url(#u6)"/>
<circle cx="207" cy="749" r="21.33" fill="url(#y6)"/>
<circle cx="936" cy="750" r="21.89" fill="url(#u6)"/>
<circle cx="948" cy="750" r="18.94" fill="url(#y6)"/>
<circle cx="316" cy="750" r="19.81" fill="url(#y6)"/>
<circle cx="1177" cy="750" r="20.01" fill="url(#u6)"/>
<circle cx="990" cy="751" r="20.46" fill="url(#y6)"/>
<circle cx="510" cy="751" r="22.3" fill="url(#y6)"/>
<circle cx="753" cy="751" r="21.47" fill="url(#y6)"/>
<circle cx="931" cy="752" r="18.35" fill="url(#y6)"/>
<circle cx="1424" cy="752" r="20.67" fill="url(#y6)"/>
<circle cx="644" cy="752" r="19.55" fill="url(#y6)"/>
<circle cx="134" cy="752" r="21.87" fill="url(#u6)"/>
<circle cx="968" cy="753" r="20.41" fill="url(#y6)"/>
<circle cx="228" cy="753" r="18.97" fill="url(#y6)"/>
<circle cx="432" cy="753" r="21.89" fill="url(#y6)"/>
<circle cx="261" cy="753" r="20.07" fill="url(#y6)"/>
<circle cx="768" cy="753" r="22.63" fill="url(#u6)"/>
<circle cx="1216" cy="754" r="21.24" fill="url(#u6)"/>
<circle cx="880" cy="755" r="21.96" fill="url(#u6)"/>
<circle cx="994" cy="755" r="20.5" fill="url(#u6)"/>
<circle cx="1084" cy="756" r="20.94" fill="url(#u6)"/>
<circle cx="335" cy="756" r="21.18" fill="url(#y6)"/>
<circle cx="897" cy="756" r="20.08" fill="url(#y6)"/>
<circle cx="560" cy="757" r="18.62" fill="url(#u6)"/>
<circle cx="1482" cy="758" r="22.74" fill="url(#u6)"/>
<circle cx="444" cy="758" r="21.23" fill="url(#u6)"/>
<circle cx="1245" cy="758" r="20.02" fill="url(#y6)"/>
<circle cx="1220" cy="760" r="20.57" fill="url(#u6)"/>
<circle cx="1230" cy="760" r="19.55" fill="url(#y6)"/>
<circle cx="204" cy="760" r="19.94" fill="url(#u6)"/>
<circle cx="902" cy="760" r="22.56" fill="url(#y6)"/>
<circle cx="839" cy="761" r="20.53" fill="url(#y6)"/>
<circle cx="86" cy="761" r="21.26" fill="url(#y6)"/>
<circle cx="71" cy="761" r="21.19" fill="url(#u6)"/>
<circle cx="356" cy="762" r="20.48" fill="url(#y6)"/>
<circle cx="498" cy="762" r="22.42" fill="url(#u6)"/>
<circle cx="212" cy="762" r="18.88" fill="url(#y6)"/>
<circle cx="1155" cy="762" r="21.93" fill="url(#y6)"/>
<circle cx="1045" cy="763" r="22.95" fill="url(#u6)"/>
<circle cx="1024" cy="763" r="22.04" fill="url(#u6)"/>
<circle cx="1517" cy="763" r="21.13" fill="url(#y6)"/>
<circle cx="650" cy="763" r="21.56" fill="url(#y6)"/>
<circle cx="217" cy="764" r="19.33" fill="url(#y6)"/>
<circle cx="1361" cy="765" r="19.63" fill="url(#y6)"/>
<circle cx="910" cy="765" r="19.56" fill="url(#u6)"/>
<circle cx="1153" cy="765" r="22.41" fill="url(#y6)"/>
<circle cx="161" cy="765" r="21.58" fill="url(#u6)"/>
<circle cx="262" cy="766" r="20.83" fill="url(#y6)"/>
<circle cx="675" cy="767" r="19.21" fill="url(#y6)"/>
<circle cx="190" cy="767" r="19.8" fill="url(#u6)"/>
<circle cx="142" cy="768" r="22.73" fill="url(#y6)"/>
<circle cx="1384" cy="769" r="20.68" fill="url(#u6)"/>
<circle cx="1043" cy="769" r="21.63" fill="url(#y6)"/>
<circle cx="236" cy="769" r="19.54" fill="url(#u6)"/>
<circle cx="1252" cy="769" r="19.99" fill="url(#y6)"/>
<circle cx="54" cy="770" r="21.14" fill="url(#u6)"/>
<circle cx="626" cy="770" r="20.56" fill="url(#y6)"/>
<circle cx="170" cy="770" r="18.76" fill="url(#u6)"/>
<circle cx="1196" cy="771" r="19.64" fill="url(#y6)"/>
<circle cx="966" cy="771" r="22.09" fill="url(#u6)"/>
<circle cx="600" cy="772" r="19.29" fill="url(#y6)"/>
<circle cx="671" cy="772" r="21.84" fill="url(#y6)"/>
<circle cx="730" cy="773" r="21.16" fill="url(#y6)"/>
<circle cx="224" cy="773" r="19.76" fill="url(#u6)"/>
<circle cx="1227" cy="774" r="18.87" fill="url(#y6)"/>
<circle cx="1403" cy="774" r="20.47" fill="url(#y6)"/>
<circle cx="580" cy="774" r="21.49" fill="url(#u6)"/>
<circle cx="319" cy="775" r="18.65" fill="url(#y6)"/>
<circle cx="1146" cy="775" r="21.79" fill="url(#y6)"/>
<circle cx="664" cy="775" r="21.35" fill="url(#y6)"/>
<circle cx="1313" cy="776" r="19.1" fill="url(#y6)"/>
<circle cx="675" cy="777" r="22.23" fill="url(#y6)"/>
<circle cx="371" cy="777" r="22.59" fill="url(#u6)"/>
<circle cx="393" cy="777" r="18.73" fill="url(#u6)"/>
<circle cx="158" cy="777" r="20.88" fill="url(#y6)"/>
<circle cx="95" cy="777" r="20.38" fill="url(#y6)"/>
<circle cx="408" cy="778" r="19.93" fill="url(#u6)"/>
<circle cx="432" cy="778" r="21.52" fill="url(#y6)"/>
<circle cx="149" cy="778" r="22.41" fill="url(#y6)"/>
<circle cx="1048" cy="778" r="19.06" fill="url(#u6)"/>
<circle cx="1135" cy="779" r="20.87" fill="url(#u6)"/>
<circle cx="653" cy="780" r="20.53" fill="url(#y6)"/>
<circle cx="270" cy="780" r="22.25" fill="url(#y6)"/>
<circle cx="1256" cy="780" r="22.31" fill="url(#u6)"/>
<circle cx="478" cy="781" r="18.95" fill="url(#y6)"/>
<circle cx="234" cy="781" r="21.6" fill="url(#y6)"/>
<circle cx="1255" cy="782" r="22.24" fill="url(#y6)"/>
<circle cx="880" cy="782" r="23.09" fill="url(#u6)"/>
<circle cx="992" cy="783" r="22.88" fill="url(#u6)"/>
<circle cx="722" cy="783" r="19.21" fill="url(#y6)"/>
<circle cx="668" cy="783" r="20.5" fill="url(#u6)"/>
<circle cx="1334" cy="783" r="22.36" fill="url(#y6)"/>
<circle cx="1073" cy="784" r="18.97" fill="url(#u6)"/>
<circle cx="175" cy="785" r="23.12" fill="url(#y6)"/>
<circle cx="1004" cy="787" r="22.23" fill="url(#u6)"/>
<circle cx="1308" cy="787" r="21.97" fill="url(#u6)"/>
<circle cx="1347" cy="787" r="20.01" fill="url(#y6)"/>
<circle cx="880" cy="788" r="19.35" fill="url(#y6)"/>
<circle cx="1232" cy="788" r="23.26" fill="url(#y6)"/>
<circle cx="1241" cy="788" r="21.77" fill="url(#y6)"/>
<circle cx="412" cy="789" r="23.18" fill="url(#y6)"/>
<circle cx="812" cy="789" r="21.53" fill="url(#y6)"/>
<circle cx="1048" cy="789" r="19.75" fill="url(#y6)"/>
<circle cx="1182" cy="789" r="21.98" fill="url(#y6)"/>
<circle cx="73" cy="790" r="19.98" fill="url(#y6)"/>
<circle cx="1467" cy="790" r="23.27" fill="url(#y6)"/>
<circle cx="234" cy="790" r="21.57" fill="url(#y6)"/>
<circle cx="219" cy="792" r="23.04" fill="url(#u6)"/>
<circle cx="753" cy="793" r="20.77" fill="url(#y6)"/>
<circle cx="1086" cy="793" r="19.23" fill="url(#y6)"/>
<circle cx="1178" cy="794" r="19.93" fill="url(#u6)"/>
<circle cx="863" cy="796" r="22.37" fill="url(#y6)"/>
<circle cx="473" cy="796" r="19.21" fill="url(#y6)"/>
<circle cx="315" cy="796" r="21.39" fill="url(#u6)"/>
<circle cx="1211" cy="797" r="20.43" fill="url(#y6)"/>
<circle cx="780" cy="798" r="19.61" fill="url(#y6)"/>
<circle cx="1439" cy="799" r="20.21" fill="url(#u6)"/>
<circle cx="949" cy="800" r="22.79" fill="url(#y6)"/>
<circle cx="956" cy="800" r="19.33" fill="url(#y6)"/>
<circle cx="888" cy="803" r="19.53" fill="url(#y6)"/>
<circle cx="1370" cy="803" r="19.2" fill="url(#y6)"/>
<circle cx="1099" cy="803" r="21.45" fill="url(#u6)"/>
<circle cx="531" cy="803" r="22.61" fill="url(#y6)"/>
<circle cx="1057" cy="803" r="22.01" fill="url(#u6)"/>
<circle cx="1176" cy="804" r="22.69" fill="url(#y6)"/>
<circle cx="1485" cy="804" r="19.45" fill="url(#y6)"/>
<circle cx="907" cy="805" r="21.43" fill="url(#y6)"/>
<circle cx="181" cy="806" r="19.82" fill="url(#u6)"/>
<circle cx="875" cy="806" r="20.33" fill="url(#u6)"/>
<circle cx="764" cy="808" r="23.54" fill="url(#y6)"/>
<circle cx="1072" cy="808" r="20.96" fill="url(#y6)"/>
<circle cx="1360" cy="808" r="19.53" fill="url(#y6)"/>
<circle cx="839" cy="809" r="23.18" fill="url(#y6)"/>
<circle cx="1055" cy="810" r="21.99" fill="url(#y6)"/>
<circle cx="1179" cy="810" r="21.41" fill="url(#y6)"/>
<circle cx="299" cy="812" r="19.5" fill="url(#y6)"/>
<circle cx="543" cy="813" r="22.24" fill="url(#y6)"/>
<circle cx="134" cy="815" r="20.92" fill="url(#u6)"/>
<circle cx="1155" cy="815" r="21.93" fill="url(#y6)"/>
<circle cx="1117" cy="816" r="21.99" fill="url(#u6)"/>
<circle cx="648" cy="817" r="22.37" fill="url(#y6)"/>
<circle cx="603" cy="817" r="21.7" fill="url(#u6)"/>
<circle cx="1020" cy="817" r="22.1" fill="url(#y6)"/>
<circle cx="1477" cy="819" r="20.06" fill="url(#y6)"/>
<circle cx="345" cy="819" r="19.49" fill="url(#y6)"/>
<circle cx="1515" cy="819" r="23" fill="url(#y6)"/>
<circle cx="1502" cy="820" r="21.32" fill="url(#y6)"/>
<circle cx="152" cy="820" r="21.54" fill="url(#u6)"/>
<circle cx="478" cy="826" r="23.89" fill="url(#y6)"/>
<circle cx="768" cy="826" r="20.08" fill="url(#y6)"/>
<circle cx="504" cy="829" r="23.04" fill="url(#u6)"/>
<circle cx="998" cy="832" r="23.8" fill="url(#u6)"/>
<circle cx="137" cy="833" r="19.93" fill="url(#y6)"/>
<circle cx="1109" cy="836" r="20.95" fill="url(#y6)"/>
<circle cx="90" cy="779" r="23.85" fill="url(#r6)"/>
<circle cx="140" cy="788" r="17.76" fill="url(#r6)"/>
<circle cx="318" cy="790" r="18.37" fill="url(#v6)"/>
<circle cx="166" cy="791" r="16.58" fill="url(#r6)"/>
<circle cx="71" cy="794" r="16.35" fill="url(#r6)"/>
<circle cx="92" cy="794" r="22.21" fill="url(#r6)"/>
<circle cx="99" cy="795" r="17.25" fill="url(#r6)"/>
<circle cx="461" cy="800" r="18.61" fill="url(#r6)"/>
<circle cx="280" cy="804" r="19.95" fill="url(#r6)"/>
<circle cx="133" cy="805" r="22.51" fill="url(#r6)"/>
<circle cx="490" cy="807" r="22.24" fill="url(#v6)"/>
<circle cx="836" cy="808" r="16.78" fill="url(#r6)"/>
<circle cx="403" cy="812" r="21.35" fill="url(#v6)"/>
<circle cx="586" cy="814" r="18.37" fill="url(#r6)"/>
<circle cx="58" cy="815" r="19.12" fill="url(#r6)"/>
<circle cx="770" cy="819" r="17.73" fill="url(#r6)"/>
<circle cx="671" cy="819" r="18.3" fill="url(#r6)"/>
<circle cx="1085" cy="824" r="21.75" fill="url(#v6)"/>
<circle cx="317" cy="828" r="19.55" fill="url(#v6)"/>
<circle cx="793" cy="828" r="23.02" fill="url(#v6)"/>
<circle cx="212" cy="829" r="23.8" fill="url(#r6)"/>
<circle cx="1047" cy="829" r="23.81" fill="url(#r6)"/>
<circle cx="56" cy="831" r="22.95" fill="url(#r6)"/>
<circle cx="1211" cy="831" r="18.38" fill="url(#v6)"/>
<circle cx="244" cy="831" r="23.53" fill="url(#v6)"/>
<circle cx="349" cy="831" r="19.43" fill="url(#v6)"/>
<circle cx="1294" cy="832" r="16.76" fill="url(#v6)"/>
<circle cx="1089" cy="832" r="17.05" fill="url(#r6)"/>
<circle cx="858" cy="833" r="18.48" fill="url(#r6)"/>
<circle cx="127" cy="835" r="17.2" fill="url(#r6)"/>
<circle cx="1412" cy="835" r="23.26" fill="url(#r6)"/>
<circle cx="1173" cy="835" r="17.08" fill="url(#v6)"/>
<circle cx="249" cy="835" r="23.66" fill="url(#r6)"/>
<circle cx="64" cy="837" r="23.26" fill="url(#v6)"/>
<circle cx="709" cy="837" r="20.3" fill="url(#r6)"/>
<circle cx="438" cy="838" r="19.9" fill="url(#r6)"/>
<circle cx="428" cy="840" r="20.74" fill="url(#v6)"/>
<circle cx="1445" cy="841" r="21.47" fill="url(#r6)"/>
<circle cx="776" cy="841" r="21.16" fill="url(#v6)"/>
<circle cx="1020" cy="841" r="21.44" fill="url(#v6)"/>
<circle cx="759" cy="841" r="19.66" fill="url(#v6)"/>
<circle cx="546" cy="841" r="23.58" fill="url(#r6)"/>
<circle cx="799" cy="842" r="20.71" fill="url(#r6)"/>
<circle cx="612" cy="843" r="16.43" fill="url(#v6)"/>
<circle cx="893" cy="844" r="19.6" fill="url(#r6)"/>
<circle cx="1245" cy="845" r="22.1" fill="url(#r6)"/>
<circle cx="774" cy="848" r="16.42" fill="url(#r6)"/>
<circle cx="1123" cy="848" r="21.38" fill="url(#r6)"/>
<circle cx="650" cy="848" r="21.78" fill="url(#r6)"/>
<circle cx="299" cy="848" r="18.81" fill="url(#r6)"/>
<circle cx="1062" cy="849" r="19.14" fill="url(#r6)"/>
<circle cx="966" cy="849" r="21.41" fill="url(#v6)"/>
<circle cx="1184" cy="850" r="21.34" fill="url(#v6)"/>
<circle cx="1451" cy="850" r="16.83" fill="url(#v6)"/>
<circle cx="1032" cy="851" r="19.74" fill="url(#v6)"/>
<circle cx="177" cy="851" r="20.63" fill="url(#r6)"/>
<circle cx="120" cy="852" r="23.71" fill="url(#r6)"/>
<circle cx="1461" cy="852" r="17.32" fill="url(#r6)"/>
<circle cx="1269" cy="852" r="21.94" fill="url(#r6)"/>
<circle cx="178" cy="852" r="20.58" fill="url(#r6)"/>
<circle cx="964" cy="853" r="19.17" fill="url(#r6)"/>
<circle cx="1068" cy="853" r="16.43" fill="url(#v6)"/>
<circle cx="1309" cy="853" r="20.68" fill="url(#v6)"/>
<circle cx="250" cy="854" r="20.4" fill="url(#r6)"/>
<circle cx="736" cy="855" r="19.84" fill="url(#r6)"/>
<circle cx="403" cy="855" r="18.24" fill="url(#r6)"/>
<circle cx="459" cy="856" r="17.98" fill="url(#v6)"/>
<circle cx="248" cy="857" r="19.63" fill="url(#r6)"/>
<circle cx="1084" cy="858" r="23.34" fill="url(#v6)"/>
<circle cx="242" cy="859" r="22.54" fill="url(#r6)"/>
<circle cx="957" cy="859" r="20.43" fill="url(#r6)"/>
<circle cx="410" cy="859" r="17.8" fill="url(#r6)"/>
<circle cx="822" cy="859" r="22.69" fill="url(#v6)"/>
<circle cx="69" cy="860" r="16.57" fill="url(#v6)"/>
<circle cx="1083" cy="860" r="22.7" fill="url(#r6)"/>
<circle cx="707" cy="861" r="20.19" fill="url(#r6)"/>
<circle cx="1052" cy="862" r="21.3" fill="url(#r6)"/>
<circle cx="1533" cy="862" r="22.38" fill="url(#r6)"/>
<circle cx="1097" cy="862" r="23.74" fill="url(#r6)"/>
<circle cx="115" cy="862" r="20.4" fill="url(#r6)"/>
<circle cx="1079" cy="863" r="21.26" fill="url(#r6)"/>
<circle cx="110" cy="863" r="19.37" fill="url(#r6)"/>
<circle cx="744" cy="863" r="23.13" fill="url(#r6)"/>
<circle cx="1393" cy="864" r="17.85" fill="url(#r6)"/>
<circle cx="1204" cy="864" r="23.47" fill="url(#r6)"/>
<circle cx="1312" cy="864" r="22.82" fill="url(#r6)"/>
<circle cx="1518" cy="864" r="17.39" fill="url(#r6)"/>
<circle cx="1147" cy="865" r="23.02" fill="url(#r6)"/>
<circle cx="1184" cy="865" r="22.79" fill="url(#v6)"/>
<circle cx="780" cy="866" r="22.59" fill="url(#v6)"/>
<circle cx="368" cy="866" r="22.45" fill="url(#r6)"/>
<circle cx="345" cy="866" r="16.43" fill="url(#r6)"/>
<circle cx="414" cy="867" r="21.49" fill="url(#v6)"/>
<circle cx="1067" cy="868" r="16.22" fill="url(#v6)"/>
<circle cx="820" cy="868" r="23.72" fill="url(#r6)"/>
<circle cx="186" cy="868" r="18.21" fill="url(#r6)"/>
<circle cx="541" cy="869" r="21.93" fill="url(#r6)"/>
<circle cx="882" cy="869" r="19.46" fill="url(#r6)"/>
<circle cx="858" cy="869" r="23.85" fill="url(#v6)"/>
<circle cx="804" cy="871" r="16.6" fill="url(#r6)"/>
<circle cx="364" cy="871" r="18.44" fill="url(#r6)"/>
<circle cx="1300" cy="871" r="23.42" fill="url(#v6)"/>
<circle cx="680" cy="871" r="16.05" fill="url(#r6)"/>
<circle cx="1096" cy="872" r="20.75" fill="url(#r6)"/>
<circle cx="722" cy="872" r="17.3" fill="url(#v6)"/>
<circle cx="355" cy="872" r="21.85" fill="url(#v6)"/>
<circle cx="1133" cy="872" r="18.3" fill="url(#r6)"/>
<circle cx="1262" cy="873" r="18.15" fill="url(#r6)"/>
<circle cx="673" cy="874" r="17.67" fill="url(#r6)"/>
<circle cx="588" cy="876" r="20.97" fill="url(#r6)"/>
<circle cx="1368" cy="877" r="20.11" fill="url(#r6)"/>
<circle cx="1133" cy="877" r="19.51" fill="url(#v6)"/>
<circle cx="1536" cy="877" r="16.25" fill="url(#v6)"/>
<circle cx="205" cy="878" r="16.78" fill="url(#r6)"/>
<circle cx="1006" cy="878" r="16.98" fill="url(#v6)"/>
<circle cx="525" cy="878" r="20.64" fill="url(#r6)"/>
<circle cx="1321" cy="879" r="22.71" fill="url(#v6)"/>
<circle cx="415" cy="879" r="22.88" fill="url(#r6)"/>
<circle cx="923" cy="879" r="19.58" fill="url(#r6)"/>
<circle cx="90" cy="880" r="17.56" fill="url(#v6)"/>
<circle cx="624" cy="880" r="22.99" fill="url(#r6)"/>
<circle cx="1292" cy="881" r="19.48" fill="url(#v6)"/>
<circle cx="1100" cy="881" r="21.36" fill="url(#v6)"/>
<circle cx="211" cy="881" r="19.29" fill="url(#r6)"/>
<circle cx="810" cy="881" r="17.19" fill="url(#v6)"/>
<circle cx="195" cy="882" r="20.01" fill="url(#v6)"/>
<circle cx="1034" cy="882" r="23.47" fill="url(#r6)"/>
<circle cx="69" cy="883" r="23.02" fill="url(#r6)"/>
<circle cx="779" cy="883" r="20.85" fill="url(#v6)"/>
<circle cx="1031" cy="883" r="16.7" fill="url(#v6)"/>
<circle cx="1522" cy="884" r="22.86" fill="url(#r6)"/>
<circle cx="1476" cy="885" r="18.02" fill="url(#v6)"/>
<circle cx="1259" cy="885" r="22.51" fill="url(#r6)"/>
<circle cx="742" cy="886" r="17.91" fill="url(#r6)"/>
<circle cx="101" cy="886" r="17.48" fill="url(#r6)"/>
<circle cx="857" cy="888" r="17.17" fill="url(#r6)"/>
<circle cx="929" cy="888" r="18.42" fill="url(#r6)"/>
<circle cx="489" cy="889" r="23.82" fill="url(#r6)"/>
<circle cx="1094" cy="889" r="20.68" fill="url(#r6)"/>
<circle cx="1252" cy="890" r="16.84" fill="url(#r6)"/>
<circle cx="547" cy="891" r="18.71" fill="url(#r6)"/>
<circle cx="1430" cy="892" r="19.37" fill="url(#v6)"/>
<circle cx="1218" cy="893" r="16.15" fill="url(#v6)"/>
<circle cx="1460" cy="893" r="22.79" fill="url(#r6)"/>
<circle cx="959" cy="893" r="17.52" fill="url(#r6)"/>
<circle cx="832" cy="894" r="21.37" fill="url(#r6)"/>
<circle cx="1082" cy="895" r="17.67" fill="url(#r6)"/>
<circle cx="890" cy="896" r="19.36" fill="url(#v6)"/>
<circle cx="1016" cy="896" r="17.13" fill="url(#r6)"/>
<circle cx="45" cy="898" r="22.4" fill="url(#v6)"/>
<circle cx="226" cy="898" r="18.09" fill="url(#r6)"/>
<circle cx="801" cy="899" r="18.82" fill="url(#v6)"/>
<circle cx="1449" cy="899" r="18.86" fill="url(#v6)"/>
<circle cx="282" cy="899" r="21.1" fill="url(#v6)"/>
<circle cx="338" cy="900" r="18.35" fill="url(#v6)"/>
<circle cx="1035" cy="900" r="23.88" fill="url(#r6)"/>
<circle cx="282" cy="900" r="16.89" fill="url(#r6)"/>
<circle cx="455" cy="901" r="16.46" fill="url(#v6)"/>
<circle cx="1148" cy="901" r="19.57" fill="url(#r6)"/>
<circle cx="1413" cy="903" r="18.83" fill="url(#r6)"/>
<circle cx="550" cy="903" r="20.96" fill="url(#r6)"/>
<circle cx="1493" cy="904" r="22.2" fill="url(#r6)"/>
<circle cx="309" cy="904" r="18" fill="url(#v6)"/>
<circle cx="1105" cy="906" r="22.47" fill="url(#r6)"/>
<circle cx="1358" cy="906" r="20.96" fill="url(#v6)"/>
<circle cx="515" cy="906" r="21.7" fill="url(#v6)"/>
<circle cx="766" cy="907" r="23.01" fill="url(#v6)"/>
<circle cx="1496" cy="907" r="21.03" fill="url(#r6)"/>
<circle cx="809" cy="907" r="16.49" fill="url(#v6)"/>
<circle cx="899" cy="907" r="21.26" fill="url(#v6)"/>
<circle cx="780" cy="909" r="22.71" fill="url(#r6)"/>
<circle cx="1011" cy="910" r="23.19" fill="url(#r6)"/>
<circle cx="468" cy="910" r="21.22" fill="url(#v6)"/>
<circle cx="1342" cy="912" r="21.72" fill="url(#r6)"/>
<circle cx="751" cy="912" r="17.03" fill="url(#r6)"/>
<circle cx="1503" cy="912" r="19.26" fill="url(#r6)"/>
<circle cx="809" cy="912" r="22.42" fill="url(#r6)"/>
<circle cx="1390" cy="912" r="19.67" fill="url(#r6)"/>
<circle cx="903" cy="912" r="17.74" fill="url(#r6)"/>
<circle cx="1153" cy="914" r="17.56" fill="url(#r6)"/>
<circle cx="402" cy="914" r="23.34" fill="url(#r6)"/>
<circle cx="201" cy="915" r="19.78" fill="url(#v6)"/>
<circle cx="148" cy="915" r="16.48" fill="url(#r6)"/>
<circle cx="267" cy="916" r="16.24" fill="url(#v6)"/>
<circle cx="648" cy="916" r="16.72" fill="url(#v6)"/>
<circle cx="673" cy="918" r="21.93" fill="url(#r6)"/>
<circle cx="154" cy="919" r="21.49" fill="url(#v6)"/>
<circle cx="135" cy="919" r="22.67" fill="url(#v6)"/>
<circle cx="1436" cy="920" r="16.29" fill="url(#v6)"/>
<circle cx="574" cy="920" r="18.34" fill="url(#v6)"/>
<circle cx="193" cy="921" r="22.7" fill="url(#r6)"/>
<circle cx="41" cy="921" r="22.44" fill="url(#r6)"/>
<circle cx="1020" cy="922" r="19.23" fill="url(#r6)"/>
<circle cx="904" cy="923" r="22.52" fill="url(#r6)"/>
<circle cx="1212" cy="923" r="18.51" fill="url(#r6)"/>
<circle cx="782" cy="923" r="20.12" fill="url(#v6)"/>
<circle cx="586" cy="924" r="21.95" fill="url(#v6)"/>
<circle cx="943" cy="925" r="21.75" fill="url(#r6)"/>
<circle cx="343" cy="926" r="20.95" fill="url(#v6)"/>
<circle cx="1494" cy="926" r="18.21" fill="url(#r6)"/>
<circle cx="66" cy="926" r="23.73" fill="url(#r6)"/>
<circle cx="375" cy="927" r="20.36" fill="url(#r6)"/>
<circle cx="811" cy="927" r="16.63" fill="url(#r6)"/>
<circle cx="1075" cy="929" r="18.17" fill="url(#v6)"/>
<circle cx="1253" cy="929" r="23.29" fill="url(#r6)"/>
<circle cx="1166" cy="929" r="19.3" fill="url(#r6)"/>
<circle cx="1061" cy="929" r="22.5" fill="url(#r6)"/>
<circle cx="490" cy="930" r="21.85" fill="url(#r6)"/>
<circle cx="357" cy="930" r="17.91" fill="url(#r6)"/>
<circle cx="1282" cy="930" r="22.23" fill="url(#r6)"/>
<circle cx="472" cy="931" r="22.41" fill="url(#r6)"/>
<circle cx="526" cy="931" r="23.08" fill="url(#r6)"/>
<circle cx="1346" cy="931" r="17.34" fill="url(#r6)"/>
<circle cx="1508" cy="932" r="22.63" fill="url(#v6)"/>
<circle cx="589" cy="932" r="19.64" fill="url(#v6)"/>
<circle cx="398" cy="933" r="20.46" fill="url(#r6)"/>
<circle cx="1335" cy="933" r="16.03" fill="url(#r6)"/>
<circle cx="834" cy="936" r="22.93" fill="url(#v6)"/>
<circle cx="1330" cy="936" r="19.72" fill="url(#r6)"/>
<circle cx="86" cy="937" r="19.86" fill="url(#v6)"/>
<circle cx="82" cy="937" r="21.01" fill="url(#r6)"/>
<circle cx="330" cy="937" r="17.52" fill="url(#v6)"/>
<circle cx="947" cy="938" r="20.3" fill="url(#r6)"/>
<circle cx="188" cy="938" r="23.86" fill="url(#r6)"/>
<circle cx="798" cy="939" r="18.38" fill="url(#r6)"/>
<circle cx="592" cy="939" r="20.64" fill="url(#v6)"/>
<circle cx="731" cy="939" r="17.84" fill="url(#r6)"/>
<circle cx="1398" cy="939" r="19.3" fill="url(#r6)"/>
<circle cx="274" cy="940" r="17.51" fill="url(#v6)"/>
<circle cx="1492" cy="940" r="16.73" fill="url(#r6)"/>
<circle cx="1303" cy="940" r="20.15" fill="url(#v6)"/>
<circle cx="404" cy="941" r="23.56" fill="url(#r6)"/>
<circle cx="1519" cy="941" r="20.89" fill="url(#r6)"/>
<circle cx="689" cy="943" r="21.72" fill="url(#v6)"/>
<circle cx="1260" cy="944" r="19.94" fill="url(#r6)"/>
<circle cx="1276" cy="945" r="21.71" fill="url(#r6)"/>
<circle cx="472" cy="945" r="17.37" fill="url(#r6)"/>
<circle cx="192" cy="946" r="23.75" fill="url(#r6)"/>
<circle cx="71" cy="946" r="19.6" fill="url(#r6)"/>
<circle cx="1347" cy="946" r="23.93" fill="url(#r6)"/>
<circle cx="1005" cy="947" r="23.99" fill="url(#v6)"/>
<circle cx="1176" cy="947" r="18.2" fill="url(#r6)"/>
<circle cx="1435" cy="948" r="16.45" fill="url(#r6)"/>
<circle cx="910" cy="948" r="22.12" fill="url(#r6)"/>
<circle cx="378" cy="948" r="21.74" fill="url(#r6)"/>
<circle cx="755" cy="948" r="21.84" fill="url(#r6)"/>
<circle cx="394" cy="948" r="19.57" fill="url(#v6)"/>
<circle cx="1417" cy="948" r="23.22" fill="url(#r6)"/>
<circle cx="146" cy="950" r="18.37" fill="url(#r6)"/>
<circle cx="307" cy="950" r="16.46" fill="url(#v6)"/>
<circle cx="1128" cy="952" r="21.3" fill="url(#v6)"/>
<circle cx="58" cy="952" r="20.35" fill="url(#r6)"/>
<circle cx="593" cy="952" r="18.83" fill="url(#v6)"/>
<circle cx="329" cy="952" r="23.11" fill="url(#v6)"/>
<circle cx="104" cy="952" r="17.25" fill="url(#r6)"/>
<circle cx="720" cy="952" r="23.71" fill="url(#v6)"/>
<circle cx="1321" cy="953" r="17.52" fill="url(#r6)"/>
<circle cx="809" cy="953" r="20.96" fill="url(#r6)"/>
<circle cx="1466" cy="953" r="17.42" fill="url(#r6)"/>
<circle cx="65" cy="953" r="21.5" fill="url(#r6)"/>
<circle cx="1107" cy="954" r="23.62" fill="url(#r6)"/>
<circle cx="1490" cy="954" r="22.97" fill="url(#r6)"/>
<circle cx="1311" cy="955" r="18.21" fill="url(#r6)"/>
<circle cx="656" cy="956" r="20.85" fill="url(#r6)"/>
<circle cx="526" cy="956" r="23.89" fill="url(#r6)"/>
<circle cx="50" cy="957" r="21.35" fill="url(#r6)"/>
<circle cx="117" cy="957" r="18.55" fill="url(#r6)"/>
<circle cx="1418" cy="957" r="21.08" fill="url(#v6)"/>
<circle cx="1448" cy="957" r="23.9" fill="url(#r6)"/>
<circle cx="1091" cy="958" r="16.92" fill="url(#r6)"/>
<circle cx="514" cy="958" r="16.7" fill="url(#v6)"/>
<circle cx="302" cy="958" r="17.1" fill="url(#r6)"/>
<circle cx="341" cy="959" r="19.15" fill="url(#r6)"/>
<circle cx="1063" cy="961" r="18.48" fill="url(#r6)"/>
<circle cx="1318" cy="961" r="16.67" fill="url(#v6)"/>
<circle cx="1161" cy="961" r="18.53" fill="url(#r6)"/>
<circle cx="252" cy="962" r="19.19" fill="url(#v6)"/>
<circle cx="695" cy="962" r="17.72" fill="url(#v6)"/>
<circle cx="821" cy="963" r="22.93" fill="url(#r6)"/>
<circle cx="779" cy="964" r="19.18" fill="url(#v6)"/>
<circle cx="280" cy="965" r="17.81" fill="url(#r6)"/>
<circle cx="418" cy="965" r="22.58" fill="url(#r6)"/>
<circle cx="557" cy="965" r="18.2" fill="url(#r6)"/>
<circle cx="1214" cy="965" r="16.65" fill="url(#v6)"/>
<circle cx="1009" cy="965" r="16.67" fill="url(#v6)"/>
<circle cx="1509" cy="966" r="16.02" fill="url(#r6)"/>
<circle cx="1253" cy="966" r="16.55" fill="url(#v6)"/>
<circle cx="892" cy="966" r="19.53" fill="url(#r6)"/>
<circle cx="813" cy="967" r="20.98" fill="url(#r6)"/>
<circle cx="111" cy="967" r="23.08" fill="url(#r6)"/>
<circle cx="697" cy="967" r="17.12" fill="url(#r6)"/>
<circle cx="796" cy="968" r="23.07" fill="url(#r6)"/>
<circle cx="1175" cy="969" r="16.89" fill="url(#r6)"/>
<circle cx="443" cy="969" r="18.65" fill="url(#r6)"/>
<circle cx="412" cy="971" r="22.96" fill="url(#r6)"/>
<circle cx="915" cy="972" r="20.62" fill="url(#v6)"/>
<circle cx="629" cy="972" r="18.82" fill="url(#v6)"/>
<circle cx="634" cy="972" r="16.01" fill="url(#r6)"/>
<circle cx="127" cy="972" r="18.66" fill="url(#r6)"/>
<circle cx="686" cy="972" r="18.93" fill="url(#r6)"/>
<circle cx="654" cy="973" r="21.93" fill="url(#r6)"/>
<circle cx="674" cy="973" r="21.01" fill="url(#r6)"/>
<circle cx="1384" cy="974" r="16.85" fill="url(#r6)"/>
<circle cx="574" cy="976" r="23.53" fill="url(#r6)"/>
<circle cx="77" cy="977" r="17.15" fill="url(#v6)"/>
<circle cx="1122" cy="978" r="21.24" fill="url(#v6)"/>
<circle cx="1108" cy="978" r="19.98" fill="url(#r6)"/>
<circle cx="532" cy="978" r="23.3" fill="url(#r6)"/>
<circle cx="728" cy="978" r="18.23" fill="url(#r6)"/>
<circle cx="700" cy="979" r="21.78" fill="url(#v6)"/>
<circle cx="1045" cy="980" r="22.72" fill="url(#v6)"/>
<circle cx="642" cy="980" r="19.15" fill="url(#r6)"/>
<circle cx="572" cy="980" r="23.13" fill="url(#v6)"/>
<circle cx="567" cy="981" r="17.28" fill="url(#v6)"/>
<circle cx="638" cy="982" r="21.76" fill="url(#v6)"/>
<circle cx="40" cy="982" r="16.47" fill="url(#r6)"/>
<circle cx="473" cy="983" r="22.37" fill="url(#r6)"/>
<circle cx="1070" cy="983" r="23.47" fill="url(#v6)"/>
<circle cx="423" cy="983" r="18.27" fill="url(#r6)"/>
<circle cx="845" cy="983" r="17.78" fill="url(#v6)"/>
<circle cx="521" cy="985" r="16.68" fill="url(#r6)"/>
<circle cx="677" cy="985" r="19.95" fill="url(#r6)"/>
<circle cx="176" cy="985" r="22.13" fill="url(#r6)"/>
<circle cx="259" cy="985" r="19.01" fill="url(#v6)"/>
<circle cx="1428" cy="985" r="20.25" fill="url(#r6)"/>
<circle cx="369" cy="986" r="18.74" fill="url(#r6)"/>
<circle cx="1218" cy="986" r="23.66" fill="url(#r6)"/>
<circle cx="909" cy="986" r="17.85" fill="url(#v6)"/>
<circle cx="897" cy="987" r="21.22" fill="url(#r6)"/>
<circle cx="357" cy="987" r="21.21" fill="url(#v6)"/>
<circle cx="329" cy="988" r="23.64" fill="url(#r6)"/>
<circle cx="90" cy="988" r="20.22" fill="url(#r6)"/>
<circle cx="523" cy="988" r="19.57" fill="url(#v6)"/>
<circle cx="700" cy="990" r="18.84" fill="url(#v6)"/>
<circle cx="151" cy="992" r="20.46" fill="url(#r6)"/>
<circle cx="406" cy="992" r="20.28" fill="url(#r6)"/>
<circle cx="1207" cy="992" r="16.28" fill="url(#v6)"/>
<circle cx="1536" cy="993" r="17.09" fill="url(#r6)"/>
<circle cx="335" cy="993" r="16.56" fill="url(#r6)"/>
<circle cx="1194" cy="994" r="17.49" fill="url(#v6)"/>
<circle cx="902" cy="994" r="22.87" fill="url(#v6)"/>
<circle cx="716" cy="995" r="23.44" fill="url(#v6)"/>
<circle cx="1422" cy="995" r="20.22" fill="url(#v6)"/>
<circle cx="521" cy="995" r="23.98" fill="url(#r6)"/>
<circle cx="1318" cy="995" r="16.01" fill="url(#r6)"/>
<circle cx="1162" cy="995" r="18.67" fill="url(#r6)"/>
<circle cx="1085" cy="996" r="18.31" fill="url(#v6)"/>
<circle cx="245" cy="996" r="18.11" fill="url(#r6)"/>
<circle cx="41" cy="996" r="21.92" fill="url(#r6)"/>
<circle cx="1506" cy="996" r="18.84" fill="url(#v6)"/>
<circle cx="353" cy="997" r="18.35" fill="url(#r6)"/>
<circle cx="647" cy="997" r="18.07" fill="url(#r6)"/>
<circle cx="1467" cy="998" r="17.84" fill="url(#r6)"/>
<circle cx="1033" cy="998" r="20.32" fill="url(#r6)"/>
<circle cx="1320" cy="999" r="16.42" fill="url(#v6)"/>
<circle cx="752" cy="1000" r="22.99" fill="url(#v6)"/>
<circle cx="1125" cy="1000" r="18.89" fill="url(#r6)"/>
<circle cx="939" cy="1000" r="23.35" fill="url(#r6)"/>
<circle cx="791" cy="1000" r="19.24" fill="url(#v6)"/>
<circle cx="1406" cy="1001" r="20.6" fill="url(#r6)"/>
<circle cx="227" cy="1001" r="22.76" fill="url(#r6)"/>
<circle cx="488" cy="1001" r="22.8" fill="url(#r6)"/>
<circle cx="858" cy="1003" r="19.11" fill="url(#r6)"/>
<circle cx="450" cy="1003" r="23" fill="url(#r6)"/>
<circle cx="1156" cy="1004" r="21.58" fill="url(#r6)"/>
<circle cx="1273" cy="1005" r="17.63" fill="url(#r6)"/>
<circle cx="777" cy="1005" r="20.22" fill="url(#r6)"/>
<circle cx="1287" cy="1006" r="21.23" fill="url(#r6)"/>
<circle cx="1434" cy="1006" r="23.36" fill="url(#r6)"/>
<circle cx="480" cy="1006" r="19.77" fill="url(#v6)"/>
<circle cx="58" cy="1006" r="18.36" fill="url(#v6)"/>
<circle cx="479" cy="1006" r="17.58" fill="url(#r6)"/>
<circle cx="747" cy="1007" r="18.36" fill="url(#v6)"/>
<circle cx="1305" cy="1008" r="20.53" fill="url(#r6)"/>
<circle cx="231" cy="1008" r="18.73" fill="url(#r6)"/>
<circle cx="658" cy="1009" r="21.31" fill="url(#r6)"/>
<circle cx="777" cy="1009" r="18.78" fill="url(#v6)"/>
<circle cx="618" cy="1011" r="23.5" fill="url(#r6)"/>
<circle cx="335" cy="1011" r="18.15" fill="url(#v6)"/>
<circle cx="1438" cy="1013" r="18.85" fill="url(#v6)"/>
<circle cx="945" cy="1013" r="23.34" fill="url(#v6)"/>
<circle cx="272" cy="1014" r="23.15" fill="url(#v6)"/>
<circle cx="1225" cy="1015" r="21.62" fill="url(#r6)"/>
<circle cx="1093" cy="1015" r="22.89" fill="url(#v6)"/>
<circle cx="1444" cy="1016" r="23.73" fill="url(#v6)"/>
<circle cx="1440" cy="1016" r="19.46" fill="url(#r6)"/>
<circle cx="210" cy="1017" r="19.93" fill="url(#r6)"/>
<circle cx="471" cy="1018" r="19.39" fill="url(#r6)"/>
<circle cx="1537" cy="1018" r="18.86" fill="url(#v6)"/>
<circle cx="933" cy="1018" r="19.11" fill="url(#r6)"/>
<circle cx="1364" cy="1019" r="21.99" fill="url(#r6)"/>
<circle cx="1180" cy="1019" r="22.98" fill="url(#r6)"/>
<circle cx="797" cy="1019" r="23.25" fill="url(#r6)"/>
<circle cx="570" cy="1019" r="18.09" fill="url(#r6)"/>
<circle cx="470" cy="1020" r="21.93" fill="url(#r6)"/>
<circle cx="324" cy="1021" r="21.19" fill="url(#r6)"/>
<circle cx="601" cy="1021" r="17.1" fill="url(#r6)"/>
<circle cx="230" cy="1022" r="19.5" fill="url(#r6)"/>
<circle cx="519" cy="1022" r="23.37" fill="url(#r6)"/>
<circle cx="1433" cy="1022" r="16.04" fill="url(#r6)"/>
<circle cx="401" cy="1022" r="23.18" fill="url(#r6)"/>
<circle cx="853" cy="1022" r="20.04" fill="url(#v6)"/>
<circle cx="1031" cy="1023" r="16.66" fill="url(#r6)"/>
<circle cx="1310" cy="1024" r="18.6" fill="url(#v6)"/>
<circle cx="597" cy="1025" r="17.93" fill="url(#v6)"/>
<circle cx="1003" cy="1026" r="23.63" fill="url(#v6)"/>
<circle cx="1310" cy="1027" r="18.99" fill="url(#r6)"/>
<circle cx="143" cy="1027" r="18.75" fill="url(#r6)"/>
<circle cx="228" cy="1028" r="23.74" fill="url(#r6)"/>
<circle cx="736" cy="1028" r="22.75" fill="url(#v6)"/>
<circle cx="239" cy="1028" r="21.78" fill="url(#r6)"/>
<circle cx="784" cy="1029" r="18.25" fill="url(#r6)"/>
<circle cx="379" cy="1029" r="23.84" fill="url(#v6)"/>
<circle cx="282" cy="1030" r="17.91" fill="url(#r6)"/>
<circle cx="718" cy="1030" r="22.62" fill="url(#v6)"/>
<circle cx="95" cy="1031" r="22.84" fill="url(#v6)"/>
<circle cx="1428" cy="1032" r="20.8" fill="url(#v6)"/>
<circle cx="1148" cy="1032" r="18.29" fill="url(#r6)"/>
<circle cx="1163" cy="1032" r="18.84" fill="url(#r6)"/>
<circle cx="47" cy="1033" r="17.01" fill="url(#r6)"/>
<circle cx="305" cy="1034" r="17.5" fill="url(#r6)"/>
<circle cx="176" cy="1034" r="20.62" fill="url(#r6)"/>
<circle cx="248" cy="1034" r="20.52" fill="url(#v6)"/>
<circle cx="480" cy="1034" r="20.95" fill="url(#v6)"/>
<circle cx="667" cy="1034" r="21.32" fill="url(#r6)"/>
<circle cx="1455" cy="1034" r="21.09" fill="url(#r6)"/>
<circle cx="1240" cy="1034" r="20" fill="url(#r6)"/>
<circle cx="580" cy="1035" r="16.43" fill="url(#r6)"/>
<circle cx="882" cy="1035" r="18.94" fill="url(#r6)"/>
<circle cx="415" cy="1036" r="18.47" fill="url(#r6)"/>
<circle cx="1102" cy="1037" r="20.53" fill="url(#r6)"/>
<circle cx="324" cy="1037" r="22.48" fill="url(#r6)"/>
<circle cx="1534" cy="1037" r="17.53" fill="url(#r6)"/>
<circle cx="454" cy="1038" r="21.12" fill="url(#r6)"/>
<circle cx="455" cy="1038" r="20.47" fill="url(#r6)"/>
<circle cx="881" cy="1039" r="23.03" fill="url(#r6)"/>
<circle cx="113" cy="1039" r="17.62" fill="url(#v6)"/>
<circle cx="1075" cy="1039" r="22.21" fill="url(#r6)"/>
<circle cx="1190" cy="1041" r="16.39" fill="url(#v6)"/>
<circle cx="1214" cy="1041" r="23.51" fill="url(#r6)"/>
<circle cx="437" cy="1041" r="17.48" fill="url(#r6)"/>
<circle cx="137" cy="1042" r="16.86" fill="url(#r6)"/>
<circle cx="1305" cy="1042" r="23.5" fill="url(#r6)"/>
<circle cx="1070" cy="1044" r="20.92" fill="url(#r6)"/>
<circle cx="738" cy="1044" r="20.48" fill="url(#v6)"/>
<circle cx="1493" cy="1044" r="17.57" fill="url(#r6)"/>
<circle cx="71" cy="1046" r="23.39" fill="url(#r6)"/>
<circle cx="1524" cy="1046" r="16.52" fill="url(#r6)"/>
<circle cx="333" cy="1046" r="21.84" fill="url(#r6)"/>
<circle cx="1072" cy="1047" r="17.8" fill="url(#v6)"/>
<circle cx="1467" cy="1047" r="19.24" fill="url(#r6)"/>
<circle cx="520" cy="1048" r="17.66" fill="url(#r6)"/>
<circle cx="1185" cy="1048" r="17.74" fill="url(#v6)"/>
<circle cx="527" cy="1049" r="23.23" fill="url(#r6)"/>
<circle cx="773" cy="1049" r="21.25" fill="url(#v6)"/>
<circle cx="1066" cy="1049" r="16.08" fill="url(#v6)"/>
<circle cx="727" cy="1049" r="18.39" fill="url(#v6)"/>
<circle cx="1045" cy="1049" r="21.96" fill="url(#r6)"/>
<circle cx="1109" cy="1050" r="20.28" fill="url(#r6)"/>
<circle cx="494" cy="1050" r="21.35" fill="url(#v6)"/>
<circle cx="1211" cy="1050" r="18.71" fill="url(#v6)"/>
<circle cx="1131" cy="1051" r="22.18" fill="url(#r6)"/>
<circle cx="323" cy="1051" r="20.09" fill="url(#r6)"/>
<circle cx="1187" cy="1051" r="23.81" fill="url(#r6)"/>
<circle cx="367" cy="1052" r="17.69" fill="url(#r6)"/>
<circle cx="211" cy="1052" r="18.95" fill="url(#r6)"/>
<circle cx="1484" cy="1053" r="17.47" fill="url(#r6)"/>
<circle cx="263" cy="1053" r="20.62" fill="url(#v6)"/>
<circle cx="1511" cy="1053" r="23.4" fill="url(#r6)"/>
<circle cx="702" cy="1054" r="20.6" fill="url(#v6)"/>
<circle cx="1149" cy="1054" r="23.04" fill="url(#v6)"/>
<circle cx="1306" cy="1055" r="18.27" fill="url(#r6)"/>
<circle cx="1016" cy="1056" r="17.64" fill="url(#r6)"/>
<circle cx="803" cy="1057" r="19.8" fill="url(#r6)"/>
<circle cx="252" cy="1057" r="20.78" fill="url(#r6)"/>
<circle cx="707" cy="1057" r="21" fill="url(#v6)"/>
<circle cx="662" cy="1058" r="22.26" fill="url(#r6)"/>
<circle cx="485" cy="1058" r="20.79" fill="url(#v6)"/>
<circle cx="710" cy="1058" r="22.83" fill="url(#r6)"/>
<circle cx="429" cy="1058" r="18.34" fill="url(#r6)"/>
<circle cx="471" cy="1060" r="23.08" fill="url(#v6)"/>
<circle cx="917" cy="1060" r="16.75" fill="url(#r6)"/>
<circle cx="1404" cy="1060" r="18.35" fill="url(#r6)"/>
<circle cx="1502" cy="1060" r="17.03" fill="url(#r6)"/>
<circle cx="271" cy="1060" r="18.29" fill="url(#r6)"/>
<circle cx="353" cy="1061" r="20.6" fill="url(#r6)"/>
<circle cx="221" cy="1061" r="19.46" fill="url(#r6)"/>
<circle cx="1112" cy="1061" r="17.4" fill="url(#r6)"/>
<circle cx="489" cy="1061" r="20.19" fill="url(#v6)"/>
<circle cx="1130" cy="1062" r="18.32" fill="url(#r6)"/>
<circle cx="1029" cy="1062" r="20.9" fill="url(#r6)"/>
<circle cx="1175" cy="1063" r="21.39" fill="url(#r6)"/>
<circle cx="46" cy="1064" r="19.54" fill="url(#r6)"/>
<circle cx="641" cy="1065" r="17.89" fill="url(#r6)"/>
<circle cx="922" cy="1065" r="19.12" fill="url(#r6)"/>
<circle cx="921" cy="1065" r="22.36" fill="url(#r6)"/>
<circle cx="1005" cy="1065" r="23.99" fill="url(#r6)"/>
<circle cx="641" cy="1065" r="18.94" fill="url(#r6)"/>
<circle cx="1081" cy="1065" r="16.76" fill="url(#r6)"/>
<circle cx="1142" cy="1065" r="23.52" fill="url(#r6)"/>
<circle cx="1007" cy="1066" r="20.72" fill="url(#r6)"/>
<circle cx="1066" cy="1066" r="20.32" fill="url(#r6)"/>
<circle cx="470" cy="1068" r="16.24" fill="url(#r6)"/>
<circle cx="1205" cy="1068" r="17.9" fill="url(#r6)"/>
<circle cx="62" cy="1069" r="21.03" fill="url(#r6)"/>
<circle cx="276" cy="1069" r="18.01" fill="url(#v6)"/>
<circle cx="473" cy="1070" r="16.97" fill="url(#r6)"/>
<circle cx="1318" cy="1070" r="16.5" fill="url(#v6)"/>
<circle cx="443" cy="1070" r="21.97" fill="url(#r6)"/>
<circle cx="1080" cy="1071" r="23.44" fill="url(#v6)"/>
<circle cx="1190" cy="1072" r="22.82" fill="url(#r6)"/>
<circle cx="875" cy="1072" r="23.95" fill="url(#r6)"/>
<circle cx="725" cy="1072" r="18.01" fill="url(#r6)"/>
<circle cx="1111" cy="1073" r="20.96" fill="url(#v6)"/>
<circle cx="1336" cy="1074" r="23.06" fill="url(#r6)"/>
<circle cx="200" cy="1074" r="18.72" fill="url(#r6)"/>
<circle cx="903" cy="1074" r="18.6" fill="url(#r6)"/>
<circle cx="545" cy="167" r="24" fill="url(#w6)"/>
<circle cx="463" cy="243" r="22" fill="url(#w6)"/>
<circle cx="1103" cy="98" r="28" fill="url(#w6)"/>
<circle cx="1150" cy="120" r="30" fill="url(#w6)"/>
<circle cx="1298" cy="215" r="24" fill="url(#w6)"/>
<circle cx="1312" cy="247" r="26" fill="url(#w6)"/>
<path d="M598 188 C720 260 880 250 985 170 L978 160 C880 230 730 240 598 188Z" fill="url(#ar6)"/>
<polygon points="1062,138 955,170 975,190 965,215" fill="#ff9800"/>
<rect x="205" y="580" width="508" height="465" rx="80" fill="#2a5a08" opacity="0.55"/>
<rect x="212" y="585" width="494" height="452" rx="75" fill="url(#gb6)"/>
<path d="M222 712 Q460 690 696 712 V905 Q460 925 222 905Z" fill="#fff6cc"/>
<rect x="702" y="546" width="506" height="468" rx="80" fill="#7a4a00" opacity="0.55"/>
<rect x="708" y="550" width="494" height="456" rx="75" fill="url(#ob6)"/>
<path d="M718 672 Q955 648 1192 672 V880 Q955 902 718 880Z" fill="#fff6cc"/>
<circle cx="1310" cy="745" r="107" fill="url(#n6)"/>
<circle cx="350" cy="672" r="30" fill="url(#e6)" stroke="#6a6a00" stroke-width="2"/>
<text x="350" y="684" font-size="34" fill="#1a1a1a" text-anchor="middle" font-weight="bold">e<tspan dy="-0.55em" font-size="60%">-</tspan><tspan dy="0.55em" font-size="60%">&#8203;</tspan></text>
<circle cx="488" cy="672" r="30" fill="url(#e6)" stroke="#6a6a00" stroke-width="2"/>
<text x="488" y="684" font-size="34" fill="#1a1a1a" text-anchor="middle" font-weight="bold">e<tspan dy="-0.55em" font-size="60%">-</tspan><tspan dy="0.55em" font-size="60%">&#8203;</tspan></text>
<circle cx="620" cy="672" r="30" fill="url(#e6)" stroke="#6a6a00" stroke-width="2"/>
<text x="620" y="684" font-size="34" fill="#1a1a1a" text-anchor="middle" font-weight="bold">e<tspan dy="-0.55em" font-size="60%">-</tspan><tspan dy="0.55em" font-size="60%">&#8203;</tspan></text>
<circle cx="315" cy="948" r="30" fill="url(#e6)" stroke="#6a6a00" stroke-width="2"/>
<text x="315" y="960" font-size="34" fill="#1a1a1a" text-anchor="middle" font-weight="bold">h<tspan dy="-0.55em" font-size="60%">+</tspan><tspan dy="0.55em" font-size="60%">&#8203;</tspan></text>
<circle cx="403" cy="948" r="30" fill="url(#e6)" stroke="#6a6a00" stroke-width="2"/>
<text x="403" y="960" font-size="34" fill="#1a1a1a" text-anchor="middle" font-weight="bold">h<tspan dy="-0.55em" font-size="60%">+</tspan><tspan dy="0.55em" font-size="60%">&#8203;</tspan></text>
<circle cx="500" cy="948" r="30" fill="url(#e6)" stroke="#6a6a00" stroke-width="2"/>
<text x="500" y="960" font-size="34" fill="#1a1a1a" text-anchor="middle" font-weight="bold">h<tspan dy="-0.55em" font-size="60%">+</tspan><tspan dy="0.55em" font-size="60%">&#8203;</tspan></text>
<circle cx="598" cy="948" r="30" fill="url(#e6)" stroke="#6a6a00" stroke-width="2"/>
<text x="598" y="960" font-size="34" fill="#1a1a1a" text-anchor="middle" font-weight="bold">h<tspan dy="-0.55em" font-size="60%">+</tspan><tspan dy="0.55em" font-size="60%">&#8203;</tspan></text>
<circle cx="822" cy="652" r="30" fill="url(#e6)" stroke="#6a6a00" stroke-width="2"/>
<text x="822" y="664" font-size="34" fill="#1a1a1a" text-anchor="middle" font-weight="bold">e<tspan dy="-0.55em" font-size="60%">-</tspan><tspan dy="0.55em" font-size="60%">&#8203;</tspan></text>
<circle cx="922" cy="652" r="30" fill="url(#e6)" stroke="#6a6a00" stroke-width="2"/>
<text x="922" y="664" font-size="34" fill="#1a1a1a" text-anchor="middle" font-weight="bold">e<tspan dy="-0.55em" font-size="60%">-</tspan><tspan dy="0.55em" font-size="60%">&#8203;</tspan></text>
<circle cx="1020" cy="652" r="30" fill="url(#e6)" stroke="#6a6a00" stroke-width="2"/>
<text x="1020" y="664" font-size="34" fill="#1a1a1a" text-anchor="middle" font-weight="bold">e<tspan dy="-0.55em" font-size="60%">-</tspan><tspan dy="0.55em" font-size="60%">&#8203;</tspan></text>
<circle cx="1118" cy="652" r="30" fill="url(#e6)" stroke="#6a6a00" stroke-width="2"/>
<text x="1118" y="664" font-size="34" fill="#1a1a1a" text-anchor="middle" font-weight="bold">e<tspan dy="-0.55em" font-size="60%">-</tspan><tspan dy="0.55em" font-size="60%">&#8203;</tspan></text>
<circle cx="838" cy="922" r="30" fill="url(#e6)" stroke="#6a6a00" stroke-width="2"/>
<text x="838" y="934" font-size="34" fill="#1a1a1a" text-anchor="middle" font-weight="bold">h<tspan dy="-0.55em" font-size="60%">+</tspan><tspan dy="0.55em" font-size="60%">&#8203;</tspan></text>
<circle cx="955" cy="922" r="30" fill="url(#e6)" stroke="#6a6a00" stroke-width="2"/>
<text x="955" y="934" font-size="34" fill="#1a1a1a" text-anchor="middle" font-weight="bold">h<tspan dy="-0.55em" font-size="60%">+</tspan><tspan dy="0.55em" font-size="60%">&#8203;</tspan></text>
<circle cx="1075" cy="922" r="30" fill="url(#e6)" stroke="#6a6a00" stroke-width="2"/>
<text x="1075" y="934" font-size="34" fill="#1a1a1a" text-anchor="middle" font-weight="bold">h<tspan dy="-0.55em" font-size="60%">+</tspan><tspan dy="0.55em" font-size="60%">&#8203;</tspan></text>
<circle cx="1290" cy="742" r="28" fill="url(#e6)" stroke="#6a6a00" stroke-width="2"/>
<text x="1290" y="754" font-size="34" fill="#1a1a1a" text-anchor="middle" font-weight="bold">e<tspan dy="-0.55em" font-size="60%">-</tspan><tspan dy="0.55em" font-size="60%">&#8203;</tspan></text>
<circle cx="1370" cy="742" r="28" fill="url(#e6)" stroke="#6a6a00" stroke-width="2"/>
<text x="1370" y="754" font-size="34" fill="#1a1a1a" text-anchor="middle" font-weight="bold">e<tspan dy="-0.55em" font-size="60%">-</tspan><tspan dy="0.55em" font-size="60%">&#8203;</tspan></text>
<polygon points="327.6,768 310.89,772.89 325.27,782.71 307.87,782.2 318.51,795.98 302.12,790.12 307.98,806.51 294.2,795.87 294.71,813.27 284.89,798.89 280,815.6 275.11,798.89 265.29,813.27 265.8,795.87 252.02,806.51 257.88,790.12 241.49,795.98 252.13,782.2 234.73,782.71 249.11,772.89 232.4,768 249.11,763.11 234.73,753.29 252.13,753.8 241.49,740.02 257.88,745.88 252.02,729.49 265.8,740.13 265.29,722.73 275.11,737.11 280,720.4 284.89,737.11 294.71,722.73 294.2,740.13 307.98,729.49 302.12,745.88 318.51,740.02 307.87,753.8 325.27,753.29 310.89,763.11" fill="#ffa800"/>
<circle cx="280" cy="768" r="34" fill="#ffa800"/>
<circle cx="280" cy="768" r="20.4" fill="#ff9000" opacity="0.55"/>
<polygon points="847.6,750 830.89,754.89 845.27,764.71 827.87,764.2 838.51,777.98 822.12,772.12 827.98,788.51 814.2,777.87 814.71,795.27 804.89,780.89 800,797.6 795.11,780.89 785.29,795.27 785.8,777.87 772.02,788.51 777.88,772.12 761.49,777.98 772.13,764.2 754.73,764.71 769.11,754.89 752.4,750 769.11,745.11 754.73,735.29 772.13,735.8 761.49,722.02 777.88,727.88 772.02,711.49 785.8,722.13 785.29,704.73 795.11,719.11 800,702.4 804.89,719.11 814.71,704.73 814.2,722.13 827.98,711.49 822.12,727.88 838.51,722.02 827.87,735.8 845.27,735.29 830.89,745.11" fill="#ffa800"/>
<circle cx="800" cy="750" r="34" fill="#ffa800"/>
<circle cx="800" cy="750" r="20.4" fill="#ff9000" opacity="0.55"/>
<polygon points="340,788 382,780 374,802 428,842 360,820 370,800" fill="#ffd000" stroke="#f0a000" stroke-width="2"/>
<polygon points="862,770 904,762 896,784 950,824 882,802 892,782" fill="#ffd000" stroke="#f0a000" stroke-width="2"/>
<line x1="455" y1="905" x2="455" y2="745" stroke="#111" stroke-width="5"/>
<polygon points="455,717 466,749 444,749" fill="#111"/>
<line x1="962" y1="885" x2="962" y2="720" stroke="#111" stroke-width="5"/>
<polygon points="962,692 973,724 951,724" fill="#111"/>
<path d="M672 708 C720 730 690 800 700 840 C705 860 712 868 720 872" fill="none" stroke="#111" stroke-width="6"/>
<polygon points="728,880 696.68,870.62 713.43,850.73" fill="#111"/>
<path d="M1150 668 C1190 675 1215 690 1238 715" fill="none" stroke="#222" stroke-width="5"/>
<polygon points="1250,730 1226,715.85 1241.67,703.42" fill="#222"/>
<path d="M1335 625 C1360 645 1390 648 1410 640" fill="none" stroke="#111" stroke-width="6"/>
<polygon points="1425,635 1405.03,651.65 1399.12,632.54" fill="#111"/>
<text x="375" y="604" font-size="36" fill="#1a3a08" font-weight="bold" textLength="172" lengthAdjust="spacingAndGlyphs">α-Fe<tspan dy="0.3em" font-size="60%">2</tspan><tspan dy="-0.3em" font-size="60%">&#8203;</tspan>O<tspan dy="0.3em" font-size="60%">3</tspan><tspan dy="-0.3em" font-size="60%">&#8203;</tspan></text>
<text x="915" y="568" font-size="38" fill="#2a1a00" font-weight="bold" textLength="92" lengthAdjust="spacingAndGlyphs">CdS</text>
<text x="1262" y="838" font-size="38" fill="#1a0a30" font-weight="bold" textLength="82" lengthAdjust="spacingAndGlyphs">NiS</text>
<text x="1288" y="618" font-size="36" fill="#111" font-weight="bold">H<tspan dy="-0.55em" font-size="60%">+</tspan><tspan dy="0.55em" font-size="60%">&#8203;</tspan></text>
<text x="1432" y="624" font-size="36" fill="#111" font-weight="bold">H<tspan dy="0.3em" font-size="60%">2</tspan><tspan dy="-0.3em" font-size="60%">&#8203;</tspan></text>
</g>
</g>
<g transform="translate(775,1125) scale(0.22236)">
<defs>
<clipPath id="c7"><rect x="50" y="50" width="1478" height="962" rx="112" ry="112"/></clipPath>
<linearGradient id="b7" x1="0" y1="0" x2="0" y2="1"><stop offset="0" stop-color="#0a0c22"/><stop offset="0.14" stop-color="#15183c"/><stop offset="0.3" stop-color="#3c3060"/><stop offset="0.42" stop-color="#806078"/><stop offset="0.56" stop-color="#d07868"/><stop offset="0.75" stop-color="#dc8a78"/><stop offset="0.88" stop-color="#f0c0b0"/><stop offset="0.94" stop-color="#ffffff"/><stop offset="1" stop-color="#ffffff"/></linearGradient>
<radialGradient id="gl7" cx="0.5" cy="0.5" r="0.5"><stop offset="0" stop-color="#fff0e0" stop-opacity="0.9"/><stop offset="1" stop-color="#f4c8b0" stop-opacity="0"/></radialGradient>
<radialGradient id="pk7" cx="0.5" cy="0.5" r="0.5"><stop offset="0" stop-color="#e8a0f0" stop-opacity="0.75"/><stop offset="1" stop-color="#a060c0" stop-opacity="0"/></radialGradient>
<radialGradient id="bl7" cx="0.5" cy="0.5" r="0.5"><stop offset="0" stop-color="#1a4a90" stop-opacity="0.85"/><stop offset="1" stop-color="#1a3a80" stop-opacity="0"/></radialGradient>
<radialGradient id="dk7" cx="0.5" cy="0.5" r="0.5"><stop offset="0" stop-color="#1a2a60" stop-opacity="0.8"/><stop offset="1" stop-color="#1a2a60" stop-opacity="0"/></radialGradient>
<linearGradient id="sp7" x1="0" y1="0" x2="0" y2="1"><stop offset="0" stop-color="#50c8ff"/><stop offset="0.55" stop-color="#1a88e8" stop-opacity="0.9"/><stop offset="1" stop-color="#1a70d0" stop-opacity="0.05"/></linearGradient>
<linearGradient id="sc7" x1="0" y1="0" x2="0" y2="1"><stop offset="0" stop-color="#f0fbff" stop-opacity="0.95"/><stop offset="0.7" stop-color="#e0f4ff" stop-opacity="0.8"/><stop offset="1" stop-color="#d0ecff" stop-opacity="0.1"/></linearGradient>
<radialGradient id="pu7" cx="0.38" cy="0.32" r="0.7"><stop offset="0" stop-color="#e060e0"/><stop offset="0.5" stop-color="#981098"/><stop offset="1" stop-color="#400840"/></radialGradient>
<radialGradient id="rd7" cx="0.38" cy="0.32" r="0.7"><stop offset="0" stop-color="#ff7070"/><stop offset="0.5" stop-color="#e01020"/><stop offset="1" stop-color="#700008"/></radialGradient>
<radialGradient id="yl7" cx="0.38" cy="0.32" r="0.7"><stop offset="0" stop-color="#ffffa0"/><stop offset="0.5" stop-color="#ffe000"/><stop offset="1" stop-color="#a08800"/></radialGradient>
<radialGradient id="pi7" cx="0.38" cy="0.32" r="0.7"><stop offset="0" stop-color="#ffc0e8"/><stop offset="0.5" stop-color="#f070c0"/><stop offset="1" stop-color="#903070"/></radialGradient>
<radialGradient id="br7" cx="0.38" cy="0.32" r="0.7"><stop offset="0" stop-color="#f09040"/><stop offset="0.5" stop-color="#c85000"/><stop offset="1" stop-color="#602000"/></radialGradient>
<radialGradient id="gn7" cx="0.38" cy="0.32" r="0.7"><stop offset="0" stop-color="#90f0c0"/><stop offset="0.5" stop-color="#30c080"/><stop offset="1" stop-color="#106040"/></radialGradient>
<radialGradient id="bk7" cx="0.38" cy="0.32" r="0.7"><stop offset="0" stop-color="#808080"/><stop offset="0.5" stop-color="#202020"/><stop offset="1" stop-color="#000"/></radialGradient>
<radialGradient id="cy7" cx="0.38" cy="0.32" r="0.7"><stop offset="0" stop-color="#a0ffff"/><stop offset="0.5" stop-color="#10c8e0"/><stop offset="1" stop-color="#087080"/></radialGradient>
<linearGradient id="oc7" x1="0" y1="0" x2="1" y2="1"><stop offset="0" stop-color="#58b8f8"/><stop offset="1" stop-color="#1470d0"/></linearGradient>
</defs>
<g clip-path="url(#c7)">
<rect x="50" y="50" width="1478" height="962" fill="url(#b7)"/>
<ellipse cx="1440" cy="230" rx="200" ry="260" fill="url(#pk7)"/>
<ellipse cx="1250" cy="330" rx="300" ry="130" fill="url(#pk7)" opacity="0.6"/>
<ellipse cx="100" cy="420" rx="220" ry="130" fill="url(#dk7)"/>
<ellipse cx="700" cy="840" rx="520" ry="150" fill="url(#gl7)"/>
<ellipse cx="120" cy="720" rx="200" ry="200" fill="url(#gl7)" opacity="0.5"/>
<ellipse cx="130" cy="260" rx="330" ry="210" fill="url(#bl7)"/>
<polygon points="148,80 216,68 440,352 146,348" fill="url(#sp7)"/>
<polygon points="176,76 204,72 362,348 300,348" fill="url(#sc7)"/>
<ellipse cx="182" cy="67" rx="34" ry="10" fill="#c8f0ff"/>
<polygon points="340,372 1240,368 1405,455 1395,548 1250,590 320,590 160,545 152,455" fill="#2a8ae0" opacity="0.92"/>
<polygon points="320,395 340,373 360,395 340,417" fill="#4aa8f0" stroke="#f08898" stroke-width="1.6"/>
<polygon points="360,395 380,373 400,395 380,417" fill="#1e78d0" stroke="#f08898" stroke-width="1.6"/>
<polygon points="400,395 420,373 440,395 420,417" fill="#62b8f8" stroke="#f08898" stroke-width="1.6"/>
<polygon points="440,395 460,373 480,395 460,417" fill="#2a88e0" stroke="#f08898" stroke-width="1.6"/>
<polygon points="480,395 500,373 520,395 500,417" fill="#4aa8f0" stroke="#f08898" stroke-width="1.6"/>
<polygon points="520,395 540,373 560,395 540,417" fill="#1e78d0" stroke="#f08898" stroke-width="1.6"/>
<polygon points="560,395 580,373 600,395 580,417" fill="#62b8f8" stroke="#f08898" stroke-width="1.6"/>
<polygon points="600,395 620,373 640,395 620,417" fill="#2a88e0" stroke="#f08898" stroke-width="1.6"/>
<polygon points="640,395 660,373 680,395 660,417" fill="#4aa8f0" stroke="#f08898" stroke-width="1.6"/>
<polygon points="680,395 700,373 720,395 700,417" fill="#1e78d0" stroke="#f08898" stroke-width="1.6"/>
<polygon points="720,395 740,373 760,395 740,417" fill="#62b8f8" stroke="#f08898" stroke-width="1.6"/>
<polygon points="760,395 780,373 800,395 780,417" fill="#2a88e0" stroke="#f08898" stroke-width="1.6"/>
<polygon points="800,395 820,373 840,395 820,417" fill="#4aa8f0" stroke="#f08898" stroke-width="1.6"/>
<polygon points="840,395 860,373 880,395 860,417" fill="#1e78d0" stroke="#f08898" stroke-width="1.6"/>
<polygon points="880,395 900,373 920,395 900,417" fill="#62b8f8" stroke="#f08898" stroke-width="1.6"/>
<polygon points="920,395 940,373 960,395 940,417" fill="#2a88e0" stroke="#f08898" stroke-width="1.6"/>
<polygon points="960,395 980,373 1000,395 980,417" fill="#4aa8f0" stroke="#f08898" stroke-width="1.6"/>
<polygon points="1000,395 1020,373 1040,395 1020,417" fill="#1e78d0" stroke="#f08898" stroke-width="1.6"/>
<polygon points="1040,395 1060,373 1080,395 1060,417" fill="#62b8f8" stroke="#f08898" stroke-width="1.6"/>
<polygon points="1080,395 1100,373 1120,395 1100,417" fill="#2a88e0" stroke="#f08898" stroke-width="1.6"/>
<polygon points="1120,395 1140,373 1160,395 1140,417" fill="#4aa8f0" stroke="#f08898" stroke-width="1.6"/>
<polygon points="1160,395 1180,373 1200,395 1180,417" fill="#1e78d0" stroke="#f08898" stroke-width="1.6"/>
<polygon points="1200,395 1220,373 1240,395 1220,417" fill="#62b8f8" stroke="#f08898" stroke-width="1.6"/>
<polygon points="292,430 315,400 338,430 315,460" fill="#1e78d0" stroke="#f08898" stroke-width="1.6"/>
<polygon points="338,430 361,400 384,430 361,460" fill="#62b8f8" stroke="#f08898" stroke-width="1.6"/>
<polygon points="384,430 407,400 430,430 407,460" fill="#2a88e0" stroke="#f08898" stroke-width="1.6"/>
<polygon points="430,430 453,400 476,430 453,460" fill="#4aa8f0" stroke="#f08898" stroke-width="1.6"/>
<polygon points="476,430 499,400 522,430 499,460" fill="#1e78d0" stroke="#f08898" stroke-width="1.6"/>
<polygon points="522,430 545,400 568,430 545,460" fill="#62b8f8" stroke="#f08898" stroke-width="1.6"/>
<polygon points="568,430 591,400 614,430 591,460" fill="#2a88e0" stroke="#f08898" stroke-width="1.6"/>
<polygon points="614,430 637,400 660,430 637,460" fill="#4aa8f0" stroke="#f08898" stroke-width="1.6"/>
<polygon points="660,430 683,400 706,430 683,460" fill="#1e78d0" stroke="#f08898" stroke-width="1.6"/>
<polygon points="706,430 729,400 752,430 729,460" fill="#62b8f8" stroke="#f08898" stroke-width="1.6"/>
<polygon points="752,430 775,400 798,430 775,460" fill="#2a88e0" stroke="#f08898" stroke-width="1.6"/>
<polygon points="798,430 821,400 844,430 821,460" fill="#4aa8f0" stroke="#f08898" stroke-width="1.6"/>
<polygon points="844,430 867,400 890,430 867,460" fill="#1e78d0" stroke="#f08898" stroke-width="1.6"/>
<polygon points="890,430 913,400 936,430 913,460" fill="#62b8f8" stroke="#f08898" stroke-width="1.6"/>
<polygon points="936,430 959,400 982,430 959,460" fill="#2a88e0" stroke="#f08898" stroke-width="1.6"/>
<polygon points="982,430 1005,400 1028,430 1005,460" fill="#4aa8f0" stroke="#f08898" stroke-width="1.6"/>
<polygon points="1028,430 1051,400 1074,430 1051,460" fill="#1e78d0" stroke="#f08898" stroke-width="1.6"/>
<polygon points="1074,430 1097,400 1120,430 1097,460" fill="#62b8f8" stroke="#f08898" stroke-width="1.6"/>
<polygon points="1120,430 1143,400 1166,430 1143,460" fill="#2a88e0" stroke="#f08898" stroke-width="1.6"/>
<polygon points="1166,430 1189,400 1212,430 1189,460" fill="#4aa8f0" stroke="#f08898" stroke-width="1.6"/>
<polygon points="1212,430 1235,400 1258,430 1235,460" fill="#1e78d0" stroke="#f08898" stroke-width="1.6"/>
<polygon points="1258,430 1281,400 1304,430 1281,460" fill="#62b8f8" stroke="#f08898" stroke-width="1.6"/>
<polygon points="218,470 244,432 270,470 244,508" fill="#62b8f8" stroke="#f08898" stroke-width="1.6"/>
<polygon points="270,470 296,432 322,470 296,508" fill="#2a88e0" stroke="#f08898" stroke-width="1.6"/>
<polygon points="322,470 348,432 374,470 348,508" fill="#4aa8f0" stroke="#f08898" stroke-width="1.6"/>
<polygon points="374,470 400,432 426,470 400,508" fill="#1e78d0" stroke="#f08898" stroke-width="1.6"/>
<polygon points="426,470 452,432 478,470 452,508" fill="#62b8f8" stroke="#f08898" stroke-width="1.6"/>
<polygon points="478,470 504,432 530,470 504,508" fill="#2a88e0" stroke="#f08898" stroke-width="1.6"/>
<polygon points="530,470 556,432 582,470 556,508" fill="#4aa8f0" stroke="#f08898" stroke-width="1.6"/>
<polygon points="582,470 608,432 634,470 608,508" fill="#1e78d0" stroke="#f08898" stroke-width="1.6"/>
<polygon points="634,470 660,432 686,470 660,508" fill="#62b8f8" stroke="#f08898" stroke-width="1.6"/>
<polygon points="686,470 712,432 738,470 712,508" fill="#2a88e0" stroke="#f08898" stroke-width="1.6"/>
<polygon points="738,470 764,432 790,470 764,508" fill="#4aa8f0" stroke="#f08898" stroke-width="1.6"/>
<polygon points="790,470 816,432 842,470 816,508" fill="#1e78d0" stroke="#f08898" stroke-width="1.6"/>
<polygon points="842,470 868,432 894,470 868,508" fill="#62b8f8" stroke="#f08898" stroke-width="1.6"/>
<polygon points="894,470 920,432 946,470 920,508" fill="#2a88e0" stroke="#f08898" stroke-width="1.6"/>
<polygon points="946,470 972,432 998,470 972,508" fill="#4aa8f0" stroke="#f08898" stroke-width="1.6"/>
<polygon points="998,470 1024,432 1050,470 1024,508" fill="#1e78d0" stroke="#f08898" stroke-width="1.6"/>
<polygon points="1050,470 1076,432 1102,470 1076,508" fill="#62b8f8" stroke="#f08898" stroke-width="1.6"/>
<polygon points="1102,470 1128,432 1154,470 1128,508" fill="#2a88e0" stroke="#f08898" stroke-width="1.6"/>
<polygon points="1154,470 1180,432 1206,470 1180,508" fill="#4aa8f0" stroke="#f08898" stroke-width="1.6"/>
<polygon points="1206,470 1232,432 1258,470 1232,508" fill="#1e78d0" stroke="#f08898" stroke-width="1.6"/>
<polygon points="1258,470 1284,432 1310,470 1284,508" fill="#62b8f8" stroke="#f08898" stroke-width="1.6"/>
<polygon points="196,520 225,478 254,520 225,562" fill="#2a88e0" stroke="#f08898" stroke-width="1.6"/>
<polygon points="254,520 283,478 312,520 283,562" fill="#4aa8f0" stroke="#f08898" stroke-width="1.6"/>
<polygon points="312,520 341,478 370,520 341,562" fill="#1e78d0" stroke="#f08898" stroke-width="1.6"/>
<polygon points="370,520 399,478 428,520 399,562" fill="#62b8f8" stroke="#f08898" stroke-width="1.6"/>
<polygon points="428,520 457,478 486,520 457,562" fill="#2a88e0" stroke="#f08898" stroke-width="1.6"/>
<polygon points="486,520 515,478 544,520 515,562" fill="#4aa8f0" stroke="#f08898" stroke-width="1.6"/>
<polygon points="544,520 573,478 602,520 573,562" fill="#1e78d0" stroke="#f08898" stroke-width="1.6"/>
<polygon points="602,520 631,478 660,520 631,562" fill="#62b8f8" stroke="#f08898" stroke-width="1.6"/>
<polygon points="660,520 689,478 718,520 689,562" fill="#2a88e0" stroke="#f08898" stroke-width="1.6"/>
<polygon points="718,520 747,478 776,520 747,562" fill="#4aa8f0" stroke="#f08898" stroke-width="1.6"/>
<polygon points="776,520 805,478 834,520 805,562" fill="#1e78d0" stroke="#f08898" stroke-width="1.6"/>
<polygon points="834,520 863,478 892,520 863,562" fill="#62b8f8" stroke="#f08898" stroke-width="1.6"/>
<polygon points="892,520 921,478 950,520 921,562" fill="#2a88e0" stroke="#f08898" stroke-width="1.6"/>
<polygon points="950,520 979,478 1008,520 979,562" fill="#4aa8f0" stroke="#f08898" stroke-width="1.6"/>
<polygon points="1008,520 1037,478 1066,520 1037,562" fill="#1e78d0" stroke="#f08898" stroke-width="1.6"/>
<polygon points="1066,520 1095,478 1124,520 1095,562" fill="#62b8f8" stroke="#f08898" stroke-width="1.6"/>
<polygon points="1124,520 1153,478 1182,520 1153,562" fill="#2a88e0" stroke="#f08898" stroke-width="1.6"/>
<polygon points="1182,520 1211,478 1240,520 1211,562" fill="#4aa8f0" stroke="#f08898" stroke-width="1.6"/>
<polygon points="1240,520 1269,478 1298,520 1269,562" fill="#1e78d0" stroke="#f08898" stroke-width="1.6"/>
<polygon points="1298,520 1327,478 1356,520 1327,562" fill="#62b8f8" stroke="#f08898" stroke-width="1.6"/>
<polygon points="1356,520 1385,478 1414,520 1385,562" fill="#2a88e0" stroke="#f08898" stroke-width="1.6"/>
<polygon points="158,560 190,524 222,560 190,596" fill="#4aa8f0" stroke="#f08898" stroke-width="1.6"/>
<polygon points="222,560 254,524 286,560 254,596" fill="#1e78d0" stroke="#f08898" stroke-width="1.6"/>
<polygon points="286,560 318,524 350,560 318,596" fill="#62b8f8" stroke="#f08898" stroke-width="1.6"/>
<polygon points="350,560 382,524 414,560 382,596" fill="#2a88e0" stroke="#f08898" stroke-width="1.6"/>
<polygon points="414,560 446,524 478,560 446,596" fill="#4aa8f0" stroke="#f08898" stroke-width="1.6"/>
<polygon points="478,560 510,524 542,560 510,596" fill="#1e78d0" stroke="#f08898" stroke-width="1.6"/>
<polygon points="542,560 574,524 606,560 574,596" fill="#62b8f8" stroke="#f08898" stroke-width="1.6"/>
<polygon points="606,560 638,524 670,560 638,596" fill="#2a88e0" stroke="#f08898" stroke-width="1.6"/>
<polygon points="670,560 702,524 734,560 702,596" fill="#4aa8f0" stroke="#f08898" stroke-width="1.6"/>
<polygon points="734,560 766,524 798,560 766,596" fill="#1e78d0" stroke="#f08898" stroke-width="1.6"/>
<polygon points="798,560 830,524 862,560 830,596" fill="#62b8f8" stroke="#f08898" stroke-width="1.6"/>
<polygon points="862,560 894,524 926,560 894,596" fill="#2a88e0" stroke="#f08898" stroke-width="1.6"/>
<polygon points="926,560 958,524 990,560 958,596" fill="#4aa8f0" stroke="#f08898" stroke-width="1.6"/>
<polygon points="990,560 1022,524 1054,560 1022,596" fill="#1e78d0" stroke="#f08898" stroke-width="1.6"/>
<polygon points="1054,560 1086,524 1118,560 1086,596" fill="#62b8f8" stroke="#f08898" stroke-width="1.6"/>
<polygon points="1118,560 1150,524 1182,560 1150,596" fill="#2a88e0" stroke="#f08898" stroke-width="1.6"/>
<polygon points="1182,560 1214,524 1246,560 1214,596" fill="#4aa8f0" stroke="#f08898" stroke-width="1.6"/>
<polygon points="1246,560 1278,524 1310,560 1278,596" fill="#1e78d0" stroke="#f08898" stroke-width="1.6"/>
<polygon points="1310,560 1342,524 1374,560 1342,596" fill="#62b8f8" stroke="#f08898" stroke-width="1.6"/>
<line x1="560" y1="372" x2="150" y2="590" stroke="#f08898" stroke-width="2.5" opacity="0.8"/>
<line x1="595" y1="372" x2="230" y2="590" stroke="#f08898" stroke-width="2.5" opacity="0.8"/>
<line x1="630" y1="372" x2="310" y2="590" stroke="#f08898" stroke-width="2.5" opacity="0.8"/>
<line x1="665" y1="372" x2="390" y2="590" stroke="#f08898" stroke-width="2.5" opacity="0.8"/>
<line x1="700" y1="372" x2="470" y2="590" stroke="#f08898" stroke-width="2.5" opacity="0.8"/>
<line x1="735" y1="372" x2="550" y2="590" stroke="#f08898" stroke-width="2.5" opacity="0.8"/>
<line x1="770" y1="372" x2="630" y2="590" stroke="#f08898" stroke-width="2.5" opacity="0.8"/>
<line x1="805" y1="372" x2="710" y2="590" stroke="#f08898" stroke-width="2.5" opacity="0.8"/>
<line x1="840" y1="372" x2="790" y2="590" stroke="#f08898" stroke-width="2.5" opacity="0.8"/>
<line x1="875" y1="372" x2="870" y2="590" stroke="#f08898" stroke-width="2.5" opacity="0.8"/>
<line x1="910" y1="372" x2="950" y2="590" stroke="#f08898" stroke-width="2.5" opacity="0.8"/>
<line x1="945" y1="372" x2="1030" y2="590" stroke="#f08898" stroke-width="2.5" opacity="0.8"/>
<line x1="980" y1="372" x2="1110" y2="590" stroke="#f08898" stroke-width="2.5" opacity="0.8"/>
<line x1="1015" y1="372" x2="1190" y2="590" stroke="#f08898" stroke-width="2.5" opacity="0.8"/>
<line x1="1050" y1="372" x2="1270" y2="590" stroke="#f08898" stroke-width="2.5" opacity="0.8"/>
<line x1="1085" y1="372" x2="1350" y2="590" stroke="#f08898" stroke-width="2.5" opacity="0.8"/>
<line x1="1120" y1="372" x2="1430" y2="590" stroke="#f08898" stroke-width="2.5" opacity="0.8"/>
<circle cx="300" cy="458" r="10" fill="url(#gn7)"/>
<circle cx="430" cy="458" r="10" fill="url(#gn7)"/>
<circle cx="620" cy="458" r="10" fill="url(#gn7)"/>
<circle cx="830" cy="458" r="10" fill="url(#gn7)"/>
<circle cx="1040" cy="458" r="10" fill="url(#gn7)"/>
<circle cx="1250" cy="458" r="10" fill="url(#gn7)"/>
<circle cx="1340" cy="458" r="10" fill="url(#gn7)"/>
<circle cx="278" cy="490" r="15" fill="url(#yl7)"/>
<circle cx="477" cy="490" r="15" fill="url(#yl7)"/>
<circle cx="676" cy="490" r="15" fill="url(#yl7)"/>
<circle cx="877" cy="472" r="15" fill="url(#yl7)"/>
<circle cx="877" cy="496" r="15" fill="url(#yl7)"/>
<circle cx="1078" cy="492" r="15" fill="url(#yl7)"/>
<circle cx="1283" cy="492" r="15" fill="url(#yl7)"/>
<path d="M440 560 l-8 40 l12 30 l-10 50" stroke="#88d8ff" stroke-width="6" fill="none" opacity="0.85"/>
<path d="M590 560 l-8 40 l12 30 l-10 50" stroke="#88d8ff" stroke-width="6" fill="none" opacity="0.85"/>
<path d="M700 560 l-8 40 l12 30 l-10 50" stroke="#88d8ff" stroke-width="6" fill="none" opacity="0.85"/>
<path d="M870 560 l-8 40 l12 30 l-10 50" stroke="#88d8ff" stroke-width="6" fill="none" opacity="0.85"/>
<path d="M1000 560 l-8 40 l12 30 l-10 50" stroke="#88d8ff" stroke-width="6" fill="none" opacity="0.85"/>
<path d="M1100 560 l-8 40 l12 30 l-10 50" stroke="#88d8ff" stroke-width="6" fill="none" opacity="0.85"/>
<path d="M1190 560 l-8 40 l12 30 l-10 50" stroke="#88d8ff" stroke-width="6" fill="none" opacity="0.85"/>
<circle cx="1174" cy="577" r="17" fill="url(#pu7)"/>
<circle cx="567" cy="577" r="17" fill="url(#pu7)"/>
<circle cx="817" cy="577" r="12" fill="url(#rd7)"/>
<circle cx="782" cy="577" r="17" fill="url(#pu7)"/>
<circle cx="746" cy="577" r="17" fill="url(#pu7)"/>
<circle cx="1140" cy="577" r="12" fill="url(#rd7)"/>
<circle cx="887" cy="578" r="17" fill="url(#pu7)"/>
<circle cx="670" cy="578" r="17" fill="url(#pu7)"/>
<circle cx="600" cy="578" r="12" fill="url(#rd7)"/>
<circle cx="1107" cy="578" r="17" fill="url(#pu7)"/>
<circle cx="490" cy="579" r="12" fill="url(#rd7)"/>
<circle cx="637" cy="580" r="17" fill="url(#pu7)"/>
<circle cx="531" cy="580" r="17" fill="url(#pu7)"/>
<circle cx="997" cy="581" r="17" fill="url(#pu7)"/>
<circle cx="385" cy="581" r="12" fill="url(#rd7)"/>
<circle cx="850" cy="582" r="17" fill="url(#pu7)"/>
<circle cx="927" cy="582" r="12" fill="url(#rd7)"/>
<circle cx="707" cy="582" r="12" fill="url(#rd7)"/>
<circle cx="458" cy="582" r="17" fill="url(#pu7)"/>
<circle cx="1031" cy="582" r="12" fill="url(#rd7)"/>
<circle cx="422" cy="582" r="17" fill="url(#pu7)"/>
<circle cx="959" cy="582" r="17" fill="url(#pu7)"/>
<circle cx="1070" cy="582" r="17" fill="url(#pu7)"/>
<circle cx="600" cy="598" r="17.6" fill="url(#pu7)"/>
<circle cx="739" cy="598" r="17.6" fill="url(#pu7)"/>
<circle cx="563" cy="598" r="12.4" fill="url(#rd7)"/>
<circle cx="1208" cy="599" r="12.4" fill="url(#rd7)"/>
<circle cx="453" cy="599" r="12.4" fill="url(#rd7)"/>
<circle cx="1174" cy="599" r="17.6" fill="url(#pu7)"/>
<circle cx="1063" cy="600" r="17.6" fill="url(#pu7)"/>
<circle cx="885" cy="600" r="12.4" fill="url(#rd7)"/>
<circle cx="491" cy="600" r="17.6" fill="url(#pu7)"/>
<circle cx="524" cy="600" r="17.6" fill="url(#pu7)"/>
<circle cx="705" cy="601" r="17.6" fill="url(#pu7)"/>
<circle cx="380" cy="601" r="17.6" fill="url(#pu7)"/>
<circle cx="415" cy="602" r="17.6" fill="url(#pu7)"/>
<circle cx="955" cy="602" r="17.6" fill="url(#pu7)"/>
<circle cx="812" cy="602" r="17.6" fill="url(#pu7)"/>
<circle cx="922" cy="602" r="17.6" fill="url(#pu7)"/>
<circle cx="667" cy="602" r="12.4" fill="url(#rd7)"/>
<circle cx="635" cy="603" r="17.6" fill="url(#pu7)"/>
<circle cx="995" cy="603" r="12.4" fill="url(#rd7)"/>
<circle cx="1102" cy="603" r="12.4" fill="url(#rd7)"/>
<circle cx="1137" cy="603" r="17.6" fill="url(#pu7)"/>
<circle cx="852" cy="603" r="17.6" fill="url(#pu7)"/>
<circle cx="1027" cy="603" r="17.6" fill="url(#pu7)"/>
<circle cx="776" cy="603" r="12.4" fill="url(#rd7)"/>
<circle cx="412" cy="619" r="18.2" fill="url(#pu7)"/>
<circle cx="669" cy="619" r="18.2" fill="url(#pu7)"/>
<circle cx="1026" cy="619" r="12.8" fill="url(#rd7)"/>
<circle cx="340" cy="619" r="18.2" fill="url(#pu7)"/>
<circle cx="486" cy="620" r="12.8" fill="url(#rd7)"/>
<circle cx="1168" cy="620" r="18.2" fill="url(#pu7)"/>
<circle cx="990" cy="620" r="18.2" fill="url(#pu7)"/>
<circle cx="1134" cy="621" r="12.8" fill="url(#rd7)"/>
<circle cx="558" cy="621" r="18.2" fill="url(#pu7)"/>
<circle cx="772" cy="621" r="18.2" fill="url(#pu7)"/>
<circle cx="845" cy="621" r="18.2" fill="url(#pu7)"/>
<circle cx="921" cy="621" r="12.8" fill="url(#rd7)"/>
<circle cx="628" cy="621" r="18.2" fill="url(#pu7)"/>
<circle cx="453" cy="622" r="18.2" fill="url(#pu7)"/>
<circle cx="1101" cy="622" r="18.2" fill="url(#pu7)"/>
<circle cx="954" cy="623" r="18.2" fill="url(#pu7)"/>
<circle cx="739" cy="623" r="18.2" fill="url(#pu7)"/>
<circle cx="523" cy="623" r="18.2" fill="url(#pu7)"/>
<circle cx="808" cy="624" r="12.8" fill="url(#rd7)"/>
<circle cx="885" cy="624" r="18.2" fill="url(#pu7)"/>
<circle cx="1208" cy="624" r="18.2" fill="url(#pu7)"/>
<circle cx="592" cy="624" r="12.8" fill="url(#rd7)"/>
<circle cx="704" cy="624" r="12.8" fill="url(#rd7)"/>
<circle cx="1062" cy="624" r="18.2" fill="url(#pu7)"/>
<circle cx="380" cy="624" r="12.8" fill="url(#rd7)"/>
<circle cx="1273" cy="640" r="18.8" fill="url(#pu7)"/>
<circle cx="1097" cy="641" r="13.2" fill="url(#rd7)"/>
<circle cx="1168" cy="642" r="18.8" fill="url(#pu7)"/>
<circle cx="1026" cy="642" r="18.8" fill="url(#pu7)"/>
<circle cx="482" cy="642" r="18.8" fill="url(#pu7)"/>
<circle cx="952" cy="643" r="18.8" fill="url(#pu7)"/>
<circle cx="625" cy="643" r="18.8" fill="url(#pu7)"/>
<circle cx="592" cy="643" r="18.8" fill="url(#pu7)"/>
<circle cx="1133" cy="643" r="18.8" fill="url(#pu7)"/>
<circle cx="771" cy="643" r="13.2" fill="url(#rd7)"/>
<circle cx="662" cy="644" r="13.2" fill="url(#rd7)"/>
<circle cx="882" cy="644" r="13.2" fill="url(#rd7)"/>
<circle cx="521" cy="644" r="18.8" fill="url(#pu7)"/>
<circle cx="377" cy="644" r="18.8" fill="url(#pu7)"/>
<circle cx="447" cy="644" r="13.2" fill="url(#rd7)"/>
<circle cx="1061" cy="644" r="18.8" fill="url(#pu7)"/>
<circle cx="1240" cy="644" r="18.8" fill="url(#pu7)"/>
<circle cx="412" cy="644" r="18.8" fill="url(#pu7)"/>
<circle cx="1204" cy="644" r="13.2" fill="url(#rd7)"/>
<circle cx="339" cy="644" r="13.2" fill="url(#rd7)"/>
<circle cx="736" cy="644" r="18.8" fill="url(#pu7)"/>
<circle cx="699" cy="644" r="18.8" fill="url(#pu7)"/>
<circle cx="809" cy="644" r="18.8" fill="url(#pu7)"/>
<circle cx="985" cy="645" r="13.2" fill="url(#rd7)"/>
<circle cx="843" cy="645" r="18.8" fill="url(#pu7)"/>
<circle cx="554" cy="645" r="13.2" fill="url(#rd7)"/>
<circle cx="918" cy="645" r="18.8" fill="url(#pu7)"/>
<circle cx="1119" cy="661" r="13.6" fill="url(#rd7)"/>
<circle cx="503" cy="661" r="19.4" fill="url(#pu7)"/>
<circle cx="756" cy="661" r="19.4" fill="url(#pu7)"/>
<circle cx="361" cy="661" r="13.6" fill="url(#rd7)"/>
<circle cx="793" cy="661" r="13.6" fill="url(#rd7)"/>
<circle cx="430" cy="661" r="19.4" fill="url(#pu7)"/>
<circle cx="1189" cy="661" r="19.4" fill="url(#pu7)"/>
<circle cx="972" cy="661" r="19.4" fill="url(#pu7)"/>
<circle cx="467" cy="662" r="13.6" fill="url(#rd7)"/>
<circle cx="396" cy="662" r="19.4" fill="url(#pu7)"/>
<circle cx="829" cy="663" r="19.4" fill="url(#pu7)"/>
<circle cx="1081" cy="663" r="19.4" fill="url(#pu7)"/>
<circle cx="540" cy="663" r="19.4" fill="url(#pu7)"/>
<circle cx="646" cy="663" r="19.4" fill="url(#pu7)"/>
<circle cx="683" cy="663" r="13.6" fill="url(#rd7)"/>
<circle cx="902" cy="663" r="13.6" fill="url(#rd7)"/>
<circle cx="1260" cy="663" r="19.4" fill="url(#pu7)"/>
<circle cx="1009" cy="664" r="13.6" fill="url(#rd7)"/>
<circle cx="1150" cy="664" r="19.4" fill="url(#pu7)"/>
<circle cx="577" cy="664" r="13.6" fill="url(#rd7)"/>
<circle cx="938" cy="664" r="19.4" fill="url(#pu7)"/>
<circle cx="288" cy="664" r="19.4" fill="url(#pu7)"/>
<circle cx="323" cy="665" r="19.4" fill="url(#pu7)"/>
<circle cx="718" cy="665" r="19.4" fill="url(#pu7)"/>
<circle cx="1225" cy="666" r="13.6" fill="url(#rd7)"/>
<circle cx="611" cy="666" r="19.4" fill="url(#pu7)"/>
<circle cx="865" cy="666" r="19.4" fill="url(#pu7)"/>
<circle cx="1047" cy="666" r="19.4" fill="url(#pu7)"/>
<circle cx="932" cy="682" r="20" fill="url(#pu7)"/>
<circle cx="785" cy="682" r="20" fill="url(#pu7)"/>
<circle cx="752" cy="683" r="14" fill="url(#rd7)"/>
<circle cx="1144" cy="683" r="20" fill="url(#pu7)"/>
<circle cx="391" cy="683" r="20" fill="url(#pu7)"/>
<circle cx="281" cy="683" r="20" fill="url(#pu7)"/>
<circle cx="606" cy="683" r="20" fill="url(#pu7)"/>
<circle cx="825" cy="683" r="20" fill="url(#pu7)"/>
<circle cx="968" cy="683" r="14" fill="url(#rd7)"/>
<circle cx="462" cy="683" r="20" fill="url(#pu7)"/>
<circle cx="1003" cy="684" r="20" fill="url(#pu7)"/>
<circle cx="1074" cy="684" r="14" fill="url(#rd7)"/>
<circle cx="321" cy="684" r="14" fill="url(#rd7)"/>
<circle cx="859" cy="684" r="14" fill="url(#rd7)"/>
<circle cx="533" cy="684" r="14" fill="url(#rd7)"/>
<circle cx="501" cy="684" r="20" fill="url(#pu7)"/>
<circle cx="429" cy="684" r="14" fill="url(#rd7)"/>
<circle cx="1037" cy="685" r="20" fill="url(#pu7)"/>
<circle cx="676" cy="685" r="20" fill="url(#pu7)"/>
<circle cx="1221" cy="685" r="20" fill="url(#pu7)"/>
<circle cx="1290" cy="685" r="14" fill="url(#rd7)"/>
<circle cx="1112" cy="685" r="20" fill="url(#pu7)"/>
<circle cx="895" cy="685" r="20" fill="url(#pu7)"/>
<circle cx="568" cy="685" r="20" fill="url(#pu7)"/>
<circle cx="1252" cy="686" r="20" fill="url(#pu7)"/>
<circle cx="644" cy="686" r="14" fill="url(#rd7)"/>
<circle cx="357" cy="687" r="20" fill="url(#pu7)"/>
<circle cx="1182" cy="687" r="14" fill="url(#rd7)"/>
<circle cx="713" cy="687" r="20" fill="url(#pu7)"/>
<circle cx="1105" cy="703" r="14.4" fill="url(#rd7)"/>
<circle cx="854" cy="703" r="20.6" fill="url(#pu7)"/>
<circle cx="1174" cy="703" r="20.6" fill="url(#pu7)"/>
<circle cx="674" cy="703" r="14.4" fill="url(#rd7)"/>
<circle cx="1251" cy="703" r="20.6" fill="url(#pu7)"/>
<circle cx="962" cy="703" r="20.6" fill="url(#pu7)"/>
<circle cx="531" cy="703" r="20.6" fill="url(#pu7)"/>
<circle cx="1068" cy="703" r="20.6" fill="url(#pu7)"/>
<circle cx="351" cy="704" r="14.4" fill="url(#rd7)"/>
<circle cx="891" cy="704" r="14.4" fill="url(#rd7)"/>
<circle cx="1284" cy="704" r="20.6" fill="url(#pu7)"/>
<circle cx="600" cy="704" r="20.6" fill="url(#pu7)"/>
<circle cx="1138" cy="705" r="20.6" fill="url(#pu7)"/>
<circle cx="312" cy="705" r="20.6" fill="url(#pu7)"/>
<circle cx="458" cy="705" r="14.4" fill="url(#rd7)"/>
<circle cx="1321" cy="705" r="14.4" fill="url(#rd7)"/>
<circle cx="564" cy="706" r="14.4" fill="url(#rd7)"/>
<circle cx="634" cy="706" r="20.6" fill="url(#pu7)"/>
<circle cx="1030" cy="706" r="20.6" fill="url(#pu7)"/>
<circle cx="242" cy="706" r="14.4" fill="url(#rd7)"/>
<circle cx="746" cy="706" r="20.6" fill="url(#pu7)"/>
<circle cx="778" cy="707" r="14.4" fill="url(#rd7)"/>
<circle cx="1213" cy="707" r="14.4" fill="url(#rd7)"/>
<circle cx="491" cy="707" r="20.6" fill="url(#pu7)"/>
<circle cx="707" cy="707" r="20.6" fill="url(#pu7)"/>
<circle cx="383" cy="707" r="20.6" fill="url(#pu7)"/>
<circle cx="418" cy="708" r="20.6" fill="url(#pu7)"/>
<circle cx="276" cy="708" r="20.6" fill="url(#pu7)"/>
<circle cx="995" cy="708" r="14.4" fill="url(#rd7)"/>
<circle cx="925" cy="708" r="20.6" fill="url(#pu7)"/>
<circle cx="819" cy="708" r="20.6" fill="url(#pu7)"/>
<circle cx="1348" cy="724" r="21.2" fill="url(#pu7)"/>
<circle cx="917" cy="724" r="21.2" fill="url(#pu7)"/>
<circle cx="664" cy="724" r="21.2" fill="url(#pu7)"/>
<circle cx="487" cy="724" r="21.2" fill="url(#pu7)"/>
<circle cx="1134" cy="724" r="21.2" fill="url(#pu7)"/>
<circle cx="992" cy="724" r="21.2" fill="url(#pu7)"/>
<circle cx="844" cy="724" r="14.8" fill="url(#rd7)"/>
<circle cx="560" cy="725" r="21.2" fill="url(#pu7)"/>
<circle cx="703" cy="725" r="21.2" fill="url(#pu7)"/>
<circle cx="1061" cy="725" r="14.8" fill="url(#rd7)"/>
<circle cx="1099" cy="726" r="21.2" fill="url(#pu7)"/>
<circle cx="1027" cy="726" r="21.2" fill="url(#pu7)"/>
<circle cx="521" cy="726" r="14.8" fill="url(#rd7)"/>
<circle cx="237" cy="726" r="21.2" fill="url(#pu7)"/>
<circle cx="1316" cy="726" r="21.2" fill="url(#pu7)"/>
<circle cx="1208" cy="726" r="21.2" fill="url(#pu7)"/>
<circle cx="741" cy="726" r="14.8" fill="url(#rd7)"/>
<circle cx="1245" cy="727" r="21.2" fill="url(#pu7)"/>
<circle cx="413" cy="727" r="14.8" fill="url(#rd7)"/>
<circle cx="1279" cy="727" r="14.8" fill="url(#rd7)"/>
<circle cx="379" cy="727" r="21.2" fill="url(#pu7)"/>
<circle cx="304" cy="727" r="14.8" fill="url(#rd7)"/>
<circle cx="1172" cy="727" r="14.8" fill="url(#rd7)"/>
<circle cx="596" cy="727" r="21.2" fill="url(#pu7)"/>
<circle cx="957" cy="727" r="14.8" fill="url(#rd7)"/>
<circle cx="628" cy="728" r="14.8" fill="url(#rd7)"/>
<circle cx="885" cy="728" r="21.2" fill="url(#pu7)"/>
<circle cx="268" cy="728" r="21.2" fill="url(#pu7)"/>
<circle cx="808" cy="728" r="21.2" fill="url(#pu7)"/>
<circle cx="449" cy="728" r="21.2" fill="url(#pu7)"/>
<circle cx="773" cy="728" r="21.2" fill="url(#pu7)"/>
<circle cx="343" cy="729" r="21.2" fill="url(#pu7)"/>
<circle cx="266" cy="745" r="21.8" fill="url(#pu7)"/>
<circle cx="1203" cy="745" r="15.2" fill="url(#rd7)"/>
<circle cx="875" cy="745" r="15.2" fill="url(#rd7)"/>
<circle cx="191" cy="745" r="21.8" fill="url(#pu7)"/>
<circle cx="1272" cy="745" r="21.8" fill="url(#pu7)"/>
<circle cx="911" cy="745" r="21.8" fill="url(#pu7)"/>
<circle cx="372" cy="745" r="21.8" fill="url(#pu7)"/>
<circle cx="483" cy="745" r="21.8" fill="url(#pu7)"/>
<circle cx="406" cy="745" r="21.8" fill="url(#pu7)"/>
<circle cx="842" cy="745" r="21.8" fill="url(#pu7)"/>
<circle cx="1090" cy="746" r="15.2" fill="url(#rd7)"/>
<circle cx="515" cy="746" r="21.8" fill="url(#pu7)"/>
<circle cx="1020" cy="746" r="21.8" fill="url(#pu7)"/>
<circle cx="550" cy="746" r="15.2" fill="url(#rd7)"/>
<circle cx="984" cy="746" r="15.2" fill="url(#rd7)"/>
<circle cx="1345" cy="747" r="21.8" fill="url(#pu7)"/>
<circle cx="444" cy="747" r="15.2" fill="url(#rd7)"/>
<circle cx="337" cy="747" r="15.2" fill="url(#rd7)"/>
<circle cx="1165" cy="747" r="21.8" fill="url(#pu7)"/>
<circle cx="231" cy="747" r="15.2" fill="url(#rd7)"/>
<circle cx="587" cy="747" r="21.8" fill="url(#pu7)"/>
<circle cx="766" cy="749" r="15.2" fill="url(#rd7)"/>
<circle cx="698" cy="749" r="21.8" fill="url(#pu7)"/>
<circle cx="803" cy="749" r="21.8" fill="url(#pu7)"/>
<circle cx="1058" cy="749" r="21.8" fill="url(#pu7)"/>
<circle cx="1234" cy="749" r="21.8" fill="url(#pu7)"/>
<circle cx="300" cy="750" r="21.8" fill="url(#pu7)"/>
<circle cx="622" cy="750" r="21.8" fill="url(#pu7)"/>
<circle cx="660" cy="750" r="15.2" fill="url(#rd7)"/>
<circle cx="1130" cy="750" r="21.8" fill="url(#pu7)"/>
<circle cx="732" cy="750" r="21.8" fill="url(#pu7)"/>
<circle cx="948" cy="750" r="21.8" fill="url(#pu7)"/>
<circle cx="1309" cy="750" r="15.2" fill="url(#rd7)"/>
<circle cx="290" cy="778" r="13" fill="url(#pi7)"/>
<circle cx="468" cy="782" r="13" fill="url(#pi7)"/>
<circle cx="652" cy="785" r="13" fill="url(#pi7)"/>
<circle cx="835" cy="785" r="13" fill="url(#pi7)"/>
<circle cx="1020" cy="787" r="13" fill="url(#pi7)"/>
<circle cx="1208" cy="787" r="13" fill="url(#pi7)"/>
<circle cx="322" cy="757" r="13" fill="url(#pi7)"/>
<circle cx="495" cy="757" r="13" fill="url(#pi7)"/>
<circle cx="835" cy="760" r="13" fill="url(#pi7)"/>
<circle cx="1005" cy="760" r="13" fill="url(#pi7)"/>
<circle cx="1185" cy="760" r="13" fill="url(#pi7)"/>
<path d="M440 345 C520 470 740 450 828 300 L806 290 C740 400 570 412 478 336Z" fill="#5aa838"/>
<polygon points="848,270 788,296 858,322" fill="#5aa838"/>
<path d="M442 905 C455 715 760 700 862 858 L842 872 C760 765 525 775 490 905Z" fill="#5aa838"/>
<polygon points="812,868 895,850 866,908" fill="#5aa838"/>
<line x1="365" y1="322" x2="478" y2="322" stroke="#333" stroke-width="7"/><circle cx="365" cy="322" r="15" fill="url(#rd7)"/><circle cx="422" cy="322" r="15" fill="url(#bk7)"/><circle cx="478" cy="322" r="15" fill="url(#rd7)"/>
<line x1="760" y1="268" x2="818" y2="266" stroke="#333" stroke-width="7"/><circle cx="760" cy="268" r="16" fill="url(#rd7)"/><circle cx="818" cy="266" r="17" fill="url(#bk7)"/>
<path d="M920 308 L900 272 M920 308 L965 296 M920 308 L882 334 M920 308 L945 338" stroke="#30c8e0" stroke-width="7"/>
<circle cx="900" cy="272" r="12" fill="url(#cy7)"/>
<circle cx="965" cy="296" r="12" fill="url(#cy7)"/>
<circle cx="882" cy="334" r="12" fill="url(#cy7)"/>
<circle cx="945" cy="338" r="12" fill="url(#cy7)"/>
<circle cx="920" cy="308" r="17" fill="url(#bk7)"/>
<path d="M376 858 L325 884 M376 858 L420 892" stroke="#30c8e0" stroke-width="7"/><circle cx="322" cy="885" r="11" fill="url(#cy7)"/><circle cx="422" cy="893" r="11" fill="url(#cy7)"/><circle cx="376" cy="858" r="20" fill="url(#rd7)"/>
<line x1="918" y1="880" x2="975" y2="880" stroke="#e01020" stroke-width="8"/><circle cx="916" cy="880" r="16" fill="url(#rd7)"/><circle cx="976" cy="880" r="16" fill="url(#rd7)"/>
<rect x="50" y="955" width="1478" height="60" fill="#fff"/>
<text x="283" y="998" font-size="36" fill="#222" font-weight="bold" class="sf">Cs</text>
<circle cx="368" cy="986" r="22" fill="url(#yl7)"/>
<text x="415" y="998" font-size="36" fill="#222" font-weight="bold" class="sf">Pb</text>
<circle cx="500" cy="986" r="22" fill="url(#br7)"/>
<text x="540" y="998" font-size="36" fill="#222" font-weight="bold" class="sf">Ni</text>
<circle cx="627" cy="986" r="22" fill="url(#gn7)"/>
<text x="670" y="998" font-size="36" fill="#222" font-weight="bold" class="sf">Br</text>
<circle cx="755" cy="986" r="22" fill="url(#pi7)"/>
<text x="800" y="998" font-size="36" fill="#222" font-weight="bold" class="sf">Bi</text>
<circle cx="885" cy="986" r="22" fill="url(#pu7)"/>
<text x="935" y="998" font-size="36" fill="#222" font-weight="bold" class="sf">O</text>
<circle cx="1015" cy="986" r="22" fill="url(#rd7)"/>
<text x="1065" y="998" font-size="36" fill="#222" font-weight="bold" class="sf">C</text>
<circle cx="1143" cy="986" r="22" fill="url(#bk7)"/>
<text x="1192" y="998" font-size="36" fill="#222" font-weight="bold" class="sf">H</text>
<circle cx="1273" cy="986" r="22" fill="url(#cy7)"/>
</g>
<rect x="50" y="50" width="1478" height="962" rx="112" ry="112" fill="none" stroke="#9a9aa8" stroke-width="4"/>
</g>
<rect x="1173" y="1135.4" width="311.7" height="212.5" rx="32" ry="32" fill="none" stroke="#8e8e8e" stroke-width="1.5" stroke-dasharray="6.9 5"/>
<g transform="translate(1160,1125) scale(0.21601)">
<defs>
<radialGradient id="y8" cx="0.5" cy="0.5" r="0.5"><stop offset="0" stop-color="#ffc000"/><stop offset="0.8" stop-color="#ffc000"/><stop offset="1" stop-color="#ffd860" stop-opacity="0.5"/></radialGradient>
<radialGradient id="s8" cx="0.5" cy="0.5" r="0.5"><stop offset="0" stop-color="#f8a888"/><stop offset="0.7" stop-color="#f8b898"/><stop offset="1" stop-color="#fbd0b8" stop-opacity="0.8"/></radialGradient>
</defs>
<ellipse cx="800" cy="650" rx="138" ry="290" fill="url(#s8)" stroke="#f8c0a8" stroke-width="3" transform="rotate(5 800 650)"/>
<ellipse cx="592" cy="530" rx="132" ry="250" fill="url(#y8)"/>
<line x1="405" y1="908" x2="405" y2="225" stroke="#111" stroke-width="8"/>
<polygon points="405,198 417,232 393,232" fill="#111"/>
<line x1="405" y1="288" x2="388" y2="288" stroke="#111" stroke-width="4"/>
<text x="382" y="299" font-size="34" fill="#333" text-anchor="end" class="sf">-2</text>
<line x1="405" y1="403" x2="388" y2="403" stroke="#111" stroke-width="4"/>
<text x="382" y="414" font-size="34" fill="#333" text-anchor="end" class="sf">-1</text>
<line x1="405" y1="522" x2="388" y2="522" stroke="#111" stroke-width="4"/>
<text x="382" y="533" font-size="34" fill="#333" text-anchor="end" class="sf">0</text>
<line x1="405" y1="640" x2="388" y2="640" stroke="#111" stroke-width="4"/>
<text x="382" y="651" font-size="34" fill="#333" text-anchor="end" class="sf">1</text>
<line x1="405" y1="758" x2="388" y2="758" stroke="#111" stroke-width="4"/>
<text x="382" y="769" font-size="34" fill="#333" text-anchor="end" class="sf">2</text>
<line x1="405" y1="873" x2="388" y2="873" stroke="#111" stroke-width="4"/>
<text x="382" y="884" font-size="34" fill="#333" text-anchor="end" class="sf">3</text>
<text class="sf" transform="translate(324,565) rotate(-90)" text-anchor="middle" font-size="34" fill="#333" textLength="395" lengthAdjust="spacingAndGlyphs">Potential vs.NHE（V）</text>
<path d="M415 358 H500 M415 700 H500 M430 492 H1005 M410 817 H975 M420 850 H700" stroke="#888" stroke-width="2.5" stroke-dasharray="5 4" fill="none"/>
<path d="M415 440 H735" stroke="#e09040" stroke-width="2.5" stroke-dasharray="5 4" fill="none"/>
<path d="M500 358 H675 M500 700 H680 M730 450 H895 M695 848 H905" stroke="#222" stroke-width="4" fill="none"/>
<line x1="583" y1="692" x2="583" y2="385" stroke="#333" stroke-width="4" stroke-dasharray="16 9"/>
<polygon points="583,362 591,384 575,384" fill="#222"/>
<line x1="805" y1="842" x2="805" y2="478" stroke="#333" stroke-width="4" stroke-dasharray="16 9"/>
<polygon points="805,454 813,476 797,476" fill="#222"/>
<path d="M596 688 L676 592 L670 586 L694 580 L690 605 L684 598 L604 694Z" fill="#fff8d0" stroke="#6a7a30" stroke-width="3"/>
<path d="M768 458 L694 560 L700 566 L680 574 L682 550 L688 556 L760 452Z" fill="#fff8d0" stroke="#6a7a30" stroke-width="3"/>
<path d="M485 215 C530 290 690 300 735 175" fill="none" stroke="#1565c0" stroke-width="14"/><polygon points="750,140 752.8,179.71 721.11,167.39" fill="#1565c0"/>
<path d="M715 252 C720 330 830 390 905 345" fill="none" stroke="#1565c0" stroke-width="10"/><polygon points="925,328 908.14,356.49 892.33,333.38" fill="#1565c0"/>
<path d="M975 296 C970 380 1060 430 1125 398" fill="none" stroke="#1565c0" stroke-width="10"/><polygon points="1147,388 1126.08,413.66 1113.9,388.44" fill="#1565c0"/>
<path d="M842 985 C825 905 930 855 1005 905" fill="none" stroke="#1565c0" stroke-width="12"/><polygon points="1025,925 987.72,911.02 1012.11,887.33" fill="#1565c0"/>
<polygon points="1057.2,160 1002.06,180.77 1030.95,232.12 975.36,212.59 964.48,270.5 934.46,219.8 888.9,257.17 898.49,199.03 839.57,198.37 884.28,160 839.57,121.63 898.49,120.97 888.9,62.83 934.46,100.2 964.48,49.5 975.36,107.41 1030.95,87.88 1002.06,139.23" fill="#ffc800"/>
<circle cx="945" cy="160" r="66" fill="#ffa800"/>
<circle cx="945" cy="160" r="39.6" fill="#ff9800" opacity="0.55"/>
<text x="945" y="178" font-size="44" fill="#7a2090" text-anchor="middle" font-weight="bold" class="sf" textLength="155" lengthAdjust="spacingAndGlyphs">UV-Vis</text>
<text x="423" y="350" font-size="34.57" fill="#333" class="sf" textLength="72" lengthAdjust="spacingAndGlyphs">-1.31</text>
<text x="416" y="442" font-size="44.17" fill="#333" class="sf" textLength="92" lengthAdjust="spacingAndGlyphs">-0.88</text>
<text x="416" y="682" font-size="40" fill="#333" class="sf" textLength="70" lengthAdjust="spacingAndGlyphs">1.47</text>
<text x="433" y="840" font-size="42.86" fill="#333" class="sf" textLength="75" lengthAdjust="spacingAndGlyphs">2.72</text>
<text x="538" y="354" font-size="45.75" fill="#222" class="sf" textLength="135" lengthAdjust="spacingAndGlyphs">e<tspan dy="-0.55em" font-size="62%">-</tspan><tspan dy="0.55em" font-size="62%">&#8203;</tspan>  e<tspan dy="-0.55em" font-size="62%">-</tspan><tspan dy="0.55em" font-size="62%">&#8203;</tspan>  e<tspan dy="-0.55em" font-size="62%">-</tspan><tspan dy="0.55em" font-size="62%">&#8203;</tspan></text>
<text x="536" y="732" font-size="50.02" fill="#222" class="sf" textLength="140" lengthAdjust="spacingAndGlyphs">h<tspan dy="-0.55em" font-size="62%">+</tspan><tspan dy="0.55em" font-size="62%">&#8203;</tspan> h<tspan dy="-0.55em" font-size="62%">+</tspan><tspan dy="0.55em" font-size="62%">&#8203;</tspan>h<tspan dy="-0.55em" font-size="62%">+</tspan><tspan dy="0.55em" font-size="62%">&#8203;</tspan></text>
<text x="756" y="442" font-size="40" fill="#f01020" class="sf">e<tspan dy="-0.55em" font-size="62%">-</tspan><tspan dy="0.55em" font-size="62%">&#8203;</tspan></text>
<text x="825" y="442" font-size="40" fill="#f01020" class="sf">e<tspan dy="-0.55em" font-size="62%">-</tspan><tspan dy="0.55em" font-size="62%">&#8203;</tspan></text>
<text x="743" y="888" font-size="42" fill="#f01020" class="sf">h<tspan dy="-0.55em" font-size="62%">+</tspan><tspan dy="0.55em" font-size="62%">&#8203;</tspan></text>
<text x="826" y="888" font-size="42" fill="#f01020" class="sf">h<tspan dy="-0.55em" font-size="62%">+</tspan><tspan dy="0.55em" font-size="62%">&#8203;</tspan></text>
<text x="482" y="197" font-size="45.6" fill="#333" class="sf" textLength="80" lengthAdjust="spacingAndGlyphs">H<tspan dy="0.3em" font-size="62%">2</tspan><tspan dy="-0.3em" font-size="62%">&#8203;</tspan>O</text>
<text x="750" y="142" font-size="43.6" fill="#333" class="sf" textLength="45" lengthAdjust="spacingAndGlyphs">H<tspan dy="0.3em" font-size="62%">2</tspan><tspan dy="-0.3em" font-size="62%">&#8203;</tspan></text>
<text x="733" y="288" font-size="38.75" fill="#333" class="sf" textLength="40" lengthAdjust="spacingAndGlyphs">O<tspan dy="0.3em" font-size="62%">2</tspan><tspan dy="-0.3em" font-size="62%">&#8203;</tspan></text>
<text x="898" y="308" font-size="39.45" fill="#333" class="sf" textLength="62" lengthAdjust="spacingAndGlyphs">·O<tspan dy="0.3em" font-size="62%">2</tspan><tspan dy="-0.3em" font-size="62%">&#8203;</tspan><tspan dy="-0.55em" font-size="62%">-</tspan><tspan dy="0.55em" font-size="62%">&#8203;</tspan></text>
<text x="995" y="352" font-size="37.56" fill="#333" class="sf" textLength="48" lengthAdjust="spacingAndGlyphs">TC</text>
<text x="1155" y="390" font-size="39.45" fill="#333" class="sf" textLength="195" lengthAdjust="spacingAndGlyphs">Degradation</text>
<text x="1165" y="434" font-size="39.2" fill="#333" class="sf" textLength="135" lengthAdjust="spacingAndGlyphs">products</text>
<text x="1022" y="500" font-size="45.11" fill="#333" class="sf" textLength="130" lengthAdjust="spacingAndGlyphs">O<tspan dy="0.3em" font-size="62%">2</tspan><tspan dy="-0.3em" font-size="62%">&#8203;</tspan>/·O<tspan dy="0.3em" font-size="62%">2</tspan><tspan dy="-0.3em" font-size="62%">&#8203;</tspan><tspan dy="-0.55em" font-size="62%">-</tspan><tspan dy="0.55em" font-size="62%">&#8203;</tspan></text>
<text x="990" y="824" font-size="43.31" fill="#333" class="sf" textLength="165" lengthAdjust="spacingAndGlyphs">H<tspan dy="0.3em" font-size="62%">2</tspan><tspan dy="-0.3em" font-size="62%">&#8203;</tspan>O/·OH</text>
<text x="835" y="1014" font-size="36" fill="#333" class="sf" textLength="46" lengthAdjust="spacingAndGlyphs">TC</text>
<text x="960" y="960" font-size="39.45" fill="#333" class="sf" textLength="195" lengthAdjust="spacingAndGlyphs">Degradation</text>
<text x="972" y="1006" font-size="39.2" fill="#333" class="sf" textLength="135" lengthAdjust="spacingAndGlyphs">products</text>
</g>
</svg>
</body>
</html>
